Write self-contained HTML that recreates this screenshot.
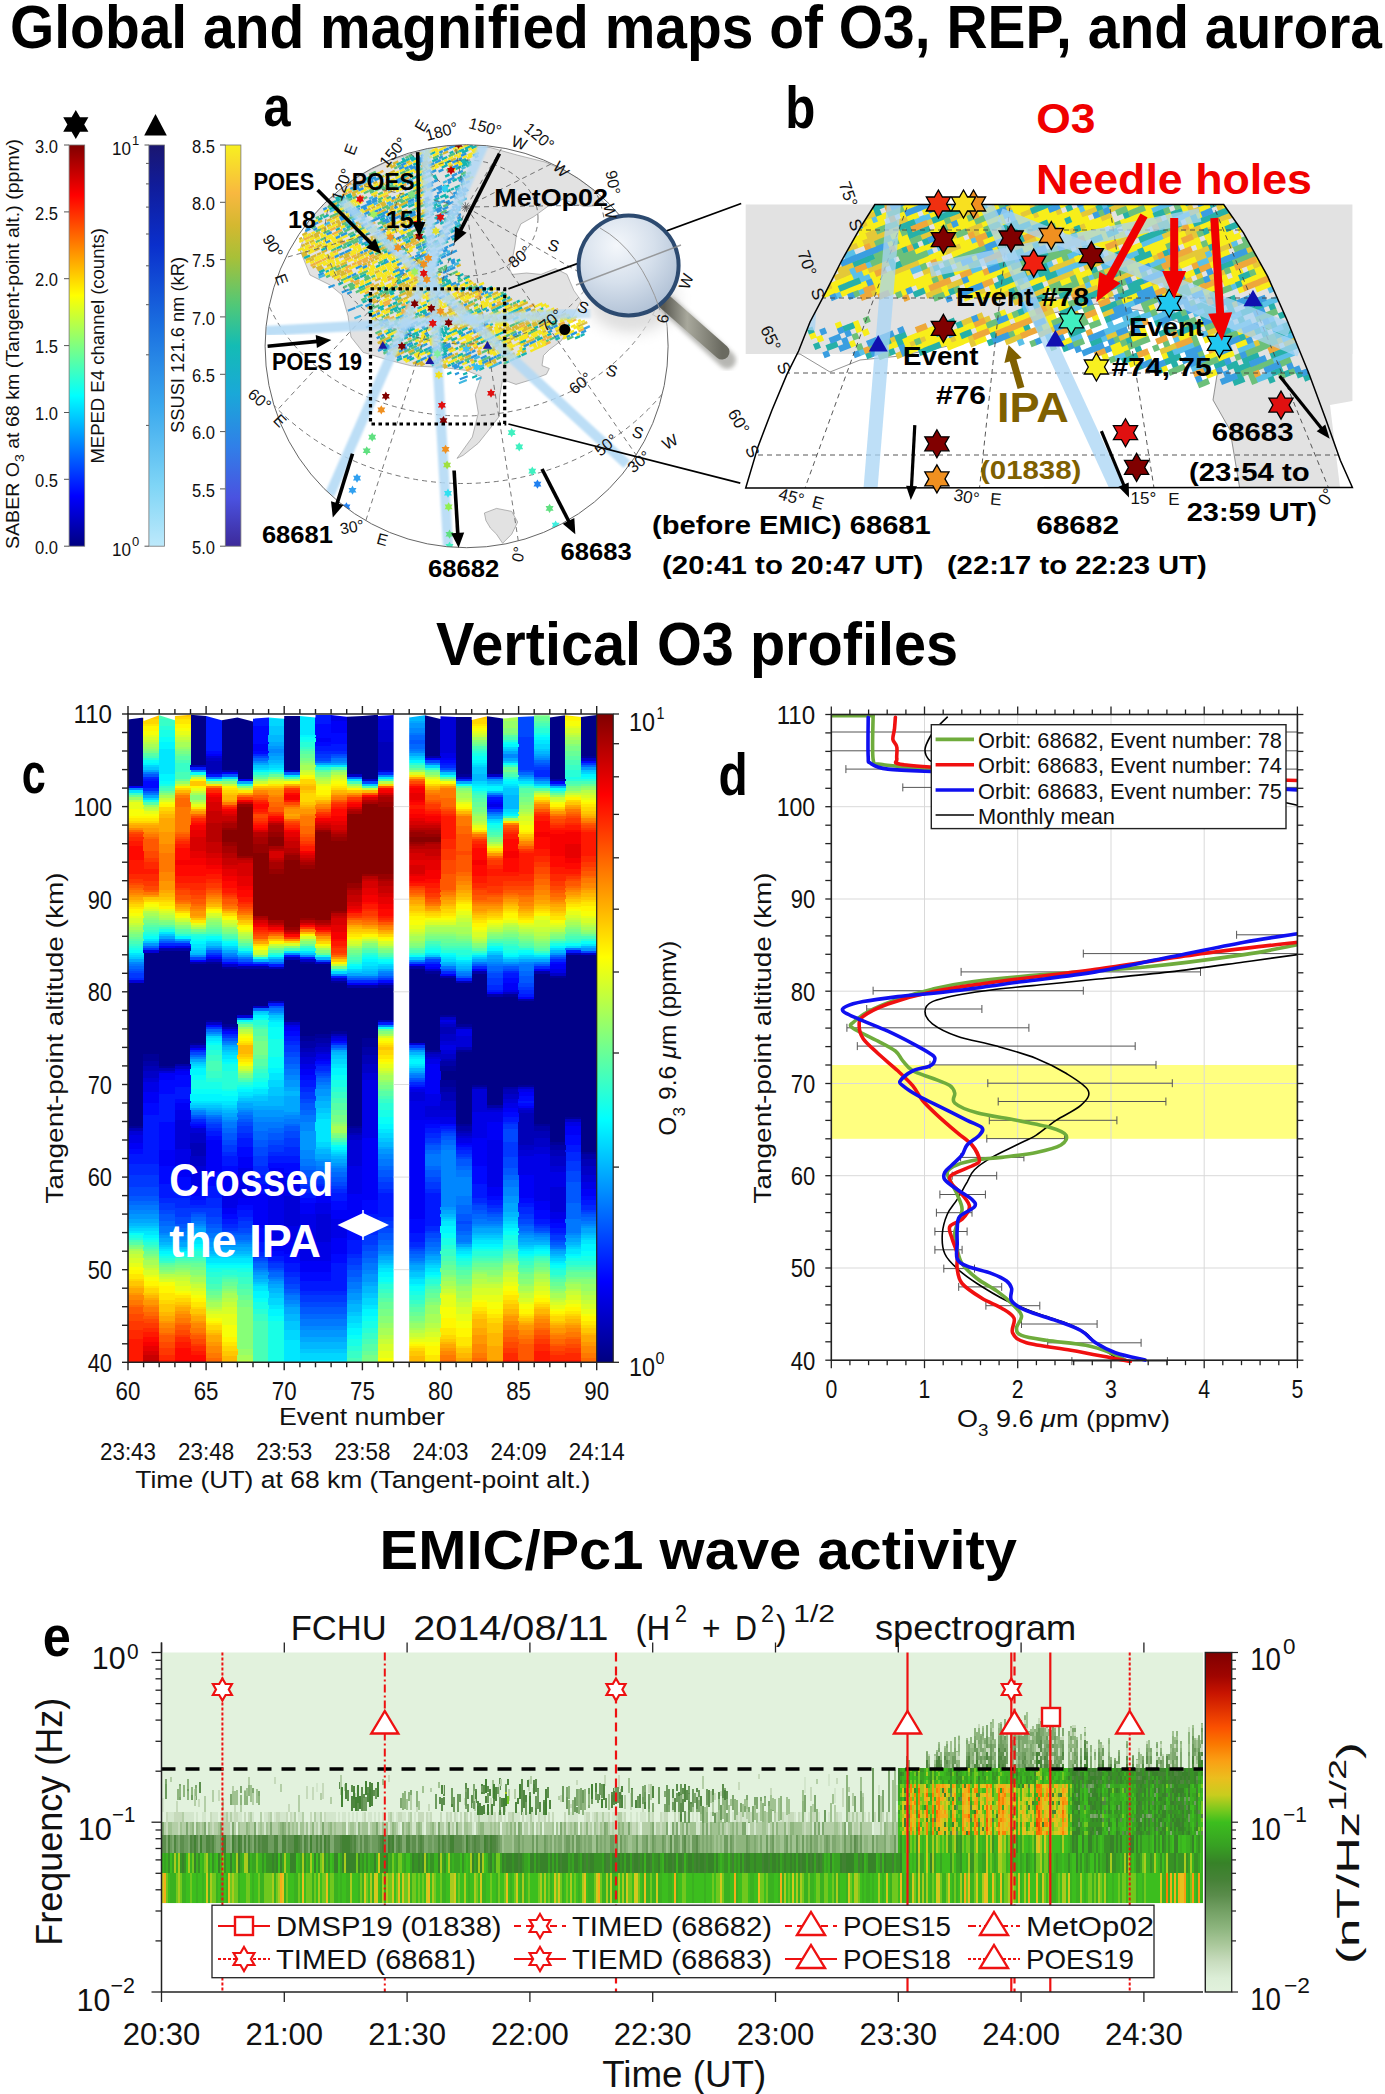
<!DOCTYPE html>
<html><head><meta charset="utf-8"><title>Figure</title><style>html,body{margin:0;padding:0;background:#fff;}svg{display:block;font-family:"Liberation Sans",sans-serif;}</style></head><body>
<svg width="1385" height="2094" viewBox="0 0 1385 2094" font-family="'Liberation Sans', sans-serif">
<rect width="1385" height="2094" fill="#fff"/>
<text x="10.0" y="48.0" font-size="62.0" font-weight="bold" fill="#000" textLength="1372.0" lengthAdjust="spacingAndGlyphs">Global and magnified maps of O3, REP, and aurora</text>
<text x="436.0" y="664.7" font-size="62.0" font-weight="bold" fill="#000" textLength="522.0" lengthAdjust="spacingAndGlyphs">Vertical O3 profiles</text>
<text x="379.6" y="1569.0" font-size="55.0" font-weight="bold" fill="#000" textLength="637.4" lengthAdjust="spacingAndGlyphs">EMIC/Pc1 wave activity</text>
<defs>
<pattern id="pa1" patternUnits="userSpaceOnUse" width="40" height="40" patternTransform="rotate(-25)"><path fill="#2a9fd8" d="M10 22h5v3h-5zM39 17h7v2h-7zM7 34h8v3h-8zM38 36h6v2h-6zM35 18h5v2h-5zM28 37h8v3h-8zM37 32h7v2h-7zM35 2h5v2h-5zM32 25h6v2h-6zM35 32h7v3h-7zM6 28h7v3h-7zM24 19h7v3h-7zM6 13h7v3h-7zM11 15h7v2h-7zM0 31h7v2h-7zM18 8h6v2h-6zM35 28h5v3h-5zM37 34h6v3h-6zM36 29h5v2h-5zM7 30h7v3h-7zM19 11h5v3h-5zM3 16h8v2h-8z"/><path fill="#f2d91c" d="M3 1h7v2h-7zM37 35h4v2h-4zM29 8h7v3h-7zM8 32h7v2h-7zM28 17h7v2h-7zM17 34h6v2h-6zM27 38h7v2h-7zM30 24h5v2h-5zM6 26h6v2h-6zM8 36h4v2h-4z"/><path fill="#3cb4a0" d="M40 19h7v2h-7zM27 37h7v3h-7zM25 19h7v2h-7zM18 34h5v2h-5zM37 9h7v3h-7zM1 30h5v2h-5zM10 19h4v3h-4zM1 34h4v3h-4zM30 37h6v2h-6zM9 28h8v2h-8zM19 29h7v2h-7zM38 19h5v2h-5zM10 35h5v2h-5zM31 30h5v3h-5zM32 11h7v3h-7zM21 5h6v2h-6zM27 23h5v3h-5zM11 4h4v3h-4zM22 23h7v3h-7zM12 34h6v3h-6zM20 28h6v2h-6zM25 14h4v2h-4zM28 15h6v2h-6z"/><path fill="#7cc85a" d="M6 25h7v3h-7zM3 34h8v2h-8zM8 21h7v2h-7zM35 37h5v3h-5zM4 24h4v2h-4zM31 20h7v2h-7zM10 7h5v3h-5zM3 20h8v2h-8zM21 23h5v2h-5zM37 29h7v2h-7zM24 9h4v2h-4zM37 15h6v2h-6zM39 9h6v2h-6z"/><path fill="#1fb0b5" d="M27 3h7v3h-7zM29 37h6v3h-6zM2 25h4v3h-4zM35 39h6v3h-6zM3 24h4v2h-4zM24 6h4v3h-4zM20 17h7v2h-7zM39 21h6v2h-6zM10 18h6v2h-6zM13 15h6v2h-6zM31 1h6v3h-6zM9 32h5v2h-5zM12 32h5v2h-5zM21 17h8v3h-8zM10 34h6v3h-6zM3 20h5v2h-5zM26 23h5v2h-5zM7 15h6v3h-6zM21 28h4v2h-4zM16 15h6v2h-6zM7 11h5v3h-5zM1 19h6v2h-6zM13 31h5v3h-5zM3 4h7v2h-7zM23 27h4v2h-4zM19 8h6v3h-6zM35 36h4v3h-4zM29 30h6v3h-6zM10 31h5v2h-5zM1 32h8v3h-8zM5 32h6v2h-6zM9 3h6v3h-6zM20 2h4v2h-4zM11 32h6v3h-6zM10 11h7v3h-7zM26 36h5v3h-5zM32 37h8v2h-8zM18 36h7v2h-7zM24 33h5v3h-5z"/><path fill="#f0b030" d="M1 35h6v3h-6zM16 6h5v3h-5zM28 4h5v2h-5zM5 5h4v3h-4zM37 2h5v3h-5zM7 8h6v3h-6zM24 38h4v2h-4zM9 34h7v3h-7zM33 25h7v3h-7zM14 24h6v2h-6z"/><path fill="#40c0d0" d="M15 14h6v3h-6zM26 24h6v3h-6zM38 35h8v2h-8zM24 11h7v2h-7zM10 7h7v3h-7zM7 36h7v2h-7zM26 18h6v3h-6zM5 16h5v3h-5z"/><path fill="#f5e61e" d="M23 1h6v3h-6zM32 26h7v2h-7zM17 16h8v2h-8zM21 12h5v2h-5zM17 19h7v2h-7zM5 22h7v2h-7zM2 4h4v3h-4zM33 38h6v3h-6zM19 26h8v2h-8zM22 5h5v3h-5zM26 18h5v2h-5zM22 31h5v3h-5zM4 2h4v2h-4zM12 19h7v2h-7zM6 18h5v2h-5zM16 7h4v2h-4zM28 2h6v2h-6zM39 9h4v2h-4zM4 27h8v3h-8zM1 4h5v2h-5zM1 19h7v3h-7zM4 3h7v2h-7zM24 32h6v2h-6z"/><path fill="#1e88d0" d="M30 1h4v3h-4zM3 33h4v2h-4z"/></pattern>
<pattern id="pa2" patternUnits="userSpaceOnUse" width="40" height="40" patternTransform="rotate(-25)"><path fill="#f5e61e" d="M29 3h5v2h-5zM31 39h4v2h-4zM24 3h4v2h-4zM37 35h6v2h-6zM40 24h5v3h-5zM29 21h6v2h-6z"/><path fill="#3cb4a0" d="M22 29h6v3h-6zM16 34h7v3h-7zM36 7h8v3h-8zM10 14h8v2h-8zM36 33h5v2h-5zM35 8h6v2h-6zM16 7h5v2h-5zM14 4h5v2h-5zM10 28h5v3h-5zM7 30h6v3h-6zM20 23h5v3h-5zM22 35h6v2h-6zM33 30h5v2h-5zM32 29h8v2h-8zM15 35h7v3h-7zM17 32h5v3h-5zM30 6h6v3h-6zM4 13h6v3h-6zM23 11h7v3h-7zM32 20h4v3h-4z"/><path fill="#2a9fd8" d="M9 14h8v2h-8zM35 39h6v3h-6zM17 38h8v3h-8zM15 6h5v2h-5zM22 14h7v2h-7zM1 26h8v3h-8zM27 37h7v3h-7zM18 38h5v2h-5zM28 36h4v3h-4zM11 38h8v2h-8zM33 35h4v3h-4zM23 19h6v2h-6zM27 21h7v2h-7zM18 6h6v2h-6zM11 5h6v3h-6zM26 11h8v2h-8zM21 35h8v3h-8zM2 34h6v3h-6zM28 14h5v3h-5zM18 27h4v3h-4zM33 7h5v2h-5zM40 3h4v2h-4zM36 5h6v3h-6zM16 8h5v2h-5zM15 34h7v2h-7zM23 4h6v3h-6zM33 8h4v3h-4zM28 23h6v2h-6zM16 23h4v2h-4zM8 20h5v2h-5zM30 7h7v2h-7zM8 6h8v3h-8zM0 3h7v2h-7zM11 28h5v2h-5zM13 39h4v3h-4zM18 32h5v2h-5z"/><path fill="#7cc85a" d="M3 9h5v3h-5zM9 8h4v3h-4zM25 3h6v3h-6zM39 28h4v2h-4zM19 7h7v2h-7zM30 20h8v3h-8z"/><path fill="#1fb0b5" d="M31 16h8v3h-8zM37 7h4v3h-4zM21 26h4v3h-4zM17 14h7v3h-7zM4 12h6v2h-6zM0 5h6v3h-6zM12 10h7v2h-7zM20 33h6v2h-6zM1 23h6v2h-6zM21 36h8v3h-8zM37 7h6v3h-6zM34 25h7v2h-7zM38 3h5v2h-5zM22 2h5v3h-5zM6 2h7v2h-7zM15 4h6v3h-6zM7 39h7v2h-7zM15 26h8v3h-8zM9 19h7v3h-7zM39 26h6v2h-6zM31 36h7v3h-7zM29 14h6v3h-6zM13 29h5v2h-5zM19 17h5v3h-5zM30 9h6v3h-6zM16 2h5v3h-5zM6 5h6v3h-6zM32 18h7v2h-7zM12 1h4v2h-4zM25 18h5v3h-5z"/><path fill="#40c0d0" d="M31 28h8v3h-8zM2 17h7v3h-7zM5 6h5v2h-5zM33 8h6v3h-6zM8 2h8v2h-8zM9 22h8v2h-8zM13 11h4v3h-4zM21 29h7v3h-7zM19 36h5v2h-5zM2 17h5v2h-5zM9 33h8v2h-8zM25 18h4v3h-4zM15 2h6v3h-6z"/><path fill="#f0b030" d="M35 32h5v2h-5zM32 10h5v3h-5zM22 16h5v2h-5zM13 1h5v3h-5z"/><path fill="#1e88d0" d="M2 8h7v2h-7zM21 7h5v3h-5zM3 8h8v3h-8zM5 1h7v3h-7zM15 13h5v3h-5zM37 34h7v2h-7zM9 33h8v2h-8zM12 36h8v3h-8zM11 13h8v2h-8zM23 20h5v2h-5z"/><path fill="#f2d91c" d="M17 14h4v3h-4zM11 5h5v3h-5zM9 15h6v2h-6zM17 25h7v2h-7zM1 37h6v3h-6z"/></pattern>
<pattern id="pa3" patternUnits="userSpaceOnUse" width="40" height="40" patternTransform="rotate(-25)"><path fill="#f2d91c" d="M15 40h4v2h-4zM10 37h6v2h-6zM37 17h7v3h-7zM30 38h6v2h-6zM29 4h7v2h-7zM36 37h6v2h-6zM22 16h5v2h-5zM22 19h6v2h-6zM9 7h8v2h-8zM31 12h7v2h-7zM33 27h4v2h-4zM23 20h7v3h-7zM3 22h5v3h-5zM34 2h5v2h-5zM14 20h7v3h-7zM26 19h5v3h-5zM5 32h8v3h-8zM28 9h7v3h-7zM27 8h6v3h-6zM39 15h7v3h-7zM3 39h6v2h-6zM3 24h5v2h-5zM12 37h8v2h-8zM28 8h7v3h-7zM23 12h5v3h-5zM4 39h6v3h-6zM12 13h8v2h-8zM5 9h8v2h-8zM38 39h7v2h-7zM27 1h7v2h-7zM38 30h5v2h-5zM30 21h5v3h-5zM15 26h4v2h-4zM11 21h6v2h-6zM19 28h4v3h-4z"/><path fill="#f5e61e" d="M0 28h7v3h-7zM27 12h6v2h-6zM5 25h4v3h-4zM2 10h6v3h-6zM7 4h5v3h-5zM35 23h5v2h-5zM29 30h5v3h-5zM17 13h6v3h-6zM11 3h8v2h-8zM38 9h8v2h-8zM8 37h5v3h-5zM14 7h5v2h-5zM31 18h7v2h-7zM34 15h5v2h-5zM34 34h8v3h-8zM30 25h7v3h-7zM5 29h7v3h-7zM24 16h8v2h-8zM20 21h6v3h-6zM18 28h5v2h-5zM22 23h4v2h-4zM23 10h7v3h-7zM30 9h8v2h-8zM10 34h7v3h-7zM37 28h6v3h-6zM12 5h5v3h-5zM14 25h5v3h-5zM18 26h7v3h-7zM1 32h6v3h-6zM6 34h7v3h-7zM33 0h6v2h-6zM12 33h5v2h-5zM14 35h6v2h-6zM25 33h5v2h-5zM22 17h4v2h-4zM36 9h8v3h-8zM4 37h4v3h-4zM2 38h5v2h-5zM34 33h7v2h-7zM6 22h5v3h-5zM23 22h7v2h-7zM26 36h7v3h-7zM28 25h8v2h-8zM6 0h8v2h-8zM6 30h4v2h-4zM33 23h4v3h-4zM14 40h7v3h-7zM2 18h8v2h-8zM12 36h5v2h-5zM6 21h5v3h-5zM34 23h5v3h-5zM5 1h6v3h-6zM18 11h6v3h-6zM10 36h5v2h-5zM20 10h5v2h-5zM18 15h4v3h-4zM38 26h5v2h-5zM26 33h6v3h-6zM7 10h7v2h-7zM21 28h5v3h-5zM18 30h6v2h-6zM19 1h5v3h-5z"/><path fill="#1fb0b5" d="M39 8h4v3h-4zM9 22h6v2h-6zM36 16h5v3h-5zM7 34h6v2h-6zM7 32h5v2h-5zM32 40h7v3h-7zM8 21h8v2h-8zM9 29h6v2h-6zM32 19h7v2h-7zM3 10h7v2h-7zM17 9h4v3h-4zM12 33h4v3h-4zM25 12h7v3h-7zM34 10h5v2h-5zM5 22h6v3h-6zM16 8h7v3h-7zM18 25h4v3h-4zM9 20h6v2h-6zM34 34h5v2h-5zM36 25h5v2h-5z"/><path fill="#2a9fd8" d="M31 20h7v2h-7zM20 38h4v2h-4zM10 19h5v2h-5zM9 9h5v3h-5zM20 17h5v2h-5zM5 34h6v3h-6zM26 18h7v3h-7zM38 18h6v2h-6zM2 32h5v2h-5zM27 15h6v2h-6zM11 8h7v3h-7zM1 11h7v3h-7zM7 28h5v2h-5zM14 26h8v3h-8zM10 36h5v2h-5zM11 32h4v2h-4zM10 15h6v2h-6zM30 24h6v2h-6zM25 39h6v3h-6z"/><path fill="#3cb4a0" d="M19 24h4v2h-4zM15 4h7v2h-7zM11 26h4v2h-4zM2 20h8v2h-8zM31 12h4v3h-4zM30 16h8v3h-8zM27 35h7v3h-7zM34 33h6v3h-6zM18 5h8v3h-8zM24 5h5v2h-5zM33 33h8v2h-8zM6 4h6v2h-6zM12 39h8v2h-8zM24 14h7v3h-7z"/><path fill="#7cc85a" d="M29 37h5v3h-5zM12 34h8v3h-8zM21 28h5v2h-5zM7 33h7v3h-7zM16 8h7v2h-7zM21 11h8v3h-8zM17 35h6v2h-6zM39 0h5v2h-5zM18 36h7v2h-7zM38 25h8v3h-8zM18 22h8v3h-8zM12 29h6v2h-6zM21 25h6v3h-6zM1 10h8v2h-8zM14 4h8v3h-8z"/><path fill="#f0b030" d="M29 39h5v3h-5zM5 24h8v2h-8zM36 17h5v2h-5zM10 5h6v2h-6zM29 7h8v2h-8zM3 36h4v2h-4zM0 2h5v2h-5zM17 28h4v3h-4zM38 35h6v3h-6zM23 33h5v2h-5zM23 38h7v3h-7zM34 24h5v3h-5zM26 11h8v2h-8zM25 1h4v3h-4zM12 28h6v3h-6zM4 9h7v3h-7zM23 3h7v2h-7zM17 38h5v2h-5zM10 7h7v2h-7zM33 15h5v2h-5zM18 14h5v2h-5zM31 18h8v3h-8zM6 13h7v2h-7zM4 21h5v3h-5zM3 11h4v2h-4z"/><path fill="#1e88d0" d="M1 38h5v2h-5zM3 10h5v2h-5zM14 36h6v2h-6zM23 25h5v2h-5zM8 7h7v2h-7zM20 30h5v3h-5z"/><path fill="#40c0d0" d="M2 36h5v2h-5zM4 14h6v2h-6zM25 5h6v2h-6zM34 16h4v3h-4z"/></pattern>
<pattern id="pa4" patternUnits="userSpaceOnUse" width="40" height="40" patternTransform="rotate(-25)"><path fill="#40c0d0" d="M3 34h5v3h-5zM31 12h7v3h-7zM30 35h7v3h-7zM5 24h8v2h-8zM8 29h5v3h-5zM14 34h6v3h-6z"/><path fill="#1e88d0" d="M29 13h7v2h-7zM30 38h5v2h-5zM4 10h8v3h-8zM30 5h6v3h-6zM40 33h7v3h-7zM3 37h7v3h-7zM30 12h5v2h-5zM34 26h5v2h-5zM37 35h6v3h-6z"/><path fill="#2a9fd8" d="M12 25h5v3h-5zM24 13h7v3h-7zM39 5h7v3h-7zM5 26h7v2h-7zM17 1h5v2h-5zM24 11h5v2h-5zM21 24h8v2h-8zM0 36h5v3h-5zM18 6h5v3h-5zM24 34h7v3h-7zM35 38h6v2h-6zM15 30h6v2h-6zM29 30h4v2h-4z"/></pattern>
<pattern id="pb1" patternUnits="userSpaceOnUse" width="96" height="96" patternTransform="rotate(-22)"><path fill="#f8ee1a" d="M0 0h12v6h-12zM0 24h12v6h-12zM12 0h12v6h-12zM12 54h12v6h-12zM24 6h12v6h-12zM24 36h12v6h-12zM24 42h12v6h-12zM36 12h12v6h-12zM36 36h12v6h-12zM36 78h12v6h-12zM48 6h12v6h-12zM48 48h12v6h-12zM60 6h12v6h-12zM60 54h12v6h-12zM60 60h12v6h-12zM72 42h12v6h-12zM72 48h12v6h-12zM84 42h12v6h-12zM84 78h12v6h-12zM84 84h12v6h-12zM84 90h12v6h-12z"/><path fill="#45c090" d="M0 12h12v6h-12zM0 66h12v6h-12zM12 24h12v6h-12zM12 42h12v6h-12zM24 48h12v6h-12zM36 54h12v6h-12zM48 0h12v6h-12zM60 24h12v6h-12zM60 36h12v6h-12zM72 6h12v6h-12zM72 36h12v6h-12zM72 78h12v6h-12z"/><path fill="#8cc850" d="M0 18h12v6h-12zM12 6h12v6h-12zM24 54h12v6h-12zM36 0h12v6h-12zM36 66h12v6h-12zM36 84h12v6h-12zM60 66h12v6h-12zM72 0h12v6h-12zM72 18h12v6h-12zM84 48h12v6h-12zM84 54h12v6h-12z"/><path fill="#1e90d8" d="M0 30h12v6h-12zM12 12h12v6h-12zM12 30h12v6h-12zM24 12h12v6h-12zM24 72h12v6h-12zM36 18h12v6h-12zM36 90h12v6h-12zM48 54h12v6h-12zM48 78h12v6h-12zM72 72h12v6h-12zM84 18h12v6h-12z"/><path fill="#60c8e8" d="M0 36h12v6h-12zM0 42h12v6h-12zM84 66h12v6h-12z"/><path fill="#efe020" d="M0 48h12v6h-12zM24 84h12v6h-12zM24 90h12v6h-12zM36 30h12v6h-12zM36 42h12v6h-12zM36 60h12v6h-12zM48 84h12v6h-12zM48 90h12v6h-12zM60 30h12v6h-12zM72 30h12v6h-12zM72 90h12v6h-12zM84 0h12v6h-12zM84 6h12v6h-12z"/><path fill="#3aa0e0" d="M0 54h12v6h-12zM0 72h12v6h-12zM0 78h12v6h-12zM0 84h12v6h-12zM12 72h12v6h-12zM12 90h12v6h-12zM24 0h12v6h-12zM24 78h12v6h-12zM48 66h12v6h-12zM60 12h12v6h-12zM60 84h12v6h-12zM72 60h12v6h-12zM72 84h12v6h-12zM84 60h12v6h-12z"/><path fill="#f0a838" d="M12 18h12v6h-12zM12 60h12v6h-12zM12 66h12v6h-12zM12 78h12v6h-12zM12 84h12v6h-12zM24 24h12v6h-12zM36 48h12v6h-12zM48 18h12v6h-12zM60 90h12v6h-12zM72 12h12v6h-12zM84 30h12v6h-12zM84 36h12v6h-12zM84 72h12v6h-12z"/><path fill="#2ab0a8" d="M24 18h12v6h-12zM24 30h12v6h-12zM24 60h12v6h-12zM24 66h12v6h-12zM36 24h12v6h-12zM48 12h12v6h-12zM48 36h12v6h-12zM48 60h12v6h-12zM60 0h12v6h-12zM60 18h12v6h-12zM60 42h12v6h-12zM60 48h12v6h-12zM60 72h12v6h-12zM60 78h12v6h-12zM72 24h12v6h-12zM72 54h12v6h-12zM84 12h12v6h-12z"/></pattern>
<pattern id="pb2" patternUnits="userSpaceOnUse" width="96" height="96" patternTransform="rotate(-18)"><path fill="#1e90d8" d="M0 0h12v6h-12zM0 6h12v6h-12zM0 18h12v6h-12zM12 30h12v6h-12zM12 66h12v6h-12zM12 90h12v6h-12zM24 18h12v6h-12zM36 18h12v6h-12zM36 24h12v6h-12zM60 60h12v6h-12zM60 72h12v6h-12zM72 12h12v6h-12zM72 36h12v6h-12zM72 78h12v6h-12zM84 12h12v6h-12z"/><path fill="#45c090" d="M0 30h12v6h-12zM0 36h12v6h-12zM0 90h12v6h-12zM12 0h12v6h-12zM24 0h12v6h-12zM24 24h12v6h-12zM24 48h12v6h-12zM48 24h12v6h-12zM48 54h12v6h-12zM48 60h12v6h-12zM60 66h12v6h-12zM72 18h12v6h-12zM72 60h12v6h-12zM72 84h12v6h-12zM84 18h12v6h-12z"/><path fill="#2ab0a8" d="M0 42h12v6h-12zM0 54h12v6h-12zM12 60h12v6h-12zM24 42h12v6h-12zM24 78h12v6h-12zM24 84h12v6h-12zM36 6h12v6h-12zM36 78h12v6h-12zM36 90h12v6h-12zM48 12h12v6h-12zM48 66h12v6h-12zM48 72h12v6h-12zM72 24h12v6h-12zM72 42h12v6h-12zM72 48h12v6h-12zM84 36h12v6h-12zM84 66h12v6h-12zM84 84h12v6h-12z"/><path fill="#3aa0e0" d="M0 48h12v6h-12zM0 60h12v6h-12zM0 66h12v6h-12zM0 84h12v6h-12zM12 24h12v6h-12zM24 6h12v6h-12zM24 12h12v6h-12zM24 60h12v6h-12zM36 0h12v6h-12zM36 60h12v6h-12zM36 84h12v6h-12zM48 18h12v6h-12zM48 36h12v6h-12zM48 84h12v6h-12zM60 12h12v6h-12zM60 24h12v6h-12zM60 78h12v6h-12zM72 6h12v6h-12zM84 54h12v6h-12z"/><path fill="#f0a838" d="M12 18h12v6h-12zM48 48h12v6h-12z"/><path fill="#60c8e8" d="M12 42h12v6h-12zM12 48h12v6h-12zM48 42h12v6h-12zM60 18h12v6h-12zM72 30h12v6h-12zM72 90h12v6h-12zM84 78h12v6h-12z"/><path fill="#8cc850" d="M24 30h12v6h-12zM36 30h12v6h-12zM48 78h12v6h-12zM72 66h12v6h-12zM84 6h12v6h-12zM84 24h12v6h-12zM84 42h12v6h-12zM84 90h12v6h-12z"/><path fill="#f8ee1a" d="M24 90h12v6h-12zM36 36h12v6h-12zM48 0h12v6h-12zM60 54h12v6h-12zM84 48h12v6h-12zM84 60h12v6h-12z"/><path fill="#efe020" d="M36 48h12v6h-12zM60 36h12v6h-12z"/></pattern>
<pattern id="pb3" patternUnits="userSpaceOnUse" width="96" height="96" patternTransform="rotate(-15)"><path fill="#60c8e8" d="M0 24h12v6h-12zM0 84h12v6h-12zM12 6h12v6h-12zM48 48h12v6h-12zM72 54h12v6h-12zM84 42h12v6h-12zM84 72h12v6h-12z"/><path fill="#45c090" d="M0 30h12v6h-12zM0 48h12v6h-12zM0 66h12v6h-12zM36 72h12v6h-12zM84 30h12v6h-12z"/><path fill="#3aa0e0" d="M0 36h12v6h-12zM0 54h12v6h-12zM24 24h12v6h-12zM24 54h12v6h-12zM24 84h12v6h-12zM36 18h12v6h-12zM48 24h12v6h-12zM48 60h12v6h-12zM48 90h12v6h-12zM60 42h12v6h-12zM60 72h12v6h-12zM72 0h12v6h-12zM72 72h12v6h-12zM84 6h12v6h-12z"/><path fill="#2ab0a8" d="M12 36h12v6h-12zM12 42h12v6h-12zM48 6h12v6h-12zM48 42h12v6h-12zM72 90h12v6h-12z"/><path fill="#1e90d8" d="M24 48h12v6h-12zM36 30h12v6h-12zM36 36h12v6h-12zM48 0h12v6h-12zM48 66h12v6h-12zM60 12h12v6h-12zM72 12h12v6h-12zM72 66h12v6h-12zM84 60h12v6h-12zM84 78h12v6h-12z"/><path fill="#f8ee1a" d="M24 66h12v6h-12zM36 60h12v6h-12zM60 6h12v6h-12z"/><path fill="#8cc850" d="M36 48h12v6h-12z"/></pattern>
<radialGradient id="lens" cx="0.38" cy="0.3" r="0.75"><stop offset="0" stop-color="#f4f7fb"/><stop offset="0.5" stop-color="#d6e0ec"/><stop offset="1" stop-color="#aebfd4"/></radialGradient>
<linearGradient id="handle" x1="0" y1="0" x2="1" y2="0"><stop offset="0" stop-color="#5a5a52"/><stop offset="0.4" stop-color="#a8a89c"/><stop offset="1" stop-color="#6a6a60"/></linearGradient>
<radialGradient id="shadow" cx="0.5" cy="0.5" r="0.5"><stop offset="0.6" stop-color="#d8d8d8" stop-opacity="0.8"/><stop offset="1" stop-color="#ffffff" stop-opacity="0"/></radialGradient>
<filter id="blur1" x="-20%" y="-20%" width="140%" height="140%"><feGaussianBlur stdDeviation="1.2"/></filter>
<filter id="blur2" x="-20%" y="-20%" width="140%" height="140%"><feGaussianBlur stdDeviation="2"/></filter>
<filter id="blur4" x="-30%" y="-30%" width="160%" height="160%"><feGaussianBlur stdDeviation="5"/></filter>
</defs>
<defs>
<linearGradient id="cb1" x1="0" y1="1" x2="0" y2="0"><stop offset="0.000" stop-color="#000080"/><stop offset="0.125" stop-color="#0000ff"/><stop offset="0.250" stop-color="#0080ff"/><stop offset="0.375" stop-color="#00ffff"/><stop offset="0.500" stop-color="#80ff80"/><stop offset="0.625" stop-color="#ffff00"/><stop offset="0.750" stop-color="#ff8000"/><stop offset="0.875" stop-color="#ff0000"/><stop offset="1.000" stop-color="#800000"/></linearGradient>
<linearGradient id="cb2" x1="0" y1="1" x2="0" y2="0"><stop offset="0.000" stop-color="#bde9fb"/><stop offset="0.150" stop-color="#7fd5f6"/><stop offset="0.350" stop-color="#3aa8ee"/><stop offset="0.550" stop-color="#1a6fe0"/><stop offset="0.750" stop-color="#0a2fcc"/><stop offset="0.900" stop-color="#101c9a"/><stop offset="1.000" stop-color="#1a1670"/></linearGradient>
<linearGradient id="cb3" x1="0" y1="1" x2="0" y2="0"><stop offset="0.000" stop-color="#3d2a9a"/><stop offset="0.120" stop-color="#4a52e0"/><stop offset="0.250" stop-color="#3080e8"/><stop offset="0.380" stop-color="#1aa8d8"/><stop offset="0.500" stop-color="#14bcb4"/><stop offset="0.600" stop-color="#50c878"/><stop offset="0.720" stop-color="#a8c038"/><stop offset="0.800" stop-color="#d4b830"/><stop offset="0.880" stop-color="#f8b840"/><stop offset="1.000" stop-color="#f8f020"/></linearGradient>
</defs>
<rect x="69.1" y="145.0" width="15.6" height="401.2" fill="url(#cb1)" stroke="#777" stroke-width="0.80" />
<rect x="148.9" y="145.0" width="15.6" height="401.2" fill="url(#cb2)" stroke="#777" stroke-width="0.80" />
<rect x="225.3" y="145.0" width="15.6" height="401.2" fill="url(#cb3)" stroke="#777" stroke-width="0.80" />
<line x1="64.0" y1="145.0" x2="69.1" y2="145.0" stroke="#555" stroke-width="1.00" />
<text x="58.0" y="152.6" font-size="18.0" text-anchor="end" fill="#111" textLength="23.0" lengthAdjust="spacingAndGlyphs">3.0</text>
<line x1="64.0" y1="211.9" x2="69.1" y2="211.9" stroke="#555" stroke-width="1.00" />
<text x="58.0" y="219.5" font-size="18.0" text-anchor="end" fill="#111" textLength="23.0" lengthAdjust="spacingAndGlyphs">2.5</text>
<line x1="64.0" y1="278.7" x2="69.1" y2="278.7" stroke="#555" stroke-width="1.00" />
<text x="58.0" y="286.3" font-size="18.0" text-anchor="end" fill="#111" textLength="23.0" lengthAdjust="spacingAndGlyphs">2.0</text>
<line x1="64.0" y1="345.6" x2="69.1" y2="345.6" stroke="#555" stroke-width="1.00" />
<text x="58.0" y="353.2" font-size="18.0" text-anchor="end" fill="#111" textLength="23.0" lengthAdjust="spacingAndGlyphs">1.5</text>
<line x1="64.0" y1="412.5" x2="69.1" y2="412.5" stroke="#555" stroke-width="1.00" />
<text x="58.0" y="420.1" font-size="18.0" text-anchor="end" fill="#111" textLength="23.0" lengthAdjust="spacingAndGlyphs">1.0</text>
<line x1="64.0" y1="479.3" x2="69.1" y2="479.3" stroke="#555" stroke-width="1.00" />
<text x="58.0" y="486.9" font-size="18.0" text-anchor="end" fill="#111" textLength="23.0" lengthAdjust="spacingAndGlyphs">0.5</text>
<line x1="64.0" y1="546.2" x2="69.1" y2="546.2" stroke="#555" stroke-width="1.00" />
<text x="58.0" y="553.8" font-size="18.0" text-anchor="end" fill="#111" textLength="23.0" lengthAdjust="spacingAndGlyphs">0.0</text>
<line x1="220.0" y1="145.0" x2="225.3" y2="145.0" stroke="#555" stroke-width="1.00" />
<text x="215.0" y="152.6" font-size="18.0" text-anchor="end" fill="#111" textLength="23.0" lengthAdjust="spacingAndGlyphs">8.5</text>
<line x1="220.0" y1="202.3" x2="225.3" y2="202.3" stroke="#555" stroke-width="1.00" />
<text x="215.0" y="209.9" font-size="18.0" text-anchor="end" fill="#111" textLength="23.0" lengthAdjust="spacingAndGlyphs">8.0</text>
<line x1="220.0" y1="259.6" x2="225.3" y2="259.6" stroke="#555" stroke-width="1.00" />
<text x="215.0" y="267.2" font-size="18.0" text-anchor="end" fill="#111" textLength="23.0" lengthAdjust="spacingAndGlyphs">7.5</text>
<line x1="220.0" y1="316.9" x2="225.3" y2="316.9" stroke="#555" stroke-width="1.00" />
<text x="215.0" y="324.5" font-size="18.0" text-anchor="end" fill="#111" textLength="23.0" lengthAdjust="spacingAndGlyphs">7.0</text>
<line x1="220.0" y1="374.3" x2="225.3" y2="374.3" stroke="#555" stroke-width="1.00" />
<text x="215.0" y="381.9" font-size="18.0" text-anchor="end" fill="#111" textLength="23.0" lengthAdjust="spacingAndGlyphs">6.5</text>
<line x1="220.0" y1="431.6" x2="225.3" y2="431.6" stroke="#555" stroke-width="1.00" />
<text x="215.0" y="439.2" font-size="18.0" text-anchor="end" fill="#111" textLength="23.0" lengthAdjust="spacingAndGlyphs">6.0</text>
<line x1="220.0" y1="488.9" x2="225.3" y2="488.9" stroke="#555" stroke-width="1.00" />
<text x="215.0" y="496.5" font-size="18.0" text-anchor="end" fill="#111" textLength="23.0" lengthAdjust="spacingAndGlyphs">5.5</text>
<line x1="220.0" y1="546.2" x2="225.3" y2="546.2" stroke="#555" stroke-width="1.00" />
<text x="215.0" y="553.8" font-size="18.0" text-anchor="end" fill="#111" textLength="23.0" lengthAdjust="spacingAndGlyphs">5.0</text>
<line x1="144.5" y1="546.2" x2="148.9" y2="546.2" stroke="#555" stroke-width="1.00" />
<line x1="146.0" y1="425.4" x2="148.9" y2="425.4" stroke="#555" stroke-width="1.00" />
<line x1="146.0" y1="354.8" x2="148.9" y2="354.8" stroke="#555" stroke-width="1.00" />
<line x1="146.0" y1="304.7" x2="148.9" y2="304.7" stroke="#555" stroke-width="1.00" />
<line x1="146.0" y1="265.8" x2="148.9" y2="265.8" stroke="#555" stroke-width="1.00" />
<line x1="146.0" y1="234.0" x2="148.9" y2="234.0" stroke="#555" stroke-width="1.00" />
<line x1="146.0" y1="207.1" x2="148.9" y2="207.1" stroke="#555" stroke-width="1.00" />
<line x1="146.0" y1="183.9" x2="148.9" y2="183.9" stroke="#555" stroke-width="1.00" />
<line x1="146.0" y1="163.4" x2="148.9" y2="163.4" stroke="#555" stroke-width="1.00" />
<line x1="144.5" y1="145.0" x2="148.9" y2="145.0" stroke="#555" stroke-width="1.00" />
<text x="112.0" y="155.0" font-size="18.0" fill="#111" textLength="19.0" lengthAdjust="spacingAndGlyphs">10</text>
<text x="132.0" y="145.0" font-size="13.0" fill="#111">1</text>
<text x="112.0" y="556.0" font-size="18.0" fill="#111" textLength="19.0" lengthAdjust="spacingAndGlyphs">10</text>
<text x="132.0" y="546.0" font-size="13.0" fill="#111">0</text>
<path d="M75.8 109.9 L80.0 117.2 L88.4 117.2 L84.2 124.4 L88.4 131.7 L80.0 131.7 L75.8 138.9 L71.6 131.7 L63.2 131.7 L67.4 124.4 L63.2 117.2 L71.6 117.2 Z" fill="#000" stroke-linejoin="miter"/>
<path d="M155.5 114.0 L166.8 135.5 L144.2 135.5 Z" fill="#000" />
<text transform="translate(18.5 549) rotate(-90)" x="0" y="0" font-size="18" fill="#111" textLength="410" lengthAdjust="spacingAndGlyphs">SABER  O<tspan dy="5" font-size="13">3</tspan><tspan dy="-5"> at 68 km (Tangent-point alt.) (ppmv)</tspan></text>
<text x="104.5" y="463.6" font-size="18.0" fill="#111" textLength="235.6" lengthAdjust="spacingAndGlyphs" transform="rotate(-90.0 104.5 463.6)">MEPED E4 channel (counts)</text>
<text x="184.0" y="433.0" font-size="18.0" fill="#111" textLength="176.0" lengthAdjust="spacingAndGlyphs" transform="rotate(-90.0 184.0 433.0)">SSUSI 121.6 nm (kR)</text>
<defs><clipPath id="gclip"><circle cx="466.6" cy="346.2" r="201.5"/></clipPath></defs>
<g clip-path="url(#gclip)">
<path d="M438.9 146.0 L490.4 147.6 L517.7 155.2 L545.0 162.0 L570.0 173.0 L590.0 187.0 L606.0 205.0 L584.0 206.5 L570.0 202.0 L562.7 199.3 L549.7 205.0 L533.9 216.6 L520.9 223.9 L516.5 234.0 L515.0 245.5 L512.2 260.0 L509.3 268.6 L512.2 274.4 L526.6 273.0 L541.0 274.4 L555.5 268.6 L567.0 274.4 L570.0 281.6 L573.9 290.5 L581.0 300.6 L575.0 312.0 L568.0 325.0 L566.0 334.0 L561.0 341.0 L555.0 345.4 L549.3 349.7 L543.5 355.5 L542.0 365.6 L549.3 368.5 L546.4 374.3 L534.9 378.6 L516.0 384.4 L502.6 379.5 L499.5 397.7 L499.5 416.0 L490.4 428.0 L478.3 443.2 L463.2 455.3 L457.0 458.4 L472.3 437.0 L478.3 413.0 L475.3 394.7 L481.3 376.5 L466.2 370.4 L442.0 367.4 L411.6 365.9 L387.4 359.8 L363.1 352.3 L351.0 337.0 L348.0 315.9 L342.0 295.0 L330.0 285.0 L310.0 275.0 L300.0 250.0 L310.0 215.0 L340.0 185.0 L390.0 160.0 Z" fill="#e2e2e2" stroke="#888" stroke-width="0.60" />
<path d="M484.4 513.0 L496.5 508.4 L511.7 511.4 L517.7 522.0 L511.7 534.2 L502.6 543.3 L496.5 534.2 L490.4 528.1 L485.9 520.5 Z" fill="#e2e2e2" stroke="#888" stroke-width="0.60" />
<g transform="rotate(-25 466 346)" fill="none" stroke-width="2.4"><path stroke="#58c07c" d="M450.5 150h3.7m0.1 0h3.6m32.7 0h3.5m0.3 0h3.6m-22 4.8h3.4m0.3 0h3.9m-54.8 2.4h3.6m32.3 0h3.3m-68.9 4.8h3.7m6.7 0h6.9m0.1 0h5.3m52 0h4.2m1.1 0h6.2m0.4 0h3.9m25.8 0h6.4m1 0h3m-106.5 2.4h5.7m0.6 0h4.8m7.6 0h5.3m0.4 0h5.8m-65.7 2.4h3.6m1.1 0h4.5m13.4 0h3.4m1 0h4.2m28.7 0h4.7m0.6 0h6.4m0.2 0h3.9m0.7 0h5.4m32.5 0h4.5m27.8 0h6.9m0.9 0h4m-107 2.4h4.3m16.7 0h4.6m0.5 0h6.9m-71.2 2.4h3m0.1 0h6.5m1 0h5.7m1 0h6.6m29.5 0h5.2m9.8 0h6.3m-95.9 2.4h4.7m67.6 2.4h5.1m43.2 0h6m0.3 0h5.1m-129.7 2.4h6.1m62.9 0h3.9m5.2 0h5m61.3 0h5.5m-116.4 2.4h6.4m0.1 0h3.4m0.2 0h5.2m-42.4 2.4h6.9m13.6 0h4.7m68.7 0h4.1m0.2 0h4.7m0.7 0h4.3m0.7 0h6.3m-92.5 2.4h3.9m21.6 0h4.3m11.5 0h6.7m6.3 0h3m0.3 0h6.2m-96.9 2.4h4.5m0.6 0h5.1m67.8 0h4.2m11.3 0h4.8m0.5 0h3.9m0.1 0h6.1m51.3 0h5.6m-141.7 2.4h5m1.1 0h6.7m129 0h4.3m-114.4 2.4h3.1m-26.6 2.4h6.4m1.2 0h6.7m0.1 0h4m35.6 0h5.1m-27.6 2.4h6.1m-2.6 2.4h4.8m17.9 0h3.9m0.5 0h6m0.3 0h4.3m0.2 0h4m0.8 0h5.1m-104.9 2.4h5.8m7.6 0h6.6m0.1 0h4.9m0.2 0h4.9m38 0h3m-59.8 2.4h4.6m6.6 0h6.6m28.9 0h4.8m15.1 0h5.1m-19.5 4.8h3.9m52.9 0h6.1m-84.9 2.4h5.9m29.1 0h6.3m52.3 0h3.4m-23.1 2.4h6.4m14.1 0h3.6m-148.5 4.8h3.5m0.3 0h3.2m49.6 0h5.8m0.4 0h6.9m14.7 0h4.3m0.2 0h6.1m-90.3 2.4h5.9m0.6 0h6.6m60.6 0h5.7m0.3 0h6.3m-97.3 2.4h4.5m49.7 0h6.6m0.9 0h6.7m5.4 0h4.5m24.2 0h6m6 4.8h6.7m-40.8 2.4h3.9m-72.4 2.4h4m0 0h3.2m34 0h5.5m24 0h3.3m8.6 0h5.9m0.8 0h5.5m-83.5 2.4h6.9m1.1 0h4.8m0 0h4.4m54.5 2.4h4.4m-88.1 2.4h4m0.8 0h5.8m12.4 0h5.1m67.7 0h4.5m-94.8 2.4h6.1m10.6 0h6.6m1 0h4.1m8.5 0h4.3m53.1 0h6.3m-101.9 2.4h6.2m-1.2 4.8h4m0.1 0h6.6m66.9 0h4.4m0.5 0h4.7m-44.3 4.8h5.8m-24.1 2.4h4.2m12.6 0h4.8m-44.6 2.4h5.9m5.6 2.4h5.1m0.8 0h4.4m0.3 0h6.8m0.1 0h6.1m0.1 0h3.7m35.6 0h4.8m-54.3 2.4h3.4m54.1 0h5.5m0.7 0h3.6m-24.8 2.4h5.4m5.8 0h3.3m0.4 0h3.1m0.9 0h5.1m-85.1 2.4h3.4m28 0h5.9m-40.3 2.4h4.3m0.5 0h6m16.6 2.4h6.5m53.2 0h3.1m0.3 0h5.7m-70.6 4.8h3.2m0.1 0h3.8m37.6 0h5.5m0.9 0h3.4m-72.2 4.8h3.8m0.9 0h3.3m1.1 0h3.8m71.1 0h5.3m-93.4 2.4h4.5m15 0h5.1m38 0h5.8m-69.9 2.4h4.5m30.7 0h3.9m43.4 0h5.2m-82.1 2.4h4.6m-7 2.4h6.1m5.7 0h5.2m77.5 0h3.3m-107.9 2.4h6.7m14.2 0h3.8m81.8 0h6.1m-70.5 2.4h3.5m0.7 0h4.2m31 0h4.6m-71.6 2.4h6.7m55.4 0h5.6m-80.5 2.4h5.8m80.5 0h3.3m-45 2.4h5.5m3.6 0h4.1m0.4 0h4.5m-39.6 2.4h4.8m32.7 0h5.5m28.8 0h5.5m1 0h3.2m-94.7 2.4h5.7m0 0h3.9m93.8 0h6.5m-112.9 2.4h3.1m56.7 0h4.1m28.3 0h4.7m24.6 0h3.6m-116.7 2.4h3.2m48.6 0h4.8m0.6 0h3.3m13.8 0h6.3m23.7 0h3.9m0 0h3.1m-129.5 2.4h5.2m17.4 0h4.3m0.6 0h4.1m0.4 0h7m17.4 0h6.7m0.6 0h3.9m32.9 0h6.1m-64.2 4.8h6m0.8 0h4.8m32.7 0h3.2m-70.3 2.4h6.9m0.7 0h6.2m82.4 2.4h6.4m12.5 0h3m0.7 0h3.4m-118.7 2.4h6.4m0.7 0h6.7m111.3 0h3.3m-87.7 2.4h5.3m29.3 0h5m-66.2 2.4h4.8m80.4 4.8h5.7m-56.7 4.8h6.4m1.1 0h6.7m0.9 0h3.4m36.1 2.4h5.7m0.4 0h4.7m0.3 0h6.6m-64.6 2.4h3.1m-22.6 2.4h6.2m102.3 0h3.2m-103.1 2.4h6.4m42.3 0h5.8m0.6 0h6.5m12.2 0h4.2m-84.6 2.4h4.3m37.9 0h6.9m1.2 0h6.6m34.3 0h6.6m0.9 0h4m-93.8 2.4h6.9m12 0h5.6m0.1 0h6m25.1 0h6.6m5.4 2.4h6m0 0h5.4m-72.6 2.4h4.6m82.5 0h6m9.9 0h5.1m-100.3 2.4h6.6m0.1 0h4m48 2.4h5.4m-48.9 2.4h5.2m0.9 0h4.3m1 0h3.7m36.3 4.8h4.1m0.8 0h6.5m-58.1 2.4h3.4m64.4 4.8h6.9"/><path stroke="#d8b830" d="M469.5 150h6.1m1.2 0h5.9m-9.6 2.4h5.6m10.7 2.4h4.4m-56.6 2.4h3.1m1.1 0h3.9m14.3 0h4.3m4.8 0h6.7m-48.4 2.4h7m16.6 0h4.3m-52 2.4h6.4m17.1 0h4.1m72.6 0h6.4m16.9 0h5.7m9.3 0h3.1m-90.3 2.4h6.7m1.1 0h4.6m34.3 0h6.7m0.4 0h4.5m25.2 0h3.9m18.7 4.8h4.9m-180.7 2.4h4m57 0h3.5m81.9 0h5.3m-143.3 2.4h5m0.7 0h6.7m0.2 0h6.8m47.9 0h4.4m0.8 0h4.7m27 0h4.4m-137 2.4h5.3m156.3 0h4.4m-170.5 2.4h3.1m21 0h5.3m1.1 0h4.3m1.2 0h3.5m0.6 0h4.4m6 0h4.7m-44.4 2.4h3.7m0.5 0h6.9m19.2 0h3.6m0.6 0h5.1m20.9 0h6.2m1.1 0h4.1m1.2 0h3.9m0.5 0h5.2m-79.2 2.4h5.3m18.9 0h5.4m19 0h5.8m19.9 0h5m5.8 0h3.2m0.3 0h5.6m-109.4 2.4h3.6m0.5 0h4.1m0.9 0h4.9m45.1 2.4h3.5m13.6 0h4.2m0.3 0h5.7m0.2 0h5.3m5.1 0h3.4m0.4 0h5.9m-54.7 2.4h3.6m1.1 0h3.1m1.1 0h4.7m29.1 0h4.9m5.6 0h4m0 0h6.3m-118.8 2.4h6.6m10 0h5.6m-22.4 2.4h5.4m7.8 0h5.9m18.4 2.4h5.9m61.1 0h3.6m0.3 0h6.5m13.1 0h3.9m-130.4 2.4h5.5m0.4 0h5.7m0.8 0h4.3m0.8 0h5.7m-20.1 2.4h4.9m76.5 0h3.1m0.6 0h5.5m-61.8 2.4h5.1m24.3 0h4.4m23.7 0h4.7m0.1 0h3.5m12.4 0h3.1m-93.8 2.4h4.7m39.2 0h3.7m1.2 0h3.2m0.1 0h3.7m11.2 0h5.6m9.4 0h6.2m0.7 0h4.9m0.5 0h6.2m0.5 0h4.8m0 0h6.9m-129.2 2.4h3.6m60.5 0h3.2m1 0h4.3m0.6 0h3.5m0.5 0h3.1m11.4 0h3.4m-91.9 2.4h6.1m19.2 0h4.5m0.9 0h6.9m-37.4 2.4h6.5m3.9 0h4.4m14.2 0h6.3m82.2 0h3.1m-78.3 2.4h3.6m-27.5 2.4h3.7m1 0h7m8 0h6.1m0.3 0h3.9m0.4 0h3.6m0.7 0h4.5m0.8 0h4.7m52.7 0h3.8m-54.8 2.4h6m0 0h6.3m-60.8 2.4h5.4m52.1 0h3.7m23.8 0h5m-96 2.4h4.7m0.4 0h3.9m0.4 0h3.9m31.2 0h5.1m0.3 0h6.2m5.4 0h6.3m18.9 0h4.4m0.2 0h6.4m-89.3 2.4h6.6m17.8 0h4.5m0.8 0h3.1m0.7 0h3.5m1.1 0h4.1m28.9 0h4.8m0.4 0h3.7m0 0h3.7m-51.6 12h5.2m-27.8 2.4h4.6m37.5 2.4h4.9m-27.5 2.4h6.3m39.6 0h3.9m-37.6 2.4h4.2m25.9 0h4m0.3 0h5.1m-55.2 2.4h5.7m-6.8 2.4h4.2m27.7 0h4.4m6.4 2.4h6.4m-57.9 2.4h6.6m0.7 0h4.3m21.1 2.4h6.9m-27.8 2.4h5.7m11.2 0h6.7m0.5 0h6.5m0.8 0h4.8m0.5 0h4.2m-50.6 2.4h5.8m7 0h5.6m13.2 0h3.2m0.5 0h6m23.4 0h3.5m-9.2 2.4h3.8m28.6 0h4.4m-69.5 2.4h3.3m0.1 0h5.1m0.3 0h3.2m0.3 0h6.8m0.2 0h5.3m0.4 0h3.7m0.7 0h3.4m0.4 0h6.1m0.3 0h4.6m-36.8 2.4h6.3m24.1 0h3.6m1.2 0h4.5m-74.8 2.4h4.3m20.2 0h5.7m0.5 0h5.9m0.5 0h6.1m1.2 0h3.6m-38.3 2.4h6.2m0.4 0h4.5m-25.7 4.8h3.2m60.6 0h6.3m-60.4 2.4h6.1m57.8 0h6.2m5.8 0h4.3m-92.3 2.4h5m71.8 0h6.2m21.3 0h3.2m-75.3 2.4h4.3m28.3 0h6.3m18.4 0h3.7m0 0h3.5m-70.5 2.4h5.1m4.5 0h3.6m1 0h3.2m63.6 0h3m-18.1 2.4h4m4.9 0h3.7m-105.2 2.4h4.8m29.1 0h6.6m44.7 0h3.6m0.3 0h6.8m0.6 0h4.2m-79.8 2.4h7m0.4 0h3.4m16.5 0h3.1m8.4 0h4m35.1 0h4.7m0.4 0h5.6m0.2 0h4.4m-63.6 2.4h4.8m0.7 0h4m0.1 0h4.1m0.9 0h4.4m-72.9 2.4h6.9m0.2 0h7m10.5 0h3.5m49.9 0h5m5.7 0h5.8m1.1 0h5m-99.2 2.4h6.1m63.1 0h4.4m0.5 0h6m0.3 0h6.5m20.5 0h5.7m-46.6 2.4h6.6m12.3 0h6.2m0.7 0h6.5m0.1 0h4.7m19.1 0h6.6m-66.2 2.4h5m5.4 0h4.6m0.9 0h3.8m8.4 0h5m-9.1 2.4h4.1m-85.3 2.4h5.4m0.1 0h5.2m-4.8 4.8h3.2m21.2 0h4.6m34.4 0h6.7m0.9 0h3.1m15.9 0h5.2m8.6 0h5.5m0.2 0h5.5m0 0h5.5m0.7 0h6.1m-130.7 2.4h6.3m0.3 0h3.8m54 0h5.1m-55.5 2.4h6.4m48.5 0h4.6m0.2 0h3.9m0.2 0h3.8m19.1 2.4h5.2m15 0h6.8m0.9 0h5m-55.3 2.4h5m47.9 0h6.1m0.1 0h6.1m-37.8 2.4h3.8m-51.8 2.4h3.5m58.2 0h4.7m1.2 0h5.5m0.1 0h5.8m0.5 0h5.1m-128.9 2.4h3.9m69.2 0h3.5m1 0h3.3m0.1 0h7m17.5 0h6.4m1.2 0h4.5m-114.7 2.4h6.9m27.8 0h5.8m28.5 0h6.7m0.8 0h7m42.7 0h4.8m-127.9 2.4h4.6m80.7 0h4.2m27 0h4.4m-74.8 2.4h6.2m7.1 0h3.4m25.5 0h3.8m0.8 0h4.2m24.3 0h3.2m0.5 0h3.8m-109.6 2.4h4.7m1.2 0h6.5m0.2 0h3.4m0.8 0h3.1m8.1 0h3.3m41.9 0h5.6m0.8 0h6m1.2 0h6.6m0.7 0h3.6m7 0h5.3m-32.5 2.4h3.8m1 0h4.7m6.3 0h4.7m-99.8 2.4h6.4m84.1 0h5.4m5.2 0h5m0.7 0h4m0.9 0h3.9m0 0h5.3m-118.3 2.4h4.2m14 0h4.4m0.8 0h6.7m56.5 0h5.9m0.1 0h4.5m1.1 0h5.6m-67.1 2.4h3.8m12.6 0h7m11.5 0h6m27 0h6.2m0.4 0h5.2m11.5 0h6.2m-84.2 2.4h5.1m12.9 0h4.5m4.3 4.8h3.7m22.9 0h5m-41.4 2.4h4.4m9 0h4.5m0.8 0h5.6m0 0h3.4m27.4 0h6.7m-89.9 2.4h6.9m0.3 0h4.8m52.2 0h4.2m10 0h5.3m-79.5 2.4h3.2m0.9 0h3.3m13.7 0h6.4m6.9 2.4h4.5m37.4 0h5.6m0.6 0h5.9m6.1 0h5.1m0.1 0h6.8"/><path stroke="#14b4b0" d="M486.6 150h3m-44.9 2.4h5.1m29.9 0h4.7m0.2 0h5.5m0.1 0h3.7m0.4 0h4.8m-4.3 2.4h5.3m-90.1 2.4h6.7m97.5 0h5.9m-117.2 2.4h6.5m0.3 0h4.3m0.2 0h5.1m1.2 0h5.5m68.7 0h5.6m-78.7 2.4h4.6m37.8 0h3.7m29.3 0h5.1m-102.1 2.4h6.3m0.7 0h4.2m1 0h6.3m31.4 0h3.9m59.6 0h6.6m12.6 0h4.1m-70.6 2.4h6.3m7.2 0h5.2m0.4 0h5.8m31.7 0h6.2m13.2 0h5.2m1 0h5.2m0.1 0h3.3m-171.9 2.4h5.1m1 0h5.8m32.7 0h4.7m109.7 0h6.9m3.5 0h5.8m-83.7 2.4h6.8m4.5 0h5.1m0.2 0h5.9m0.7 0h3.1m21.2 0h6.5m-110.5 2.4h4.1m0.7 0h4.2m42.4 0h4.2m43.8 0h6.4m13 2.4h6.1m-64.1 2.4h6.3m0.1 0h6.7m13.4 0h3.7m28.7 0h6.8m-38.5 2.4h3.1m19.9 0h6.6m0.6 0h5.9m0.3 0h4.2m-79.4 2.4h4.1m0.5 0h3.9m41 0h4.7m18.8 0h5.7m-150.8 2.4h4.3m6.3 2.4h4.6m0.5 0h5m4.8 0h5.6m54.3 0h6.2m1.1 0h5.2m-54.5 2.4h6.2m35.2 0h3.8m37.8 0h4.7m0.7 0h5.6m0.8 0h3.1m-72 2.4h6.3m40 0h5.9m-77.1 2.4h5.1m25.9 0h6.7m31.4 0h5.2m-159.4 2.4h6.4m12.6 0h5.4m26.2 0h6.1m12.1 0h5.6m82.8 0h4.3m0.5 0h3.3m0.9 0h5.7m1.2 0h4.7m-45.7 2.4h3.3m6.5 0h6.2m1.1 0h6.3m-121.7 2.4h5.9m26.1 0h4.6m7.7 0h6.5m23.8 0h5m17.7 0h3.5m0.3 0h3.3m15 0h3.9m-113 2.4h5.2m90.2 0h4.3m-6.7 2.4h4.2m1 0h4.2m-88.9 2.4h4.1m61.6 0h5.7m-68.5 2.4h4.2m68 0h3.4m-72.2 2.4h5.1m0.1 0h6.6m0.1 0h4.2m0.6 0h4.6m0.7 0h3.2m-81.5 2.4h6.1m65.1 0h4.9m0.7 0h6.4m26.4 0h4.4m13.1 0h6.6m-127.5 2.4h3.4m54.3 0h3.2m39 0h4.4m-57.3 2.4h4.5m64.7 0h4.7m8.1 0h3.1m0.8 0h3.9m0.7 0h3.7m-51.8 2.4h4.8m29.9 0h4m0.7 0h4.6m0.8 0h5.8m-78.9 2.4h3.4m20.3 0h5.2m6.8 2.4h4.1m0.3 0h4.9m34.9 0h5.2m-42.6 2.4h3.1m-49.6 2.4h3.8m56 0h6.9m5.4 0h4.3m0.8 0h3.7m0 0h4.2m-136.1 2.4h5.1m36.4 0h4.5m0.9 0h5.6m18.3 0h4.5m48.4 0h3.4m-110.5 2.4h5.6m0.7 0h6.6m28.2 0h4.2m0.9 0h6m23.3 0h5.3m5.6 0h6.3m-15.2 4.8h3.7m12.7 0h3.9m0.3 0h3.1m4.2 0h3.1m-44.6 2.4h5m-68.7 2.4h6.7m0.7 0h6.8m23.6 0h3m-3.1 4.8h5.8m6.1 0h5.4m0.9 0h4.1m25 0h4.2m-33.2 2.4h6.6m1.1 0h3.2m-65.6 2.4h5.9m72.5 0h6.9m-69.2 2.4h3.7m0.9 0h3.5m11.3 0h5m0.5 0h5.1m23.1 0h3.8m18.4 0h3.7m-98.8 2.4h4.3m0.9 0h5.6m56.7 0h5.8m-58.9 2.4h3.6m10.4 0h6.9m67.5 0h3.8m-78.2 2.4h4.2m40.1 2.4h6.5m-78.5 4.8h5.3m5.4 0h6.6m43.8 0h3.6m0.8 0h5.9m-59.1 2.4h3.6m4.9 0h4.1m1.1 0h4.8m49.2 0h6.3m-28.4 2.4h4.2m0.8 0h4.5m0.4 0h4.3m11.5 0h4.8m7.9 0h6.3m-82.4 2.4h6.4m0 0h3.2m8.4 0h4.6m28.4 0h5m0.8 0h6.8m0.1 0h4.5m7 0h3m-74.1 2.4h3.6m0.7 0h3m0.5 0h5.3m6.4 0h6.1m51 0h6.6m-49.8 4.8h3.9m0.4 0h3.2m1.2 0h4.3m29 0h3.7m-81.1 2.4h4.7m19.3 0h4.7m1.2 0h4.5m21.7 0h3.3m-50.5 2.4h3.3m58.3 0h4.4m1 0h3.5m-59.9 2.4h4.2m1 0h6.7m-44.6 2.4h5.7m5.9 0h4.8m23.8 0h4.1m-46.5 2.4h5.4m100.5 2.4h3.1m1.2 0h6.3m-113 2.4h3.5m24.4 0h5.1m-39.2 2.4h6.7m17.7 0h6.9m-37.1 2.4h5.9m49.7 0h4m0.9 0h4.5m-47.7 2.4h4.8m1 0h4.2m1 0h3m0.5 0h6.7m0.7 0h4.5m0.8 0h5.7m-51 2.4h4.4m27.6 0h3.2m0.7 0h3.4m13.9 0h6.5m69.4 0h6.5m-119.2 2.4h4.4m66.3 0h5m1 0h5.3m-55 2.4h5m8.4 0h6.9m1.1 0h3.1m32.5 0h5.5m1.2 0h4.9m16.8 0h4.6m1 0h3.3m-112.8 2.4h4.9m0.8 0h4m19.3 0h3.1m0.9 0h5.3m1 0h5.5m-13.6 2.4h3.6m0.9 0h5.3m49.3 0h3.8m0.2 0h6.8m0.5 0h3.8m-70.2 2.4h3.2m1 0h5.8m0.3 0h5.2m65.9 0h3.3m-136.7 2.4h5.8m1.2 0h5.7m34.4 0h4.4m14.6 0h5.1m0.5 0h6.4m-54.3 2.4h4.4m0.6 0h4.1m11.6 0h3.6m19.3 0h4.5m23.5 0h6.3m-90.7 2.4h5.8m16.1 0h6.3m6.2 0h6.7m5.9 0h6.3m51.7 0h3.6m0.9 0h4.6m0.1 0h6.5m0.1 0h4.2m-103.8 2.4h4.8m0.5 0h4.6m0.4 0h6.8m48.8 0h4.6m-85.5 2.4h4.2m19.1 0h5.4m0.5 0h5.3m-5.8 2.4h4.9m71.9 0h6m-93.7 2.4h6.9m0.6 0h6.1m8.2 0h4.2m19.9 0h6.5m63.8 0h3.7m-125.2 4.8h3.3m0.6 0h3.9m40.7 0h5m0.6 0h5.7m0.5 0h3.2m0.2 0h5.1m0.6 0h4.8m0.3 0h6.9m-54 2.4h5.7m-19 4.8h3.4m0.7 0h3.4m85.2 2.4h5.9m-81.6 2.4h4.7m37.3 0h3.7m47.6 0h5.3m0.1 0h3.3m-109.7 2.4h4.2m62.2 2.4h6.3m10 4.8h5.9m5.4 0h4.3m16.8 0h3.7m-101.1 2.4h5.3m39.9 0h6.2m-23.6 4.8h3m1 0h4.9m0.7 0h6m1 0h5.7m31.8 0h4.7m13.5 7.2h5.6m0.6 0h4.3"/><path stroke="#40b8e0" d="M431.3 152.4h6.4m2.2 2.4h4.8m0.5 0h5.3m-51.2 12h6.5m34.6 4.8h4.4m39.2 0h3.1m-98 4.8h5.7m157.9 0h6.6m-117.4 2.4h4.5m-36.8 4.8h4.9m1 0h6.5m32.3 0h4.4m78.1 0h4.5m-86 2.4h5m-56.8 2.4h3.2m107.5 0h4.2m-82.2 2.4h3.7m33.4 2.4h6.9m0.7 0h4.6m-37.8 2.4h3.7m1 0h6.9m63.1 4.8h5.8m-68.7 2.4h5.2m30.5 0h3.5m0 0h3.7m21.9 0h3.2m-114.1 2.4h4.5m82.9 0h4.7m-93.2 2.4h4m101.6 0h4.5m0.9 0h6.9m-40.5 2.4h6.9m25.9 2.4h6.6m-55.5 2.4h6.2m23.3 2.4h7m2.6 2.4h6.1m-65.1 4.8h5.5m44.9 2.4h3.8m-0.8 4.8h5.5m-36.8 2.4h3.5m0.9 0h6.3m4 4.8h5.5m-35.8 2.4h3.8m0.5 0h4.3m4.2 4.8h6.7m-18.6 2.4h3.1m1 0h6.1m11.1 4.8h4.6m0.9 0h3.6m-9.6 14.4h6.4m1.1 0h5.3m-75.6 4.8h6.3m-7.1 19.2h4.5m-19.9 4.8h6.6m98.1 12h5.6m-64.3 7.2h3.4m-34.8 12h5.5m0.8 0h5.3m14 0h4.8m20 33.6h6.1m-15.3 4.8h3m1.1 0h4m1.9 4.8h5.7m3.1 4.8h5.7m0 0h5.1"/><path stroke="#f0b040" d="M438.6 152.4h5.6m17.3 0h3.6m-47.6 4.8h5.8m0.8 0h4.1m4.1 9.6h4.1m44.6 2.4h4.4m-28.9 2.4h4m15.4 2.4h4.4m-26.3 2.4h5.6m-95.4 4.8h6.4m21.3 2.4h6m79.1 2.4h6.1m1 0h4m0.7 0h4.1m0.4 0h3.9m-105.3 2.4h5.4m0 0h5.3m-38.2 2.4h6.2m59.9 4.8h5.5m20.7 2.4h3.3m-64.7 2.4h5.5m76.9 2.4h3.4m-96.1 2.4h3.5m48.5 0h3.8m-81.7 2.4h5.6m0.2 0h6.6m0.4 0h4.3m31.6 0h3.5m-31 2.4h4m8.1 7.2h6.7m0.8 0h5.2m-15.5 7.2h6.4m1 0h4.8m0.5 0h5.5m0.4 0h6.8m1 0h5.4m-34 2.4h4.5m10.3 0h4.4m1.1 0h5.9m0.9 0h3.4m-28.6 2.4h5.3m-17.6 2.4h4.2m29.8 0h3m24 0h3.9m10.7 0h6.6m1.1 0h6.9m-78.7 7.2h3.5m53.5 0h3.8m-58.5 2.4h6.5m2 9.6h4.9m0.6 0h3.9m34.7 0h5.2m0.1 0h3.6m-29.4 2.4h6.6m-32.9 2.4h4.4m23.9 4.8h4.3m17.2 2.4h6m-52.9 2.4h4.5m46.8 2.4h6m-64.3 2.4h3.9m46.1 0h4.3m-38.1 2.4h5.6m0.1 0h3.6m-9.4 2.4h6.9m37.7 2.4h4.6m-33.2 4.8h4m28.2 0h4.6m-33.4 2.4h5.3m8 0h3.5m6.8 0h4.6m-33.8 2.4h3.2m0.9 0h6.8m-26.4 2.4h6.4m6.7 0h6.3m53 4.8h3.3m-65.6 4.8h6.9m42.5 4.8h3.3m28.8 0h5.2m-9.2 2.4h6.6m-25.4 2.4h4.7m-40.3 4.8h3.3m-27.8 2.4h4.1m92.4 4.8h4.3m-94.4 4.8h3.9m11.9 0h6.3m39 4.8h3.8m-51 2.4h4.5m99.3 4.8h5.9m-73.3 4.8h4.2m0.8 0h4.5m-13 4.8h6.3m-45.3 4.8h6.2m31.6 0h3.6m1 0h4.4m46 0h5.9m30.9 0h5.7m-91.4 4.8h3.6m3.9 0h6.5m70.3 2.4h6.1m-100.6 2.4h3.6m56.4 2.4h3.7m31.7 2.4h6.5m-109.5 2.4h6.2m0.5 0h3.9m105.5 0h5.3m-113.3 2.4h3.8m68 2.4h5.7m0.7 0h5.7m-10.2 4.8h6.6m29.8 2.4h6.6"/><path stroke="#f6e620" d="M455.4 152.4h6m43.1 0h5.3m1.1 0h4.8m-93.8 2.4h5.5m81.4 0h4m0.2 0h4m0.1 0h6.6m-38.1 2.4h3.6m0.9 0h4.7m1.1 0h4.8m6.8 0h5.7m7 0h3.6m0.3 0h4.7m0.2 0h3.2m-91.6 2.4h4.7m18.6 0h6.8m0.8 0h3.1m0.3 0h3.9m1 0h5m21.3 0h4.6m1.2 0h3.2m1.1 0h6.8m-91.3 2.4h3.1m0.7 0h6.8m0.6 0h6.3m0.7 0h5.2m0.6 0h4.6m77.3 0h3.4m-146.8 2.4h5.4m68.3 0h3.9m1.1 0h5.5m1.1 0h3.9m0.2 0h5.1m0.2 0h5.2m47.9 0h5.5m0.5 0h5.2m-137.8 2.4h5.9m0.4 0h6.2m64.3 0h5.5m5.6 0h4.3m-129.5 2.4h6.9m17.7 0h4.1m1.1 0h6m0.3 0h5.8m0.7 0h4.1m0.5 0h4.6m14.1 0h6.9m17.5 0h4.1m14.1 0h3.9m4.8 0h6.9m0 0h4.4m0.1 0h5.8m0.5 0h4m0.4 0h6.3m0.6 0h3.5m0.9 0h5.6m0.9 0h4.2m0.7 0h3.1m8 0h3.4m-132.8 2.4h5m0.8 0h5.5m38.9 0h4.7m32.6 0h3.2m0.4 0h4.4m0.7 0h5.1m14.5 0h4.1m11.9 0h6.3m-110.7 2.4h4.3m0.1 0h6.2m31.7 0h5.7m29.3 0h3.5m12.5 0h4.6m0.9 0h5.6m0.4 0h5.3m-177.8 2.4h6.9m6.8 0h5.2m0.9 0h3.9m7.2 0h3.9m51.7 0h3.1m0.6 0h5.3m8.3 0h5m0.2 0h6.1m35.5 0h6.9m7.2 0h5.9m-187.1 2.4h4m0.3 0h3.4m0.8 0h3.7m49.7 0h3.7m4.9 0h6.7m9.4 0h4.6m38.7 0h4.2m36.8 0h3.8m-180.8 2.4h4.8m19.4 0h6.3m1.1 0h4.3m0 0h6.5m26.5 0h3.6m23.3 0h5.9m5.6 0h4.1m0.8 0h3.5m9.9 0h5.3m0 0h5.7m0.6 0h5.2m23.5 0h6.7m-166.9 2.4h4.6m0.3 0h5.3m5.9 0h3.1m52.2 0h5.9m0.2 0h6.2m-73.8 2.4h5.1m0.9 0h5.7m16.2 0h4.6m64 0h6m-122.9 2.4h6.3m1 0h5.7m1.1 0h5m11.8 0h6.3m104.7 0h5.8m-143.8 2.4h6.8m6.7 0h3.8m0.5 0h3.5m1.1 0h5.6m0.4 0h5.7m0.9 0h4.4m89.7 0h5.4m-129 2.4h4.8m0.8 0h3.4m6.2 0h3.4m6.7 0h4.7m25 0h3.3m27.4 0h6m1.2 0h3.4m1 0h5.1m-103.6 2.4h6.5m7.1 0h3.7m0.4 0h3.3m0.4 0h4.4m0.8 0h4.8m0.3 0h5.5m0.3 0h5.6m19.5 0h5.5m49.1 0h5.5m0.4 0h5m45.3 0h3.1m0 0h5.2m-162.1 2.4h6.6m0.8 0h3.2m27 0h5.1m53.7 0h5.2m-101.7 2.4h4.2m0.2 0h3.6m0.3 0h5.2m6.6 0h3.8m0.5 0h5.5m0.7 0h3.9m0.4 0h5m0 0h3.5m0.1 0h6.7m0.5 0h3m-79.3 2.4h4.2m5.2 0h5.7m0 0h5.6m51 0h5.8m-73.9 2.4h4.2m0.5 0h6.6m0.2 0h3.7m0.5 0h4.8m1.1 0h3.5m70.1 0h6m21.9 0h5.4m-106.9 2.4h3.9m0.2 0h4m12.7 0h5.3m-42.9 2.4h6.7m0.1 0h3.4m0.6 0h5.1m24.3 0h4.2m0.1 0h3.9m28.5 0h4.8m9.9 0h3.7m1.1 0h3.3m0.9 0h5.9m0.1 0h5m-105.4 2.4h5.1m0.2 0h6.8m1 0h3.8m13.3 0h6.9m0.7 0h4m19 0h6.1m0.2 0h5.4m0 0h6.8m0.7 0h3.2m13 0h3.9m0.9 0h3.5m0.6 0h5.5m-102 2.4h3.2m1.2 0h3.2m12.5 0h6.5m0.4 0h6.1m0.7 0h6.1m34 0h5m-88.1 2.4h6.3m0.1 0h5.3m1 0h4.9m0.6 0h4.5m26.5 0h5.3m1.1 0h4.9m0.3 0h3.4m19.7 0h6.6m0.7 0h3.9m-70.5 2.4h5.8m44.3 0h3.5m-81.5 2.4h6.2m0.4 0h4.9m21.8 0h3.5m1.1 0h7m0.9 0h4.3m5.5 0h5.5m13.6 0h5.4m1.2 0h4.3m-79.7 2.4h6.8m5.9 0h3.9m3.3 2.4h4.3m0 0h5.1m46.8 0h5.8m-79.9 2.4h6.5m43.1 0h3.6m0.1 0h6.3m-52.5 2.4h6m1.1 0h5.5m7.1 0h4.4m9.7 0h6.1m1.1 0h3.4m0.5 0h5.1m0.2 0h5.8m30 0h5m-73.8 2.4h4.7m0.9 0h6.7m0.9 0h4.7m15.2 0h4.2m0.9 0h3.4m14.8 0h6.4m-79.8 2.4h6m0.1 0h3.3m18.6 0h6.9m15.9 0h6.4m0.8 0h6.1m5.9 0h6.2m30.8 0h5m-87.8 2.4h5.6m0.2 0h3m0.7 0h6.4m0.3 0h3.6m0.5 0h6.8m-24.6 2.4h5m6.4 0h6.6m0.4 0h6m0.5 0h3.7m0.4 0h3.6m0.5 0h5.9m1.1 0h5.8m-57.7 2.4h4m13.5 0h6.7m6 0h4.7m0.5 0h5.4m27.2 0h4.8m-79.6 2.4h4.3m1.1 0h4.8m0.6 0h6.8m1.1 0h4.1m1.1 0h4.6m0.1 0h3.1m0.3 0h5.8m0.9 0h4.1m10.5 0h5.6m0.2 0h3.7m0.5 0h3.4m-38.3 2.4h6.4m0.3 0h5.3m9.5 0h5.2m0.2 0h5.6m-34.5 2.4h6.3m6 0h4.4m0.5 0h3.4m-45 2.4h5.8m0.3 0h4.9m0.6 0h3.5m7.4 0h3.2m1 0h3.8m-10.6 2.4h6m8.2 0h6m11.8 0h4.6m-39.8 2.4h4.9m4.8 0h5.8m0.6 0h5.5m6.1 0h6.5m0.6 0h5m12.2 0h6.7m-47.7 2.4h5.2m20 0h4.6m0.6 0h6m-18.1 2.4h3.3m0.1 0h5.2m6.7 0h4.2m-6.3 2.4h5m0.8 0h4.8m0.1 0h4.9m-25.3 2.4h3m0.2 0h5.8m-44.7 2.4h3.4m0.7 0h6.4m0.9 0h4.9m12.4 0h3.4m0.7 0h4.3m27.3 0h3.2m-68.2 2.4h3.2m32.5 2.4h6.4m1 0h3.4m-58.5 2.4h4.5m50.2 0h5.4m5.8 0h6.1m1.2 0h4.8m15.1 0h5m-88 2.4h4.4m19.6 0h5.2m11.4 0h5.2m-57.7 2.4h5.1m0.9 0h6.6m1 0h7m23.1 0h4.8m4.3 0h5.6m1 0h6.2m-10.3 2.4h5.2m13.1 0h6.7m1.2 0h5.4m-43.3 2.4h3.9m0.9 0h4m5.5 0h4.2m0.4 0h5.9m14.3 0h4.5m14.2 0h4.3m-81.9 2.4h5.8m7.3 0h3.3m10.8 0h6.1m26.9 0h3.3m6.7 0h6.1m-84 2.4h6.2m15.1 0h4.5m16.1 0h7m33.2 0h4.1m0.3 0h5.4m-103.5 2.4h3.9m36.4 0h5.3m0.6 0h5.1m0.2 0h4.9m0.7 0h4.8m1 0h3.6m1 0h3.4m0.4 0h6.8m1.2 0h5.2m-64.6 2.4h6.5m0.8 0h3.9m19.4 0h6.9m0.3 0h5.4m0.6 0h3.4m3.9 0h4.3m0.4 0h3.5m0.8 0h3.4m0.9 0h3.2m20.1 0h5.3m-111.3 2.4h4.1m44.7 0h4.2m1 0h4.6m0.2 0h5.4m1.1 0h4.7m25.2 0h3.1m-60.1 2.4h3.7m15.9 0h4.4m0.4 0h5.6m14.8 0h4.1m0.5 0h4.9m-91.1 2.4h6.9m0.2 0h4.1m61.8 0h5.4m4.6 0h4.2m0.1 0h5m0.5 0h3m1 0h3.5m-43.7 2.4h5m51.1 0h5.5m-113.7 2.4h6.3m93.2 0h4.9m-82.7 2.4h5.4m9.1 0h6.6m17.1 0h6.9m1.2 0h3.5m-29.5 2.4h6.8m20.7 0h3.1m0.8 0h3.5m17 0h4m1 0h6.9m1.1 0h4.6m0.4 0h4.2m-88.7 2.4h6.2m0.8 0h5m12.1 0h3.8m9.9 0h3.1m17.2 0h4.6m0.8 0h5.1m0.1 0h5.8m-76 2.4h5.2m22.8 0h4.9m8.4 0h5.9m20.2 0h6.9m0.4 0h3.6m0.6 0h4.3m0.6 0h6.7m1.2 0h3.3m-127 2.4h4m0.6 0h4m0.7 0h4.1m11.1 0h3.9m1.1 0h7m6.3 0h7m11.7 0h3.7m0.3 0h3.5m1 0h3.8m0.1 0h3.5m0.8 0h6.8m0.9 0h6.9m13 0h5.1m-112.6 2.4h6.3m96.3 0h3m-72.9 2.4h5.5m0.5 0h5.1m18 0h4.6m6.7 0h3.6m0.8 0h3.6m0.8 0h6.1m0.6 0h4.8m0 0h4m-58.8 2.4h5.3m41.3 0h5.6m0.1 0h6.4m0.9 0h5.3m0.9 0h4.6m12.4 0h6.3m-89.3 2.4h5.8m1.1 0h4.1m5.8 0h5.7m0.7 0h6.7m13.7 0h3m0.1 0h3.8m8.7 0h4.7m6.8 0h6.9m1 0h5.9m13.9 0h4.4m-133.6 2.4h5.4m6.3 0h6.2m26.5 0h4.6m30.4 0h3.9m14.2 0h5.5m6.8 0h4.5m1.2 0h5.1m0.5 0h4.5m-124.6 2.4h4.5m6.8 0h4.4m0.7 0h5.5m37.7 0h3.1m31.3 0h5.8m4 0h5.5m-97.3 2.4h4m6.9 0h3.6m30.2 0h6.4m0.1 0h6.3m0.6 0h5.7m11.5 0h5m5.5 0h6.2m0.7 0h3.5m0.1 0h5.2m-83.1 2.4h3.7m17.5 0h4.7m8 0h6.7m5.7 0h3.7m16.3 0h4.4m0.1 0h6.1m18.1 0h3.5m0.1 0h3.5m7.1 0h4.1m0.1 0h5.1m-130.7 2.4h4.3m0.8 0h6.5m0.4 0h5.1m22.8 0h5.4m0.4 0h5.2m25.5 0h4.3m0.7 0h5.9m0 0h3.6m14.2 0h5.4m17.7 0h5.7m-126.6 2.4h3.9m14.8 0h6.6m31.7 0h4.2m0.3 0h6.4m0.4 0h4.6m5.2 0h6.1m6.2 0h5.5m1.1 0h6.7m6.2 0h4.2m1.1 0h4.3m5.1 0h3.7m-100.3 2.4h5.4m18.1 0h3.9m1 0h6.7m0.6 0h3.4m1.1 0h7m28.1 0h5.1m8.6 0h4.2m-79.1 2.4h4.6m58.3 0h6.7m11.3 0h4.7m0.5 0h3.7m-123.7 2.4h5.4m41.8 0h5.8m0.6 0h5.6m0 0h4m6.4 0h6.9m21.6 0h6.3m0.6 0h6.4m0.5 0h7m-114.7 2.4h3.1m0.2 0h6.8m1.1 0h4.4m17.7 0h4.1m1.1 0h6.6m0.6 0h3.9m1 0h3.9m0 0h5m0.5 0h4.1m13.6 0h5.9m-36 2.4h3.3m16.1 0h4.9m40.4 0h6.7m-62.1 2.4h4.2m0 0h5.7m14.6 0h5.9m0.2 0h5.7m20.2 0h3.6m-104.5 2.4h5.3m22.3 0h5.5m6.4 0h6.9m10.9 0h4.9m0.4 0h5m0.1 0h5m13.1 0h4.6m1.2 0h7m9.3 0h5.8m0.7 0h3.9m-109.5 2.4h3.3m17.6 0h5.9m1 0h6.4m0.1 0h3.8m0.8 0h6.5m7.6 0h4.8m0 0h4.4m3.8 0h5m0 0h5.9m1 0h3.4m0.5 0h4.4m11.7 0h4.1m0.4 0h3.5m-113.7 2.4h4.6m9.9 0h3.8m12.8 0h3.8m0.7 0h5.4m1.2 0h6.1m0.2 0h6.6m0.3 0h4.1m11 0h3.9m0.4 0h5.3m0.9 0h5m6.7 0h3.4m16.2 0h3.3m0.7 0h7m-108.9 2.4h5.4m22.9 0h6.5m10.7 0h3m20.9 0h5.3m0.3 0h3.8m4.8 0h6.4m8.6 0h4.7m-60.3 2.4h3.3m1.2 0h3.6m40.5 0h5.7m10.5 0h3.1m-104.8 2.4h5.8m13.6 0h6.4m8.1 0h5.4m7.7 0h3.5m0.1 0h3.4m1.1 0h6m13.9 0h5.6m0.2 0h5.1m1.1 0h4.9m1 0h4.9m1 0h4.9m0.4 0h4.1m-88.5 2.4h4.3m0 0h6.7m0.8 0h4.2m14.7 0h3.5m1 0h3.1m1.2 0h5.2m30.2 0h5.4m-54.2 2.4h5.5m0 0h5.6m0.1 0h5.9m19.2 0h5.3m0.6 0h6m3.5 0h6.8m-23.6 2.4h6.8m6.9 2.4h3.5"/><path stroke="#2a98dc" d="M427.5 154.8h3.1m0.4 0h5.2m0.1 0h3.4m11.3 0h4.8m27.9 0h5.3m11.8 0h3.7m0.9 0h3m-75.8 2.4h3.7m9.5 0h6.2m1.1 0h6.4m20.8 0h5.2m15.4 0h5.9m-72.6 2.4h5.6m45.4 0h4.4m0.3 0h3.8m7.7 0h4.2m17.9 0h3.8m1.1 0h5.5m0.5 0h5m0 0h5.4m-150.5 2.4h3.9m92.2 0h6m-2.3 2.4h6.2m20.7 0h4.1m-52.5 2.4h6.2m29.3 0h6.5m0.7 0h6.4m-48.6 2.4h6.7m-108.7 2.4h6.1m0.5 0h6.6m76.7 0h4m38.4 0h5m33.5 0h5.7m-178.7 2.4h5.6m39 0h6.4m16.4 0h5.5m0.6 0h5.8m32.8 0h6.7m19.1 0h6.5m17.8 0h5.9m1.2 0h3.6m-165 2.4h4.1m24.5 0h6.2m5.1 0h4.5m0.2 0h6.7m0.9 0h6.7m0.2 0h5.2m0.3 0h5.8m67.6 0h5.3m-114.6 2.4h4.4m6.1 0h6.8m0 0h3.7m4.3 0h3.8m41.5 0h4m48.5 0h6.8m18.4 0h3.8m-96.8 2.4h4m-35.4 2.4h5.8m64.1 0h6.7m0.5 0h4.3m-124.1 2.4h5.7m18.5 0h6.5m7.8 0h5.6m6.4 0h6.4m0.4 0h3.3m50.2 0h6.6m20.9 0h5.8m1 0h5.4m-18.2 2.4h3.5m0 0h4.3m-80.5 2.4h6.2m6.8 0h3.6m11.5 0h6.5m18.3 0h5.9m0.5 0h6.5m6.4 0h3.4m-139.3 2.4h4.7m6.3 0h4.7m1 0h6.7m16.1 0h6.3m3.9 0h4.5m0 0h6.2m0.2 0h4.8m58.8 0h4.4m18 0h5.4m1.2 0h5.5m-50.6 2.4h4.6m8.9 0h5.4m20.8 0h4m-91.4 2.4h6.4m0.6 0h6.2m32 0h6.4m5.7 0h4.7m29.8 0h4.2m-93.6 2.4h4.2m0.6 0h6.7m0.1 0h4.8m-47.8 2.4h6.5m49.5 0h6.9m41.8 0h4.3m4.9 0h5.3m-63.2 2.4h6.2m28.7 0h3.5m5.5 0h6.1m1.1 0h6.8m0.7 0h5.5m-102 2.4h3.3m0.4 0h5.9m66.6 0h4.2m-127.9 2.4h4.6m0.6 0h5.7m0.5 0h6.7m14.8 0h5.3m61.7 0h3.9m7.7 0h7m6.2 0h6.3m-19.5 2.4h5.3m1.1 0h6.2m-50.7 2.4h4.4m0.9 0h5m0.4 0h3.8m39.7 0h5.5m-108.2 2.4h3.1m0.9 0h4.1m80.1 0h3.9m8.4 0h3.8m1.1 0h5.3m-158 2.4h5.7m79.7 0h5.7m0.3 0h3.6m35.5 0h4m8.1 0h6.3m-40.2 2.4h4.9m0.6 0h3.1m11.1 0h3.3m0.7 0h3m13.1 0h4.7m-32.5 2.4h5.4m25.7 0h3.1m-75.9 2.4h6.1m64.5 0h4m-116.9 2.4h6.5m28.9 0h6.5m0 0h6.5m1.1 0h3.2m43.4 0h4.3m0.2 0h6.1m1 0h3.6m-104.8 2.4h4.7m66.9 0h6.7m5.6 0h4.7m-106.5 2.4h4m0.6 0h5.1m30.7 2.4h3.7m30.6 0h5.7m0.8 0h6.5m18.4 0h5.3m3.6 0h6.9m-35.5 2.4h3.5m2.5 2.4h5.7m5.5 0h6.1m0.7 0h5.8m-65.9 2.4h5.4m7.4 0h5.9m1.1 0h5.5m-1.6 2.4h6.1m0 0h3.4m-37.3 2.4h5.1m11.9 0h4.6m25 0h6.2m0.8 0h4.4m1.1 0h5.9m-61.6 2.4h5.1m33.9 0h4.6m4.4 0h4.8m-53.7 2.4h4.5m12.5 0h4.7m0.7 0h5.2m0.5 0h5m-9.5 2.4h5.6m0.4 0h5.5m4.6 0h3.6m0.9 0h5.5m0.7 0h4.3m0.2 0h7m-58.2 4.8h3.4m24.1 0h3.7m0.1 0h4.8m1.1 0h3.2m7.7 2.4h4.5m-4.7 2.4h4m-100.2 2.4h6.8m49.3 2.4h4.7m0.3 0h4.9m18.6 0h3.8m0.2 0h3.2m0.3 0h5.8m-16.9 4.8h6.6m-86.3 4.8h4.9m0.8 0h3.3m76 4.8h5.9m-0.7 2.4h3.4m-86.5 2.4h6.2m-9.3 2.4h3.3m61.7 0h6m26.4 7.2h5m1.2 0h5.8m-118 2.4h3.7m0.6 0h3.8m45.2 0h6.5m56.2 0h3.4m-93.9 2.4h4.6m0.8 0h4.5m0.8 0h3.1m0.3 0h4.7m-17.1 2.4h6.5m0.4 0h5.7m41.6 0h5.2m26.5 0h3.2m0.9 0h3.5m-69.7 2.4h6.3m0 0h4.4m31 0h3.7m-70.7 2.4h4.2m0.1 0h3.8m11.5 0h3.5m-52.9 2.4h5.9m0.8 0h6.1m-3.7 2.4h5.2m0.6 0h5.7m28.6 2.4h3.7m-46.4 2.4h4m14 0h3.3m0.7 0h6.1m87.8 0h3.6m-107.2 2.4h3.8m0.9 0h4.2m87 0h3.1m16.6 2.4h4.2m-124.4 2.4h4.9m25.1 0h3.4m-24.7 4.8h5.4m17.3 0h4.9m1.1 2.4h5.8m24.2 0h4.6m1.1 0h6.5m1 0h5.1m1 0h5.8m0.6 0h4.2m-49.9 2.4h7m25.6 0h3.2m0.4 0h6.6m-69.8 2.4h6.7m1 0h5.5m16.3 0h4.1m6.1 0h3.1m73.3 0h5.4m-114.2 7.2h6.6m0.5 0h4.9m0.7 0h6.2m0.5 0h4.9m11.8 7.2h6.1m0.5 0h3.8m40 2.4h4.9m1 0h3.5m-77.2 2.4h5.3m0.6 0h6.7m8.1 0h6.8m-26.5 2.4h5.8m22.5 2.4h6.4m66.9 0h3.4m-1.2 2.4h3.2m0.4 0h4.4m-84 2.4h6.5m0.7 0h5.2m0.3 0h3m0.5 0h4.5m51.7 0h4.5m-32.3 2.4h5.7m0.8 0h6.9m-43.3 4.8h3.2m58.7 0h4.4m6.5 4.8h3.6m0.8 0h6.9m7.8 0h6.4m-10.8 2.4h5.5"/></g>
<g transform="rotate(-22 466 346)" fill="none" stroke-width="2.2"><path stroke="#40b8e0" d="M355 227.4h6.8m16.8 41.6h7m-12.7 9.6h7.1"/><path stroke="#2a98dc" d="M360.4 240.2h6.7m3.8 9.6h7.6m-3.2 3.2h5.1m-10.7 16h8.1m2.3 22.4h6.6"/></g>
<g transform="rotate(-22 466 346)" fill="none" stroke-width="2.2"><path stroke="#14b4b0" d="M429.6 355.4h6.8m1.6 9.6h4.6m10 6.4h4.5m2.7 6.4h5.3"/><path stroke="#2a98dc" d="M445.2 368.2h4.3m-1.7 6.4h8.5"/><path stroke="#40b8e0" d="M445.5 377.8h8.5m8.7 3.2h5.8"/></g>
<ellipse cx="466.0" cy="218.0" rx="72.0" ry="58.0" stroke="#555" stroke-width="0.8" fill="none" stroke-dasharray="5 4"/>
<ellipse cx="465.0" cy="232.0" rx="140.0" ry="112.0" stroke="#555" stroke-width="0.8" fill="none" stroke-dasharray="5 4"/>
<ellipse cx="463.0" cy="250.0" rx="206.0" ry="166.0" stroke="#555" stroke-width="0.8" fill="none" stroke-dasharray="5 4"/>
<ellipse cx="463.0" cy="262.0" rx="248.0" ry="221.5" stroke="#555" stroke-width="0.8" fill="none" stroke-dasharray="5 4"/>
<line x1="466" y1="207" x2="527.4" y2="599.1" stroke="#555" stroke-width="0.8" fill="none" stroke-dasharray="5 4"/>
<line x1="466" y1="207" x2="349.2" y2="572.7" stroke="#555" stroke-width="0.8" fill="none" stroke-dasharray="5 4"/>
<line x1="466" y1="207" x2="254.4" y2="434.7" stroke="#555" stroke-width="0.8" fill="none" stroke-dasharray="5 4"/>
<line x1="466" y1="207" x2="240.6" y2="270.2" stroke="#555" stroke-width="0.8" fill="none" stroke-dasharray="5 4"/>
<line x1="466" y1="207" x2="332.6" y2="179.4" stroke="#555" stroke-width="0.8" fill="none" stroke-dasharray="5 4"/>
<line x1="466" y1="207" x2="398.1" y2="141.4" stroke="#555" stroke-width="0.8" fill="none" stroke-dasharray="5 4"/>
<line x1="466" y1="207" x2="453.4" y2="135.7" stroke="#555" stroke-width="0.8" fill="none" stroke-dasharray="5 4"/>
<line x1="466" y1="207" x2="508.6" y2="136.9" stroke="#555" stroke-width="0.8" fill="none" stroke-dasharray="5 4"/>
<line x1="466" y1="207" x2="566.0" y2="156.4" stroke="#555" stroke-width="0.8" fill="none" stroke-dasharray="5 4"/>
<line x1="466" y1="207" x2="633.9" y2="204.7" stroke="#555" stroke-width="0.8" fill="none" stroke-dasharray="5 4"/>
<line x1="466" y1="207" x2="691.4" y2="336.9" stroke="#555" stroke-width="0.8" fill="none" stroke-dasharray="5 4"/>
<line x1="466" y1="207" x2="671.9" y2="507.1" stroke="#555" stroke-width="0.8" fill="none" stroke-dasharray="5 4"/>
<line x1="266.0" y1="331.0" x2="590.5" y2="312.8" stroke="#b0d8f5" stroke-opacity="0.85" stroke-width="10" fill="none" filter="url(#blur1)"/>
<line x1="341.9" y1="200.6" x2="626.9" y2="464.4" stroke="#b0d8f5" stroke-opacity="0.85" stroke-width="10" fill="none" filter="url(#blur1)"/>
<line x1="484.4" y1="143.0" x2="329.7" y2="494.8" stroke="#b0d8f5" stroke-opacity="0.85" stroke-width="10" fill="none" filter="url(#blur1)"/>
<line x1="425.3" y1="146.0" x2="448.0" y2="546.3" stroke="#b0d8f5" stroke-opacity="0.85" stroke-width="10" fill="none" filter="url(#blur1)"/>
<path d="M458.6 139.9 L459.9 142.2 L462.6 142.2 L461.3 144.5 L462.6 146.8 L459.9 146.8 L458.6 149.1 L457.3 146.8 L454.6 146.8 L455.9 144.5 L454.6 142.2 L457.3 142.2 Z" fill="#800000" stroke-linejoin="miter"/>
<path d="M451.0 165.7 L452.4 168.0 L455.0 168.0 L453.7 170.3 L455.0 172.6 L452.4 172.6 L451.0 174.9 L449.7 172.6 L447.0 172.6 L448.4 170.3 L447.0 168.0 L449.7 168.0 Z" fill="#c00000" stroke-linejoin="miter"/>
<path d="M445.0 183.9 L446.3 186.2 L448.9 186.2 L447.6 188.5 L448.9 190.8 L446.3 190.8 L445.0 193.1 L443.6 190.8 L441.0 190.8 L442.3 188.5 L441.0 186.2 L443.6 186.2 Z" fill="#30d0f0" stroke-linejoin="miter"/>
<path d="M440.4 212.7 L441.7 215.0 L444.4 215.0 L443.1 217.3 L444.4 219.6 L441.7 219.6 L440.4 221.9 L439.1 219.6 L436.4 219.6 L437.8 217.3 L436.4 215.0 L439.1 215.0 Z" fill="#e01010" stroke-linejoin="miter"/>
<path d="M435.9 226.4 L437.2 228.7 L439.8 228.7 L438.5 231.0 L439.8 233.3 L437.2 233.3 L435.9 235.6 L434.5 233.3 L431.9 233.3 L433.2 231.0 L431.9 228.7 L434.5 228.7 Z" fill="#e0e030" stroke-linejoin="miter"/>
<path d="M347.9 177.8 L349.3 180.1 L351.9 180.1 L350.6 182.4 L351.9 184.7 L349.3 184.7 L347.9 187.0 L346.6 184.7 L343.9 184.7 L345.3 182.4 L343.9 180.1 L346.6 180.1 Z" fill="#f0a030" stroke-linejoin="miter"/>
<path d="M360.1 194.5 L361.4 196.8 L364.0 196.8 L362.7 199.1 L364.0 201.4 L361.4 201.4 L360.1 203.7 L358.7 201.4 L356.1 201.4 L357.4 199.1 L356.1 196.8 L358.7 196.8 Z" fill="#e01010" stroke-linejoin="miter"/>
<path d="M373.7 209.7 L375.0 212.0 L377.7 212.0 L376.4 214.3 L377.7 216.6 L375.0 216.6 L373.7 218.9 L372.4 216.6 L369.7 216.6 L371.0 214.3 L369.7 212.0 L372.4 212.0 Z" fill="#a0f060" stroke-linejoin="miter"/>
<path d="M411.6 190.0 L412.9 192.3 L415.6 192.3 L414.3 194.6 L415.6 196.9 L412.9 196.9 L411.6 199.2 L410.3 196.9 L407.6 196.9 L409.0 194.6 L407.6 192.3 L410.3 192.3 Z" fill="#80e080" stroke-linejoin="miter"/>
<path d="M417.7 218.8 L419.0 221.1 L421.7 221.1 L420.3 223.4 L421.7 225.7 L419.0 225.7 L417.7 228.0 L416.3 225.7 L413.7 225.7 L415.0 223.4 L413.7 221.1 L416.3 221.1 Z" fill="#f01010" stroke-linejoin="miter"/>
<path d="M419.2 231.8 L420.5 234.1 L423.2 234.1 L421.8 236.4 L423.2 238.7 L420.5 238.7 L419.2 241.0 L417.9 238.7 L415.2 238.7 L416.5 236.4 L415.2 234.1 L417.9 234.1 Z" fill="#800000" stroke-linejoin="miter"/>
<path d="M390.4 232.4 L391.7 234.7 L394.4 234.7 L393.0 237.0 L394.4 239.3 L391.7 239.3 L390.4 241.6 L389.1 239.3 L386.4 239.3 L387.7 237.0 L386.4 234.7 L389.1 234.7 Z" fill="#f09020" stroke-linejoin="miter"/>
<path d="M398.0 243.0 L399.3 245.3 L401.9 245.3 L400.6 247.6 L401.9 249.9 L399.3 249.9 L398.0 252.2 L396.6 249.9 L394.0 249.9 L395.3 247.6 L394.0 245.3 L396.6 245.3 Z" fill="#f09020" stroke-linejoin="miter"/>
<path d="M428.3 253.7 L429.6 256.0 L432.3 256.0 L430.9 258.3 L432.3 260.6 L429.6 260.6 L428.3 262.9 L427.0 260.6 L424.3 260.6 L425.6 258.3 L424.3 256.0 L427.0 256.0 Z" fill="#f09020" stroke-linejoin="miter"/>
<path d="M423.7 259.7 L425.1 262.0 L427.7 262.0 L426.4 264.3 L427.7 266.6 L425.1 266.6 L423.7 268.9 L422.4 266.6 L419.8 266.6 L421.1 264.3 L419.8 262.0 L422.4 262.0 Z" fill="#f09020" stroke-linejoin="miter"/>
<path d="M414.6 267.3 L416.0 269.6 L418.6 269.6 L417.3 271.9 L418.6 274.2 L416.0 274.2 L414.6 276.5 L413.3 274.2 L410.7 274.2 L412.0 271.9 L410.7 269.6 L413.3 269.6 Z" fill="#a0f060" stroke-linejoin="miter"/>
<path d="M423.7 268.8 L425.1 271.1 L427.7 271.1 L426.4 273.4 L427.7 275.7 L425.1 275.7 L423.7 278.0 L422.4 275.7 L419.8 275.7 L421.1 273.4 L419.8 271.1 L422.4 271.1 Z" fill="#e01010" stroke-linejoin="miter"/>
<path d="M426.8 274.9 L428.1 277.2 L430.8 277.2 L429.4 279.5 L430.8 281.8 L428.1 281.8 L426.8 284.1 L425.4 281.8 L422.8 281.8 L424.1 279.5 L422.8 277.2 L425.4 277.2 Z" fill="#f09020" stroke-linejoin="miter"/>
<path d="M414.6 299.1 L416.0 301.4 L418.6 301.4 L417.3 303.7 L418.6 306.0 L416.0 306.0 L414.6 308.3 L413.3 306.0 L410.7 306.0 L412.0 303.7 L410.7 301.4 L413.3 301.4 Z" fill="#800000" stroke-linejoin="miter"/>
<path d="M431.3 303.7 L432.6 306.0 L435.3 306.0 L434.0 308.3 L435.3 310.6 L432.6 310.6 L431.3 312.9 L430.0 310.6 L427.3 310.6 L428.7 308.3 L427.3 306.0 L430.0 306.0 Z" fill="#800000" stroke-linejoin="miter"/>
<path d="M440.4 306.7 L441.7 309.0 L444.4 309.0 L443.1 311.3 L444.4 313.6 L441.7 313.6 L440.4 315.9 L439.1 313.6 L436.4 313.6 L437.8 311.3 L436.4 309.0 L439.1 309.0 Z" fill="#f09020" stroke-linejoin="miter"/>
<path d="M432.8 318.8 L434.2 321.1 L436.8 321.1 L435.5 323.4 L436.8 325.7 L434.2 325.7 L432.8 328.0 L431.5 325.7 L428.8 325.7 L430.2 323.4 L428.8 321.1 L431.5 321.1 Z" fill="#e01010" stroke-linejoin="miter"/>
<path d="M448.6 318.2 L449.9 320.5 L452.6 320.5 L451.3 322.8 L452.6 325.1 L449.9 325.1 L448.6 327.4 L447.3 325.1 L444.6 325.1 L445.9 322.8 L444.6 320.5 L447.3 320.5 Z" fill="#800000" stroke-linejoin="miter"/>
<path d="M401.9 341.6 L403.2 343.9 L405.9 343.9 L404.6 346.2 L405.9 348.5 L403.2 348.5 L401.9 350.8 L400.6 348.5 L397.9 348.5 L399.2 346.2 L397.9 343.9 L400.6 343.9 Z" fill="#800000" stroke-linejoin="miter"/>
<path d="M437.4 349.2 L438.7 351.5 L441.4 351.5 L440.0 353.8 L441.4 356.1 L438.7 356.1 L437.4 358.4 L436.1 356.1 L433.4 356.1 L434.7 353.8 L433.4 351.5 L436.1 351.5 Z" fill="#80f0a0" stroke-linejoin="miter"/>
<path d="M466.2 344.6 L467.5 346.9 L470.2 346.9 L468.8 349.2 L470.2 351.5 L467.5 351.5 L466.2 353.8 L464.9 351.5 L462.2 351.5 L463.5 349.2 L462.2 346.9 L464.9 346.9 Z" fill="#40c0f0" stroke-linejoin="miter"/>
<path d="M476.8 362.8 L478.1 365.1 L480.8 365.1 L479.5 367.4 L480.8 369.7 L478.1 369.7 L476.8 372.0 L475.5 369.7 L472.8 369.7 L474.1 367.4 L472.8 365.1 L475.5 365.1 Z" fill="#30c0f0" stroke-linejoin="miter"/>
<path d="M438.9 370.4 L440.2 372.7 L442.9 372.7 L441.6 375.0 L442.9 377.3 L440.2 377.3 L438.9 379.6 L437.6 377.3 L434.9 377.3 L436.2 375.0 L434.9 372.7 L437.6 372.7 Z" fill="#f0e020" stroke-linejoin="miter"/>
<path d="M385.8 391.6 L387.2 393.9 L389.8 393.9 L388.5 396.2 L389.8 398.5 L387.2 398.5 L385.8 400.8 L384.5 398.5 L381.9 398.5 L383.2 396.2 L381.9 393.9 L384.5 393.9 Z" fill="#800000" stroke-linejoin="miter"/>
<path d="M381.3 405.3 L382.6 407.6 L385.3 407.6 L383.9 409.9 L385.3 412.2 L382.6 412.2 L381.3 414.5 L380.0 412.2 L377.3 412.2 L378.6 409.9 L377.3 407.6 L380.0 407.6 Z" fill="#f09020" stroke-linejoin="miter"/>
<path d="M441.9 400.7 L443.3 403.0 L445.9 403.0 L444.6 405.3 L445.9 407.6 L443.3 407.6 L441.9 409.9 L440.6 407.6 L437.9 407.6 L439.3 405.3 L437.9 403.0 L440.6 403.0 Z" fill="#e01010" stroke-linejoin="miter"/>
<path d="M443.4 415.9 L444.8 418.2 L447.4 418.2 L446.1 420.5 L447.4 422.8 L444.8 422.8 L443.4 425.1 L442.1 422.8 L439.5 422.8 L440.8 420.5 L439.5 418.2 L442.1 418.2 Z" fill="#800000" stroke-linejoin="miter"/>
<path d="M491.0 388.6 L492.4 390.9 L495.0 390.9 L493.7 393.2 L495.0 395.5 L492.4 395.5 L491.0 397.8 L489.7 395.5 L487.1 395.5 L488.4 393.2 L487.1 390.9 L489.7 390.9 Z" fill="#e01010" stroke-linejoin="miter"/>
<path d="M372.2 432.5 L373.5 434.8 L376.2 434.8 L374.8 437.1 L376.2 439.4 L373.5 439.4 L372.2 441.7 L370.9 439.4 L368.2 439.4 L369.5 437.1 L368.2 434.8 L370.9 434.8 Z" fill="#60e080" stroke-linejoin="miter"/>
<path d="M366.7 446.2 L368.1 448.5 L370.7 448.5 L369.4 450.8 L370.7 453.1 L368.1 453.1 L366.7 455.4 L365.4 453.1 L362.7 453.1 L364.1 450.8 L362.7 448.5 L365.4 448.5 Z" fill="#60e080" stroke-linejoin="miter"/>
<path d="M357.0 473.5 L358.4 475.8 L361.0 475.8 L359.7 478.1 L361.0 480.4 L358.4 480.4 L357.0 482.7 L355.7 480.4 L353.0 480.4 L354.4 478.1 L353.0 475.8 L355.7 475.8 Z" fill="#30a0f0" stroke-linejoin="miter"/>
<path d="M352.5 485.6 L353.8 487.9 L356.5 487.9 L355.1 490.2 L356.5 492.5 L353.8 492.5 L352.5 494.8 L351.2 492.5 L348.5 492.5 L349.8 490.2 L348.5 487.9 L351.2 487.9 Z" fill="#30a0f0" stroke-linejoin="miter"/>
<path d="M346.4 502.3 L347.7 504.6 L350.4 504.6 L349.1 506.9 L350.4 509.2 L347.7 509.2 L346.4 511.5 L345.1 509.2 L342.4 509.2 L343.8 506.9 L342.4 504.6 L345.1 504.6 Z" fill="#2080f0" stroke-linejoin="miter"/>
<path d="M445.6 444.7 L446.9 447.0 L449.6 447.0 L448.2 449.3 L449.6 451.6 L446.9 451.6 L445.6 453.9 L444.2 451.6 L441.6 451.6 L442.9 449.3 L441.6 447.0 L444.2 447.0 Z" fill="#f09020" stroke-linejoin="miter"/>
<path d="M447.1 460.4 L448.4 462.7 L451.1 462.7 L449.7 465.0 L451.1 467.3 L448.4 467.3 L447.1 469.6 L445.8 467.3 L443.1 467.3 L444.4 465.0 L443.1 462.7 L445.8 462.7 Z" fill="#a0e040" stroke-linejoin="miter"/>
<path d="M448.0 488.6 L449.3 490.9 L452.0 490.9 L450.6 493.2 L452.0 495.5 L449.3 495.5 L448.0 497.8 L446.7 495.5 L444.0 495.5 L445.3 493.2 L444.0 490.9 L446.7 490.9 Z" fill="#30e0f0" stroke-linejoin="miter"/>
<path d="M448.6 502.3 L449.9 504.6 L452.6 504.6 L451.3 506.9 L452.6 509.2 L449.9 509.2 L448.6 511.5 L447.3 509.2 L444.6 509.2 L445.9 506.9 L444.6 504.6 L447.3 504.6 Z" fill="#90f050" stroke-linejoin="miter"/>
<path d="M449.5 529.6 L450.8 531.9 L453.5 531.9 L452.2 534.2 L453.5 536.5 L450.8 536.5 L449.5 538.8 L448.2 536.5 L445.5 536.5 L446.9 534.2 L445.5 531.9 L448.2 531.9 Z" fill="#60e080" stroke-linejoin="miter"/>
<path d="M449.5 541.7 L450.8 544.0 L453.5 544.0 L452.2 546.3 L453.5 548.6 L450.8 548.6 L449.5 550.9 L448.2 548.6 L445.5 548.6 L446.9 546.3 L445.5 544.0 L448.2 544.0 Z" fill="#40f0c0" stroke-linejoin="miter"/>
<path d="M511.7 428.0 L513.0 430.3 L515.7 430.3 L514.3 432.6 L515.7 434.9 L513.0 434.9 L511.7 437.2 L510.3 434.9 L507.7 434.9 L509.0 432.6 L507.7 430.3 L510.3 430.3 Z" fill="#40f0c0" stroke-linejoin="miter"/>
<path d="M519.2 442.3 L520.6 444.6 L523.2 444.6 L521.9 446.9 L523.2 449.2 L520.6 449.2 L519.2 451.5 L517.9 449.2 L515.3 449.2 L516.6 446.9 L515.3 444.6 L517.9 444.6 Z" fill="#40f0c0" stroke-linejoin="miter"/>
<path d="M532.3 466.5 L533.6 468.8 L536.3 468.8 L534.9 471.1 L536.3 473.4 L533.6 473.4 L532.3 475.7 L531.0 473.4 L528.3 473.4 L529.6 471.1 L528.3 468.8 L531.0 468.8 Z" fill="#40f0c0" stroke-linejoin="miter"/>
<path d="M537.4 479.5 L538.8 481.8 L541.4 481.8 L540.1 484.1 L541.4 486.4 L538.8 486.4 L537.4 488.7 L536.1 486.4 L533.5 486.4 L534.8 484.1 L533.5 481.8 L536.1 481.8 Z" fill="#2080f0" stroke-linejoin="miter"/>
<path d="M549.6 503.8 L550.9 506.1 L553.6 506.1 L552.2 508.4 L553.6 510.7 L550.9 510.7 L549.6 513.0 L548.2 510.7 L545.6 510.7 L546.9 508.4 L545.6 506.1 L548.2 506.1 Z" fill="#60e080" stroke-linejoin="miter"/>
<path d="M555.6 520.5 L557.0 522.8 L559.6 522.8 L558.3 525.1 L559.6 527.4 L557.0 527.4 L555.6 529.7 L554.3 527.4 L551.7 527.4 L553.0 525.1 L551.7 522.8 L554.3 522.8 Z" fill="#40f0e0" stroke-linejoin="miter"/>
<path d="M382.8 341.0 L387.3 348.8 L378.3 348.8 Z" fill="#1a1aa0" />
<path d="M429.8 356.2 L434.3 363.9 L425.3 363.9 Z" fill="#1a1aa0" />
<path d="M487.4 341.0 L491.9 348.8 L482.9 348.8 Z" fill="#1a1aa0" />
<circle cx="564.7" cy="329.5" r="5.5" fill="#000"/>
</g>
<circle cx="466.6" cy="346.2" r="201.5" fill="none" stroke="#666" stroke-width="1"/>
<rect x="370.5" y="288.9" width="134.2" height="135.1" fill="none" stroke="#000" stroke-width="3.20" stroke-dasharray="3.5 3.5"/>
<line x1="508.4" y1="288.9" x2="741.2" y2="203.5" stroke="#000" stroke-width="1.80" />
<line x1="508.4" y1="424.0" x2="740.3" y2="483.2" stroke="#000" stroke-width="1.80" />
<ellipse cx="632" cy="300" rx="60" ry="45" fill="url(#shadow)" filter="url(#blur4)"/>
<line x1="668" y1="305" x2="727" y2="360" stroke="#707068" stroke-width="18" stroke-linecap="round" filter="url(#blur2)" opacity="0.5"/>
<line x1="664" y1="301" x2="722" y2="352" stroke="url(#handle)" stroke-width="15" stroke-linecap="round"/>
<circle cx="628.6" cy="265.4" r="50" fill="url(#lens)" stroke="#2c4a70" stroke-width="4"/>
<line x1="576.0" y1="285.0" x2="681.0" y2="245.0" stroke="#888" stroke-width="1.50" opacity="0.8"/>
<path d="M600 228 Q 640 250 660 310" stroke="#999" stroke-width="1" fill="none"/>
<line x1="317.6" y1="190.0" x2="371.4" y2="243.8" stroke="#000" stroke-width="3.60" /><path d="M381.3 253.7 L366.1 247.7 L375.3 238.5 Z" fill="#000" />
<line x1="417.7" y1="152.1" x2="418.9" y2="223.0" stroke="#000" stroke-width="3.60" /><path d="M419.2 237.0 L412.4 222.1 L425.4 221.9 Z" fill="#000" />
<line x1="499.5" y1="153.6" x2="460.4" y2="230.6" stroke="#000" stroke-width="3.60" /><path d="M454.1 243.1 L455.1 226.8 L466.6 232.7 Z" fill="#000" />
<line x1="267.6" y1="346.2" x2="317.3" y2="341.4" stroke="#000" stroke-width="3.60" /><path d="M331.3 340.1 L316.9 348.0 L315.7 335.1 Z" fill="#000" />
<line x1="352.5" y1="453.8" x2="336.9" y2="504.1" stroke="#000" stroke-width="3.60" /><path d="M332.8 517.5 L331.0 501.3 L343.4 505.1 Z" fill="#000" />
<line x1="454.1" y1="470.5" x2="457.8" y2="533.8" stroke="#000" stroke-width="3.60" /><path d="M458.6 547.8 L451.2 533.2 L464.2 532.5 Z" fill="#000" />
<line x1="542.0" y1="469.0" x2="569.0" y2="521.7" stroke="#000" stroke-width="3.60" /><path d="M575.3 534.2 L562.7 523.8 L574.3 517.9 Z" fill="#000" />
<text x="253.4" y="190.3" font-size="23.0" font-weight="bold" textLength="61.0" lengthAdjust="spacingAndGlyphs">POES</text>
<text x="288.0" y="227.6" font-size="23.0" font-weight="bold" textLength="28.0" lengthAdjust="spacingAndGlyphs">18</text>
<text x="351.8" y="190.3" font-size="23.0" font-weight="bold" textLength="62.8" lengthAdjust="spacingAndGlyphs">POES</text>
<text x="385.7" y="227.6" font-size="23.0" font-weight="bold" textLength="28.0" lengthAdjust="spacingAndGlyphs">15</text>
<text x="494.3" y="205.5" font-size="23.0" font-weight="bold" textLength="113.7" lengthAdjust="spacingAndGlyphs">MetOp02</text>
<text x="272.0" y="370.0" font-size="23.0" font-weight="bold" textLength="90.0" lengthAdjust="spacingAndGlyphs">POES 19</text>
<text x="261.9" y="543.0" font-size="23.0" font-weight="bold" textLength="71.0" lengthAdjust="spacingAndGlyphs">68681</text>
<text x="428.0" y="577.0" font-size="23.0" font-weight="bold" textLength="71.4" lengthAdjust="spacingAndGlyphs">68682</text>
<text x="560.5" y="560.0" font-size="23.0" font-weight="bold" textLength="71.2" lengthAdjust="spacingAndGlyphs">68683</text>
<text x="263.6" y="125.8" font-size="58.0" font-weight="bold" textLength="27.1" lengthAdjust="spacingAndGlyphs">a</text>
<text x="423.4" y="132.9" font-size="16.0" fill="#111" transform="rotate(-60.0 423.4 132.9)">E</text>
<text x="426.9" y="141.0" font-size="16.0" fill="#111" transform="rotate(-15.0 426.9 141.0)">180°</text>
<text x="467.8" y="128.1" font-size="16.0" fill="#111" transform="rotate(15.0 467.8 128.1)">150°</text>
<text x="510.3" y="145.5" font-size="16.0" fill="#111" transform="rotate(20.0 510.3 145.5)">W</text>
<text x="523.1" y="130.0" font-size="16.0" fill="#111" transform="rotate(40.0 523.1 130.0)">120°</text>
<text x="551.8" y="168.1" font-size="16.0" fill="#111" transform="rotate(45.0 551.8 168.1)">W</text>
<text x="605.4" y="171.6" font-size="16.0" fill="#111" transform="rotate(80.0 605.4 171.6)">90°</text>
<text x="603.3" y="204.8" font-size="16.0" fill="#111" transform="rotate(80.0 603.3 204.8)">W</text>
<text x="386.7" y="168.4" font-size="16.0" fill="#111" transform="rotate(-50.0 386.7 168.4)">150°</text>
<text x="353.9" y="156.2" font-size="16.0" fill="#111" transform="rotate(-70.0 353.9 156.2)">E</text>
<text x="341.5" y="202.1" font-size="16.0" fill="#111" transform="rotate(-70.0 341.5 202.1)">120°</text>
<text x="262.0" y="238.4" font-size="16.0" fill="#111" transform="rotate(60.0 262.0 238.4)">90°</text>
<text x="274.4" y="276.3" font-size="16.0" fill="#111" transform="rotate(70.0 274.4 276.3)">E</text>
<text x="246.8" y="396.0" font-size="16.0" fill="#111" transform="rotate(40.0 246.8 396.0)">60°</text>
<text x="272.2" y="420.7" font-size="16.0" fill="#111" transform="rotate(45.0 272.2 420.7)">E</text>
<text x="341.0" y="534.6" font-size="16.0" fill="#111" transform="rotate(-10.0 341.0 534.6)">30°</text>
<text x="375.7" y="543.6" font-size="16.0" fill="#111" transform="rotate(15.0 375.7 543.6)">E</text>
<text x="522.4" y="562.8" font-size="16.0" fill="#111" transform="rotate(-80.0 522.4 562.8)">0°</text>
<text x="514.1" y="268.8" font-size="16.0" fill="#111" transform="rotate(-40.0 514.1 268.8)">80°</text>
<text x="546.7" y="249.0" font-size="16.0" fill="#111" transform="rotate(20.0 546.7 249.0)">S</text>
<text x="545.2" y="332.3" font-size="16.0" fill="#111" transform="rotate(-40.0 545.2 332.3)">70°</text>
<text x="576.3" y="310.7" font-size="16.0" fill="#111" transform="rotate(20.0 576.3 310.7)">S</text>
<text x="574.8" y="395.1" font-size="16.0" fill="#111" transform="rotate(-40.0 574.8 395.1)">60°</text>
<text x="605.1" y="374.3" font-size="16.0" fill="#111" transform="rotate(20.0 605.1 374.3)">S</text>
<text x="667.6" y="324.1" font-size="16.0" fill="#111" transform="rotate(-80.0 667.6 324.1)">6</text>
<text x="688.7" y="290.5" font-size="16.0" fill="#111" transform="rotate(-70.0 688.7 290.5)">W</text>
<text x="600.5" y="456.9" font-size="16.0" fill="#111" transform="rotate(-40.0 600.5 456.9)">50°</text>
<text x="631.0" y="436.1" font-size="16.0" fill="#111" transform="rotate(20.0 631.0 436.1)">S</text>
<text x="633.3" y="473.8" font-size="16.0" fill="#111" transform="rotate(-40.0 633.3 473.8)">30°</text>
<text x="666.2" y="450.6" font-size="16.0" fill="#111" transform="rotate(-30.0 666.2 450.6)">W</text>
<rect x="745.7" y="204.5" width="606.7" height="149.5" fill="#e2e2e2" />
<path d="M1200.0 340.0 L1352.4 340.0 L1352.4 401.0 L1330.0 405.0 L1340.0 487.4 L1240.0 487.4 L1228.0 440.0 L1213.0 400.0 L1217.0 375.0 L1230.0 350.0 Z" fill="#e2e2e2" />
<defs><clipPath id="bclip"><path d="M874.9 204.5 L860.6 227.2 L842.0 260.0 L824.8 293.9 L810.0 322.0 L798.6 351.0 L786.7 374.9 L772.0 410.0 L758.1 446.4 L745.7 488.0 L1352.4 487.4 L1340.3 460.3 L1325.8 419.2 L1308.8 373.2 L1287.0 320.0 L1267.7 276.4 L1243.5 232.9 L1223.7 204.6 Z"/></clipPath></defs>
<g clip-path="url(#bclip)">
<path d="M740.0 353.0 L800.0 354.0 L830.0 372.0 L860.0 360.0 L900.0 356.0 L958.0 344.0 L1010.0 325.0 L1049.0 314.0 L1096.0 304.0 L1150.0 312.0 L1200.0 330.0 L1230.0 345.0 L1217.0 375.0 L1213.0 400.0 L1230.0 430.0 L1240.0 490.0 L740.0 490.0 Z" fill="#fff" stroke="#666" stroke-width="0.70" />
<g transform="rotate(-22 1050 300)" fill="none" stroke-width="6.2"><path stroke="#e4c838" d="M914.4 143.4h6.2m-0.6 0h6.2m5 5.6h6.2m-34.2 5.6h6.2m-0.6 0h6.2m-0.6 0h6.2m-17.4 5.6h6.2m-6.2 11.2h6.2m-0.6 0h6.2m21.8 0h6.2m-0.6 0h6.2m44.2 0h6.2m-118.2 5.6h6.2m-0.6 0h6.2m5 0h6.2m-0.6 0h6.2m-0.6 0h6.2m-0.6 0h6.2m-0.6 0h6.2m-0.6 0h6.2m-0.6 0h6.2m-34.2 5.6h6.2m55.4 0h6.2m49.8 0h6.2m-39.8 5.6h6.2m-0.6 0h6.2m-0.6 0h6.2m-0.6 0h6.2m-0.6 0h6.2m-151.8 5.6h6.2m-0.6 0h6.2m-0.6 0h6.2m72.2 0h6.2m-0.6 0h6.2m16.2 0h6.2m-129.4 5.6h6.2m-0.6 0h6.2m-0.6 0h6.2m167.4 0h6.2m-202.2 5.6h6.2m38.6 0h6.2m-0.6 0h6.2m-0.6 0h6.2m-0.6 0h6.2m61 0h6.2m-0.6 0h6.2m10.6 0h6.2m-0.6 0h6.2m-0.6 0h6.2m49.8 0h6.2m-67.8 5.6h6.2m44.2 0h6.2m-0.6 0h6.2m-151.8 5.6h6.2m-0.6 0h6.2m-0.6 0h6.2m-0.6 0h6.2m-0.6 0h6.2m27.4 0h6.2m-0.6 0h6.2m-0.6 0h6.2m33 0h6.2m-0.6 0h6.2m33 0h6.2m-39.8 5.6h6.2m-0.6 0h6.2m44.2 0h6.2m-207.8 5.6h6.2m49.8 0h6.2m-0.6 0h6.2m-6.2 5.6h6.2m83.4 0h6.2m27.4 0h6.2m33 0h6.2m-0.6 0h6.2m-0.6 0h6.2m-174.2 5.6h6.2m66.6 0h6.2m-0.6 0h6.2m-0.6 0h6.2m-0.6 0h6.2m-0.6 0h6.2m-0.6 0h6.2m77.8 0h6.2m-0.6 0h6.2m-0.6 0h6.2m-140.6 5.6h6.2m38.6 0h6.2m-0.6 0h6.2m21.8 0h6.2m5 0h6.2m16.2 0h6.2m-0.6 0h6.2m27.4 0h6.2m-0.6 0h6.2m-241.4 5.6h6.2m-0.6 0h6.2m-0.6 0h6.2m5 0h6.2m-0.6 0h6.2m-0.6 0h6.2m38.6 11.2h6.2m-0.6 0h6.2m16.2 0h6.2m-62.2 5.6h6.2m44.2 0h6.2m105.8 0h6.2m21.8 0h6.2m27.4 0h6.2m-157.4 5.6h6.2m-0.6 0h6.2m-0.6 0h6.2m-0.6 0h6.2m-0.6 0h6.2m21.8 0h6.2m16.2 0h6.2m-0.6 0h6.2m-0.6 0h6.2m-0.6 0h6.2m55.4 0h6.2m-0.6 0h6.2m-336.6 5.6h6.2m105.8 0h6.2m-0.6 0h6.2m-0.6 0h6.2m122.6 0h6.2m94.6 0h6.2m-191 5.6h6.2m-0.6 0h6.2m-0.6 0h6.2m-0.6 0h6.2m-0.6 0h6.2m10.6 0h6.2m5 0h6.2m-0.6 0h6.2m-0.6 0h6.2m-0.6 0h6.2m49.8 0h6.2m-0.6 0h6.2m5 0h6.2m-297.4 5.6h6.2m5 0h6.2m38.6 0h6.2m-0.6 0h6.2m5 0h6.2m33 0h6.2m-0.6 0h6.2m-0.6 0h6.2m-0.6 0h6.2m-0.6 0h6.2m-0.6 0h6.2m150.6 0h6.2m-0.6 0h6.2m-0.6 0h6.2m16.2 0h6.2m-0.6 0h6.2m-0.6 0h6.2m-364.6 5.6h6.2m89 0h6.2m122.6 0h6.2m-0.6 0h6.2m5 0h6.2m-0.6 0h6.2m-0.6 0h6.2m61 0h6.2m10.6 0h6.2m-286.2 5.6h6.2m89 0h6.2m5 0h6.2m16.2 0h6.2m-0.6 0h6.2m-0.6 0h6.2m72.2 0h6.2m-207.8 5.6h6.2m77.8 0h6.2m33 0h6.2m-0.6 0h6.2m-0.6 0h6.2m16.2 0h6.2m-0.6 0h6.2m-0.6 0h6.2m-0.6 0h6.2m-179.8 5.6h6.2m61 0h6.2m-0.6 0h6.2m-0.6 0h6.2m-0.6 0h6.2m133.8 0h6.2m-0.6 0h6.2m-0.6 0h6.2m-0.6 0h6.2m-0.6 0h6.2m-0.6 0h6.2m-112.6 5.6h6.2m55.4 0h6.2m5 0h6.2m16.2 0h6.2m-0.6 0h6.2m5 0h6.2m-0.6 0h6.2m-0.6 0h6.2m-0.6 0h6.2m-247 5.6h6.2m-0.6 0h6.2m-0.6 0h6.2m55.4 0h6.2m77.8 0h6.2m-0.6 0h6.2m-0.6 0h6.2m-0.6 0h6.2m38.6 0h6.2m-191 5.6h6.2m-0.6 0h6.2m-0.6 0h6.2m21.8 0h6.2m89 0h6.2m83.4 0h6.2m-163 5.6h6.2m-0.6 0h6.2m66.6 0h6.2m-0.6 0h6.2m-0.6 0h6.2m5 0h6.2m5 5.6h6.2m-0.6 0h6.2m-0.6 0h6.2m27.4 5.6h6.2m-0.6 0h6.2m-174.2 11.2h6.2m-0.6 0h6.2m94.6 0h6.2m-101.4 5.6h6.2m-0.6 0h6.2m49.8 11.2h6.2m49.8 0h6.2m-90.2 16.8h6.2m-0.6 0h6.2m-0.6 0h6.2m33 0h6.2m-0.6 0h6.2m21.8 16.8h6.2m-0.6 0h6.2m-6.2 11.2h6.2m16.2 5.6h6.2m-0.6 5.6h6.2m-0.6 0h6.2"/><path stroke="#5ac0e8" d="M925.6 143.4h6.2m-17.4 16.8h6.2m33 16.8h6.2m-0.6 0h6.2m-0.6 0h6.2m10.6 0h6.2m5 0h6.2m-0.6 0h6.2m-129.4 5.6h6.2m-0.6 0h6.2m-11.8 16.8h6.2m10.6 0h6.2m-23 5.6h6.2m-0.6 0h6.2m150.6 0h6.2m-0.6 0h6.2m-168.6 5.6h6.2m-0.6 0h6.2m61 0h6.2m5 0h6.2m-0.6 0h6.2m66.6 0h6.2m-196.6 5.6h6.2m139.4 0h6.2m-129.4 5.6h6.2m49.8 0h6.2m-0.6 0h6.2m100.2 5.6h6.2m61 0h6.2m16.2 0h6.2m-6.2 5.6h6.2m-62.2 5.6h6.2m-95.8 5.6h6.2m-0.6 0h6.2m5 0h6.2m-0.6 0h6.2m161.8 11.2h6.2m-0.6 0h6.2m-0.6 0h6.2m-0.6 0h6.2m-140.6 11.2h6.2m16.2 0h6.2m-0.6 0h6.2m10.6 0h6.2m-79 5.6h6.2m-0.6 0h6.2m-0.6 0h6.2m145 0h6.2m-0.6 0h6.2m-0.6 0h6.2m-359 5.6h6.2m206.6 0h6.2m-0.6 0h6.2m-0.6 0h6.2m-0.6 0h6.2m-0.6 0h6.2m-0.6 0h6.2m-0.6 0h6.2m-168.6 5.6h6.2m-0.6 0h6.2m206.6 0h6.2m-0.6 0h6.2m-0.6 0h6.2m-0.6 0h6.2m-67.8 5.6h6.2m-0.6 0h6.2m-0.6 0h6.2m-0.6 0h6.2m-0.6 0h6.2m-0.6 0h6.2m-0.6 0h6.2m-129.4 5.6h6.2m66.6 0h6.2m21.8 0h6.2m-107 5.6h6.2m61 0h6.2m61 5.6h6.2m-0.6 0h6.2m-0.6 0h6.2m-107 11.2h6.2m-0.6 0h6.2m133.8 0h6.2m21.8 0h6.2m-67.8 5.6h6.2m16.2 0h6.2m-0.6 0h6.2m-207.8 5.6h6.2m21.8 5.6h6.2m77.8 0h6.2m-0.6 0h6.2m-73.4 11.2h6.2m-0.6 0h6.2m27.4 0h6.2m10.6 0h6.2m-0.6 0h6.2m-0.6 0h6.2m-39.8 5.6h6.2m-0.6 0h6.2m-0.6 0h6.2m-0.6 0h6.2m-0.6 0h6.2m10.6 0h6.2m-0.6 0h6.2m-56.6 5.6h6.2m27.4 0h6.2m-0.6 0h6.2m10.6 0h6.2m-0.6 0h6.2m-0.6 0h6.2m-0.6 0h6.2m27.4 0h6.2m27.4 0h6.2m-84.6 11.2h6.2m27.4 0h6.2m-0.6 0h6.2m44.2 5.6h6.2m16.2 0h6.2m-174.2 5.6h6.2m-0.6 0h6.2m49.8 5.6h6.2m55.4 0h6.2m-0.6 0h6.2m21.8 0h6.2m-0.6 0h6.2m-0.6 0h6.2m-84.6 5.6h6.2m16.2 0h6.2m-0.6 0h6.2m-67.8 5.6h6.2m-0.6 0h6.2m-0.6 0h6.2m-0.6 0h6.2m38.6 0h6.2m-0.6 0h6.2m-0.6 0h6.2m-0.6 0h6.2m16.2 5.6h6.2m-17.4 5.6h6.2m5 5.6h6.2m-0.6 0h6.2m-101.4 5.6h6.2m-0.6 0h6.2m38.6 0h6.2m-0.6 0h6.2m-0.6 0h6.2m27.4 5.6h6.2m-0.6 0h6.2m-28.6 16.8h6.2m-0.6 0h6.2m-0.6 0h6.2m-0.6 0h6.2m-45.4 11.2h6.2m-0.6 0h6.2m-0.6 0h6.2"/><path stroke="#f8ee1a" d="M908.8 149h6.2m-0.6 0h6.2m33 5.6h6.2m-51 5.6h6.2m5 0h6.2m-0.6 0h6.2m16.2 0h6.2m-0.6 0h6.2m-0.6 0h6.2m-0.6 0h6.2m-73.4 5.6h6.2m-0.6 0h6.2m-0.6 0h6.2m-0.6 0h6.2m-0.6 0h6.2m16.2 0h6.2m27.4 0h6.2m-0.6 0h6.2m-101.4 5.6h6.2m-0.6 0h6.2m-0.6 0h6.2m44.2 0h6.2m-0.6 0h6.2m5 0h6.2m16.2 0h6.2m-101.4 5.6h6.2m72.2 0h6.2m-0.6 0h6.2m5 0h6.2m-67.8 5.6h6.2m-0.6 0h6.2m66.6 0h6.2m-0.6 0h6.2m-95.8 5.6h6.2m5 0h6.2m-0.6 0h6.2m27.4 0h6.2m-0.6 0h6.2m-56.6 5.6h6.2m-0.6 0h6.2m-0.6 0h6.2m21.8 0h6.2m-0.6 0h6.2m16.2 0h6.2m-0.6 0h6.2m10.6 0h6.2m-0.6 0h6.2m-0.6 0h6.2m-0.6 0h6.2m-62.2 5.6h6.2m-0.6 0h6.2m-0.6 0h6.2m-0.6 0h6.2m-0.6 0h6.2m-0.6 0h6.2m38.6 0h6.2m-0.6 0h6.2m-0.6 0h6.2m-213.4 5.6h6.2m-0.6 0h6.2m-0.6 0h6.2m-0.6 0h6.2m10.6 0h6.2m49.8 0h6.2m-0.6 0h6.2m-0.6 0h6.2m-0.6 0h6.2m-0.6 0h6.2m-0.6 0h6.2m38.6 0h6.2m-0.6 0h6.2m-0.6 0h6.2m-0.6 0h6.2m10.6 0h6.2m-0.6 0h6.2m-0.6 0h6.2m-224.6 5.6h6.2m-0.6 0h6.2m-0.6 0h6.2m33 0h6.2m77.8 0h6.2m-0.6 0h6.2m-0.6 0h6.2m16.2 0h6.2m16.2 0h6.2m10.6 0h6.2m-196.6 5.6h6.2m-0.6 0h6.2m-0.6 0h6.2m-0.6 0h6.2m-0.6 0h6.2m5 0h6.2m-0.6 0h6.2m-0.6 0h6.2m-0.6 0h6.2m27.4 0h6.2m-0.6 0h6.2m-0.6 0h6.2m-0.6 0h6.2m-0.6 0h6.2m16.2 0h6.2m-0.6 0h6.2m49.8 0h6.2m-0.6 0h6.2m-0.6 0h6.2m5 0h6.2m-0.6 0h6.2m10.6 0h6.2m-0.6 0h6.2m-0.6 0h6.2m-219 5.6h6.2m-0.6 0h6.2m-0.6 0h6.2m-0.6 0h6.2m-0.6 0h6.2m-0.6 0h6.2m-0.6 0h6.2m27.4 0h6.2m10.6 0h6.2m-0.6 0h6.2m-0.6 0h6.2m-0.6 0h6.2m-0.6 0h6.2m5 0h6.2m-0.6 0h6.2m-0.6 0h6.2m-0.6 0h6.2m27.4 0h6.2m-0.6 0h6.2m-0.6 0h6.2m-0.6 0h6.2m-0.6 0h6.2m-196.6 5.6h6.2m-0.6 0h6.2m-0.6 0h6.2m-0.6 0h6.2m-0.6 0h6.2m-0.6 0h6.2m-0.6 0h6.2m38.6 0h6.2m72.2 0h6.2m21.8 0h6.2m-0.6 0h6.2m-0.6 0h6.2m-0.6 0h6.2m-0.6 0h6.2m-0.6 0h6.2m5 0h6.2m-0.6 0h6.2m-0.6 0h6.2m-230.2 5.6h6.2m-0.6 0h6.2m-0.6 0h6.2m-0.6 0h6.2m-0.6 0h6.2m-0.6 0h6.2m-0.6 0h6.2m-0.6 0h6.2m27.4 0h6.2m10.6 0h6.2m16.2 0h6.2m61 0h6.2m-0.6 0h6.2m5 0h6.2m-0.6 0h6.2m-196.6 5.6h6.2m10.6 0h6.2m-0.6 0h6.2m-0.6 0h6.2m21.8 0h6.2m-0.6 0h6.2m-0.6 0h6.2m72.2 0h6.2m-0.6 0h6.2m16.2 0h6.2m-0.6 0h6.2m-0.6 0h6.2m-0.6 0h6.2m-0.6 0h6.2m38.6 0h6.2m-0.6 0h6.2m-353.4 5.6h6.2m21.8 0h6.2m89 0h6.2m100.2 0h6.2m-0.6 0h6.2m16.2 0h6.2m10.6 0h6.2m16.2 0h6.2m-0.6 0h6.2m-0.6 0h6.2m27.4 0h6.2m-0.6 0h6.2m-347.8 5.6h6.2m33 0h6.2m89 0h6.2m21.8 0h6.2m-0.6 0h6.2m-0.6 0h6.2m72.2 0h6.2m5 0h6.2m-0.6 0h6.2m5 0h6.2m-0.6 0h6.2m-0.6 0h6.2m-0.6 0h6.2m-0.6 0h6.2m-0.6 0h6.2m-0.6 0h6.2m33 0h6.2m-0.6 0h6.2m-0.6 0h6.2m-0.6 0h6.2m-336.6 5.6h6.2m89 0h6.2m16.2 0h6.2m-0.6 0h6.2m-0.6 0h6.2m-0.6 0h6.2m-0.6 0h6.2m-0.6 0h6.2m-0.6 0h6.2m-0.6 0h6.2m-0.6 0h6.2m77.8 0h6.2m-0.6 0h6.2m-0.6 0h6.2m-0.6 0h6.2m5 0h6.2m5 0h6.2m-0.6 0h6.2m-0.6 0h6.2m-0.6 0h6.2m-0.6 0h6.2m-0.6 0h6.2m-314.2 5.6h6.2m94.6 0h6.2m55.4 0h6.2m-0.6 0h6.2m-0.6 0h6.2m77.8 0h6.2m16.2 0h6.2m-0.6 0h6.2m-0.6 0h6.2m-0.6 0h6.2m-0.6 0h6.2m-0.6 0h6.2m27.4 0h6.2m-364.6 5.6h6.2m117 0h6.2m-0.6 0h6.2m-0.6 0h6.2m10.6 0h6.2m66.6 0h6.2m33 0h6.2m-0.6 0h6.2m-0.6 0h6.2m-0.6 0h6.2m-0.6 0h6.2m-0.6 0h6.2m10.6 0h6.2m-0.6 0h6.2m-0.6 0h6.2m-0.6 0h6.2m10.6 0h6.2m10.6 0h6.2m-224.6 5.6h6.2m-0.6 0h6.2m-0.6 0h6.2m-0.6 0h6.2m-0.6 0h6.2m-0.6 0h6.2m-0.6 0h6.2m61 0h6.2m-0.6 0h6.2m-0.6 0h6.2m-0.6 0h6.2m5 0h6.2m33 0h6.2m-0.6 0h6.2m21.8 0h6.2m27.4 0h6.2m-0.6 0h6.2m10.6 0h6.2m-224.6 5.6h6.2m-0.6 0h6.2m-0.6 0h6.2m-0.6 0h6.2m-0.6 0h6.2m66.6 0h6.2m-0.6 0h6.2m72.2 0h6.2m5 0h6.2m21.8 0h6.2m-0.6 0h6.2m-375.8 5.6h6.2m-0.6 0h6.2m5 0h6.2m-0.6 0h6.2m-0.6 0h6.2m-0.6 0h6.2m-0.6 0h6.2m-0.6 0h6.2m-0.6 0h6.2m145 0h6.2m10.6 0h6.2m27.4 0h6.2m-0.6 0h6.2m-0.6 0h6.2m-0.6 0h6.2m33 0h6.2m10.6 0h6.2m-314.2 5.6h6.2m16.2 0h6.2m-0.6 0h6.2m5 0h6.2m-0.6 0h6.2m100.2 0h6.2m10.6 0h6.2m-0.6 0h6.2m5 0h6.2m-0.6 0h6.2m-0.6 0h6.2m55.4 0h6.2m-0.6 0h6.2m-0.6 0h6.2m-0.6 0h6.2m-0.6 0h6.2m-0.6 0h6.2m-0.6 0h6.2m-0.6 0h6.2m16.2 0h6.2m-0.6 0h6.2m-331 5.6h6.2m-0.6 0h6.2m-0.6 0h6.2m-0.6 0h6.2m-0.6 0h6.2m-0.6 0h6.2m-0.6 0h6.2m10.6 0h6.2m-0.6 0h6.2m-0.6 0h6.2m-0.6 0h6.2m27.4 0h6.2m77.8 0h6.2m72.2 0h6.2m-0.6 0h6.2m-0.6 0h6.2m5 0h6.2m-0.6 0h6.2m33 0h6.2m-0.6 0h6.2m-0.6 0h6.2m-314.2 5.6h6.2m-0.6 0h6.2m5 0h6.2m16.2 0h6.2m-0.6 0h6.2m21.8 0h6.2m33 0h6.2m44.2 0h6.2m-0.6 0h6.2m-0.6 0h6.2m21.8 0h6.2m-0.6 0h6.2m-0.6 0h6.2m-0.6 0h6.2m-0.6 0h6.2m33 0h6.2m-0.6 0h6.2m-0.6 0h6.2m5 0h6.2m-0.6 0h6.2m-0.6 0h6.2m-0.6 0h6.2m-303 5.6h6.2m-0.6 0h6.2m-0.6 0h6.2m-0.6 0h6.2m21.8 0h6.2m-0.6 0h6.2m-0.6 0h6.2m-0.6 0h6.2m5 0h6.2m-0.6 0h6.2m-0.6 0h6.2m-0.6 0h6.2m16.2 0h6.2m-0.6 0h6.2m-0.6 0h6.2m33 0h6.2m-0.6 0h6.2m27.4 0h6.2m61 0h6.2m5 0h6.2m-0.6 0h6.2m-0.6 0h6.2m-0.6 0h6.2m-0.6 0h6.2m5 0h6.2m-291.8 5.6h6.2m-0.6 0h6.2m77.8 0h6.2m-0.6 0h6.2m72.2 0h6.2m77.8 0h6.2m-0.6 0h6.2m-0.6 0h6.2m-0.6 0h6.2m-0.6 0h6.2m-247 5.6h6.2m-0.6 0h6.2m21.8 0h6.2m-0.6 0h6.2m27.4 0h6.2m10.6 0h6.2m-0.6 0h6.2m77.8 0h6.2m-0.6 0h6.2m-0.6 0h6.2m-168.6 5.6h6.2m-0.6 0h6.2m16.2 0h6.2m72.2 0h6.2m-0.6 0h6.2m66.6 0h6.2m-0.6 0h6.2m-0.6 0h6.2m-118.2 5.6h6.2m-0.6 0h6.2m-0.6 0h6.2m16.2 0h6.2m10.6 0h6.2m10.6 0h6.2m-0.6 0h6.2m16.2 0h6.2m-0.6 0h6.2m-140.6 5.6h6.2m66.6 5.6h6.2m5 0h6.2m55.4 0h6.2m21.8 0h6.2m-219 5.6h6.2m-0.6 0h6.2m83.4 0h6.2m38.6 0h6.2m-0.6 0h6.2m21.8 0h6.2m5 0h6.2m-0.6 0h6.2m5 0h6.2m-56.6 5.6h6.2m-0.6 0h6.2m-0.6 0h6.2m5 0h6.2m-0.6 0h6.2m-0.6 0h6.2m16.2 0h6.2m-0.6 0h6.2m-28.6 5.6h6.2m-0.6 0h6.2m-0.6 0h6.2m-0.6 0h6.2m-0.6 0h6.2m-140.6 5.6h6.2m100.2 0h6.2m-146.2 5.6h6.2m-0.6 0h6.2m10.6 0h6.2m-0.6 0h6.2m-0.6 0h6.2m117 0h6.2m-0.6 0h6.2m-0.6 0h6.2m-185.4 5.6h6.2m5 0h6.2m-0.6 0h6.2m-0.6 0h6.2m72.2 5.6h6.2m-28.6 5.6h6.2m-0.6 0h6.2m-0.6 0h6.2m-0.6 0h6.2m-79 5.6h6.2m-0.6 0h6.2m5 0h6.2m10.6 5.6h6.2m38.6 0h6.2m-0.6 0h6.2m21.8 5.6h6.2m-90.2 5.6h6.2m38.6 5.6h6.2m-0.6 0h6.2m21.8 0h6.2m-0.6 0h6.2m-34.2 5.6h6.2m-0.6 0h6.2m-0.6 0h6.2m-34.2 11.2h6.2m-0.6 0h6.2"/><path stroke="#26b0a8" d="M920 149h6.2m-0.6 0h6.2m-11.8 5.6h6.2m49.8 16.8h6.2m-45.4 5.6h6.2m-0.6 0h6.2m-0.6 0h6.2m-11.8 5.6h6.2m21.8 0h6.2m-0.6 0h6.2m-0.6 0h6.2m-0.6 0h6.2m-0.6 0h6.2m-0.6 0h6.2m-62.2 5.6h6.2m-0.6 0h6.2m-0.6 0h6.2m-0.6 0h6.2m49.8 0h6.2m-0.6 0h6.2m-146.2 5.6h6.2m-0.6 0h6.2m-0.6 0h6.2m-0.6 0h6.2m139.4 0h6.2m-0.6 0h6.2m-123.8 5.6h6.2m5 0h6.2m5 0h6.2m-45.4 5.6h6.2m-62.2 5.6h6.2m-0.6 0h6.2m-0.6 0h6.2m-0.6 0h6.2m33 0h6.2m-0.6 0h6.2m139.4 0h6.2m-0.6 0h6.2m-0.6 0h6.2m-0.6 0h6.2m-0.6 0h6.2m-79 5.6h6.2m10.6 0h6.2m-0.6 0h6.2m-0.6 0h6.2m-6.2 5.6h6.2m-0.6 0h6.2m-0.6 0h6.2m38.6 0h6.2m-151.8 5.6h6.2m100.2 0h6.2m-0.6 0h6.2m-0.6 0h6.2m-118.2 5.6h6.2m-0.6 0h6.2m61 0h6.2m5 0h6.2m44.2 0h6.2m27.4 0h6.2m5 0h6.2m-0.6 0h6.2m-336.6 5.6h6.2m139.4 0h6.2m-0.6 0h6.2m-45.4 5.6h6.2m-0.6 0h6.2m89 0h6.2m-0.6 0h6.2m-0.6 0h6.2m10.6 0h6.2m16.2 0h6.2m16.2 0h6.2m-258.2 5.6h6.2m-0.6 0h6.2m156.2 0h6.2m-0.6 0h6.2m-0.6 0h6.2m61 0h6.2m49.8 0h6.2m-342.2 5.6h6.2m139.4 0h6.2m77.8 0h6.2m-0.6 0h6.2m-0.6 0h6.2m-0.6 0h6.2m133.8 0h6.2m-381.4 5.6h6.2m-0.6 0h6.2m173 0h6.2m83.4 0h6.2m5 0h6.2m-0.6 0h6.2m5 0h6.2m-0.6 0h6.2m38.6 0h6.2m-0.6 0h6.2m21.8 0h6.2m-213.4 5.6h6.2m-0.6 0h6.2m-0.6 0h6.2m-0.6 0h6.2m-0.6 0h6.2m-0.6 0h6.2m5 0h6.2m-0.6 0h6.2m-0.6 0h6.2m133.8 0h6.2m-0.6 0h6.2m21.8 0h6.2m-185.4 5.6h6.2m-0.6 0h6.2m173 0h6.2m-364.6 5.6h6.2m-0.6 0h6.2m5 0h6.2m-0.6 0h6.2m111.4 0h6.2m33 0h6.2m-0.6 0h6.2m89 0h6.2m-0.6 0h6.2m-0.6 0h6.2m-0.6 0h6.2m-0.6 0h6.2m10.6 0h6.2m10.6 0h6.2m-359 5.6h6.2m27.4 0h6.2m49.8 0h6.2m83.4 0h6.2m-0.6 0h6.2m77.8 0h6.2m77.8 0h6.2m-0.6 0h6.2m-0.6 0h6.2m-0.6 0h6.2m-0.6 0h6.2m-0.6 0h6.2m-0.6 0h6.2m-0.6 0h6.2m-375.8 5.6h6.2m44.2 0h6.2m16.2 0h6.2m139.4 0h6.2m44.2 0h6.2m-118.2 5.6h6.2m-0.6 0h6.2m94.6 0h6.2m-0.6 0h6.2m-0.6 0h6.2m55.4 0h6.2m-314.2 5.6h6.2m-0.6 0h6.2m-0.6 0h6.2m-0.6 0h6.2m21.8 0h6.2m-0.6 0h6.2m49.8 0h6.2m10.6 0h6.2m21.8 0h6.2m-0.6 0h6.2m38.6 0h6.2m-0.6 0h6.2m49.8 0h6.2m61 0h6.2m-0.6 0h6.2m-0.6 0h6.2m-275 11.2h6.2m89 0h6.2m-0.6 0h6.2m-0.6 0h6.2m-0.6 0h6.2m10.6 0h6.2m-0.6 0h6.2m94.6 0h6.2m-247 5.6h6.2m33 0h6.2m33 0h6.2m-0.6 0h6.2m61 0h6.2m-0.6 0h6.2m-0.6 0h6.2m27.4 0h6.2m-62.2 5.6h6.2m-0.6 0h6.2m-0.6 0h6.2m-0.6 0h6.2m-45.4 5.6h6.2m-0.6 0h6.2m-0.6 0h6.2m83.4 0h6.2m16.2 5.6h6.2m-0.6 0h6.2m-0.6 0h6.2m-179.8 5.6h6.2m-0.6 0h6.2m-0.6 0h6.2m21.8 0h6.2m61 0h6.2m-123.8 11.2h6.2m66.6 0h6.2m-0.6 0h6.2m105.8 0h6.2m-0.6 0h6.2m-174.2 5.6h6.2m-0.6 0h6.2m145 0h6.2m-95.8 5.6h6.2m10.6 0h6.2m-0.6 0h6.2m16.2 0h6.2m-0.6 0h6.2m5 0h6.2m-101.4 5.6h6.2m49.8 0h6.2m-0.6 0h6.2m16.2 0h6.2m-0.6 0h6.2m-0.6 0h6.2m5 0h6.2m-0.6 0h6.2m-84.6 5.6h6.2m-0.6 0h6.2m33 0h6.2m-0.6 0h6.2m-0.6 0h6.2m10.6 0h6.2m-107 5.6h6.2m38.6 0h6.2m-0.6 0h6.2m-0.6 0h6.2m-0.6 0h6.2m27.4 0h6.2m-0.6 0h6.2m10.6 0h6.2m-140.6 5.6h6.2m-0.6 0h6.2m-0.6 0h6.2m111.4 0h6.2m-0.6 0h6.2m-0.6 0h6.2m-0.6 0h6.2m-51 5.6h6.2m16.2 0h6.2m27.4 0h6.2m-151.8 5.6h6.2m27.4 0h6.2m49.8 0h6.2m-0.6 0h6.2m-73.4 5.6h6.2m-0.6 0h6.2m-0.6 0h6.2m38.6 0h6.2m-0.6 0h6.2m55.4 0h6.2m-140.6 5.6h6.2m10.6 0h6.2m66.6 0h6.2m10.6 0h6.2m10.6 0h6.2m-17.4 5.6h6.2m16.2 0h6.2m-17.4 5.6h6.2m-0.6 0h6.2m-0.6 0h6.2m-84.6 5.6h6.2m-0.6 0h6.2m-0.6 5.6h6.2m-0.6 0h6.2m5 0h6.2m-0.6 0h6.2m-0.6 0h6.2m-28.6 5.6h6.2m-0.6 0h6.2m-0.6 0h6.2m21.8 0h6.2m-0.6 0h6.2m-0.6 0h6.2m-0.6 0h6.2m-0.6 0h6.2m-67.8 5.6h6.2m-11.8 5.6h6.2m-0.6 0h6.2m27.4 5.6h6.2m-0.6 0h6.2m-17.4 5.6h6.2m10.6 0h6.2m5 5.6h6.2m-0.6 5.6h6.2"/><path stroke="#6cc07a" d="M936.8 149h6.2m-11.8 11.2h6.2m-0.6 0h6.2m-0.6 0h6.2m-34.2 11.2h6.2m-0.6 0h6.2m-0.6 0h6.2m-0.6 0h6.2m66.6 5.6h6.2m-0.6 0h6.2m-107 5.6h6.2m-0.6 0h6.2m-0.6 0h6.2m10.6 0h6.2m-17.4 5.6h6.2m49.8 0h6.2m-84.6 5.6h6.2m-0.6 0h6.2m-0.6 0h6.2m21.8 0h6.2m-0.6 0h6.2m21.8 0h6.2m21.8 0h6.2m27.4 0h6.2m-146.2 5.6h6.2m-0.6 0h6.2m-0.6 0h6.2m-0.6 0h6.2m-0.6 0h6.2m-0.6 0h6.2m33 0h6.2m-0.6 0h6.2m33 0h6.2m-0.6 0h6.2m-0.6 0h6.2m-0.6 0h6.2m-107 5.6h6.2m-0.6 0h6.2m-0.6 0h6.2m44.2 0h6.2m-0.6 0h6.2m72.2 0h6.2m-0.6 0h6.2m-157.4 5.6h6.2m-0.6 0h6.2m-0.6 0h6.2m-0.6 0h6.2m-0.6 0h6.2m61 0h6.2m-0.6 0h6.2m-0.6 0h6.2m-163 11.2h6.2m66.6 0h6.2m16.2 5.6h6.2m5 0h6.2m-0.6 0h6.2m-0.6 0h6.2m-0.6 0h6.2m-0.6 0h6.2m-0.6 0h6.2m44.2 0h6.2m-39.8 5.6h6.2m-0.6 0h6.2m44.2 0h6.2m-174.2 5.6h6.2m33 0h6.2m33 0h6.2m-0.6 0h6.2m128.2 0h6.2m10.6 5.6h6.2m-0.6 0h6.2m-286.2 5.6h6.2m201 0h6.2m72.2 0h6.2m-0.6 0h6.2m-0.6 0h6.2m-230.2 5.6h6.2m-0.6 0h6.2m10.6 0h6.2m55.4 0h6.2m-0.6 0h6.2m-0.6 0h6.2m21.8 0h6.2m-0.6 0h6.2m61 0h6.2m-291.8 5.6h6.2m189.8 0h6.2m-0.6 0h6.2m-0.6 0h6.2m-0.6 0h6.2m-0.6 0h6.2m-0.6 0h6.2m-0.6 0h6.2m100.2 0h6.2m5 0h6.2m-129.4 5.6h6.2m-230.2 5.6h6.2m167.4 0h6.2m145 0h6.2m-0.6 0h6.2m-325.4 5.6h6.2m-0.6 0h6.2m145 0h6.2m156.2 0h6.2m-0.6 0h6.2m-179.8 5.6h6.2m-0.6 0h6.2m-157.4 5.6h6.2m-0.6 0h6.2m27.4 0h6.2m139.4 0h6.2m-0.6 0h6.2m10.6 0h6.2m145 0h6.2m16.2 0h6.2m-263.8 5.6h6.2m55.4 0h6.2m-0.6 0h6.2m-0.6 0h6.2m-0.6 0h6.2m-0.6 0h6.2m5 0h6.2m5 0h6.2m-0.6 0h6.2m66.6 0h6.2m27.4 0h6.2m-235.8 5.6h6.2m-0.6 0h6.2m16.2 0h6.2m105.8 0h6.2m-0.6 0h6.2m77.8 5.6h6.2m-151.8 5.6h6.2m-0.6 0h6.2m44.2 0h6.2m16.2 0h6.2m5 0h6.2m-0.6 0h6.2m-168.6 5.6h6.2m111.4 0h6.2m128.2 0h6.2m-230.2 5.6h6.2m10.6 0h6.2m-0.6 0h6.2m-0.6 0h6.2m16.2 0h6.2m-0.6 0h6.2m150.6 0h6.2m-0.6 0h6.2m-0.6 0h6.2m-185.4 5.6h6.2m33 0h6.2m-101.4 5.6h6.2m33 0h6.2m-0.6 0h6.2m-0.6 0h6.2m-0.6 0h6.2m83.4 0h6.2m-0.6 0h6.2m61 0h6.2m-0.6 0h6.2m-0.6 0h6.2m-0.6 0h6.2m-0.6 0h6.2m-185.4 5.6h6.2m-0.6 0h6.2m44.2 0h6.2m-0.6 0h6.2m-0.6 0h6.2m21.8 0h6.2m-0.6 0h6.2m5 0h6.2m-0.6 0h6.2m21.8 0h6.2m-196.6 5.6h6.2m94.6 0h6.2m33 0h6.2m-0.6 0h6.2m-129.4 5.6h6.2m-0.6 0h6.2m72.2 0h6.2m100.2 0h6.2m-73.4 5.6h6.2m16.2 0h6.2m5 0h6.2m-0.6 0h6.2m-129.4 5.6h6.2m10.6 0h6.2m49.8 0h6.2m-73.4 5.6h6.2m-0.6 5.6h6.2m-0.6 0h6.2m-0.6 0h6.2m-0.6 0h6.2m21.8 0h6.2m10.6 0h6.2m-0.6 0h6.2m-95.8 5.6h6.2m10.6 0h6.2m21.8 5.6h6.2m5 0h6.2m38.6 0h6.2m-0.6 0h6.2m-28.6 5.6h6.2m-6.2 5.6h6.2m61 0h6.2m-0.6 0h6.2m-0.6 0h6.2m-0.6 0h6.2m-56.6 5.6h6.2m-0.6 0h6.2m-45.4 5.6h6.2m16.2 0h6.2m44.2 0h6.2m-112.6 5.6h6.2m-0.6 0h6.2m-0.6 0h6.2m16.2 5.6h6.2m-0.6 0h6.2m-0.6 0h6.2m44.2 0h6.2m-0.6 0h6.2m-0.6 0h6.2m-45.4 5.6h6.2m5 0h6.2m-0.6 0h6.2m-0.6 0h6.2m-0.6 0h6.2m-0.6 0h6.2m-0.6 0h6.2m-90.2 11.2h6.2m-0.6 0h6.2m33 5.6h6.2m-0.6 0h6.2m-0.6 0h6.2m-0.6 0h6.2m-0.6 0h6.2m-0.6 0h6.2m-28.6 5.6h6.2m27.4 0h6.2m-0.6 0h6.2m-45.4 5.6h6.2m21.8 5.6h6.2m5 0h6.2"/><path stroke="#eea83a" d="M931.2 154.6h6.2m-6.2 11.2h6.2m44.2 5.6h6.2m-90.2 11.2h6.2m44.2 0h6.2m-0.6 0h6.2m-0.6 0h6.2m66.6 5.6h6.2m-118.2 5.6h6.2m83.4 0h6.2m-135 5.6h6.2m-0.6 0h6.2m44.2 0h6.2m-45.4 11.2h6.2m-0.6 0h6.2m89 0h6.2m-0.6 5.6h6.2m-0.6 0h6.2m-135 5.6h6.2m-0.6 0h6.2m61 0h6.2m44.2 0h6.2m-135 5.6h6.2m-0.6 0h6.2m5 5.6h6.2m-0.6 0h6.2m145 0h6.2m-0.6 0h6.2m-0.6 0h6.2m-0.6 0h6.2m-67.8 5.6h6.2m-0.6 0h6.2m-0.6 0h6.2m-0.6 0h6.2m-112.6 5.6h6.2m21.8 0h6.2m-0.6 0h6.2m-0.6 0h6.2m-0.6 0h6.2m10.6 0h6.2m-0.6 0h6.2m10.6 5.6h6.2m77.8 5.6h6.2m-0.6 0h6.2m-0.6 0h6.2m-0.6 0h6.2m-112.6 5.6h6.2m-0.6 0h6.2m89 0h6.2m21.8 11.2h6.2m-0.6 0h6.2m38.6 0h6.2m-319.8 5.6h6.2m49.8 0h6.2m-0.6 0h6.2m273.8 5.6h6.2m-235.8 11.2h6.2m-0.6 0h6.2m212.2 0h6.2m-0.6 0h6.2m-39.8 5.6h6.2m-207.8 5.6h6.2m-0.6 0h6.2m-0.6 0h6.2m49.8 0h6.2m-0.6 0h6.2m27.4 0h6.2m-0.6 0h6.2m89 0h6.2m-0.6 0h6.2m-0.6 0h6.2m-0.6 0h6.2m-0.6 0h6.2m-213.4 5.6h6.2m-0.6 0h6.2m-0.6 0h6.2m-0.6 0h6.2m-0.6 0h6.2m-0.6 0h6.2m-0.6 0h6.2m139.4 0h6.2m-0.6 0h6.2m-0.6 0h6.2m-174.2 11.2h6.2m-0.6 0h6.2m-0.6 0h6.2m66.6 0h6.2m-0.6 0h6.2m89 0h6.2m-123.8 5.6h6.2m-0.6 0h6.2m111.4 0h6.2m-0.6 0h6.2m-168.6 5.6h6.2m-0.6 0h6.2m94.6 0h6.2m-0.6 0h6.2m72.2 5.6h6.2m-0.6 0h6.2m-0.6 0h6.2m-0.6 0h6.2m-185.4 5.6h6.2m83.4 0h6.2m-0.6 0h6.2m21.8 0h6.2m-0.6 0h6.2m-0.6 0h6.2m-0.6 0h6.2m-90.2 11.2h6.2m61 5.6h6.2m33 0h6.2m-0.6 0h6.2m-0.6 0h6.2m-0.6 0h6.2m-0.6 0h6.2m-191 5.6h6.2m-0.6 0h6.2m49.8 11.2h6.2m-0.6 0h6.2m5 0h6.2m-45.4 5.6h6.2m-0.6 0h6.2m27.4 5.6h6.2m-0.6 0h6.2m-0.6 0h6.2m10.6 16.8h6.2m-0.6 0h6.2m-34.2 16.8h6.2m-0.6 0h6.2m66.6 5.6h6.2m-0.6 0h6.2m-34.2 16.8h6.2"/><path stroke="#3a9ee0" d="M936.8 154.6h6.2m-0.6 0h6.2m-0.6 0h6.2m-56.6 5.6h6.2m44.2 5.6h6.2m-0.6 0h6.2m-0.6 0h6.2m-0.6 0h6.2m-0.6 0h6.2m-6.2 5.6h6.2m-107 16.8h6.2m-0.6 0h6.2m-0.6 0h6.2m-0.6 0h6.2m-0.6 0h6.2m-0.6 0h6.2m-0.6 0h6.2m-0.6 0h6.2m-0.6 0h6.2m66.6 5.6h6.2m-34.2 5.6h6.2m66.6 0h6.2m-0.6 0h6.2m-196.6 16.8h6.2m33 0h6.2m189.8 0h6.2m-0.6 0h6.2m-230.2 5.6h6.2m240.2 0h6.2m-0.6 0h6.2m-112.6 5.6h6.2m-0.6 0h6.2m-0.6 0h6.2m-0.6 0h6.2m-0.6 0h6.2m-0.6 0h6.2m-62.2 5.6h6.2m-0.6 0h6.2m5 0h6.2m-0.6 0h6.2m-0.6 0h6.2m-95.8 5.6h6.2m195.4 0h6.2m5 0h6.2m-314.2 5.6h6.2m10.6 5.6h6.2m128.2 0h6.2m21.8 0h6.2m-0.6 0h6.2m16.2 0h6.2m-0.6 0h6.2m-0.6 0h6.2m-0.6 0h6.2m-0.6 0h6.2m-0.6 0h6.2m-235.8 5.6h6.2m-0.6 0h6.2m5 0h6.2m223.4 0h6.2m-241.4 5.6h6.2m105.8 0h6.2m10.6 0h6.2m-0.6 0h6.2m-0.6 0h6.2m-0.6 0h6.2m-174.2 5.6h6.2m10.6 0h6.2m-0.6 0h6.2m245.8 0h6.2m-0.6 0h6.2m117 0h6.2m-364.6 5.6h6.2m-0.6 0h6.2m-0.6 0h6.2m-0.6 0h6.2m-0.6 0h6.2m5 0h6.2m-56.6 5.6h6.2m251.4 0h6.2m-0.6 0h6.2m105.8 0h6.2m-0.6 0h6.2m-370.2 5.6h6.2m-0.6 0h6.2m-0.6 0h6.2m145 0h6.2m-0.6 0h6.2m-146.2 5.6h6.2m72.2 0h6.2m-84.6 5.6h6.2m44.2 0h6.2m77.8 0h6.2m-0.6 0h6.2m-45.4 5.6h6.2m-0.6 0h6.2m173 0h6.2m-0.6 0h6.2m-45.4 5.6h6.2m-0.6 0h6.2m-56.6 5.6h6.2m-0.6 0h6.2m16.2 0h6.2m-151.8 5.6h6.2m-0.6 0h6.2m-0.6 0h6.2m27.4 0h6.2m-0.6 0h6.2m44.2 0h6.2m55.4 0h6.2m-0.6 0h6.2m-0.6 0h6.2m-0.6 0h6.2m-56.6 5.6h6.2m-73.4 5.6h6.2m-0.6 0h6.2m-0.6 0h6.2m-0.6 0h6.2m66.6 0h6.2m-0.6 0h6.2m-0.6 0h6.2m21.8 0h6.2m-0.6 0h6.2m38.6 0h6.2m-0.6 0h6.2m-0.6 0h6.2m-0.6 0h6.2m-0.6 0h6.2m-230.2 5.6h6.2m77.8 0h6.2m-0.6 0h6.2m10.6 0h6.2m-0.6 0h6.2m-0.6 0h6.2m-0.6 0h6.2m55.4 0h6.2m-179.8 5.6h6.2m-0.6 0h6.2m-0.6 0h6.2m49.8 0h6.2m-0.6 0h6.2m-0.6 0h6.2m-0.6 0h6.2m27.4 0h6.2m44.2 0h6.2m-56.6 5.6h6.2m-0.6 0h6.2m-112.6 5.6h6.2m16.2 0h6.2m-0.6 0h6.2m-0.6 0h6.2m61 0h6.2m-0.6 0h6.2m-0.6 0h6.2m-0.6 0h6.2m-0.6 0h6.2m5 0h6.2m-0.6 0h6.2m-140.6 5.6h6.2m38.6 0h6.2m-0.6 0h6.2m61 0h6.2m-118.2 5.6h6.2m-0.6 0h6.2m-0.6 0h6.2m-0.6 0h6.2m5 0h6.2m21.8 0h6.2m21.8 0h6.2m-0.6 0h6.2m16.2 0h6.2m-0.6 0h6.2m-101.4 5.6h6.2m117 0h6.2m10.6 5.6h6.2m-0.6 0h6.2m-51 5.6h6.2m-0.6 0h6.2m38.6 0h6.2m-0.6 0h6.2m-0.6 0h6.2m-56.6 5.6h6.2m-0.6 0h6.2m27.4 5.6h6.2m-0.6 0h6.2m-135 5.6h6.2m-0.6 0h6.2m-6.2 5.6h6.2m-0.6 0h6.2m-0.6 0h6.2m21.8 0h6.2m-0.6 0h6.2m-0.6 0h6.2m44.2 0h6.2m-0.6 0h6.2m-0.6 0h6.2m5 0h6.2m-95.8 5.6h6.2m-0.6 0h6.2m-0.6 0h6.2m27.4 0h6.2m-0.6 0h6.2m-0.6 0h6.2m-56.6 5.6h6.2m-0.6 0h6.2m-0.6 0h6.2m16.2 0h6.2m-0.6 0h6.2m16.2 0h6.2m-56.6 11.2h6.2m16.2 0h6.2m10.6 0h6.2m-56.6 5.6h6.2m16.2 0h6.2m-0.6 5.6h6.2m21.8 0h6.2m-0.6 0h6.2m-0.6 0h6.2m-51 5.6h6.2m-0.6 0h6.2m-0.6 0h6.2m27.4 5.6h6.2m-0.6 0h6.2m-0.6 0h6.2m5 5.6h6.2m-0.6 5.6h6.2m-0.6 5.6h6.2"/></g>
<line x1="740" y1="230" x2="1360" y2="230" stroke="#444" stroke-width="0.9" fill="none" stroke-dasharray="5 4"/>
<line x1="740" y1="298" x2="1360" y2="298" stroke="#444" stroke-width="0.9" fill="none" stroke-dasharray="5 4"/>
<line x1="740" y1="373" x2="1360" y2="373" stroke="#444" stroke-width="0.9" fill="none" stroke-dasharray="5 4"/>
<line x1="740" y1="455" x2="1360" y2="455" stroke="#444" stroke-width="0.9" fill="none" stroke-dasharray="5 4"/>
<line x1="910.0" y1="199.0" x2="805.0" y2="488.0" stroke="#444" stroke-width="0.9" fill="none" stroke-dasharray="5 4"/>
<line x1="1010.7" y1="199.0" x2="979.5" y2="488.0" stroke="#444" stroke-width="0.9" fill="none" stroke-dasharray="5 4"/>
<line x1="1108.7" y1="200.0" x2="1154.0" y2="488.0" stroke="#444" stroke-width="0.9" fill="none" stroke-dasharray="5 4"/>
<line x1="1212.0" y1="202.0" x2="1328.6" y2="488.0" stroke="#444" stroke-width="0.9" fill="none" stroke-dasharray="5 4"/>
<line x1="895" y1="190" x2="870" y2="495" stroke="#a8d4f4" stroke-opacity="0.75" stroke-width="14" fill="none"/>
<line x1="815" y1="210" x2="808" y2="330" stroke="#a8d4f4" stroke-opacity="0.75" stroke-width="14" fill="none"/>
<line x1="984" y1="200" x2="1120" y2="495" stroke="#a8d4f4" stroke-opacity="0.75" stroke-width="14" fill="none"/>
<line x1="1000" y1="215" x2="1290" y2="330" stroke="#a8d4f4" stroke-opacity="0.75" stroke-width="14" fill="none"/>
<line x1="930" y1="270" x2="1200" y2="215" stroke="#a8d4f4" stroke-opacity="0.75" stroke-width="14" fill="none"/>
<line x1="1180" y1="300" x2="1300" y2="350" stroke="#a8d4f4" stroke-opacity="0.75" stroke-width="14" fill="none"/>
</g>
<path d="M874.9 204.5 L860.6 227.2 L842.0 260.0 L824.8 293.9 L810.0 322.0 L798.6 351.0 L786.7 374.9 L772.0 410.0 L758.1 446.4 L745.7 488.0 L1352.4 487.4 L1340.3 460.3 L1325.8 419.2 L1308.8 373.2 L1287.0 320.0 L1267.7 276.4 L1243.5 232.9 L1223.7 204.6 Z" fill="none" stroke="#000" stroke-width="1.5"/>
<path d="M878.2 334.9 L887.7 351.4 L868.7 351.4 Z" fill="#1010b0" />
<path d="M1055.3 329.9 L1064.8 346.4 L1045.8 346.4 Z" fill="#1010b0" />
<path d="M1253.0 289.8 L1262.5 306.3 L1243.5 306.3 Z" fill="#1010b0" />
<path d="M938.4 190.0 L942.4 197.0 L950.5 197.0 L946.5 204.0 L950.5 211.0 L942.4 211.0 L938.4 218.0 L934.4 211.0 L926.3 211.0 L930.3 204.0 L926.3 197.0 L934.4 197.0 Z" fill="#f03010" stroke="#000" stroke-width="1.30" stroke-linejoin="miter"/>
<path d="M973.5 190.0 L977.5 197.0 L985.6 197.0 L981.6 204.0 L985.6 211.0 L977.5 211.0 L973.5 218.0 L969.5 211.0 L961.4 211.0 L965.4 204.0 L961.4 197.0 L969.5 197.0 Z" fill="#f09020" stroke="#000" stroke-width="1.30" stroke-linejoin="miter"/>
<path d="M963.5 190.0 L967.5 197.0 L975.6 197.0 L971.6 204.0 L975.6 211.0 L967.5 211.0 L963.5 218.0 L959.5 211.0 L951.4 211.0 L955.4 204.0 L951.4 197.0 L959.5 197.0 Z" fill="#f8e020" stroke="#000" stroke-width="1.30" stroke-linejoin="miter"/>
<path d="M943.4 225.6 L947.4 232.6 L955.5 232.6 L951.5 239.6 L955.5 246.6 L947.4 246.6 L943.4 253.6 L939.4 246.6 L931.3 246.6 L935.3 239.6 L931.3 232.6 L939.4 232.6 Z" fill="#800000" stroke="#000" stroke-width="1.30" stroke-linejoin="miter"/>
<path d="M1011.1 224.0 L1015.1 231.0 L1023.2 231.0 L1019.2 238.0 L1023.2 245.0 L1015.1 245.0 L1011.1 252.0 L1007.1 245.0 L999.0 245.0 L1003.0 238.0 L999.0 231.0 L1007.1 231.0 Z" fill="#800000" stroke="#000" stroke-width="1.30" stroke-linejoin="miter"/>
<path d="M1051.3 221.5 L1055.3 228.5 L1063.4 228.5 L1059.4 235.5 L1063.4 242.5 L1055.3 242.5 L1051.3 249.5 L1047.3 242.5 L1039.2 242.5 L1043.2 235.5 L1039.2 228.5 L1047.3 228.5 Z" fill="#f09020" stroke="#000" stroke-width="1.30" stroke-linejoin="miter"/>
<path d="M1033.7 249.1 L1037.7 256.1 L1045.8 256.1 L1041.8 263.1 L1045.8 270.1 L1037.7 270.1 L1033.7 277.1 L1029.7 270.1 L1021.6 270.1 L1025.6 263.1 L1021.6 256.1 L1029.7 256.1 Z" fill="#f02010" stroke="#000" stroke-width="1.30" stroke-linejoin="miter"/>
<path d="M1091.4 241.6 L1095.4 248.6 L1103.5 248.6 L1099.5 255.6 L1103.5 262.6 L1095.4 262.6 L1091.4 269.6 L1087.4 262.6 L1079.3 262.6 L1083.3 255.6 L1079.3 248.6 L1087.4 248.6 Z" fill="#800000" stroke="#000" stroke-width="1.30" stroke-linejoin="miter"/>
<path d="M1169.2 289.3 L1173.2 296.3 L1181.3 296.3 L1177.3 303.3 L1181.3 310.3 L1173.2 310.3 L1169.2 317.3 L1165.2 310.3 L1157.1 310.3 L1161.1 303.3 L1157.1 296.3 L1165.2 296.3 Z" fill="#20c8f0" stroke="#000" stroke-width="1.30" stroke-linejoin="miter"/>
<path d="M1071.3 306.8 L1075.3 313.8 L1083.4 313.8 L1079.4 320.8 L1083.4 327.8 L1075.3 327.8 L1071.3 334.8 L1067.3 327.8 L1059.2 327.8 L1063.2 320.8 L1059.2 313.8 L1067.3 313.8 Z" fill="#40f0c0" stroke="#000" stroke-width="1.30" stroke-linejoin="miter"/>
<path d="M943.4 314.4 L947.4 321.4 L955.5 321.4 L951.5 328.4 L955.5 335.4 L947.4 335.4 L943.4 342.4 L939.4 335.4 L931.3 335.4 L935.3 328.4 L931.3 321.4 L939.4 321.4 Z" fill="#800000" stroke="#000" stroke-width="1.30" stroke-linejoin="miter"/>
<path d="M1219.4 329.4 L1223.4 336.4 L1231.5 336.4 L1227.5 343.4 L1231.5 350.4 L1223.4 350.4 L1219.4 357.4 L1215.4 350.4 L1207.3 350.4 L1211.3 343.4 L1207.3 336.4 L1215.4 336.4 Z" fill="#20c8f0" stroke="#000" stroke-width="1.30" stroke-linejoin="miter"/>
<path d="M1096.4 353.0 L1100.4 360.0 L1108.5 360.0 L1104.5 367.0 L1108.5 374.0 L1100.4 374.0 L1096.4 381.0 L1092.4 374.0 L1084.3 374.0 L1088.3 367.0 L1084.3 360.0 L1092.4 360.0 Z" fill="#f8f020" stroke="#000" stroke-width="1.30" stroke-linejoin="miter"/>
<path d="M936.9 429.8 L940.9 436.8 L949.0 436.8 L945.0 443.8 L949.0 450.8 L940.9 450.8 L936.9 457.8 L932.9 450.8 L924.8 450.8 L928.8 443.8 L924.8 436.8 L932.9 436.8 Z" fill="#800000" stroke="#000" stroke-width="1.30" stroke-linejoin="miter"/>
<path d="M936.9 464.9 L940.9 471.9 L949.0 471.9 L945.0 478.9 L949.0 485.9 L940.9 485.9 L936.9 492.9 L932.9 485.9 L924.8 485.9 L928.8 478.9 L924.8 471.9 L932.9 471.9 Z" fill="#f09020" stroke="#000" stroke-width="1.30" stroke-linejoin="miter"/>
<path d="M1125.5 418.7 L1129.5 425.7 L1137.6 425.7 L1133.6 432.7 L1137.6 439.7 L1129.5 439.7 L1125.5 446.7 L1121.5 439.7 L1113.4 439.7 L1117.4 432.7 L1113.4 425.7 L1121.5 425.7 Z" fill="#e01010" stroke="#000" stroke-width="1.30" stroke-linejoin="miter"/>
<path d="M1136.6 453.4 L1140.6 460.4 L1148.7 460.4 L1144.7 467.4 L1148.7 474.4 L1140.6 474.4 L1136.6 481.4 L1132.6 474.4 L1124.5 474.4 L1128.5 467.4 L1124.5 460.4 L1132.6 460.4 Z" fill="#800000" stroke="#000" stroke-width="1.30" stroke-linejoin="miter"/>
<path d="M1281.0 391.1 L1285.0 398.1 L1293.1 398.1 L1289.1 405.1 L1293.1 412.1 L1285.0 412.1 L1281.0 419.1 L1277.0 412.1 L1268.9 412.1 L1272.9 405.1 L1268.9 398.1 L1277.0 398.1 Z" fill="#e01010" stroke="#000" stroke-width="1.30" stroke-linejoin="miter"/>
<line x1="1144.0" y1="215.5" x2="1109.4" y2="278.3" stroke="#f00000" stroke-width="8.00" /><path d="M1096.4 302.0 L1099.4 271.7 L1120.4 283.3 Z" fill="#f00000" />
<line x1="1174.2" y1="218.0" x2="1174.2" y2="272.0" stroke="#f00000" stroke-width="8.00" /><path d="M1174.2 299.0 L1162.2 271.0 L1186.2 271.0 Z" fill="#f00000" />
<line x1="1214.3" y1="218.0" x2="1220.2" y2="314.1" stroke="#f00000" stroke-width="8.00" /><path d="M1221.9 341.0 L1208.2 313.8 L1232.2 312.3 Z" fill="#f00000" />
<line x1="1021.0" y1="388.0" x2="1012.8" y2="359.4" stroke="#7f6000" stroke-width="7.00" /><path d="M1008.6 345.0 L1021.7 357.9 L1004.4 362.9 Z" fill="#7f6000" />
<line x1="914.8" y1="425.2" x2="911.5" y2="487.0" stroke="#000" stroke-width="3.20" /><path d="M910.8 500.0 L906.1 485.7 L917.0 486.3 Z" fill="#000" />
<line x1="1101.4" y1="431.2" x2="1124.0" y2="485.5" stroke="#000" stroke-width="3.20" /><path d="M1129.0 497.5 L1118.5 486.7 L1128.7 482.5 Z" fill="#000" />
<line x1="1279.6" y1="376.0" x2="1321.6" y2="428.6" stroke="#000" stroke-width="3.20" /><path d="M1329.7 438.8 L1316.7 431.3 L1325.3 424.4 Z" fill="#000" />
<text x="785.3" y="127.7" font-size="60.0" font-weight="bold" textLength="30.1" lengthAdjust="spacingAndGlyphs">b</text>
<text x="1036.2" y="132.7" font-size="42.0" font-weight="bold" fill="#f00000" textLength="59.2" lengthAdjust="spacingAndGlyphs">O3</text>
<text x="1036.0" y="194.4" font-size="42.0" font-weight="bold" fill="#f00000" textLength="276.0" lengthAdjust="spacingAndGlyphs">Needle holes</text>
<text x="956.0" y="305.8" font-size="26.0" font-weight="bold" textLength="133.0" lengthAdjust="spacingAndGlyphs">Event #78</text>
<text x="1129.0" y="336.0" font-size="26.0" font-weight="bold" textLength="75.0" lengthAdjust="spacingAndGlyphs">Event</text>
<text x="1111.5" y="376.0" font-size="26.0" font-weight="bold" textLength="100.3" lengthAdjust="spacingAndGlyphs">#74, 75</text>
<text x="903.0" y="365.0" font-size="26.0" font-weight="bold" textLength="75.5" lengthAdjust="spacingAndGlyphs">Event</text>
<text x="936.0" y="403.6" font-size="26.0" font-weight="bold" textLength="50.0" lengthAdjust="spacingAndGlyphs">#76</text>
<text x="997.0" y="422.2" font-size="43.0" font-weight="bold" fill="#7f6000" textLength="71.8" lengthAdjust="spacingAndGlyphs">IPA</text>
<text x="980.0" y="478.9" font-size="26.0" font-weight="bold" fill="#7f6000" textLength="101.4" lengthAdjust="spacingAndGlyphs">(01838)</text>
<text x="1211.8" y="441.0" font-size="26.0" font-weight="bold" textLength="81.8" lengthAdjust="spacingAndGlyphs">68683</text>
<text x="1189.0" y="481.4" font-size="26.0" font-weight="bold" textLength="120.7" lengthAdjust="spacingAndGlyphs">(23:54 to</text>
<text x="1186.7" y="520.5" font-size="26.0" font-weight="bold" textLength="130.3" lengthAdjust="spacingAndGlyphs">23:59 UT)</text>
<text x="652.0" y="534.1" font-size="26.0" font-weight="bold" textLength="278.8" lengthAdjust="spacingAndGlyphs">(before EMIC) 68681</text>
<text x="662.0" y="574.2" font-size="26.0" font-weight="bold" textLength="261.3" lengthAdjust="spacingAndGlyphs">(20:41 to 20:47 UT)</text>
<text x="1036.2" y="534.1" font-size="26.0" font-weight="bold" textLength="82.8" lengthAdjust="spacingAndGlyphs">68682</text>
<text x="946.9" y="574.2" font-size="26.0" font-weight="bold" textLength="259.9" lengthAdjust="spacingAndGlyphs">(22:17 to 22:23 UT)</text>
<text x="838.4" y="184.0" font-size="17.0" fill="#111" transform="rotate(70.0 838.4 184.0)">75°</text>
<text x="848.2" y="221.6" font-size="17.0" fill="#111" transform="rotate(70.0 848.2 221.6)">S</text>
<text x="797.2" y="253.0" font-size="17.0" fill="#111" transform="rotate(70.0 797.2 253.0)">70°</text>
<text x="810.6" y="290.6" font-size="17.0" fill="#111" transform="rotate(70.0 810.6 290.6)">S</text>
<text x="760.0" y="328.9" font-size="17.0" fill="#111" transform="rotate(65.0 760.0 328.9)">65°</text>
<text x="776.3" y="365.2" font-size="17.0" fill="#111" transform="rotate(65.0 776.3 365.2)">S</text>
<text x="727.3" y="413.2" font-size="17.0" fill="#111" transform="rotate(60.0 727.3 413.2)">60°</text>
<text x="744.4" y="449.2" font-size="17.0" fill="#111" transform="rotate(60.0 744.4 449.2)">S</text>
<text x="777.6" y="499.1" font-size="17.0" fill="#111" transform="rotate(15.0 777.6 499.1)">45°</text>
<text x="810.9" y="506.9" font-size="17.0" fill="#111" transform="rotate(15.0 810.9 506.9)">E</text>
<text x="953.0" y="500.3" font-size="17.0" fill="#111" transform="rotate(10.0 953.0 500.3)">30°</text>
<text x="989.8" y="504.6" font-size="17.0" fill="#111" transform="rotate(5.0 989.8 504.6)">E</text>
<text x="1130.6" y="503.6" font-size="17.0" fill="#111" transform="rotate(0.0 1130.6 503.6)">15°</text>
<text x="1168.3" y="504.6" font-size="17.0" fill="#111" transform="rotate(0.0 1168.3 504.6)">E</text>
<text x="1327.2" y="506.6" font-size="17.0" fill="#111" transform="rotate(-60.0 1327.2 506.6)">0°</text>
<g stroke-width="15.92" fill="none" shape-rendering="crispEdges">
<path stroke="#000087" d="M135.8 714.0v72.1M135.8 982.6v143.9M151.4 952.5v102.2M167.1 950.2v116.1M182.7 950.2v113.8M198.3 714.0v51.2M198.3 964.1v79.0M213.9 964.1v55.9M229.6 714.0v55.9M229.6 968.7v55.9M245.2 714.0v65.1M245.2 968.7v46.6M260.8 968.7v37.3M276.4 968.7v32.7M292.0 714.0v55.9M292.0 959.4v60.5M307.7 964.1v72.1M323.3 964.1v69.8M338.9 982.6v48.9M354.5 714.0v60.5M354.5 987.2v139.2M370.2 714.0v65.1M370.2 987.2v51.2M385.8 987.2v32.7M417.0 968.7v74.4M432.7 714.0v42.0M432.7 973.3v76.7M448.3 978.0v37.3M448.3 1070.6v9.6M463.9 714.0v60.5M463.9 982.6v42.0M463.9 1052.0v72.1M479.5 973.3v111.4M495.1 714.0v60.5M495.1 996.5v109.1M510.8 996.5v90.6M526.4 1001.1v83.7M542.0 973.3v150.8M557.6 714.0v65.1M557.6 978.0v164.7M573.3 954.8v162.4M588.9 714.0v42.0M588.9 954.8v197.1"/>
<path stroke="#0000f7" d="M135.8 785.8v2.6M135.8 1142.3v7.2M151.4 1091.4v11.9M167.1 945.5v2.6M167.1 1072.9v7.2M167.1 1149.3v16.5M182.7 1070.6v4.9M182.7 1103.0v7.2M182.7 1165.5v11.9M198.3 959.4v2.6M198.3 1047.4v2.6M198.3 1126.1v2.6M198.3 1186.3v9.6M213.9 753.4v2.6M213.9 957.1v2.6M213.9 1140.0v32.7M229.6 771.9v2.6M229.6 1174.8v16.5M229.6 1207.2v7.2M245.2 778.8v2.6M245.2 964.1v2.6M245.2 1156.2v11.9M245.2 1197.9v7.2M260.8 744.1v7.2M260.8 964.1v2.6M260.8 1193.3v35.0M276.4 1167.8v7.2M276.4 1241.9v9.6M292.0 1026.6v4.9M292.0 1172.4v9.6M292.0 1241.9v11.9M307.7 1068.2v7.2M307.7 1202.5v11.9M307.7 1260.4v11.9M323.3 737.2v4.9M323.3 1059.0v2.6M323.3 1195.6v7.2M323.3 1260.4v11.9M338.9 720.9v11.9M338.9 1209.5v9.6M338.9 1237.3v16.5M354.5 982.6v2.6M354.5 1193.3v28.1M370.2 982.6v2.6M370.2 1137.7v62.8M417.0 964.1v2.6M417.0 1086.8v2.6M417.0 1119.2v99.9M432.7 758.0v2.6M432.7 966.4v2.6M432.7 1063.6v30.4M432.7 1119.2v4.9M448.3 758.0v2.6M448.3 973.3v2.6M463.9 1142.3v2.6M479.5 968.7v2.6M479.5 1137.7v28.1M495.1 802.0v2.6M495.1 991.8v2.6M495.1 1121.5v18.8M495.1 1186.3v9.6M510.8 982.6v7.2M510.8 1107.6v4.9M526.4 996.5v2.6M526.4 1091.4v4.9M526.4 1105.3v2.6M526.4 1174.8v23.5M542.0 968.7v2.6M542.0 1200.2v9.6M557.6 781.1v2.6M557.6 964.1v4.9M557.6 1218.7v4.9M573.3 1126.1v9.6M588.9 1188.6v7.2"/>
<path stroke="#0087ff" d="M135.8 788.1v2.6M135.8 961.7v2.6M135.8 1209.5v4.9M151.4 1209.5v4.9M167.1 1232.6v2.6M182.7 1235.0v4.9M198.3 769.6v2.6M198.3 954.8v2.6M198.3 1056.7v2.6M198.3 1109.9v2.6M198.3 1223.4v2.6M213.9 776.5v2.6M213.9 947.9v2.6M213.9 1031.2v2.6M213.9 1237.3v4.9M229.6 952.5v2.6M229.6 1042.8v2.6M229.6 1119.2v2.6M229.6 1241.9v2.6M245.2 1017.3v2.6M245.2 1109.9v2.6M245.2 1241.9v2.6M260.8 760.3v2.6M260.8 1116.9v4.9M260.8 1269.7v2.6M276.4 748.7v4.9M276.4 1010.4v2.6M276.4 1116.9v4.9M276.4 1278.9v2.6M292.0 952.5v2.6M292.0 1075.2v4.9M292.0 1114.6v4.9M292.0 1299.8v4.9M307.7 954.8v2.6M307.7 1121.5v9.6M307.7 1149.3v9.6M307.7 1325.3v4.9M323.3 1084.5v4.9M323.3 1160.9v4.9M323.3 1325.3v4.9M338.9 760.3v2.6M338.9 973.3v2.6M338.9 1165.5v2.6M338.9 1325.3v4.9M354.5 1288.2v4.9M370.2 1269.7v4.9M385.8 774.2v2.6M385.8 971.0v2.6M385.8 1024.3v2.6M385.8 1153.9v4.9M385.8 1251.2v2.6M417.0 727.9v4.9M417.0 751.0v2.6M417.0 959.4v2.6M417.0 1072.9v2.6M417.0 1260.4v2.6M432.7 762.6v2.6M432.7 1251.2v2.6M448.3 1149.3v58.2M463.9 971.0v2.6M463.9 1177.1v18.8M463.9 1241.9v2.6M479.5 1223.4v2.6M495.1 792.7v2.6M495.1 813.6v2.6M495.1 961.7v2.6M495.1 1223.4v2.6M510.8 753.4v4.9M510.8 1186.3v9.6M526.4 774.2v2.6M526.4 961.7v2.6M526.4 1232.6v2.6M542.0 758.0v2.6M542.0 1235.0v2.6M573.3 1232.6v2.6M588.9 1223.4v2.6"/>
<path stroke="#00e7ff" d="M135.8 790.4v2.6M135.8 952.5v2.6M135.8 1230.3v2.6M151.4 938.6v2.6M151.4 1230.3v4.9M167.1 748.7v25.8M167.1 931.6v2.6M167.1 1248.8v2.6M198.3 943.2v4.9M198.3 1065.9v2.6M198.3 1100.7v2.6M198.3 1239.6v4.9M213.9 1038.2v2.6M213.9 1100.7v2.6M213.9 1258.1v4.9M229.6 1054.4v4.9M229.6 1100.7v4.9M229.6 1258.1v4.9M245.2 950.2v2.6M245.2 1091.4v4.9M245.2 1258.1v4.9M260.8 1089.1v4.9M260.8 1285.9v4.9M276.4 714.0v4.9M276.4 767.3v2.6M276.4 1019.6v2.6M276.4 1072.9v7.2M276.4 1304.4v4.9M292.0 774.2v2.6M292.0 950.2v2.6M292.0 1339.1v23.5M307.7 714.0v21.1M307.7 950.2v2.6M307.7 1360.0v2.6M323.3 764.9v2.6M323.3 1119.2v23.5M323.3 1360.0v2.6M338.9 764.9v2.6M338.9 1063.6v4.9M338.9 1149.3v2.6M338.9 1360.0v2.6M354.5 778.8v2.6M354.5 1322.9v4.9M370.2 961.7v4.9M370.2 1304.4v4.9M385.8 776.5v2.6M385.8 1128.4v4.9M385.8 1267.4v4.9M417.0 1056.7v2.6M417.0 1063.6v2.6M417.0 1278.9v4.9M432.7 952.5v2.6M432.7 1267.4v4.9M448.3 957.1v2.6M448.3 1221.1v4.9M463.9 959.4v2.6M463.9 1251.2v2.6M479.5 762.6v2.6M479.5 783.5v2.6M479.5 954.8v2.6M479.5 1239.6v4.9M495.1 820.5v2.6M495.1 1239.6v4.9M510.8 783.5v2.6M510.8 811.2v2.6M510.8 1223.4v4.9M526.4 781.1v2.6M526.4 1248.8v2.6M542.0 739.5v4.9M542.0 954.8v2.6M542.0 1246.5v2.6M557.6 1260.4v2.6M573.3 1248.8v4.9M588.9 943.2v2.6M588.9 1239.6v4.9"/>
<path stroke="#38ffc7" d="M135.8 792.7v2.6M135.8 943.2v2.6M151.4 929.3v2.6M151.4 1244.2v2.6M167.1 718.6v7.2M167.1 785.8v2.6M167.1 927.0v2.6M167.1 1260.4v2.6M182.7 762.6v9.6M198.3 1255.8v2.6M213.9 1054.4v7.2M213.9 1070.6v7.2M213.9 1276.6v7.2M229.6 1274.3v2.6M245.2 945.5v2.6M245.2 1021.9v2.6M245.2 1276.6v7.2M260.8 1024.3v2.6M260.8 1068.2v4.9M260.8 1313.7v7.2M276.4 771.9v2.6M307.7 746.4v2.6M307.7 945.5v2.6M338.9 1091.4v7.2M354.5 959.4v2.6M354.5 1350.7v7.2M370.2 1332.2v7.2M385.8 1098.3v4.9M385.8 1288.2v4.9M417.0 1299.8v4.9M432.7 943.2v2.6M432.7 1283.6v2.6M448.3 947.9v2.6M448.3 1248.8v7.2M463.9 947.9v2.6M463.9 1265.1v2.6M479.5 748.7v2.6M479.5 792.7v2.6M479.5 950.2v2.6M479.5 1255.8v2.6M495.1 829.8v2.6M495.1 1255.8v2.6M510.8 764.9v2.6M510.8 815.9v2.6M510.8 943.2v2.6M510.8 1244.2v4.9M526.4 785.8v2.6M526.4 1260.4v4.9M542.0 725.6v2.6M542.0 950.2v2.6M542.0 1255.8v2.6M557.6 790.4v2.6M557.6 940.9v2.6M557.6 1274.3v2.6M573.3 764.9v4.9M573.3 938.6v2.6M573.3 1265.1v2.6M588.9 1265.1v2.6"/>
<path stroke="#68ff97" d="M135.8 795.0v2.6M135.8 936.3v2.6M151.4 922.4v2.6M151.4 1251.2v2.6M167.1 790.4v2.6M167.1 1265.1v2.6M182.7 753.4v2.6M182.7 778.8v2.6M182.7 1262.7v2.6M198.3 1262.7v4.9M213.9 927.0v2.6M213.9 1290.5v4.9M229.6 1281.3v4.9M245.2 1024.3v2.6M245.2 1295.2v4.9M260.8 776.5v2.6M260.8 1035.8v4.9M260.8 1054.4v4.9M276.4 774.2v2.6M307.7 753.4v4.9M307.7 943.2v2.6M323.3 952.5v2.6M338.9 1109.9v4.9M354.5 952.5v2.6M370.2 1350.7v4.9M385.8 1028.9v2.6M385.8 1089.1v2.6M385.8 1302.1v7.2M417.0 767.3v2.6M417.0 1311.4v4.9M432.7 769.6v2.6M432.7 938.6v2.6M432.7 1292.8v4.9M448.3 938.6v4.9M448.3 1265.1v4.9M463.9 940.9v2.6M463.9 1274.3v4.9M479.5 744.1v2.6M479.5 802.0v4.9M479.5 1262.7v4.9M495.1 1262.7v4.9M510.8 767.3v2.6M510.8 936.3v2.6M510.8 1253.5v4.9M526.4 792.7v4.9M526.4 940.9v2.6M526.4 1272.0v2.6M542.0 716.3v4.9M542.0 945.5v2.6M542.0 1262.7v4.9M557.6 792.7v2.6M557.6 1281.3v4.9M573.3 751.0v4.9M573.3 931.6v2.6M573.3 1272.0v4.9M588.9 783.5v2.6M588.9 934.0v2.6M588.9 1272.0v4.9"/>
<path stroke="#97ff68" d="M135.8 797.4v2.6M135.8 929.3v2.6M151.4 746.4v2.6M151.4 804.3v2.6M151.4 915.4v2.6M151.4 1258.1v2.6M167.1 1272.0v2.6M182.7 746.4v2.6M182.7 781.1v2.6M182.7 1269.7v2.6M198.3 1274.3v2.6M213.9 781.1v2.6M213.9 920.1v2.6M213.9 1299.8v2.6M229.6 927.0v2.6M229.6 1290.5v2.6M245.2 1026.6v2.6M245.2 1348.4v7.2M260.8 778.8v2.6M276.4 776.5v2.6M307.7 762.6v2.6M338.9 1123.8v2.6M354.5 783.5v2.6M385.8 1079.8v2.6M385.8 1322.9v4.9M417.0 769.6v2.6M417.0 940.9v2.6M417.0 1322.9v4.9M432.7 931.6v2.6M432.7 1304.4v9.6M448.3 931.6v2.6M448.3 1276.6v4.9M463.9 790.4v2.6M463.9 934.0v2.6M463.9 1285.9v4.9M479.5 813.6v2.6M479.5 1272.0v2.6M495.1 931.6v2.6M495.1 1274.3v2.6M510.8 720.9v7.2M510.8 929.3v2.6M510.8 1262.7v2.6M526.4 804.3v4.9M526.4 934.0v2.6M526.4 1283.6v2.6M542.0 790.4v2.6M542.0 938.6v2.6M542.0 1272.0v2.6M557.6 795.0v2.6M557.6 931.6v2.6M557.6 1290.5v2.6M573.3 739.5v4.9M573.3 924.7v2.6M573.3 1281.3v2.6M588.9 788.1v2.6M588.9 929.3v2.6M588.9 1283.6v7.2"/>
<path stroke="#c7ff38" d="M135.8 799.7v2.6M135.8 922.4v2.6M135.8 1253.5v4.9M151.4 739.5v2.6M151.4 808.9v2.6M151.4 1267.4v2.6M167.1 797.4v2.6M167.1 913.1v2.6M167.1 1276.6v2.6M182.7 737.2v2.6M182.7 783.5v2.6M182.7 920.1v2.6M182.7 1276.6v4.9M198.3 776.5v2.6M198.3 790.4v2.6M198.3 802.0v2.6M198.3 924.7v2.6M198.3 1283.6v4.9M213.9 915.4v2.6M213.9 1309.0v2.6M229.6 783.5v2.6M229.6 922.4v2.6M229.6 1302.1v4.9M245.2 788.1v2.6M245.2 931.6v2.6M245.2 1031.2v2.6M245.2 1068.2v2.6M260.8 781.1v2.6M260.8 952.5v2.6M276.4 778.8v2.6M276.4 943.2v2.6M307.7 769.6v2.6M323.3 781.1v2.6M338.9 774.2v2.6M338.9 964.1v2.6M354.5 785.8v2.6M354.5 943.2v2.6M370.2 788.1v2.6M370.2 938.6v2.6M385.8 943.2v2.6M385.8 1070.6v2.6M385.8 1339.1v4.9M417.0 931.6v2.6M417.0 1332.2v4.9M432.7 1327.6v4.9M448.3 1288.2v4.9M463.9 799.7v2.6M463.9 917.8v4.9M463.9 1302.1v4.9M479.5 734.8v2.6M479.5 822.8v2.6M479.5 936.3v2.6M479.5 1283.6v4.9M495.1 843.7v2.6M495.1 927.0v2.6M495.1 1283.6v4.9M510.8 922.4v2.6M510.8 1272.0v4.9M526.4 813.6v2.6M526.4 927.0v2.6M526.4 1292.8v4.9M542.0 792.7v2.6M542.0 927.0v4.9M542.0 1281.3v4.9M557.6 797.4v2.6M557.6 927.0v2.6M557.6 1299.8v2.6M573.3 732.5v2.6M573.3 792.7v2.6M573.3 917.8v2.6M573.3 1290.5v4.9M588.9 792.7v2.6M588.9 922.4v2.6M588.9 1299.8v4.9"/>
<path stroke="#e7ff18" d="M135.8 802.0v7.2M135.8 915.4v2.6M135.8 1262.7v4.9M151.4 734.8v2.6M151.4 811.2v2.6M151.4 906.2v2.6M151.4 1274.3v2.6M167.1 908.5v2.6M182.7 730.2v4.9M182.7 1285.9v4.9M198.3 788.1v2.6M198.3 804.3v2.6M198.3 922.4v2.6M198.3 1290.5v4.9M213.9 1313.7v4.9M229.6 1313.7v11.9M245.2 929.3v2.6M245.2 1033.5v2.6M276.4 781.1v2.6M323.3 783.5v2.6M338.9 778.8v2.6M354.5 938.6v2.6M370.2 936.3v2.6M385.8 1063.6v4.9M385.8 1350.7v7.2M417.0 924.7v4.9M417.0 1339.1v2.6M432.7 920.1v2.6M432.7 1336.8v4.9M448.3 920.1v2.6M448.3 1295.2v11.9M463.9 802.0v2.6M463.9 910.8v4.9M463.9 1313.7v7.2M479.5 730.2v2.6M479.5 825.1v2.6M479.5 929.3v2.6M479.5 1295.2v4.9M495.1 846.0v2.6M495.1 922.4v2.6M495.1 1295.2v7.2M510.8 920.1v2.6M510.8 1281.3v4.9M526.4 820.5v4.9M526.4 922.4v2.6M526.4 1302.1v2.6M542.0 795.0v2.6M542.0 915.4v4.9M542.0 1290.5v4.9M557.6 922.4v2.6M557.6 1304.4v4.9M573.3 725.6v2.6M573.3 795.0v2.6M573.3 910.8v4.9M573.3 1299.8v4.9M588.9 797.4v2.6M588.9 915.4v2.6M588.9 1309.0v4.9"/>
<path stroke="#f7ff08" d="M135.8 808.9v7.2M135.8 913.1v2.6M135.8 1267.4v2.6M151.4 730.2v4.9M151.4 813.6v2.6M151.4 903.9v2.6M151.4 1276.6v4.9M167.1 802.0v2.6M167.1 1281.3v4.9M182.7 727.9v2.6M182.7 915.4v2.6M182.7 1290.5v2.6M198.3 1295.2v2.6M213.9 910.8v2.6M213.9 1318.3v2.6M229.6 917.8v2.6M229.6 1325.3v11.9M245.2 927.0v2.6M245.2 1035.8v2.6M245.2 1063.6v2.6M260.8 947.9v2.6M292.0 781.1v2.6M307.7 774.2v2.6M323.3 785.8v4.9M323.3 943.2v2.6M338.9 781.1v2.6M385.8 938.6v2.6M385.8 1038.2v2.6M385.8 1061.3v2.6M385.8 1357.7v4.9M417.0 920.1v4.9M417.0 1341.5v2.6M432.7 778.8v2.6M432.7 917.8v2.6M432.7 1341.5v4.9M448.3 781.1v2.6M448.3 917.8v2.6M448.3 1306.7v11.9M463.9 804.3v2.6M463.9 908.5v2.6M463.9 1320.6v7.2M479.5 727.9v2.6M479.5 827.5v2.6M479.5 927.0v2.6M479.5 1299.8v2.6M495.1 920.1v2.6M495.1 1302.1v7.2M510.8 917.8v2.6M510.8 1285.9v4.9M526.4 825.1v4.9M526.4 1304.4v4.9M542.0 1295.2v2.6M557.6 802.0v2.6M557.6 920.1v2.6M557.6 1309.0v2.6M573.3 720.9v4.9M573.3 908.5v2.6M573.3 1304.4v2.6M588.9 799.7v2.6M588.9 910.8v4.9M588.9 1313.7v2.6"/>
<path stroke="#fff700" d="M135.8 815.9v2.6M135.8 908.5v4.9M135.8 1269.7v4.9M151.4 725.6v4.9M151.4 815.9v2.6M151.4 901.5v2.6M151.4 1281.3v4.9M167.1 804.3v2.6M167.1 906.2v2.6M167.1 1285.9v7.2M182.7 723.3v4.9M182.7 785.8v2.6M182.7 913.1v2.6M182.7 1292.8v2.6M198.3 778.8v2.6M198.3 785.8v2.6M198.3 1297.5v4.9M213.9 908.5v2.6M213.9 1320.6v2.6M229.6 785.8v2.6M229.6 915.4v2.6M229.6 1336.8v4.9M245.2 924.7v2.6M245.2 1038.2v2.6M245.2 1061.3v2.6M260.8 783.5v2.6M260.8 945.5v2.6M276.4 940.9v2.6M307.7 776.5v2.6M307.7 934.0v2.6M323.3 790.4v4.9M338.9 783.5v2.6M338.9 961.7v2.6M354.5 788.1v2.6M354.5 936.3v2.6M370.2 934.0v2.6M385.8 936.3v2.6M385.8 1040.5v2.6M385.8 1059.0v2.6M417.0 915.4v4.9M417.0 1343.8v2.6M432.7 781.1v2.6M432.7 1346.1v9.6M448.3 915.4v2.6M448.3 1318.3v9.6M463.9 806.6v2.6M463.9 903.9v4.9M463.9 1327.6v9.6M479.5 725.6v2.6M479.5 922.4v4.9M479.5 1302.1v4.9M495.1 1309.0v4.9M510.8 913.1v4.9M510.8 1290.5v4.9M526.4 829.8v2.6M526.4 920.1v2.6M526.4 1309.0v4.9M542.0 913.1v2.6M542.0 1297.5v4.9M557.6 804.3v2.6M557.6 1311.4v2.6M573.3 716.3v4.9M573.3 797.4v2.6M573.3 906.2v2.6M573.3 1306.7v4.9M588.9 802.0v2.6M588.9 906.2v4.9M588.9 1316.0v4.9"/>
<path stroke="#ffe700" d="M135.8 818.2v2.6M135.8 906.2v2.6M135.8 1274.3v4.9M151.4 723.3v2.6M151.4 818.2v2.6M151.4 1285.9v2.6M167.1 901.5v4.9M167.1 1292.8v7.2M182.7 718.6v4.9M182.7 1295.2v2.6M198.3 806.6v2.6M198.3 920.1v2.6M198.3 1302.1v4.9M213.9 783.5v2.6M213.9 1322.9v2.6M229.6 788.1v2.6M229.6 1341.5v4.9M245.2 790.4v2.6M245.2 1040.5v2.6M245.2 1059.0v2.6M276.4 783.5v2.6M323.3 795.0v2.6M338.9 785.8v2.6M354.5 934.0v2.6M385.8 1042.8v2.6M385.8 1054.4v4.9M417.0 774.2v2.6M417.0 913.1v2.6M417.0 1346.1v2.6M432.7 915.4v2.6M432.7 1355.4v7.2M448.3 913.1v2.6M448.3 1327.6v7.2M463.9 901.5v2.6M463.9 1336.8v9.6M479.5 723.3v2.6M479.5 829.8v2.6M479.5 920.1v2.6M479.5 1306.7v4.9M495.1 848.3v2.6M495.1 917.8v2.6M495.1 1313.7v4.9M510.8 820.5v2.6M510.8 910.8v2.6M510.8 1295.2v4.9M526.4 832.1v2.6M526.4 917.8v2.6M526.4 1313.7v2.6M542.0 797.4v2.6M542.0 910.8v2.6M542.0 1302.1v2.6M557.6 915.4v4.9M557.6 1313.7v2.6M573.3 714.0v2.6M573.3 903.9v2.6M573.3 1311.4v2.6M588.9 804.3v2.6M588.9 901.5v4.9M588.9 1320.6v4.9"/>
<path stroke="#ffd700" d="M135.8 820.5v2.6M135.8 903.9v2.6M135.8 1278.9v2.6M151.4 718.6v4.9M151.4 820.5v2.6M151.4 899.2v2.6M151.4 1288.2v4.9M167.1 806.6v4.9M167.1 899.2v2.6M167.1 1299.8v4.9M182.7 716.3v2.6M182.7 788.1v2.6M182.7 910.8v2.6M182.7 1297.5v4.9M198.3 1306.7v2.6M213.9 906.2v2.6M213.9 1325.3v4.9M229.6 790.4v2.6M229.6 913.1v2.6M229.6 1346.1v4.9M245.2 922.4v2.6M245.2 1042.8v2.6M245.2 1056.7v2.6M260.8 943.2v2.6M292.0 940.9v2.6M307.7 778.8v4.9M307.7 792.7v9.6M323.3 797.4v2.6M323.3 940.9v2.6M338.9 788.1v2.6M354.5 931.6v2.6M370.2 931.6v2.6M385.8 783.5v2.6M385.8 934.0v2.6M385.8 1045.1v2.6M385.8 1049.7v4.9M417.0 910.8v2.6M417.0 1348.4v2.6M432.7 783.5v2.6M432.7 913.1v2.6M448.3 908.5v4.9M448.3 1334.5v4.9M463.9 808.9v2.6M463.9 899.2v2.6M463.9 1346.1v2.6M479.5 718.6v4.9M479.5 917.8v2.6M479.5 1311.4v2.6M495.1 915.4v2.6M495.1 1318.3v4.9M510.8 908.5v2.6M510.8 1299.8v4.9M526.4 915.4v2.6M526.4 1316.0v2.6M542.0 908.5v2.6M542.0 1304.4v2.6M557.6 806.6v2.6M557.6 913.1v2.6M557.6 1316.0v4.9M573.3 799.7v2.6M573.3 901.5v2.6M573.3 1313.7v2.6M588.9 806.6v4.9M588.9 899.2v2.6M588.9 1325.3v2.6"/>
<path stroke="#ffb700" d="M135.8 822.8v2.6M135.8 899.2v2.6M135.8 1285.9v2.6M151.4 714.0v2.6M151.4 822.8v2.6M151.4 1295.2v2.6M167.1 813.6v4.9M167.1 892.3v4.9M167.1 1311.4v4.9M182.7 790.4v2.6M182.7 908.5v2.6M182.7 1304.4v2.6M198.3 808.9v2.6M198.3 1313.7v2.6M213.9 903.9v2.6M213.9 1332.2v2.6M229.6 795.0v4.9M229.6 910.8v2.6M229.6 1355.4v7.2M245.2 1045.1v9.6M292.0 783.5v2.6M307.7 785.8v4.9M307.7 804.3v2.6M307.7 931.6v2.6M323.3 799.7v2.6M323.3 938.6v2.6M338.9 790.4v2.6M354.5 927.0v2.6M370.2 790.4v2.6M385.8 931.6v2.6M417.0 903.9v2.6M417.0 1355.4v7.2M432.7 785.8v2.6M448.3 903.9v2.6M448.3 1341.5v2.6M463.9 811.2v2.6M463.9 892.3v4.9M463.9 1353.0v4.9M479.5 714.0v2.6M479.5 913.1v2.6M479.5 1318.3v9.6M495.1 910.8v2.6M495.1 1332.2v14.2M510.8 903.9v2.6M510.8 1309.0v4.9M526.4 836.7v2.6M526.4 910.8v2.6M526.4 1320.6v2.6M542.0 903.9v2.6M542.0 1309.0v4.9M557.6 808.9v2.6M557.6 906.2v4.9M557.6 1322.9v2.6M573.3 896.9v2.6M573.3 1318.3v4.9M588.9 813.6v2.6M588.9 892.3v4.9M588.9 1332.2v2.6"/>
<path stroke="#ffa700" d="M135.8 825.1v2.6M135.8 896.9v2.6M135.8 1288.2v4.9M151.4 825.1v2.6M151.4 1297.5v2.6M167.1 818.2v14.2M167.1 890.0v2.6M167.1 1316.0v4.9M182.7 906.2v2.6M182.7 1306.7v4.9M198.3 915.4v2.6M198.3 1316.0v4.9M213.9 901.5v2.6M213.9 1334.5v7.2M229.6 799.7v2.6M245.2 792.7v2.6M245.2 917.8v2.6M260.8 788.1v2.6M260.8 940.9v2.6M276.4 788.1v2.6M292.0 813.6v2.6M307.7 806.6v2.6M323.3 802.0v2.6M338.9 792.7v2.6M354.5 924.7v2.6M370.2 927.0v2.6M385.8 929.3v2.6M417.0 776.5v2.6M417.0 899.2v4.9M432.7 788.1v2.6M432.7 908.5v2.6M448.3 899.2v4.9M448.3 1343.8v4.9M463.9 890.0v2.6M463.9 1357.7v4.9M479.5 832.1v2.6M479.5 910.8v2.6M479.5 1327.6v7.2M495.1 908.5v2.6M495.1 1346.1v14.2M510.8 901.5v2.6M510.8 1313.7v2.6M526.4 839.0v2.6M526.4 908.5v2.6M526.4 1322.9v2.6M542.0 802.0v2.6M542.0 899.2v4.9M542.0 1313.7v2.6M557.6 903.9v2.6M557.6 1325.3v2.6M573.3 804.3v2.6M573.3 894.6v2.6M573.3 1322.9v2.6M588.9 815.9v2.6M588.9 890.0v2.6M588.9 1334.5v7.2"/>
<path stroke="#ff8700" d="M135.8 827.5v2.6M135.8 892.3v2.6M135.8 1295.2v4.9M151.4 832.1v2.6M151.4 1304.4v2.6M167.1 843.7v9.6M167.1 871.4v9.6M167.1 1322.9v4.9M182.7 1313.7v4.9M198.3 908.5v2.6M198.3 1322.9v4.9M213.9 896.9v2.6M213.9 1346.1v7.2M260.8 790.4v2.6M260.8 938.6v2.6M276.4 795.0v2.6M292.0 806.6v2.6M292.0 938.6v2.6M307.7 813.6v2.6M323.3 804.3v2.6M338.9 795.0v2.6M354.5 922.4v2.6M385.8 927.0v2.6M432.7 790.4v2.6M448.3 894.6v2.6M448.3 1350.7v4.9M463.9 880.7v4.9M479.5 903.9v2.6M479.5 1343.8v9.6M495.1 903.9v2.6M510.8 822.8v2.6M510.8 896.9v2.6M510.8 1320.6v4.9M526.4 841.3v2.6M526.4 901.5v4.9M526.4 1329.9v4.9M542.0 804.3v2.6M542.0 890.0v4.9M542.0 1318.3v4.9M557.6 899.2v2.6M557.6 1332.2v2.6M573.3 890.0v2.6M573.3 1327.6v4.9M588.9 818.2v2.6M588.9 883.0v4.9M588.9 1346.1v7.2"/>
<path stroke="#ff6800" d="M135.8 829.8v2.6M135.8 887.7v2.6M135.8 1304.4v2.6M151.4 836.7v2.6M151.4 1311.4v4.9M167.1 1332.2v2.6M182.7 797.4v9.6M182.7 832.1v2.6M182.7 899.2v2.6M182.7 1322.9v2.6M198.3 813.6v2.6M198.3 903.9v2.6M198.3 1332.2v2.6M213.9 892.3v2.6M213.9 1357.7v4.9M229.6 903.9v2.6M245.2 795.0v2.6M245.2 910.8v2.6M276.4 802.0v4.9M276.4 934.0v2.6M292.0 804.3v2.6M292.0 818.2v2.6M307.7 825.1v9.6M323.3 934.0v2.6M338.9 954.8v2.6M354.5 795.0v2.6M370.2 920.1v2.6M417.0 778.8v2.6M417.0 892.3v2.6M432.7 795.0v4.9M432.7 901.5v2.6M448.3 797.4v9.6M448.3 890.0v2.6M448.3 1360.0v2.6M463.9 825.1v9.6M463.9 871.4v4.9M479.5 899.2v2.6M479.5 1357.7v4.9M495.1 855.2v2.6M495.1 896.9v4.9M510.8 892.3v2.6M510.8 1329.9v7.2M526.4 894.6v2.6M526.4 1339.1v4.9M542.0 878.4v7.2M542.0 1327.6v2.6M557.6 892.3v4.9M557.6 1339.1v4.9M573.3 811.2v2.6M573.3 885.3v2.6M573.3 1336.8v2.6M588.9 876.1v2.6M588.9 1357.7v4.9"/>
<path stroke="#ff4800" d="M135.8 832.1v2.6M135.8 883.0v2.6M135.8 1313.7v7.2M151.4 850.6v7.2M151.4 885.3v4.9M151.4 1318.3v4.9M167.1 1341.5v7.2M182.7 836.7v2.6M182.7 890.0v4.9M182.7 1329.9v4.9M198.3 815.9v2.6M198.3 894.6v4.9M198.3 1339.1v4.9M213.9 887.7v2.6M229.6 896.9v2.6M245.2 906.2v2.6M260.8 797.4v2.6M260.8 813.6v4.9M260.8 934.0v2.6M276.4 931.6v2.6M292.0 802.0v2.6M292.0 820.5v2.6M307.7 836.7v4.9M323.3 931.6v2.6M338.9 952.5v2.6M370.2 915.4v2.6M417.0 781.1v2.6M417.0 887.7v2.6M432.7 802.0v2.6M432.7 896.9v2.6M448.3 808.9v2.6M448.3 859.9v14.2M463.9 850.6v4.9M479.5 890.0v4.9M495.1 857.6v2.6M495.1 892.3v2.6M510.8 827.5v2.6M510.8 885.3v4.9M510.8 1341.5v7.2M526.4 885.3v4.9M526.4 1360.0v2.6M542.0 866.8v7.2M542.0 1334.5v4.9M557.6 818.2v4.9M557.6 885.3v4.9M557.6 1346.1v4.9M573.3 815.9v2.6M573.3 878.4v2.6M573.3 1343.8v4.9M588.9 825.1v2.6M588.9 866.8v4.9"/>
<path stroke="#ff3800" d="M135.8 834.4v2.6M135.8 878.4v4.9M135.8 1320.6v9.6M151.4 857.6v4.9M151.4 880.7v4.9M151.4 1322.9v4.9M167.1 1348.4v7.2M182.7 839.0v2.6M182.7 887.7v2.6M182.7 1334.5v2.6M198.3 890.0v4.9M198.3 1343.8v2.6M213.9 788.1v2.6M213.9 883.0v4.9M229.6 804.3v2.6M229.6 894.6v2.6M245.2 797.4v2.6M245.2 903.9v2.6M260.8 818.2v2.6M260.8 931.6v2.6M276.4 811.2v2.6M292.0 788.1v2.6M292.0 822.8v2.6M292.0 936.3v2.6M307.7 841.3v2.6M307.7 927.0v2.6M323.3 811.2v2.6M338.9 802.0v2.6M338.9 947.9v4.9M354.5 797.4v2.6M354.5 915.4v2.6M370.2 910.8v4.9M385.8 920.1v2.6M417.0 885.3v2.6M432.7 804.3v4.9M432.7 892.3v4.9M448.3 811.2v2.6M448.3 848.3v11.9M479.5 839.0v2.6M479.5 887.7v2.6M495.1 859.9v4.9M495.1 885.3v7.2M510.8 829.8v2.6M510.8 880.7v4.9M510.8 1348.4v4.9M526.4 848.3v2.6M526.4 880.7v4.9M542.0 811.2v2.6M542.0 862.2v4.9M542.0 1339.1v4.9M557.6 822.8v2.6M557.6 880.7v4.9M557.6 1350.7v4.9M573.3 818.2v4.9M573.3 876.1v2.6M573.3 1348.4v4.9M588.9 827.5v2.6M588.9 862.2v4.9"/>
<path stroke="#ff2800" d="M135.8 836.7v4.9M135.8 873.8v4.9M135.8 1329.9v9.6M151.4 862.2v7.2M151.4 873.8v7.2M151.4 1327.6v4.9M167.1 1355.4v4.9M182.7 841.3v2.6M182.7 883.0v4.9M182.7 1336.8v4.9M198.3 818.2v2.6M198.3 883.0v7.2M198.3 1346.1v4.9M213.9 790.4v2.6M213.9 878.4v4.9M229.6 892.3v2.6M245.2 901.5v2.6M260.8 799.7v2.6M260.8 811.2v2.6M260.8 820.5v2.6M260.8 929.3v2.6M276.4 813.6v2.6M292.0 790.4v2.6M292.0 825.1v2.6M307.7 843.7v2.6M323.3 813.6v2.6M338.9 804.3v2.6M338.9 945.5v2.6M354.5 799.7v2.6M354.5 913.1v2.6M370.2 908.5v2.6M385.8 917.8v2.6M417.0 783.5v2.6M432.7 808.9v2.6M432.7 887.7v4.9M448.3 813.6v2.6M448.3 839.0v9.6M479.5 841.3v2.6M479.5 883.0v4.9M495.1 864.5v4.9M495.1 876.1v9.6M510.8 832.1v2.6M510.8 876.1v4.9M510.8 1353.0v7.2M526.4 850.6v2.6M526.4 873.8v7.2M542.0 813.6v2.6M542.0 855.2v7.2M542.0 1343.8v7.2M557.6 825.1v2.6M557.6 873.8v7.2M557.6 1355.4v4.9M573.3 822.8v2.6M573.3 873.8v2.6M573.3 1353.0v7.2M588.9 829.8v2.6M588.9 855.2v7.2"/>
<path stroke="#ff1800" d="M135.8 841.3v4.9M135.8 859.9v14.2M135.8 1339.1v23.5M151.4 869.1v4.9M151.4 1332.2v4.9M167.1 1360.0v2.6M182.7 843.7v4.9M182.7 876.1v7.2M182.7 1341.5v7.2M198.3 820.5v2.6M198.3 876.1v7.2M198.3 1350.7v4.9M213.9 873.8v4.9M229.6 806.6v2.6M229.6 887.7v4.9M245.2 896.9v4.9M260.8 802.0v2.6M260.8 808.9v2.6M260.8 822.8v2.6M260.8 927.0v2.6M276.4 929.3v2.6M292.0 799.7v2.6M292.0 827.5v2.6M307.7 846.0v4.9M323.3 815.9v2.6M323.3 929.3v2.6M338.9 806.6v2.6M338.9 940.9v4.9M370.2 903.9v4.9M385.8 915.4v2.6M417.0 804.3v4.9M417.0 883.0v2.6M432.7 811.2v2.6M432.7 883.0v4.9M448.3 815.9v23.5M479.5 843.7v4.9M479.5 876.1v7.2M495.1 869.1v7.2M510.8 834.4v4.9M510.8 871.4v4.9M510.8 1360.0v2.6M526.4 852.9v21.1M542.0 815.9v4.9M542.0 848.3v7.2M542.0 1350.7v11.9M557.6 827.5v2.6M557.6 866.8v7.2M557.6 1360.0v2.6M573.3 825.1v4.9M573.3 869.1v4.9M573.3 1360.0v2.6M588.9 832.1v23.5"/>
<path stroke="#ff0800" d="M135.8 846.0v14.2M151.4 1336.8v4.9M182.7 848.3v11.9M182.7 864.5v11.9M182.7 1348.4v11.9M198.3 822.8v2.6M198.3 864.5v11.9M198.3 1355.4v4.9M213.9 792.7v2.6M213.9 869.1v4.9M229.6 880.7v7.2M245.2 890.0v7.2M260.8 804.3v4.9M260.8 825.1v2.6M276.4 815.9v2.6M292.0 792.7v2.6M292.0 934.0v2.6M307.7 924.7v2.6M338.9 808.9v7.2M338.9 938.6v2.6M354.5 802.0v2.6M354.5 910.8v2.6M370.2 795.0v2.6M370.2 901.5v2.6M385.8 788.1v2.6M385.8 908.5v7.2M417.0 785.8v2.6M417.0 802.0v2.6M417.0 808.9v4.9M417.0 880.7v2.6M432.7 813.6v2.6M432.7 878.4v4.9M479.5 848.3v11.9M479.5 864.5v11.9M510.8 839.0v11.9M510.8 857.6v14.2M542.0 820.5v11.9M542.0 836.7v11.9M557.6 829.8v4.9M557.6 855.2v11.9M573.3 829.8v2.6M573.3 862.2v7.2"/>
<path stroke="#ff5800" d="M135.8 885.3v2.6M135.8 1306.7v7.2M151.4 839.0v11.9M151.4 890.0v2.6M151.4 1316.0v2.6M167.1 1334.5v7.2M182.7 834.4v2.6M182.7 894.6v4.9M182.7 1325.3v4.9M198.3 899.2v4.9M198.3 1334.5v4.9M213.9 890.0v2.6M229.6 899.2v4.9M245.2 908.5v2.6M260.8 795.0v2.6M260.8 936.3v2.6M276.4 806.6v4.9M307.7 834.4v2.6M323.3 808.9v2.6M338.9 799.7v2.6M354.5 917.8v2.6M370.2 792.7v2.6M370.2 917.8v2.6M385.8 785.8v2.6M385.8 922.4v2.6M417.0 890.0v2.6M432.7 799.7v2.6M432.7 899.2v2.6M448.3 806.6v2.6M448.3 873.8v16.5M463.9 834.4v16.5M463.9 855.2v16.5M479.5 836.7v2.6M479.5 894.6v4.9M495.1 894.6v2.6M510.8 825.1v2.6M510.8 890.0v2.6M510.8 1336.8v4.9M526.4 846.0v2.6M526.4 890.0v4.9M526.4 1343.8v16.5M542.0 808.9v2.6M542.0 873.8v4.9M542.0 1329.9v4.9M557.6 815.9v2.6M557.6 890.0v2.6M557.6 1343.8v2.6M573.3 813.6v2.6M573.3 880.7v4.9M573.3 1339.1v4.9M588.9 822.8v2.6M588.9 871.4v4.9"/>
<path stroke="#ff7800" d="M135.8 890.0v2.6M135.8 1299.8v4.9M151.4 834.4v2.6M151.4 892.3v2.6M151.4 1306.7v4.9M167.1 852.9v18.8M167.1 1327.6v4.9M182.7 795.0v2.6M182.7 806.6v25.8M182.7 901.5v2.6M182.7 1318.3v4.9M198.3 906.2v2.6M198.3 1327.6v4.9M213.9 785.8v2.6M213.9 894.6v2.6M213.9 1353.0v4.9M229.6 802.0v2.6M229.6 906.2v2.6M245.2 913.1v2.6M260.8 792.7v2.6M276.4 797.4v4.9M292.0 785.8v2.6M307.7 815.9v9.6M307.7 929.3v2.6M323.3 806.6v2.6M338.9 797.4v2.6M354.5 920.1v2.6M370.2 922.4v2.6M385.8 924.7v2.6M417.0 894.6v2.6M432.7 792.7v2.6M432.7 903.9v2.6M448.3 788.1v9.6M448.3 892.3v2.6M448.3 1355.4v4.9M463.9 815.9v9.6M463.9 876.1v4.9M479.5 834.4v2.6M479.5 901.5v2.6M479.5 1353.0v4.9M495.1 901.5v2.6M510.8 894.6v2.6M510.8 1325.3v4.9M526.4 843.7v2.6M526.4 896.9v4.9M526.4 1334.5v4.9M542.0 806.6v2.6M542.0 885.3v4.9M542.0 1322.9v4.9M557.6 813.6v2.6M557.6 896.9v2.6M557.6 1334.5v4.9M573.3 808.9v2.6M573.3 887.7v2.6M573.3 1332.2v4.9M588.9 820.5v2.6M588.9 878.4v4.9M588.9 1353.0v4.9"/>
<path stroke="#ff9700" d="M135.8 894.6v2.6M135.8 1292.8v2.6M151.4 827.5v4.9M151.4 894.6v2.6M151.4 1299.8v4.9M167.1 832.1v11.9M167.1 880.7v9.6M167.1 1320.6v2.6M182.7 792.7v2.6M182.7 903.9v2.6M182.7 1311.4v2.6M198.3 811.2v2.6M198.3 910.8v4.9M198.3 1320.6v2.6M213.9 899.2v2.6M213.9 1341.5v4.9M229.6 908.5v2.6M245.2 915.4v2.6M276.4 790.4v4.9M276.4 936.3v2.6M292.0 808.9v4.9M292.0 815.9v2.6M307.7 808.9v4.9M323.3 936.3v2.6M338.9 957.1v2.6M354.5 792.7v2.6M370.2 924.7v2.6M417.0 896.9v2.6M432.7 906.2v2.6M448.3 785.8v2.6M448.3 896.9v2.6M448.3 1348.4v2.6M463.9 813.6v2.6M463.9 885.3v4.9M479.5 906.2v4.9M479.5 1334.5v9.6M495.1 852.9v2.6M495.1 906.2v2.6M495.1 1360.0v2.6M510.8 899.2v2.6M510.8 1316.0v4.9M526.4 906.2v2.6M526.4 1325.3v4.9M542.0 894.6v4.9M542.0 1316.0v2.6M557.6 811.2v2.6M557.6 901.5v2.6M557.6 1327.6v4.9M573.3 806.6v2.6M573.3 892.3v2.6M573.3 1325.3v2.6M588.9 887.7v2.6M588.9 1341.5v4.9"/>
<path stroke="#ffc700" d="M135.8 901.5v2.6M135.8 1281.3v4.9M151.4 716.3v2.6M151.4 896.9v2.6M151.4 1292.8v2.6M167.1 811.2v2.6M167.1 896.9v2.6M167.1 1304.4v7.2M182.7 714.0v2.6M182.7 1302.1v2.6M198.3 781.1v4.9M198.3 917.8v2.6M198.3 1309.0v4.9M213.9 1329.9v2.6M229.6 792.7v2.6M229.6 1350.7v4.9M245.2 920.1v2.6M245.2 1054.4v2.6M260.8 785.8v2.6M276.4 785.8v2.6M276.4 938.6v2.6M307.7 783.5v2.6M307.7 790.4v2.6M307.7 802.0v2.6M338.9 959.4v2.6M354.5 790.4v2.6M354.5 929.3v2.6M370.2 929.3v2.6M385.8 1047.4v2.6M417.0 906.2v4.9M417.0 1350.7v4.9M432.7 910.8v2.6M448.3 783.5v2.6M448.3 906.2v2.6M448.3 1339.1v2.6M463.9 896.9v2.6M463.9 1348.4v4.9M479.5 716.3v2.6M479.5 915.4v2.6M479.5 1313.7v4.9M495.1 850.6v2.6M495.1 913.1v2.6M495.1 1322.9v9.6M510.8 906.2v2.6M510.8 1304.4v4.9M526.4 834.4v2.6M526.4 913.1v2.6M526.4 1318.3v2.6M542.0 799.7v2.6M542.0 906.2v2.6M542.0 1306.7v2.6M557.6 910.8v2.6M557.6 1320.6v2.6M573.3 802.0v2.6M573.3 899.2v2.6M573.3 1316.0v2.6M588.9 811.2v2.6M588.9 896.9v2.6M588.9 1327.6v4.9"/>
<path stroke="#d7ff28" d="M135.8 917.8v4.9M135.8 1258.1v4.9M151.4 737.2v2.6M151.4 908.5v2.6M151.4 1269.7v4.9M167.1 799.7v2.6M167.1 910.8v2.6M167.1 1278.9v2.6M182.7 734.8v2.6M182.7 917.8v2.6M182.7 1281.3v4.9M198.3 1288.2v2.6M213.9 913.1v2.6M213.9 1311.4v2.6M229.6 920.1v2.6M229.6 1306.7v7.2M245.2 1065.9v2.6M260.8 950.2v2.6M292.0 943.2v2.6M307.7 771.9v2.6M307.7 936.3v2.6M323.3 945.5v2.6M338.9 776.5v2.6M354.5 940.9v2.6M385.8 940.9v2.6M385.8 1035.8v2.6M385.8 1068.2v2.6M385.8 1343.8v7.2M417.0 771.9v2.6M417.0 929.3v2.6M417.0 1336.8v2.6M432.7 776.5v2.6M432.7 922.4v2.6M432.7 1332.2v4.9M448.3 922.4v2.6M448.3 1292.8v2.6M463.9 915.4v2.6M463.9 1306.7v7.2M479.5 732.5v2.6M479.5 931.6v4.9M479.5 1288.2v7.2M495.1 924.7v2.6M495.1 1288.2v7.2M510.8 1276.6v4.9M526.4 815.9v4.9M526.4 924.7v2.6M526.4 1297.5v4.9M542.0 920.1v7.2M542.0 1285.9v4.9M557.6 799.7v2.6M557.6 924.7v2.6M557.6 1302.1v2.6M573.3 727.9v4.9M573.3 915.4v2.6M573.3 1295.2v4.9M588.9 795.0v2.6M588.9 917.8v4.9M588.9 1304.4v4.9"/>
<path stroke="#b7ff48" d="M135.8 924.7v2.6M135.8 1251.2v2.6M151.4 741.8v2.6M151.4 806.6v2.6M151.4 910.8v2.6M151.4 1265.1v2.6M167.1 915.4v2.6M167.1 1274.3v2.6M182.7 739.5v2.6M182.7 1274.3v2.6M198.3 1281.3v2.6M213.9 1306.7v2.6M229.6 924.7v2.6M229.6 1297.5v4.9M245.2 934.0v2.6M245.2 1028.9v2.6M245.2 1360.0v2.6M323.3 778.8v2.6M385.8 781.1v2.6M385.8 1072.9v2.6M385.8 1334.5v4.9M417.0 934.0v2.6M417.0 1329.9v2.6M432.7 924.7v2.6M432.7 1322.9v4.9M448.3 924.7v2.6M448.3 1285.9v2.6M463.9 797.4v2.6M463.9 922.4v4.9M463.9 1297.5v4.9M479.5 820.5v2.6M479.5 938.6v2.6M479.5 1278.9v4.9M495.1 929.3v2.6M495.1 1281.3v2.6M510.8 714.0v2.6M510.8 924.7v2.6M510.8 1269.7v2.6M526.4 811.2v2.6M526.4 929.3v2.6M526.4 1290.5v2.6M542.0 931.6v4.9M542.0 1278.9v2.6M557.6 929.3v2.6M557.6 1297.5v2.6M573.3 734.8v2.6M573.3 920.1v2.6M573.3 1288.2v2.6M588.9 790.4v2.6M588.9 924.7v2.6M588.9 1295.2v4.9"/>
<path stroke="#a7ff58" d="M135.8 927.0v2.6M135.8 1248.8v2.6M151.4 744.1v2.6M151.4 913.1v2.6M151.4 1260.4v4.9M167.1 795.0v2.6M167.1 917.8v2.6M182.7 741.8v4.9M182.7 922.4v2.6M182.7 1272.0v2.6M198.3 792.7v2.6M198.3 799.7v2.6M198.3 927.0v2.6M198.3 1276.6v4.9M213.9 917.8v2.6M213.9 1302.1v4.9M229.6 1292.8v4.9M245.2 936.3v2.6M245.2 1070.6v2.6M245.2 1355.4v4.9M276.4 945.5v2.6M292.0 778.8v2.6M307.7 764.9v4.9M307.7 938.6v2.6M323.3 776.5v2.6M323.3 947.9v2.6M338.9 771.9v2.6M338.9 1126.1v7.2M354.5 945.5v2.6M370.2 940.9v2.6M385.8 945.5v2.6M385.8 1033.5v2.6M385.8 1075.2v4.9M385.8 1327.6v7.2M417.0 936.3v4.9M417.0 1327.6v2.6M432.7 774.2v2.6M432.7 927.0v4.9M432.7 1313.7v9.6M448.3 778.8v2.6M448.3 927.0v4.9M448.3 1281.3v4.9M463.9 792.7v4.9M463.9 927.0v7.2M463.9 1290.5v7.2M479.5 737.2v2.6M479.5 815.9v4.9M479.5 940.9v2.6M479.5 1274.3v4.9M495.1 841.3v2.6M495.1 1276.6v4.9M510.8 716.3v4.9M510.8 818.2v2.6M510.8 927.0v2.6M510.8 1265.1v4.9M526.4 808.9v2.6M526.4 931.6v2.6M526.4 1285.9v4.9M542.0 936.3v2.6M542.0 1274.3v4.9M557.6 1292.8v4.9M573.3 737.2v2.6M573.3 790.4v2.6M573.3 922.4v2.6M573.3 1283.6v4.9M588.9 927.0v2.6M588.9 1290.5v4.9"/>
<path stroke="#87ff78" d="M135.8 931.6v2.6M135.8 1246.5v2.6M151.4 748.7v2.6M151.4 917.8v2.6M151.4 1255.8v2.6M167.1 792.7v2.6M167.1 920.1v2.6M167.1 1269.7v2.6M182.7 748.7v2.6M182.7 924.7v2.6M182.7 1267.4v2.6M198.3 795.0v4.9M198.3 1269.7v4.9M213.9 922.4v2.6M213.9 1297.5v2.6M229.6 781.1v2.6M229.6 929.3v2.6M229.6 1288.2v2.6M245.2 785.8v2.6M245.2 938.6v2.6M245.2 1072.9v2.6M245.2 1306.7v42.0M260.8 954.8v2.6M292.0 945.5v2.6M307.7 760.3v2.6M307.7 940.9v2.6M323.3 774.2v2.6M323.3 950.2v2.6M338.9 769.6v2.6M338.9 1121.5v2.6M338.9 1133.1v2.6M354.5 947.9v2.6M370.2 943.2v2.6M385.8 947.9v2.6M385.8 1031.2v2.6M385.8 1082.1v2.6M385.8 1316.0v7.2M417.0 943.2v2.6M417.0 1320.6v2.6M432.7 771.9v2.6M432.7 934.0v2.6M432.7 1302.1v2.6M448.3 934.0v2.6M448.3 1274.3v2.6M463.9 788.1v2.6M463.9 936.3v2.6M463.9 1283.6v2.6M479.5 739.5v2.6M479.5 811.2v2.6M479.5 943.2v2.6M479.5 1269.7v2.6M495.1 839.0v2.6M495.1 934.0v2.6M495.1 1269.7v4.9M510.8 727.9v4.9M510.8 931.6v2.6M510.8 1260.4v2.6M526.4 802.0v2.6M526.4 936.3v2.6M526.4 1278.9v4.9M542.0 940.9v2.6M542.0 1269.7v2.6M557.6 934.0v2.6M557.6 1288.2v2.6M573.3 744.1v2.6M573.3 788.1v2.6M573.3 927.0v2.6M573.3 1278.9v2.6M588.9 785.8v2.6M588.9 931.6v2.6M588.9 1278.9v4.9"/>
<path stroke="#78ff87" d="M135.8 934.0v2.6M135.8 1244.2v2.6M151.4 751.0v2.6M151.4 920.1v2.6M151.4 1253.5v2.6M167.1 922.4v2.6M167.1 1267.4v2.6M182.7 751.0v2.6M182.7 927.0v2.6M182.7 1265.1v2.6M198.3 774.2v2.6M198.3 929.3v2.6M198.3 1267.4v2.6M213.9 924.7v2.6M213.9 1295.2v2.6M229.6 931.6v2.6M229.6 1285.9v2.6M245.2 940.9v2.6M245.2 1075.2v2.6M245.2 1299.8v7.2M260.8 1040.5v14.2M276.4 947.9v2.6M307.7 758.0v2.6M323.3 771.9v2.6M338.9 966.4v2.6M338.9 1114.6v7.2M338.9 1135.4v2.6M354.5 950.2v2.6M370.2 945.5v2.6M370.2 1355.4v7.2M385.8 950.2v2.6M385.8 1084.5v4.9M385.8 1309.0v7.2M417.0 945.5v2.6M417.0 1316.0v4.9M432.7 936.3v2.6M432.7 1297.5v4.9M448.3 936.3v2.6M448.3 1269.7v4.9M463.9 938.6v2.6M463.9 1278.9v4.9M479.5 741.8v2.6M479.5 806.6v4.9M479.5 945.5v2.6M479.5 1267.4v2.6M495.1 836.7v2.6M495.1 936.3v2.6M495.1 1267.4v2.6M510.8 732.5v2.6M510.8 769.6v2.6M510.8 934.0v2.6M510.8 1258.1v2.6M526.4 797.4v4.9M526.4 938.6v2.6M526.4 1274.3v4.9M542.0 714.0v2.6M542.0 943.2v2.6M542.0 1267.4v2.6M557.6 936.3v2.6M557.6 1285.9v2.6M573.3 746.4v4.9M573.3 785.8v2.6M573.3 929.3v2.6M573.3 1276.6v2.6M588.9 1276.6v2.6"/>
<path stroke="#58ffa7" d="M135.8 938.6v2.6M135.8 1241.9v2.6M151.4 753.4v2.6M151.4 802.0v2.6M151.4 924.7v2.6M151.4 1248.8v2.6M167.1 924.7v2.6M167.1 1262.7v2.6M182.7 755.7v4.9M182.7 929.3v2.6M182.7 1260.4v2.6M198.3 931.6v2.6M198.3 1260.4v2.6M213.9 929.3v2.6M213.9 1288.2v2.6M229.6 934.0v2.6M229.6 1278.9v2.6M245.2 943.2v2.6M245.2 1077.5v2.6M245.2 1288.2v7.2M260.8 1028.9v7.2M260.8 1059.0v7.2M276.4 950.2v2.6M307.7 751.0v2.6M323.3 769.6v2.6M338.9 1103.0v7.2M338.9 1137.7v2.6M354.5 954.8v2.6M370.2 947.9v2.6M370.2 1343.8v7.2M385.8 952.5v2.6M385.8 1091.4v4.9M385.8 1297.5v4.9M417.0 947.9v2.6M417.0 1306.7v4.9M432.7 1288.2v4.9M448.3 776.5v2.6M448.3 943.2v2.6M448.3 1260.4v4.9M463.9 785.8v2.6M463.9 943.2v2.6M463.9 1269.7v4.9M479.5 797.4v4.9M479.5 947.9v2.6M479.5 1260.4v2.6M495.1 834.4v2.6M495.1 938.6v2.6M495.1 1260.4v2.6M510.8 734.8v2.6M510.8 771.9v2.6M510.8 938.6v2.6M510.8 1251.2v2.6M526.4 788.1v4.9M526.4 943.2v2.6M526.4 1267.4v4.9M542.0 720.9v2.6M542.0 788.1v2.6M542.0 947.9v2.6M542.0 1260.4v2.6M557.6 938.6v2.6M557.6 1278.9v2.6M573.3 755.7v4.9M573.3 783.5v2.6M573.3 934.0v2.6M573.3 1269.7v2.6M588.9 1269.7v2.6"/>
<path stroke="#48ffb7" d="M135.8 940.9v2.6M135.8 1239.6v2.6M151.4 755.7v2.6M151.4 927.0v2.6M151.4 1246.5v2.6M167.1 714.0v4.9M167.1 788.1v2.6M182.7 760.3v2.6M182.7 771.9v7.2M182.7 931.6v2.6M182.7 1258.1v2.6M198.3 1258.1v2.6M213.9 931.6v2.6M213.9 1061.3v9.6M213.9 1283.6v4.9M229.6 778.8v2.6M229.6 936.3v2.6M229.6 1276.6v2.6M245.2 1079.8v2.6M245.2 1283.6v4.9M260.8 774.2v2.6M260.8 1026.6v2.6M260.8 1065.9v2.6M260.8 1320.6v42.0M292.0 776.5v2.6M292.0 947.9v2.6M307.7 748.7v2.6M338.9 767.3v2.6M338.9 1098.3v4.9M338.9 1140.0v2.6M354.5 781.1v2.6M354.5 957.1v2.6M354.5 1357.7v4.9M370.2 785.8v2.6M370.2 950.2v2.6M370.2 1339.1v4.9M385.8 778.8v2.6M385.8 954.8v2.6M385.8 1096.0v2.6M385.8 1292.8v4.9M417.0 764.9v2.6M417.0 950.2v2.6M417.0 1304.4v2.6M432.7 940.9v2.6M432.7 1285.9v2.6M448.3 945.5v2.6M448.3 1255.8v4.9M463.9 945.5v2.6M463.9 1267.4v2.6M479.5 746.4v2.6M479.5 795.0v2.6M479.5 1258.1v2.6M495.1 832.1v2.6M495.1 940.9v2.6M495.1 1258.1v2.6M510.8 737.2v2.6M510.8 774.2v2.6M510.8 940.9v2.6M510.8 1248.8v2.6M526.4 945.5v2.6M526.4 1265.1v2.6M542.0 723.3v2.6M542.0 1258.1v2.6M557.6 1276.6v2.6M573.3 760.3v4.9M573.3 781.1v2.6M573.3 936.3v2.6M573.3 1267.4v2.6M588.9 781.1v2.6M588.9 936.3v2.6M588.9 1267.4v2.6"/>
<path stroke="#28ffd7" d="M135.8 945.5v2.6M135.8 1237.3v2.6M151.4 758.0v2.6M151.4 931.6v2.6M151.4 1241.9v2.6M167.1 725.6v4.9M167.1 1258.1v2.6M182.7 934.0v2.6M182.7 1255.8v2.6M198.3 934.0v2.6M198.3 1251.2v4.9M213.9 934.0v2.6M213.9 1049.7v4.9M213.9 1077.5v4.9M213.9 1272.0v4.9M229.6 938.6v2.6M229.6 1070.6v18.8M229.6 1269.7v4.9M245.2 783.5v2.6M245.2 1082.1v2.6M245.2 1272.0v4.9M260.8 771.9v2.6M260.8 1019.6v4.9M260.8 1072.9v4.9M260.8 1309.0v4.9M276.4 952.5v2.6M307.7 741.8v4.9M323.3 767.3v2.6M338.9 968.7v2.6M338.9 1086.8v4.9M338.9 1142.3v2.6M354.5 961.7v2.6M354.5 1346.1v4.9M370.2 952.5v2.6M370.2 1327.6v4.9M385.8 957.1v2.6M385.8 1103.0v7.2M385.8 1283.6v4.9M417.0 762.6v2.6M417.0 952.5v2.6M417.0 1295.2v4.9M432.7 767.3v2.6M432.7 945.5v2.6M432.7 1278.9v4.9M448.3 950.2v2.6M448.3 1244.2v4.9M463.9 950.2v4.9M463.9 1260.4v4.9M479.5 751.0v2.6M479.5 790.4v2.6M479.5 1251.2v4.9M495.1 827.5v2.6M495.1 943.2v2.6M495.1 1251.2v4.9M510.8 739.5v2.6M510.8 776.5v2.6M510.8 945.5v4.9M510.8 1239.6v4.9M526.4 947.9v2.6M526.4 1258.1v2.6M542.0 727.9v4.9M557.6 1269.7v4.9M573.3 769.6v7.2M573.3 778.8v2.6M573.3 940.9v2.6M573.3 1260.4v4.9M588.9 778.8v2.6M588.9 938.6v2.6M588.9 1260.4v4.9"/>
<path stroke="#18ffe7" d="M135.8 947.9v2.6M135.8 1235.0v2.6M151.4 799.7v2.6M151.4 934.0v2.6M151.4 1239.6v2.6M167.1 730.2v7.2M167.1 783.5v2.6M167.1 929.3v2.6M167.1 1255.8v2.6M198.3 936.3v2.6M198.3 1079.8v9.6M198.3 1248.8v2.6M213.9 1045.1v4.9M213.9 1082.1v7.2M213.9 1267.4v4.9M229.6 1063.6v7.2M229.6 1089.1v2.6M229.6 1267.4v2.6M245.2 947.9v2.6M245.2 1084.5v2.6M245.2 1267.4v4.9M260.8 957.1v2.6M260.8 1077.5v4.9M260.8 1302.1v7.2M276.4 1038.2v18.8M276.4 1320.6v42.0M307.7 739.5v2.6M307.7 947.9v2.6M323.3 954.8v2.6M338.9 1079.8v7.2M354.5 1339.1v7.2M370.2 954.8v2.6M370.2 1320.6v7.2M385.8 1109.9v7.2M385.8 1281.3v2.6M417.0 1290.5v4.9M432.7 947.9v2.6M432.7 1276.6v2.6M448.3 1237.3v7.2M463.9 954.8v2.6M463.9 1258.1v2.6M479.5 753.4v2.6M479.5 952.5v2.6M479.5 1248.8v2.6M495.1 825.1v2.6M495.1 1248.8v2.6M510.8 950.2v2.6M510.8 1235.0v4.9M526.4 783.5v2.6M526.4 1255.8v2.6M542.0 732.5v2.6M542.0 785.8v2.6M542.0 952.5v2.6M542.0 1253.5v2.6M557.6 943.2v2.6M557.6 1267.4v2.6M573.3 776.5v2.6M573.3 1258.1v2.6M588.9 1255.8v4.9"/>
<path stroke="#08fff7" d="M135.8 950.2v2.6M135.8 1232.6v2.6M151.4 760.3v2.6M151.4 936.3v2.6M151.4 1237.3v2.6M167.1 737.2v4.9M167.1 781.1v2.6M167.1 1253.5v2.6M182.7 1253.5v2.6M198.3 771.9v2.6M198.3 938.6v2.6M198.3 1075.2v4.9M198.3 1089.1v4.9M198.3 1246.5v2.6M213.9 778.8v2.6M213.9 936.3v2.6M213.9 1042.8v2.6M213.9 1089.1v4.9M213.9 1265.1v2.6M229.6 940.9v2.6M229.6 1061.3v2.6M229.6 1091.4v4.9M229.6 1265.1v2.6M245.2 1019.6v2.6M245.2 1086.8v2.6M245.2 1265.1v2.6M260.8 1017.3v2.6M260.8 1082.1v4.9M260.8 1297.5v4.9M276.4 769.6v2.6M276.4 954.8v2.6M276.4 1026.6v11.9M276.4 1056.7v11.9M276.4 1316.0v4.9M307.7 737.2v2.6M338.9 1075.2v4.9M338.9 1144.7v2.6M354.5 964.1v2.6M354.5 1334.5v4.9M370.2 957.1v2.6M370.2 1316.0v4.9M385.8 959.4v2.6M385.8 1026.6v2.6M385.8 1116.9v7.2M385.8 1276.6v4.9M417.0 954.8v2.6M417.0 1285.9v4.9M432.7 950.2v2.6M432.7 1274.3v2.6M448.3 774.2v2.6M448.3 952.5v2.6M448.3 1232.6v4.9M463.9 783.5v2.6M463.9 957.1v2.6M463.9 1255.8v2.6M479.5 755.7v4.9M479.5 788.1v2.6M479.5 1246.5v2.6M495.1 822.8v2.6M495.1 945.5v2.6M495.1 1246.5v2.6M510.8 741.8v2.6M510.8 762.6v2.6M510.8 778.8v2.6M510.8 952.5v2.6M510.8 1230.3v4.9M526.4 950.2v2.6M526.4 1253.5v2.6M542.0 734.8v2.6M542.0 1251.2v2.6M557.6 788.1v2.6M557.6 1265.1v2.6M573.3 943.2v2.6M573.3 1255.8v2.6M588.9 776.5v2.6M588.9 940.9v2.6M588.9 1251.2v4.9"/>
<path stroke="#00d7ff" d="M135.8 954.8v2.6M135.8 1228.0v2.6M151.4 764.9v2.6M151.4 797.4v2.6M151.4 1228.0v2.6M167.1 1246.5v2.6M182.7 1248.8v2.6M198.3 947.9v2.6M198.3 1063.6v2.6M198.3 1103.0v2.6M198.3 1237.3v2.6M213.9 940.9v2.6M213.9 1035.8v2.6M213.9 1103.0v2.6M213.9 1255.8v2.6M229.6 776.5v2.6M229.6 945.5v2.6M229.6 1052.0v2.6M229.6 1105.3v2.6M229.6 1255.8v2.6M245.2 1096.0v2.6M245.2 1255.8v2.6M260.8 767.3v2.6M260.8 1012.7v2.6M260.8 1093.7v2.6M260.8 1283.6v2.6M276.4 718.6v7.2M276.4 764.9v2.6M276.4 1017.3v2.6M276.4 1079.8v7.2M276.4 1297.5v7.2M292.0 1329.9v9.6M307.7 1353.0v7.2M323.3 1112.2v7.2M323.3 1142.3v4.9M323.3 1353.0v7.2M338.9 971.0v2.6M338.9 1059.0v4.9M338.9 1151.6v2.6M338.9 1353.0v7.2M354.5 968.7v2.6M354.5 1316.0v7.2M370.2 966.4v2.6M370.2 1297.5v7.2M385.8 964.1v2.6M385.8 1133.1v4.9M385.8 1265.1v2.6M417.0 758.0v2.6M417.0 1054.4v2.6M417.0 1065.9v2.6M417.0 1276.6v2.6M432.7 764.9v2.6M432.7 1265.1v2.6M448.3 959.4v2.6M448.3 1218.7v2.6M463.9 961.7v2.6M463.9 1248.8v2.6M479.5 764.9v2.6M479.5 781.1v2.6M479.5 1237.3v2.6M495.1 783.5v2.6M495.1 818.2v2.6M495.1 950.2v2.6M495.1 1237.3v2.6M510.8 746.4v2.6M510.8 785.8v2.6M510.8 808.9v2.6M510.8 957.1v2.6M510.8 1221.1v2.6M526.4 954.8v2.6M526.4 1246.5v2.6M542.0 744.1v4.9M542.0 783.5v2.6M542.0 1244.2v2.6M557.6 947.9v2.6M557.6 1258.1v2.6M573.3 945.5v2.6M573.3 1246.5v2.6M588.9 771.9v2.6M588.9 1237.3v2.6"/>
<path stroke="#00c7ff" d="M135.8 957.1v2.6M135.8 1225.7v2.6M151.4 767.3v2.6M151.4 940.9v2.6M151.4 1225.7v2.6M167.1 934.0v2.6M167.1 1244.2v2.6M182.7 1246.5v2.6M198.3 950.2v2.6M198.3 1061.3v2.6M198.3 1105.3v2.6M198.3 1235.0v2.6M213.9 943.2v2.6M213.9 1105.3v2.6M213.9 1253.5v2.6M229.6 947.9v2.6M229.6 1049.7v2.6M229.6 1107.6v2.6M229.6 1253.5v2.6M245.2 952.5v2.6M245.2 1098.3v2.6M245.2 1253.5v2.6M260.8 764.9v2.6M260.8 1010.4v2.6M260.8 1096.0v4.9M260.8 1281.3v2.6M276.4 725.6v9.6M276.4 762.6v2.6M276.4 957.1v2.6M276.4 1015.0v2.6M276.4 1086.8v9.6M276.4 1292.8v4.9M292.0 1320.6v9.6M307.7 952.5v2.6M307.7 1348.4v4.9M323.3 1107.6v4.9M323.3 1147.0v2.6M323.3 1348.4v4.9M338.9 1054.4v4.9M338.9 1153.9v2.6M338.9 1348.4v4.9M354.5 971.0v2.6M354.5 1311.4v4.9M370.2 783.5v2.6M370.2 968.7v2.6M370.2 1292.8v4.9M385.8 966.4v2.6M385.8 1137.7v4.9M385.8 1262.7v2.6M417.0 714.0v2.6M417.0 755.7v2.6M417.0 957.1v2.6M417.0 1272.0v4.9M432.7 954.8v2.6M432.7 1262.7v2.6M448.3 771.9v2.6M448.3 1216.4v2.6M463.9 964.1v2.6M463.9 1246.5v2.6M479.5 767.3v7.2M479.5 957.1v2.6M479.5 1235.0v2.6M495.1 790.4v2.6M495.1 952.5v2.6M495.1 1235.0v2.6M510.8 748.7v2.6M510.8 760.3v2.6M510.8 788.1v7.2M510.8 1216.4v4.9M526.4 778.8v2.6M526.4 957.1v2.6M526.4 1244.2v2.6M542.0 748.7v2.6M542.0 957.1v2.6M557.6 1255.8v2.6M573.3 1244.2v2.6M588.9 769.6v2.6M588.9 1235.0v2.6"/>
<path stroke="#00a7ff" d="M135.8 959.4v2.6M135.8 1218.7v4.9M151.4 769.6v2.6M151.4 795.0v2.6M151.4 1218.7v4.9M167.1 936.3v2.6M167.1 1237.3v4.9M182.7 938.6v2.6M182.7 1241.9v4.9M198.3 1059.0v2.6M198.3 1107.6v2.6M198.3 1228.0v4.9M213.9 945.5v2.6M213.9 1033.5v2.6M213.9 1109.9v2.6M213.9 1246.5v4.9M229.6 950.2v2.6M229.6 1045.1v2.6M229.6 1112.2v4.9M229.6 1246.5v4.9M245.2 781.1v2.6M245.2 954.8v2.6M245.2 1103.0v4.9M245.2 1246.5v4.9M260.8 762.6v2.6M260.8 1105.3v4.9M260.8 1274.3v4.9M276.4 741.8v4.9M276.4 755.7v4.9M276.4 1012.7v2.6M276.4 1105.3v4.9M276.4 1283.6v4.9M292.0 1086.8v4.9M292.0 1096.0v16.5M292.0 1306.7v7.2M307.7 1336.8v4.9M323.3 762.6v2.6M323.3 1096.0v4.9M323.3 1153.9v4.9M323.3 1336.8v4.9M338.9 762.6v2.6M338.9 1049.7v2.6M338.9 1158.5v4.9M338.9 1336.8v4.9M354.5 973.3v2.6M354.5 1299.8v4.9M370.2 973.3v2.6M370.2 1281.3v4.9M385.8 968.7v2.6M385.8 1147.0v2.6M385.8 1255.8v4.9M417.0 720.9v2.6M417.0 753.4v2.6M417.0 1070.6v2.6M417.0 1265.1v4.9M432.7 1255.8v4.9M448.3 964.1v2.6M448.3 1209.5v4.9M463.9 781.1v2.6M463.9 968.7v2.6M463.9 1244.2v2.6M479.5 959.4v2.6M479.5 1228.0v4.9M495.1 815.9v2.6M495.1 954.8v4.9M495.1 1228.0v4.9M510.8 751.0v2.6M510.8 758.0v2.6M510.8 1202.5v9.6M526.4 776.5v2.6M526.4 959.4v2.6M526.4 1237.3v4.9M542.0 753.4v2.6M542.0 781.1v2.6M542.0 959.4v2.6M542.0 1239.6v2.6M557.6 1251.2v2.6M573.3 1237.3v4.9M588.9 1228.0v4.9"/>
<path stroke="#0078ff" d="M135.8 964.1v2.6M135.8 1204.9v4.9M151.4 771.9v2.6M151.4 792.7v2.6M151.4 1204.9v4.9M167.1 938.6v2.6M167.1 1225.7v7.2M182.7 1230.3v4.9M198.3 1112.2v2.6M198.3 1221.1v2.6M213.9 1114.6v2.6M213.9 1232.6v4.9M229.6 954.8v2.6M229.6 1040.5v2.6M229.6 1121.5v7.2M229.6 1239.6v2.6M245.2 957.1v2.6M245.2 1112.2v2.6M245.2 1239.6v2.6M260.8 1121.5v9.6M260.8 1267.4v2.6M276.4 1008.1v2.6M276.4 1121.5v7.2M276.4 1276.6v2.6M292.0 1068.2v7.2M292.0 1119.2v4.9M292.0 1295.2v4.9M307.7 1114.6v7.2M307.7 1158.5v7.2M307.7 1318.3v7.2M323.3 1082.1v2.6M323.3 1165.5v4.9M323.3 1318.3v7.2M338.9 758.0v2.6M338.9 1047.4v2.6M338.9 1167.8v4.9M338.9 1318.3v7.2M354.5 975.6v2.6M354.5 1281.3v7.2M370.2 975.6v2.6M370.2 1262.7v7.2M385.8 973.3v2.6M385.8 1158.5v7.2M385.8 1244.2v7.2M417.0 732.5v2.6M417.0 748.7v2.6M417.0 1075.2v2.6M417.0 1258.1v2.6M432.7 957.1v2.6M432.7 1153.9v11.9M432.7 1246.5v4.9M448.3 769.6v2.6M448.3 966.4v2.6M448.3 1144.7v4.9M463.9 973.3v2.6M463.9 1170.1v7.2M463.9 1195.6v9.6M463.9 1235.0v7.2M479.5 961.7v2.6M479.5 1218.7v4.9M495.1 964.1v2.6M495.1 1221.1v2.6M510.8 964.1v2.6M510.8 1179.4v7.2M526.4 964.1v7.2M526.4 1230.3v2.6M542.0 778.8v2.6M542.0 961.7v2.6M542.0 1232.6v2.6M557.6 1246.5v2.6M573.3 947.9v2.6M573.3 1218.7v14.2M588.9 1221.1v2.6"/>
<path stroke="#0068ff" d="M135.8 966.4v2.6M135.8 1200.2v4.9M151.4 945.5v2.6M151.4 1200.2v4.9M167.1 1221.1v4.9M182.7 940.9v2.6M182.7 1228.0v2.6M198.3 1054.4v2.6M198.3 1216.4v4.9M213.9 1028.9v2.6M213.9 1116.9v2.6M213.9 1228.0v4.9M229.6 1128.4v4.9M229.6 1235.0v4.9M245.2 1114.6v4.9M245.2 1235.0v4.9M260.8 758.0v2.6M260.8 1008.1v2.6M260.8 1130.8v9.6M260.8 1262.7v4.9M276.4 961.7v2.6M276.4 1128.4v4.9M276.4 1272.0v4.9M292.0 771.9v2.6M292.0 1063.6v4.9M292.0 1123.8v2.6M292.0 1292.8v2.6M307.7 1109.9v4.9M307.7 1165.5v4.9M307.7 1313.7v4.9M323.3 760.3v2.6M323.3 1077.5v4.9M323.3 1170.1v2.6M323.3 1313.7v4.9M338.9 1172.4v4.9M338.9 1313.7v4.9M354.5 776.5v2.6M354.5 1276.6v4.9M370.2 1258.1v4.9M385.8 1165.5v4.9M385.8 1239.6v4.9M417.0 734.8v4.9M417.0 744.1v4.9M417.0 1047.4v2.6M417.0 1253.5v4.9M432.7 1149.3v4.9M432.7 1165.5v4.9M432.7 1241.9v4.9M448.3 1140.0v4.9M463.9 1165.5v4.9M463.9 1204.9v9.6M463.9 1230.3v4.9M479.5 1214.1v4.9M495.1 811.2v2.6M495.1 966.4v4.9M495.1 1216.4v4.9M510.8 1174.8v4.9M526.4 771.9v2.6M526.4 971.0v4.9M526.4 1225.7v4.9M542.0 760.3v2.6M557.6 954.8v2.6M557.6 1244.2v2.6M573.3 1202.5v16.5M588.9 764.9v2.6M588.9 1216.4v4.9"/>
<path stroke="#0058ff" d="M135.8 968.7v2.6M135.8 1195.6v4.9M151.4 774.2v2.6M151.4 790.4v2.6M151.4 1195.6v4.9M167.1 940.9v2.6M167.1 1214.1v7.2M182.7 1223.4v4.9M198.3 1114.6v2.6M198.3 1214.1v2.6M213.9 950.2v2.6M213.9 1119.2v2.6M213.9 1223.4v4.9M229.6 774.2v2.6M229.6 957.1v2.6M229.6 1038.2v2.6M229.6 1133.1v7.2M229.6 1232.6v2.6M245.2 959.4v2.6M245.2 1119.2v2.6M245.2 1232.6v2.6M260.8 1140.0v7.2M260.8 1260.4v2.6M276.4 1005.7v2.6M276.4 1133.1v7.2M276.4 1269.7v2.6M292.0 1056.7v7.2M292.0 1126.1v4.9M292.0 1288.2v4.9M307.7 1103.0v7.2M307.7 1170.1v7.2M307.7 1306.7v7.2M323.3 1075.2v2.6M323.3 1172.4v4.9M323.3 1306.7v7.2M338.9 755.7v2.6M338.9 1045.1v2.6M338.9 1177.1v4.9M338.9 1306.7v7.2M354.5 978.0v2.6M354.5 1269.7v7.2M370.2 978.0v2.6M370.2 1251.2v7.2M385.8 975.6v2.6M385.8 1170.1v7.2M385.8 1232.6v7.2M417.0 739.5v4.9M417.0 1077.5v2.6M417.0 1251.2v2.6M432.7 1144.7v4.9M432.7 1170.1v7.2M432.7 1237.3v4.9M448.3 968.7v2.6M448.3 1135.4v4.9M463.9 975.6v2.6M463.9 1158.5v7.2M463.9 1214.1v7.2M463.9 1223.4v7.2M479.5 964.1v2.6M479.5 1209.5v4.9M495.1 971.0v2.6M495.1 1214.1v2.6M510.8 966.4v2.6M510.8 1167.8v7.2M526.4 975.6v7.2M526.4 1223.4v2.6M542.0 762.6v2.6M542.0 776.5v2.6M542.0 964.1v2.6M542.0 1230.3v2.6M557.6 1241.9v2.6M573.3 1181.7v21.1M588.9 1214.1v2.6"/>
<path stroke="#0048ff" d="M135.8 971.0v2.6M135.8 1186.3v9.6M151.4 1186.3v9.6M167.1 1209.5v4.9M182.7 1216.4v7.2M198.3 957.1v2.6M198.3 1052.0v2.6M198.3 1116.9v2.6M198.3 1211.8v2.6M213.9 1121.5v2.6M213.9 1216.4v7.2M229.6 1140.0v4.9M229.6 1230.3v2.6M245.2 1121.5v4.9M245.2 1228.0v4.9M260.8 755.7v2.6M260.8 961.7v2.6M260.8 1147.0v9.6M260.8 1258.1v2.6M276.4 1140.0v4.9M276.4 1267.4v2.6M292.0 1052.0v4.9M292.0 1130.8v7.2M292.0 1283.6v4.9M307.7 1098.3v4.9M307.7 1177.1v4.9M307.7 1302.1v4.9M323.3 758.0v2.6M323.3 959.4v2.6M323.3 1072.9v2.6M323.3 1177.1v2.6M323.3 1302.1v4.9M338.9 753.4v2.6M338.9 1181.7v4.9M338.9 1302.1v4.9M354.5 1265.1v4.9M370.2 781.1v2.6M370.2 1244.2v7.2M385.8 1177.1v4.9M385.8 1228.0v4.9M417.0 961.7v2.6M417.0 1079.8v2.6M417.0 1248.8v2.6M432.7 760.3v2.6M432.7 959.4v2.6M432.7 1142.3v2.6M432.7 1177.1v4.9M432.7 1232.6v4.9M448.3 767.3v2.6M448.3 1133.1v2.6M463.9 1156.2v2.6M463.9 1221.1v2.6M479.5 1204.9v4.9M495.1 776.5v2.6M495.1 795.0v2.6M495.1 973.3v4.9M495.1 1211.8v2.6M510.8 968.7v2.6M510.8 1128.4v14.2M510.8 1156.2v11.9M526.4 714.0v23.5M526.4 769.6v2.6M526.4 982.6v4.9M526.4 1218.7v4.9M542.0 764.9v2.6M542.0 1228.0v2.6M557.6 783.5v2.6M557.6 957.1v2.6M557.6 1239.6v2.6M573.3 1170.1v11.9M588.9 950.2v2.6M588.9 1211.8v2.6"/>
<path stroke="#0038ff" d="M135.8 973.3v4.9M135.8 1174.8v11.9M151.4 947.9v2.6M151.4 1174.8v11.9M167.1 1202.5v7.2M182.7 1207.2v9.6M198.3 1207.2v4.9M213.9 952.5v2.6M213.9 1026.6v2.6M213.9 1123.8v4.9M213.9 1207.2v9.6M229.6 959.4v2.6M229.6 1035.8v2.6M229.6 1144.7v7.2M229.6 1228.0v2.6M245.2 1126.1v7.2M245.2 1221.1v7.2M260.8 1156.2v9.6M260.8 1255.8v2.6M276.4 1144.7v7.2M276.4 1262.7v4.9M292.0 1045.1v7.2M292.0 1137.7v9.6M292.0 1276.6v7.2M307.7 1091.4v7.2M307.7 1181.7v4.9M307.7 1295.2v7.2M323.3 753.4v4.9M323.3 1070.6v2.6M323.3 1179.4v4.9M323.3 1295.2v7.2M338.9 1186.3v2.6M338.9 1295.2v7.2M354.5 1258.1v7.2M370.2 1235.0v9.6M385.8 978.0v2.6M385.8 1181.7v7.2M385.8 1221.1v7.2M417.0 1045.1v2.6M417.0 1246.5v2.6M432.7 1137.7v4.9M432.7 1181.7v7.2M432.7 1230.3v2.6M448.3 1130.8v2.6M463.9 1153.9v2.6M479.5 1202.5v2.6M495.1 808.9v2.6M495.1 978.0v7.2M495.1 1207.2v4.9M510.8 1123.8v4.9M510.8 1142.3v14.2M526.4 737.2v32.7M526.4 987.2v2.6M526.4 1214.1v4.9M542.0 767.3v2.6M542.0 1225.7v2.6M557.6 1235.0v4.9M573.3 1160.9v9.6M588.9 762.6v2.6M588.9 1209.5v2.6"/>
<path stroke="#0028ff" d="M135.8 978.0v2.6M135.8 1163.2v11.9M151.4 776.5v2.6M151.4 788.1v2.6M151.4 1163.2v11.9M167.1 943.2v2.6M167.1 1197.9v4.9M182.7 943.2v2.6M182.7 1197.9v9.6M198.3 1049.7v2.6M198.3 1119.2v2.6M198.3 1204.9v2.6M213.9 1128.4v2.6M213.9 1197.9v9.6M229.6 1033.5v2.6M229.6 1151.6v4.9M229.6 1223.4v4.9M245.2 961.7v2.6M245.2 1133.1v4.9M245.2 1216.4v4.9M260.8 753.4v2.6M260.8 1165.5v9.6M260.8 1251.2v4.9M276.4 1151.6v4.9M276.4 1260.4v2.6M292.0 1040.5v4.9M292.0 1147.0v9.6M292.0 1272.0v4.9M307.7 1086.8v4.9M307.7 1186.3v7.2M307.7 1290.5v4.9M323.3 751.0v2.6M323.3 1065.9v4.9M323.3 1184.0v2.6M323.3 1290.5v4.9M338.9 751.0v2.6M338.9 1042.8v2.6M338.9 1188.6v4.9M338.9 1290.5v4.9M354.5 980.3v2.6M354.5 1253.5v4.9M370.2 980.3v2.6M370.2 1225.7v9.6M385.8 771.9v2.6M385.8 1188.6v4.9M385.8 1216.4v4.9M417.0 1082.1v2.6M417.0 1241.9v4.9M432.7 961.7v2.6M432.7 1133.1v4.9M432.7 1188.6v4.9M432.7 1225.7v4.9M448.3 764.9v2.6M448.3 971.0v2.6M448.3 1128.4v2.6M463.9 778.8v2.6M463.9 1149.3v4.9M479.5 966.4v2.6M479.5 1197.9v4.9M495.1 984.9v4.9M495.1 1204.9v2.6M510.8 971.0v2.6M510.8 1121.5v2.6M526.4 989.5v4.9M526.4 1207.2v7.2M542.0 769.6v7.2M542.0 966.4v2.6M542.0 1223.4v2.6M557.6 959.4v2.6M557.6 1232.6v2.6M573.3 1151.6v9.6M588.9 1204.9v4.9"/>
<path stroke="#0000d7" d="M135.8 980.3v2.6M135.8 1130.8v4.9M151.4 950.2v2.6M151.4 1077.5v4.9M167.1 1070.6v2.6M182.7 1119.2v30.4M198.3 1128.4v4.9M198.3 1165.5v7.2M213.9 755.7v2.6M213.9 771.9v2.6M245.2 1015.0v2.6M292.0 1195.6v30.4M307.7 1056.7v7.2M323.3 1052.0v2.6M323.3 1214.1v28.1M338.9 1035.8v2.6M354.5 1140.0v25.8M370.2 1072.9v7.2M385.8 718.6v11.9M385.8 769.6v2.6M417.0 1042.8v2.6M417.0 1091.4v9.6M432.7 1056.7v2.6M432.7 1105.3v11.9M448.3 714.0v39.7M448.3 1021.9v2.6M448.3 1040.5v4.9M448.3 1049.7v4.9M448.3 1109.9v7.2M463.9 1035.8v11.9M463.9 1135.4v2.6M479.5 1089.1v23.5M495.1 1109.9v2.6M510.8 1098.3v4.9M526.4 1107.6v2.6M526.4 1149.3v7.2M542.0 1147.0v7.2M557.6 1165.5v7.2M557.6 1186.3v25.8M588.9 1174.8v7.2"/>
<path stroke="#000097" d="M135.8 1126.1v2.6M151.4 1054.4v7.2M167.1 1065.9v2.6M198.3 1042.8v2.6M213.9 961.7v2.6M213.9 1019.6v2.6M229.6 966.4v2.6M229.6 1024.3v2.6M292.0 1019.6v2.6M307.7 961.7v2.6M307.7 1035.8v4.9M323.3 1033.5v4.9M338.9 980.3v2.6M338.9 1031.2v2.6M354.5 1126.1v2.6M370.2 1038.2v9.6M385.8 984.9v2.6M432.7 971.0v2.6M432.7 1049.7v2.6M448.3 1015.0v2.6M448.3 1065.9v4.9M448.3 1079.8v7.2M463.9 774.2v2.6M463.9 1024.3v2.6M463.9 1049.7v2.6M463.9 1123.8v2.6M479.5 1084.5v2.6M510.8 994.2v2.6M526.4 1084.5v2.6M542.0 1123.8v2.6M557.6 975.6v2.6M557.6 1142.3v2.6M573.3 1116.9v2.6M588.9 755.7v2.6M588.9 1151.6v2.6"/>
<path stroke="#0000b7" d="M135.8 1128.4v2.6M151.4 1065.9v4.9M167.1 1068.2v2.6M198.3 764.9v2.6M198.3 1142.3v14.2M213.9 760.3v9.6M229.6 1026.6v2.6M276.4 966.4v2.6M276.4 1001.1v2.6M292.0 957.1v2.6M307.7 1047.4v4.9M323.3 1042.8v4.9M338.9 1033.5v2.6M354.5 1133.1v2.6M370.2 1054.4v9.6M385.8 741.8v28.1M385.8 1019.6v2.6M432.7 1052.0v2.6M448.3 1026.6v7.2M448.3 1059.0v2.6M448.3 1091.4v9.6M463.9 980.3v2.6M463.9 1026.6v2.6M463.9 1047.4v2.6M463.9 1130.8v2.6M479.5 1086.8v2.6M510.8 1089.1v4.9M526.4 1112.2v32.7M542.0 1130.8v7.2M557.6 1149.3v7.2M573.3 952.5v2.6M588.9 1158.5v7.2"/>
<path stroke="#0000e7" d="M135.8 1135.4v7.2M151.4 1082.1v9.6M182.7 945.5v2.6M182.7 1068.2v2.6M182.7 1109.9v9.6M182.7 1149.3v16.5M198.3 1172.4v14.2M229.6 1028.9v2.6M229.6 1191.0v16.5M245.2 1167.8v30.4M276.4 1174.8v67.4M292.0 1024.3v2.6M292.0 1181.7v14.2M292.0 1225.7v16.5M307.7 1063.6v4.9M307.7 1214.1v46.6M323.3 1054.4v4.9M323.3 1202.5v11.9M323.3 1241.9v18.8M338.9 714.0v7.2M338.9 1038.2v2.6M338.9 1218.7v18.8M354.5 1165.5v28.1M370.2 1079.8v58.2M385.8 714.0v4.9M417.0 1089.1v2.6M417.0 1100.7v18.8M432.7 1059.0v4.9M432.7 1093.7v11.9M432.7 1116.9v2.6M448.3 753.4v4.9M448.3 1019.6v2.6M448.3 1045.1v4.9M448.3 1116.9v7.2M463.9 1028.9v7.2M463.9 1137.7v4.9M479.5 1112.2v25.8M495.1 804.3v2.6M495.1 1112.2v9.6M495.1 1140.0v46.6M510.8 989.5v2.6M510.8 1103.0v4.9M526.4 1089.1v2.6M526.4 1156.2v18.8M542.0 1153.9v46.6M557.6 968.7v4.9M557.6 1172.4v14.2M557.6 1211.8v7.2M573.3 1121.5v4.9M588.9 1181.7v7.2"/>
<path stroke="#0008ff" d="M135.8 1149.3v4.9M151.4 781.1v7.2M151.4 1103.0v11.9M167.1 1079.8v14.2M167.1 1121.5v28.1M167.1 1165.5v18.8M182.7 1075.2v11.9M182.7 1098.3v4.9M182.7 1177.1v11.9M198.3 1123.8v2.6M198.3 1195.6v4.9M213.9 751.0v2.6M213.9 1024.3v2.6M213.9 1135.4v4.9M213.9 1172.4v14.2M229.6 961.7v2.6M229.6 1031.2v2.6M229.6 1165.5v9.6M229.6 1214.1v4.9M245.2 1147.0v9.6M245.2 1204.9v4.9M260.8 725.6v18.8M260.8 751.0v2.6M260.8 1184.0v9.6M260.8 1228.0v14.2M276.4 1163.2v4.9M276.4 1251.2v4.9M292.0 1031.2v4.9M292.0 1163.2v9.6M292.0 1253.5v9.6M307.7 1075.2v4.9M307.7 1197.9v4.9M307.7 1272.0v9.6M323.3 723.3v14.2M323.3 741.8v4.9M323.3 1061.3v2.6M323.3 1191.0v4.9M323.3 1272.0v9.6M338.9 732.5v11.9M338.9 1040.5v2.6M338.9 1200.2v9.6M338.9 1253.5v9.6M354.5 1221.1v18.8M370.2 1200.2v14.2M385.8 980.3v2.6M417.0 1218.7v14.2M432.7 964.1v2.6M432.7 1123.8v4.9M448.3 760.3v2.6M448.3 1123.8v2.6M463.9 1144.7v2.6M479.5 1165.5v18.8M495.1 799.7v2.6M495.1 806.6v2.6M495.1 1195.6v4.9M510.8 978.0v4.9M510.8 1112.2v4.9M526.4 1096.0v4.9M526.4 1103.0v2.6M526.4 1197.9v4.9M542.0 1209.5v9.6M557.6 961.7v2.6M557.6 1223.4v4.9M573.3 1135.4v9.6M588.9 760.3v2.6M588.9 1195.6v4.9"/>
<path stroke="#0018ff" d="M135.8 1153.9v9.6M151.4 778.8v2.6M151.4 1114.6v48.9M167.1 1093.7v28.1M167.1 1184.0v14.2M182.7 1086.8v11.9M182.7 1188.6v9.6M198.3 767.3v2.6M198.3 1121.5v2.6M198.3 1200.2v4.9M213.9 714.0v37.3M213.9 774.2v2.6M213.9 954.8v2.6M213.9 1130.8v4.9M213.9 1186.3v11.9M229.6 1156.2v9.6M229.6 1218.7v4.9M245.2 1137.7v9.6M245.2 1209.5v7.2M260.8 714.0v11.9M260.8 1174.8v9.6M260.8 1241.9v9.6M276.4 964.1v2.6M276.4 1003.4v2.6M276.4 1156.2v7.2M276.4 1255.8v4.9M292.0 954.8v2.6M292.0 1035.8v4.9M292.0 1156.2v7.2M292.0 1262.7v9.6M307.7 957.1v2.6M307.7 1079.8v7.2M307.7 1193.3v4.9M307.7 1281.3v9.6M323.3 714.0v9.6M323.3 746.4v4.9M323.3 1063.6v2.6M323.3 1186.3v4.9M323.3 1281.3v9.6M338.9 744.1v7.2M338.9 975.6v2.6M338.9 1193.3v7.2M338.9 1262.7v28.1M354.5 1239.6v14.2M370.2 1214.1v11.9M385.8 1021.9v2.6M385.8 1193.3v23.5M417.0 1084.5v2.6M417.0 1232.6v9.6M432.7 1128.4v4.9M432.7 1193.3v32.7M448.3 762.6v2.6M448.3 1126.1v2.6M463.9 978.0v2.6M463.9 1147.0v2.6M479.5 1184.0v14.2M495.1 797.4v2.6M495.1 989.5v2.6M495.1 1200.2v4.9M510.8 973.3v4.9M510.8 1116.9v4.9M526.4 994.2v2.6M526.4 1100.7v2.6M526.4 1202.5v4.9M542.0 1218.7v4.9M557.6 1228.0v4.9M573.3 950.2v2.6M573.3 1144.7v7.2M588.9 1200.2v4.9"/>
<path stroke="#0097ff" d="M135.8 1214.1v4.9M151.4 943.2v2.6M151.4 1214.1v4.9M167.1 1235.0v2.6M182.7 1239.6v2.6M198.3 1225.7v2.6M213.9 1112.2v2.6M213.9 1241.9v4.9M229.6 1116.9v2.6M229.6 1244.2v2.6M245.2 1107.6v2.6M245.2 1244.2v2.6M260.8 1109.9v7.2M260.8 1272.0v2.6M276.4 746.4v2.6M276.4 753.4v2.6M276.4 959.4v2.6M276.4 1109.9v7.2M276.4 1281.3v2.6M292.0 1079.8v7.2M292.0 1112.2v2.6M292.0 1304.4v2.6M307.7 1130.8v18.8M307.7 1329.9v7.2M323.3 1089.1v7.2M323.3 1158.5v2.6M323.3 1329.9v7.2M338.9 1163.2v2.6M338.9 1329.9v7.2M354.5 1292.8v7.2M370.2 1274.3v7.2M385.8 1149.3v4.9M385.8 1253.5v2.6M417.0 723.3v4.9M417.0 1049.7v2.6M417.0 1262.7v2.6M432.7 1253.5v2.6M448.3 1207.2v2.6M479.5 1225.7v2.6M495.1 778.8v2.6M495.1 959.4v2.6M495.1 1225.7v2.6M510.8 961.7v2.6M510.8 1195.6v7.2M526.4 1235.0v2.6M542.0 755.7v2.6M542.0 1237.3v2.6M557.6 952.5v2.6M557.6 1248.8v2.6M573.3 1235.0v2.6M588.9 767.3v2.6M588.9 947.9v2.6M588.9 1225.7v2.6"/>
<path stroke="#00b7ff" d="M135.8 1223.4v2.6M151.4 1223.4v2.6M167.1 1241.9v2.6M198.3 952.5v2.6M198.3 1232.6v2.6M213.9 1107.6v2.6M213.9 1251.2v2.6M229.6 1047.4v2.6M229.6 1109.9v2.6M229.6 1251.2v2.6M245.2 1100.7v2.6M245.2 1251.2v2.6M260.8 959.4v2.6M260.8 1100.7v4.9M260.8 1278.9v2.6M276.4 734.8v7.2M276.4 760.3v2.6M276.4 1096.0v9.6M276.4 1288.2v4.9M292.0 1091.4v4.9M292.0 1313.7v7.2M307.7 1341.5v7.2M323.3 957.1v2.6M323.3 1100.7v7.2M323.3 1149.3v4.9M323.3 1341.5v7.2M338.9 1052.0v2.6M338.9 1156.2v2.6M338.9 1341.5v7.2M354.5 1304.4v7.2M370.2 971.0v2.6M370.2 1285.9v7.2M385.8 1142.3v4.9M385.8 1260.4v2.6M417.0 716.3v4.9M417.0 1052.0v2.6M417.0 1068.2v2.6M417.0 1269.7v2.6M432.7 1260.4v2.6M448.3 961.7v2.6M448.3 1214.1v2.6M463.9 966.4v2.6M479.5 774.2v7.2M479.5 1232.6v2.6M495.1 781.1v2.6M495.1 1232.6v2.6M510.8 795.0v14.2M510.8 959.4v2.6M510.8 1211.8v4.9M526.4 1241.9v2.6M542.0 751.0v2.6M542.0 1241.9v2.6M557.6 785.8v2.6M557.6 950.2v2.6M557.6 1253.5v2.6M573.3 1241.9v2.6M588.9 945.5v2.6M588.9 1232.6v2.6"/>
<path stroke="#00f7ff" d="M151.4 762.6v2.6M151.4 1235.0v2.6M167.1 741.8v7.2M167.1 774.2v7.2M167.1 1251.2v2.6M182.7 936.3v2.6M182.7 1251.2v2.6M198.3 940.9v2.6M198.3 1068.2v7.2M198.3 1093.7v7.2M198.3 1244.2v2.6M213.9 938.6v2.6M213.9 1040.5v2.6M213.9 1093.7v7.2M213.9 1262.7v2.6M229.6 943.2v2.6M229.6 1059.0v2.6M229.6 1096.0v4.9M229.6 1262.7v2.6M245.2 1089.1v2.6M245.2 1262.7v2.6M260.8 769.6v2.6M260.8 1015.0v2.6M260.8 1086.8v2.6M260.8 1290.5v7.2M276.4 1021.9v4.9M276.4 1068.2v4.9M276.4 1309.0v7.2M307.7 734.8v2.6M338.9 1068.2v7.2M338.9 1147.0v2.6M354.5 966.4v2.6M354.5 1327.6v7.2M370.2 959.4v2.6M370.2 1309.0v7.2M385.8 961.7v2.6M385.8 1123.8v4.9M385.8 1272.0v4.9M417.0 760.3v2.6M417.0 1059.0v4.9M417.0 1283.6v2.6M432.7 1272.0v2.6M448.3 954.8v2.6M448.3 1225.7v7.2M463.9 1253.5v2.6M479.5 760.3v2.6M479.5 785.8v2.6M479.5 1244.2v2.6M495.1 785.8v4.9M495.1 947.9v2.6M495.1 1244.2v2.6M510.8 744.1v2.6M510.8 781.1v2.6M510.8 813.6v2.6M510.8 954.8v2.6M510.8 1228.0v2.6M526.4 952.5v2.6M526.4 1251.2v2.6M542.0 737.2v2.6M542.0 1248.8v2.6M557.6 945.5v2.6M557.6 1262.7v2.6M573.3 1253.5v2.6M588.9 774.2v2.6M588.9 1244.2v7.2"/>
<path stroke="#0000a7" d="M151.4 1061.3v4.9M167.1 947.9v2.6M182.7 947.9v2.6M182.7 1063.6v2.6M198.3 961.7v2.6M229.6 769.6v2.6M245.2 966.4v2.6M260.8 966.4v2.6M307.7 1040.5v7.2M323.3 1038.2v4.9M354.5 984.9v2.6M354.5 1128.4v4.9M370.2 984.9v2.6M370.2 1047.4v7.2M417.0 966.4v2.6M432.7 755.7v2.6M448.3 975.6v2.6M448.3 1061.3v4.9M448.3 1086.8v4.9M463.9 1126.1v4.9M479.5 971.0v2.6M495.1 994.2v2.6M495.1 1105.3v2.6M510.8 1086.8v2.6M526.4 998.8v2.6M542.0 971.0v2.6M542.0 1126.1v4.9M557.6 778.8v2.6M557.6 1144.7v4.9M588.9 1153.9v4.9"/>
<path stroke="#0000c7" d="M151.4 1070.6v7.2M182.7 1065.9v2.6M198.3 1045.1v2.6M198.3 1133.1v9.6M198.3 1156.2v9.6M213.9 758.0v2.6M213.9 769.6v2.6M213.9 959.4v2.6M213.9 1021.9v2.6M229.6 964.1v2.6M260.8 1005.7v2.6M292.0 769.6v2.6M292.0 1021.9v2.6M307.7 959.4v2.6M307.7 1052.0v4.9M323.3 961.7v2.6M323.3 1047.4v4.9M338.9 978.0v2.6M354.5 774.2v2.6M354.5 1135.4v4.9M370.2 778.8v2.6M370.2 1063.6v9.6M385.8 730.2v11.9M385.8 982.6v2.6M432.7 968.7v2.6M432.7 1054.4v2.6M448.3 1017.3v2.6M448.3 1024.3v2.6M448.3 1033.5v7.2M448.3 1054.4v4.9M448.3 1100.7v9.6M463.9 776.5v2.6M463.9 1133.1v2.6M495.1 774.2v2.6M495.1 1107.6v2.6M510.8 991.8v2.6M510.8 1093.7v4.9M526.4 1086.8v2.6M526.4 1109.9v2.6M526.4 1144.7v4.9M542.0 1137.7v9.6M557.6 973.3v2.6M557.6 1156.2v9.6M573.3 1119.2v2.6M588.9 758.0v2.6M588.9 952.5v2.6M588.9 1165.5v9.6"/>
<path stroke="#f70000" d="M151.4 1341.5v4.9M182.7 859.9v4.9M182.7 1360.0v2.6M198.3 825.1v4.9M198.3 857.6v7.2M198.3 1360.0v2.6M213.9 795.0v2.6M213.9 864.5v4.9M229.6 808.9v2.6M229.6 876.1v4.9M245.2 799.7v2.6M245.2 885.3v4.9M260.8 827.5v2.6M260.8 924.7v2.6M276.4 818.2v2.6M276.4 927.0v2.6M292.0 795.0v4.9M292.0 829.8v2.6M307.7 850.6v2.6M323.3 818.2v2.6M323.3 927.0v2.6M338.9 815.9v4.9M338.9 931.6v7.2M354.5 804.3v2.6M354.5 908.5v2.6M370.2 894.6v7.2M385.8 790.4v2.6M385.8 903.9v4.9M417.0 788.1v4.9M417.0 799.7v2.6M417.0 813.6v4.9M417.0 876.1v4.9M432.7 815.9v4.9M432.7 869.1v9.6M479.5 859.9v4.9M510.8 850.6v7.2M542.0 832.1v4.9M557.6 834.4v21.1M573.3 832.1v11.9M573.3 857.6v4.9"/>
<path stroke="#e70000" d="M151.4 1346.1v4.9M198.3 829.8v7.2M198.3 850.6v7.2M213.9 797.4v4.9M213.9 857.6v7.2M229.6 811.2v2.6M229.6 869.1v7.2M245.2 876.1v9.6M260.8 922.4v2.6M292.0 832.1v4.9M307.7 852.9v2.6M323.3 820.5v2.6M338.9 820.5v4.9M338.9 924.7v7.2M354.5 906.2v2.6M370.2 887.7v7.2M385.8 896.9v7.2M417.0 792.7v7.2M417.0 818.2v2.6M417.0 859.9v4.9M417.0 873.8v2.6M432.7 820.5v2.6M432.7 859.9v9.6M573.3 843.7v14.2"/>
<path stroke="#d70000" d="M151.4 1350.7v4.9M198.3 836.7v14.2M213.9 802.0v9.6M213.9 852.9v4.9M229.6 813.6v2.6M229.6 864.5v4.9M245.2 862.2v14.2M260.8 829.8v2.6M260.8 920.1v2.6M276.4 820.5v2.6M276.4 850.6v7.2M276.4 924.7v2.6M292.0 836.7v4.9M292.0 931.6v2.6M307.7 855.2v2.6M307.7 922.4v2.6M323.3 822.8v2.6M323.3 924.7v2.6M338.9 825.1v4.9M338.9 917.8v7.2M354.5 806.6v2.6M354.5 901.5v4.9M370.2 797.4v2.6M370.2 880.7v7.2M385.8 792.7v2.6M385.8 892.3v4.9M417.0 820.5v4.9M417.0 852.9v7.2M417.0 864.5v9.6M432.7 822.8v2.6M432.7 855.2v4.9"/>
<path stroke="#c70000" d="M151.4 1355.4v4.9M213.9 811.2v11.9M213.9 841.3v11.9M229.6 815.9v4.9M229.6 857.6v7.2M245.2 802.0v2.6M245.2 859.9v2.6M276.4 857.6v2.6M292.0 841.3v7.2M307.7 857.6v2.6M323.3 825.1v2.6M338.9 829.8v2.6M338.9 915.4v2.6M354.5 894.6v7.2M370.2 878.4v2.6M385.8 885.3v7.2M417.0 825.1v2.6M417.0 848.3v4.9M432.7 825.1v2.6M432.7 848.3v7.2"/>
<path stroke="#b70000" d="M151.4 1360.0v2.6M213.9 822.8v18.8M229.6 820.5v2.6M229.6 852.9v4.9M245.2 857.6v2.6M260.8 832.1v4.9M260.8 917.8v2.6M276.4 822.8v2.6M276.4 848.3v2.6M276.4 859.9v2.6M276.4 922.4v2.6M292.0 848.3v4.9M292.0 929.3v2.6M307.7 859.9v2.6M307.7 920.1v2.6M323.3 827.5v2.6M323.3 922.4v2.6M338.9 832.1v2.6M338.9 913.1v2.6M354.5 808.9v2.6M354.5 890.0v4.9M370.2 799.7v2.6M370.2 876.1v2.6M385.8 795.0v2.6M385.8 880.7v4.9M417.0 827.5v2.6M417.0 846.0v2.6M432.7 827.5v2.6M432.7 843.7v4.9"/>
<path stroke="#a70000" d="M229.6 822.8v4.9M229.6 846.0v7.2M260.8 836.7v7.2M260.8 915.4v2.6M276.4 825.1v7.2M276.4 846.0v2.6M276.4 862.2v7.2M276.4 920.1v2.6M292.0 852.9v2.6M307.7 862.2v2.6M323.3 920.1v2.6M338.9 834.4v2.6M354.5 811.2v2.6M354.5 887.7v2.6M370.2 802.0v2.6M385.8 797.4v4.9M385.8 878.4v2.6M417.0 829.8v2.6M417.0 843.7v2.6M432.7 829.8v4.9M432.7 841.3v2.6"/>
<path stroke="#970000" d="M229.6 827.5v2.6M229.6 841.3v4.9M245.2 804.3v2.6M245.2 855.2v2.6M260.8 843.7v9.6M276.4 832.1v4.9M276.4 869.1v4.9M292.0 855.2v4.9M292.0 927.0v2.6M307.7 864.5v4.9M307.7 917.8v2.6M323.3 829.8v2.6M338.9 836.7v4.9M338.9 910.8v2.6M354.5 883.0v4.9M370.2 873.8v2.6M385.8 802.0v4.9M385.8 873.8v4.9M417.0 832.1v4.9M417.0 841.3v2.6M432.7 834.4v2.6"/>
<path stroke="#870000" d="M229.6 829.8v11.9M245.2 806.6v48.9M260.8 852.9v62.8M276.4 836.7v9.6M276.4 873.8v46.6M292.0 859.9v67.4M307.7 869.1v48.9M323.3 832.1v88.3M338.9 841.3v69.8M354.5 813.6v69.8M370.2 804.3v69.8M385.8 806.6v67.4M417.0 836.7v4.9M432.7 836.7v4.9"/>
</g>
<rect x="393.6" y="714.0" width="15.6" height="648.3" fill="#fff" />
<line x1="393.6" y1="806.6" x2="409.2" y2="806.6" stroke="#dcdcdc" stroke-width="1.00" />
<line x1="393.6" y1="899.2" x2="409.2" y2="899.2" stroke="#dcdcdc" stroke-width="1.00" />
<line x1="393.6" y1="991.8" x2="409.2" y2="991.8" stroke="#dcdcdc" stroke-width="1.00" />
<line x1="393.6" y1="1084.5" x2="409.2" y2="1084.5" stroke="#dcdcdc" stroke-width="1.00" />
<line x1="393.6" y1="1177.1" x2="409.2" y2="1177.1" stroke="#dcdcdc" stroke-width="1.00" />
<line x1="393.6" y1="1269.7" x2="409.2" y2="1269.7" stroke="#dcdcdc" stroke-width="1.00" />
<path fill="#fff" d="M128.0 714.0L143.6 714.0L143.6 717.4L128.0 719.6ZM143.6 714.0L159.2 714.0L159.2 715.3L143.6 721.0ZM159.2 714.0L174.9 714.0L174.9 720.3L159.2 715.3ZM174.9 714.0L190.5 714.0L190.5 714.8L174.9 716.0ZM190.5 714.0L206.1 714.0L206.1 716.0L190.5 714.8ZM206.1 714.0L221.7 714.0L221.7 720.3L206.1 716.0ZM221.7 714.0L237.4 714.0L237.4 717.4L221.7 720.3ZM237.4 714.0L253.0 714.0L253.0 721.5L237.4 717.4ZM253.0 714.0L268.6 714.0L268.6 717.5L253.0 718.7ZM268.6 714.0L284.2 714.0L284.2 718.7L268.6 717.5ZM284.2 714.0L299.9 714.0L299.9 716.1L284.2 716.1ZM299.9 714.0L315.5 714.0L315.5 717.5L299.9 716.1ZM315.5 714.0L331.1 714.0L331.1 715.1L315.5 715.1ZM331.1 714.0L346.7 714.0L346.7 716.7L331.1 715.1ZM346.7 714.0L362.4 714.0L362.4 716.1L346.7 716.7ZM362.4 714.0L378.0 714.0L378.0 714.7L362.4 716.1ZM378.0 714.0L393.6 714.0L393.6 715.1L378.0 716.1ZM409.2 714.0L424.8 714.0L424.8 715.3L409.2 717.5ZM424.8 714.0L440.5 714.0L440.5 719.1L424.8 715.3ZM440.5 714.0L456.1 714.0L456.1 717.0L440.5 716.3ZM456.1 714.0L471.7 714.0L471.7 717.0L456.1 717.0ZM471.7 714.0L487.3 714.0L487.3 716.3L471.7 720.0ZM487.3 714.0L503.0 714.0L503.0 718.6L487.3 716.3ZM503.0 714.0L518.6 714.0L518.6 717.0L503.0 718.6ZM518.6 714.0L534.2 714.0L534.2 716.3L518.6 717.0ZM534.2 714.0L549.8 714.0L549.8 715.0L534.2 715.3ZM549.8 714.0L565.5 714.0L565.5 715.3L549.8 717.5ZM565.5 714.0L581.1 714.0L581.1 717.0L565.5 715.3ZM581.1 714.0L596.7 714.0L596.7 715.0L581.1 717.0Z"/>
<line x1="128.0" y1="714.0" x2="596.7" y2="714.0" stroke="#222" stroke-width="1.60" />
<line x1="128.0" y1="713.0" x2="128.0" y2="1363.3" stroke="#222" stroke-width="1.60" />
<line x1="128.0" y1="1362.3" x2="596.7" y2="1362.3" stroke="#222" stroke-width="1.60" />
<line x1="122.0" y1="1362.3" x2="128.0" y2="1362.3" stroke="#222" stroke-width="1.40" />
<line x1="122.0" y1="1343.8" x2="128.0" y2="1343.8" stroke="#222" stroke-width="1.40" />
<line x1="122.0" y1="1325.3" x2="128.0" y2="1325.3" stroke="#222" stroke-width="1.40" />
<line x1="122.0" y1="1306.7" x2="128.0" y2="1306.7" stroke="#222" stroke-width="1.40" />
<line x1="122.0" y1="1288.2" x2="128.0" y2="1288.2" stroke="#222" stroke-width="1.40" />
<line x1="122.0" y1="1269.7" x2="128.0" y2="1269.7" stroke="#222" stroke-width="1.40" />
<line x1="122.0" y1="1251.2" x2="128.0" y2="1251.2" stroke="#222" stroke-width="1.40" />
<line x1="122.0" y1="1232.6" x2="128.0" y2="1232.6" stroke="#222" stroke-width="1.40" />
<line x1="122.0" y1="1214.1" x2="128.0" y2="1214.1" stroke="#222" stroke-width="1.40" />
<line x1="122.0" y1="1195.6" x2="128.0" y2="1195.6" stroke="#222" stroke-width="1.40" />
<line x1="122.0" y1="1177.1" x2="128.0" y2="1177.1" stroke="#222" stroke-width="1.40" />
<line x1="122.0" y1="1158.5" x2="128.0" y2="1158.5" stroke="#222" stroke-width="1.40" />
<line x1="122.0" y1="1140.0" x2="128.0" y2="1140.0" stroke="#222" stroke-width="1.40" />
<line x1="122.0" y1="1121.5" x2="128.0" y2="1121.5" stroke="#222" stroke-width="1.40" />
<line x1="122.0" y1="1103.0" x2="128.0" y2="1103.0" stroke="#222" stroke-width="1.40" />
<line x1="122.0" y1="1084.5" x2="128.0" y2="1084.5" stroke="#222" stroke-width="1.40" />
<line x1="122.0" y1="1065.9" x2="128.0" y2="1065.9" stroke="#222" stroke-width="1.40" />
<line x1="122.0" y1="1047.4" x2="128.0" y2="1047.4" stroke="#222" stroke-width="1.40" />
<line x1="122.0" y1="1028.9" x2="128.0" y2="1028.9" stroke="#222" stroke-width="1.40" />
<line x1="122.0" y1="1010.4" x2="128.0" y2="1010.4" stroke="#222" stroke-width="1.40" />
<line x1="122.0" y1="991.8" x2="128.0" y2="991.8" stroke="#222" stroke-width="1.40" />
<line x1="122.0" y1="973.3" x2="128.0" y2="973.3" stroke="#222" stroke-width="1.40" />
<line x1="122.0" y1="954.8" x2="128.0" y2="954.8" stroke="#222" stroke-width="1.40" />
<line x1="122.0" y1="936.3" x2="128.0" y2="936.3" stroke="#222" stroke-width="1.40" />
<line x1="122.0" y1="917.8" x2="128.0" y2="917.8" stroke="#222" stroke-width="1.40" />
<line x1="122.0" y1="899.2" x2="128.0" y2="899.2" stroke="#222" stroke-width="1.40" />
<line x1="122.0" y1="880.7" x2="128.0" y2="880.7" stroke="#222" stroke-width="1.40" />
<line x1="122.0" y1="862.2" x2="128.0" y2="862.2" stroke="#222" stroke-width="1.40" />
<line x1="122.0" y1="843.7" x2="128.0" y2="843.7" stroke="#222" stroke-width="1.40" />
<line x1="122.0" y1="825.1" x2="128.0" y2="825.1" stroke="#222" stroke-width="1.40" />
<line x1="122.0" y1="806.6" x2="128.0" y2="806.6" stroke="#222" stroke-width="1.40" />
<line x1="122.0" y1="788.1" x2="128.0" y2="788.1" stroke="#222" stroke-width="1.40" />
<line x1="122.0" y1="769.6" x2="128.0" y2="769.6" stroke="#222" stroke-width="1.40" />
<line x1="122.0" y1="751.0" x2="128.0" y2="751.0" stroke="#222" stroke-width="1.40" />
<line x1="122.0" y1="732.5" x2="128.0" y2="732.5" stroke="#222" stroke-width="1.40" />
<line x1="122.0" y1="714.0" x2="128.0" y2="714.0" stroke="#222" stroke-width="1.40" />
<line x1="128.0" y1="706.0" x2="128.0" y2="714.0" stroke="#222" stroke-width="1.40" />
<line x1="128.0" y1="1362.3" x2="128.0" y2="1370.3" stroke="#222" stroke-width="1.40" />
<line x1="143.6" y1="709.0" x2="143.6" y2="714.0" stroke="#222" stroke-width="1.40" />
<line x1="143.6" y1="1362.3" x2="143.6" y2="1367.3" stroke="#222" stroke-width="1.40" />
<line x1="159.2" y1="709.0" x2="159.2" y2="714.0" stroke="#222" stroke-width="1.40" />
<line x1="159.2" y1="1362.3" x2="159.2" y2="1367.3" stroke="#222" stroke-width="1.40" />
<line x1="174.9" y1="709.0" x2="174.9" y2="714.0" stroke="#222" stroke-width="1.40" />
<line x1="174.9" y1="1362.3" x2="174.9" y2="1367.3" stroke="#222" stroke-width="1.40" />
<line x1="190.5" y1="709.0" x2="190.5" y2="714.0" stroke="#222" stroke-width="1.40" />
<line x1="190.5" y1="1362.3" x2="190.5" y2="1367.3" stroke="#222" stroke-width="1.40" />
<line x1="206.1" y1="706.0" x2="206.1" y2="714.0" stroke="#222" stroke-width="1.40" />
<line x1="206.1" y1="1362.3" x2="206.1" y2="1370.3" stroke="#222" stroke-width="1.40" />
<line x1="221.7" y1="709.0" x2="221.7" y2="714.0" stroke="#222" stroke-width="1.40" />
<line x1="221.7" y1="1362.3" x2="221.7" y2="1367.3" stroke="#222" stroke-width="1.40" />
<line x1="237.4" y1="709.0" x2="237.4" y2="714.0" stroke="#222" stroke-width="1.40" />
<line x1="237.4" y1="1362.3" x2="237.4" y2="1367.3" stroke="#222" stroke-width="1.40" />
<line x1="253.0" y1="709.0" x2="253.0" y2="714.0" stroke="#222" stroke-width="1.40" />
<line x1="253.0" y1="1362.3" x2="253.0" y2="1367.3" stroke="#222" stroke-width="1.40" />
<line x1="268.6" y1="709.0" x2="268.6" y2="714.0" stroke="#222" stroke-width="1.40" />
<line x1="268.6" y1="1362.3" x2="268.6" y2="1367.3" stroke="#222" stroke-width="1.40" />
<line x1="284.2" y1="706.0" x2="284.2" y2="714.0" stroke="#222" stroke-width="1.40" />
<line x1="284.2" y1="1362.3" x2="284.2" y2="1370.3" stroke="#222" stroke-width="1.40" />
<line x1="299.9" y1="709.0" x2="299.9" y2="714.0" stroke="#222" stroke-width="1.40" />
<line x1="299.9" y1="1362.3" x2="299.9" y2="1367.3" stroke="#222" stroke-width="1.40" />
<line x1="315.5" y1="709.0" x2="315.5" y2="714.0" stroke="#222" stroke-width="1.40" />
<line x1="315.5" y1="1362.3" x2="315.5" y2="1367.3" stroke="#222" stroke-width="1.40" />
<line x1="331.1" y1="709.0" x2="331.1" y2="714.0" stroke="#222" stroke-width="1.40" />
<line x1="331.1" y1="1362.3" x2="331.1" y2="1367.3" stroke="#222" stroke-width="1.40" />
<line x1="346.7" y1="709.0" x2="346.7" y2="714.0" stroke="#222" stroke-width="1.40" />
<line x1="346.7" y1="1362.3" x2="346.7" y2="1367.3" stroke="#222" stroke-width="1.40" />
<line x1="362.4" y1="706.0" x2="362.4" y2="714.0" stroke="#222" stroke-width="1.40" />
<line x1="362.4" y1="1362.3" x2="362.4" y2="1370.3" stroke="#222" stroke-width="1.40" />
<line x1="378.0" y1="709.0" x2="378.0" y2="714.0" stroke="#222" stroke-width="1.40" />
<line x1="378.0" y1="1362.3" x2="378.0" y2="1367.3" stroke="#222" stroke-width="1.40" />
<line x1="393.6" y1="709.0" x2="393.6" y2="714.0" stroke="#222" stroke-width="1.40" />
<line x1="393.6" y1="1362.3" x2="393.6" y2="1367.3" stroke="#222" stroke-width="1.40" />
<line x1="409.2" y1="709.0" x2="409.2" y2="714.0" stroke="#222" stroke-width="1.40" />
<line x1="409.2" y1="1362.3" x2="409.2" y2="1367.3" stroke="#222" stroke-width="1.40" />
<line x1="424.8" y1="709.0" x2="424.8" y2="714.0" stroke="#222" stroke-width="1.40" />
<line x1="424.8" y1="1362.3" x2="424.8" y2="1367.3" stroke="#222" stroke-width="1.40" />
<line x1="440.5" y1="706.0" x2="440.5" y2="714.0" stroke="#222" stroke-width="1.40" />
<line x1="440.5" y1="1362.3" x2="440.5" y2="1370.3" stroke="#222" stroke-width="1.40" />
<line x1="456.1" y1="709.0" x2="456.1" y2="714.0" stroke="#222" stroke-width="1.40" />
<line x1="456.1" y1="1362.3" x2="456.1" y2="1367.3" stroke="#222" stroke-width="1.40" />
<line x1="471.7" y1="709.0" x2="471.7" y2="714.0" stroke="#222" stroke-width="1.40" />
<line x1="471.7" y1="1362.3" x2="471.7" y2="1367.3" stroke="#222" stroke-width="1.40" />
<line x1="487.3" y1="709.0" x2="487.3" y2="714.0" stroke="#222" stroke-width="1.40" />
<line x1="487.3" y1="1362.3" x2="487.3" y2="1367.3" stroke="#222" stroke-width="1.40" />
<line x1="503.0" y1="709.0" x2="503.0" y2="714.0" stroke="#222" stroke-width="1.40" />
<line x1="503.0" y1="1362.3" x2="503.0" y2="1367.3" stroke="#222" stroke-width="1.40" />
<line x1="518.6" y1="706.0" x2="518.6" y2="714.0" stroke="#222" stroke-width="1.40" />
<line x1="518.6" y1="1362.3" x2="518.6" y2="1370.3" stroke="#222" stroke-width="1.40" />
<line x1="534.2" y1="709.0" x2="534.2" y2="714.0" stroke="#222" stroke-width="1.40" />
<line x1="534.2" y1="1362.3" x2="534.2" y2="1367.3" stroke="#222" stroke-width="1.40" />
<line x1="549.8" y1="709.0" x2="549.8" y2="714.0" stroke="#222" stroke-width="1.40" />
<line x1="549.8" y1="1362.3" x2="549.8" y2="1367.3" stroke="#222" stroke-width="1.40" />
<line x1="565.5" y1="709.0" x2="565.5" y2="714.0" stroke="#222" stroke-width="1.40" />
<line x1="565.5" y1="1362.3" x2="565.5" y2="1367.3" stroke="#222" stroke-width="1.40" />
<line x1="581.1" y1="709.0" x2="581.1" y2="714.0" stroke="#222" stroke-width="1.40" />
<line x1="581.1" y1="1362.3" x2="581.1" y2="1367.3" stroke="#222" stroke-width="1.40" />
<line x1="596.7" y1="706.0" x2="596.7" y2="714.0" stroke="#222" stroke-width="1.40" />
<line x1="596.7" y1="1362.3" x2="596.7" y2="1370.3" stroke="#222" stroke-width="1.40" />
<defs><linearGradient id="jetg" x1="0" y1="1" x2="0" y2="0"><stop offset="0.000" stop-color="#000080"/><stop offset="0.125" stop-color="#0000ff"/><stop offset="0.250" stop-color="#0080ff"/><stop offset="0.375" stop-color="#00ffff"/><stop offset="0.500" stop-color="#80ff80"/><stop offset="0.625" stop-color="#ffff00"/><stop offset="0.750" stop-color="#ff8000"/><stop offset="0.875" stop-color="#ff0000"/><stop offset="1.000" stop-color="#800000"/></linearGradient></defs>
<rect x="596.7" y="714.0" width="16.5" height="648.3" fill="url(#jetg)" />
<rect x="596.7" y="714.0" width="16.5" height="648.3" fill="none" stroke="#222" stroke-width="1.20" />
<line x1="613.2" y1="1362.3" x2="619.0" y2="1362.3" stroke="#222" stroke-width="1.30" />
<line x1="613.2" y1="1167.1" x2="619.0" y2="1167.1" stroke="#222" stroke-width="1.30" />
<line x1="613.2" y1="1053.0" x2="619.0" y2="1053.0" stroke="#222" stroke-width="1.30" />
<line x1="613.2" y1="972.0" x2="619.0" y2="972.0" stroke="#222" stroke-width="1.30" />
<line x1="613.2" y1="909.2" x2="619.0" y2="909.2" stroke="#222" stroke-width="1.30" />
<line x1="613.2" y1="857.8" x2="619.0" y2="857.8" stroke="#222" stroke-width="1.30" />
<line x1="613.2" y1="814.4" x2="619.0" y2="814.4" stroke="#222" stroke-width="1.30" />
<line x1="613.2" y1="776.8" x2="619.0" y2="776.8" stroke="#222" stroke-width="1.30" />
<line x1="613.2" y1="743.7" x2="619.0" y2="743.7" stroke="#222" stroke-width="1.30" />
<line x1="613.2" y1="714.0" x2="619.0" y2="714.0" stroke="#222" stroke-width="1.30" />
<text x="112.0" y="1371.6" font-size="25.0" text-anchor="end" fill="#111" textLength="24.3" lengthAdjust="spacingAndGlyphs">40</text>
<text x="112.0" y="1279.0" font-size="25.0" text-anchor="end" fill="#111" textLength="24.3" lengthAdjust="spacingAndGlyphs">50</text>
<text x="112.0" y="1186.4" font-size="25.0" text-anchor="end" fill="#111" textLength="24.3" lengthAdjust="spacingAndGlyphs">60</text>
<text x="112.0" y="1093.8" font-size="25.0" text-anchor="end" fill="#111" textLength="24.3" lengthAdjust="spacingAndGlyphs">70</text>
<text x="112.0" y="1001.1" font-size="25.0" text-anchor="end" fill="#111" textLength="24.3" lengthAdjust="spacingAndGlyphs">80</text>
<text x="112.0" y="908.5" font-size="25.0" text-anchor="end" fill="#111" textLength="24.3" lengthAdjust="spacingAndGlyphs">90</text>
<text x="112.0" y="815.9" font-size="25.0" text-anchor="end" fill="#111" textLength="38.5" lengthAdjust="spacingAndGlyphs">100</text>
<text x="112.0" y="723.3" font-size="25.0" text-anchor="end" fill="#111" textLength="38.5" lengthAdjust="spacingAndGlyphs">110</text>
<text x="128.0" y="1399.8" font-size="25.0" text-anchor="middle" fill="#111" textLength="24.8" lengthAdjust="spacingAndGlyphs">60</text>
<text x="206.1" y="1399.8" font-size="25.0" text-anchor="middle" fill="#111" textLength="24.8" lengthAdjust="spacingAndGlyphs">65</text>
<text x="284.2" y="1399.8" font-size="25.0" text-anchor="middle" fill="#111" textLength="24.8" lengthAdjust="spacingAndGlyphs">70</text>
<text x="362.4" y="1399.8" font-size="25.0" text-anchor="middle" fill="#111" textLength="24.8" lengthAdjust="spacingAndGlyphs">75</text>
<text x="440.5" y="1399.8" font-size="25.0" text-anchor="middle" fill="#111" textLength="24.8" lengthAdjust="spacingAndGlyphs">80</text>
<text x="518.6" y="1399.8" font-size="25.0" text-anchor="middle" fill="#111" textLength="24.8" lengthAdjust="spacingAndGlyphs">85</text>
<text x="596.7" y="1399.8" font-size="25.0" text-anchor="middle" fill="#111" textLength="24.8" lengthAdjust="spacingAndGlyphs">90</text>
<text x="362.0" y="1425.0" font-size="24.5" text-anchor="middle" fill="#111" textLength="166.0" lengthAdjust="spacingAndGlyphs">Event number</text>
<text x="128.0" y="1459.9" font-size="23.5" text-anchor="middle" fill="#111" textLength="56.0" lengthAdjust="spacingAndGlyphs">23:43</text>
<text x="206.1" y="1459.9" font-size="23.5" text-anchor="middle" fill="#111" textLength="56.0" lengthAdjust="spacingAndGlyphs">23:48</text>
<text x="284.2" y="1459.9" font-size="23.5" text-anchor="middle" fill="#111" textLength="56.0" lengthAdjust="spacingAndGlyphs">23:53</text>
<text x="362.4" y="1459.9" font-size="23.5" text-anchor="middle" fill="#111" textLength="56.0" lengthAdjust="spacingAndGlyphs">23:58</text>
<text x="440.5" y="1459.9" font-size="23.5" text-anchor="middle" fill="#111" textLength="56.0" lengthAdjust="spacingAndGlyphs">24:03</text>
<text x="518.6" y="1459.9" font-size="23.5" text-anchor="middle" fill="#111" textLength="56.0" lengthAdjust="spacingAndGlyphs">24:09</text>
<text x="596.7" y="1459.9" font-size="23.5" text-anchor="middle" fill="#111" textLength="56.0" lengthAdjust="spacingAndGlyphs">24:14</text>
<text x="362.8" y="1488.0" font-size="24.5" text-anchor="middle" fill="#111" textLength="455.0" lengthAdjust="spacingAndGlyphs">Time (UT) at 68 km (Tangent-point alt.)</text>
<text x="63.0" y="1038.0" font-size="24.5" text-anchor="middle" fill="#111" textLength="331.0" lengthAdjust="spacingAndGlyphs" transform="rotate(-90.0 63.0 1038.0)">Tangent-point altitude (km)</text>
<text x="629.0" y="731.0" font-size="25.0" fill="#111" textLength="26.0" lengthAdjust="spacingAndGlyphs">10</text>
<text x="656.5" y="719.0" font-size="17.0" fill="#111" textLength="8.0" lengthAdjust="spacingAndGlyphs">1</text>
<text x="629.0" y="1375.5" font-size="25.0" fill="#111" textLength="26.0" lengthAdjust="spacingAndGlyphs">10</text>
<text x="655.5" y="1364.0" font-size="17.0" fill="#111" textLength="9.0" lengthAdjust="spacingAndGlyphs">0</text>
<g transform="translate(675.5 1040) rotate(-90)"><text x="-95.8" y="0" font-size="24.5" fill="#111" textLength="195" lengthAdjust="spacingAndGlyphs"><tspan>O</tspan><tspan dy="9" font-size="17">3</tspan><tspan dy="-9"> 9.6 </tspan><tspan font-style="italic">&#956;</tspan><tspan>m (ppmv)</tspan></text></g>
<text x="21.7" y="793.0" font-size="58.0" font-weight="bold" fill="#000" textLength="24.0" lengthAdjust="spacingAndGlyphs">c</text>
<text x="169.3" y="1196.2" font-size="46.0" font-weight="bold" fill="#fff" textLength="164.0" lengthAdjust="spacingAndGlyphs">Crossed</text>
<text x="169.3" y="1257.0" font-size="46.0" font-weight="bold" fill="#fff" textLength="151.6" lengthAdjust="spacingAndGlyphs">the IPA</text>
<path d="M337.5 1225.0 L363.0 1213.0 L363.0 1237.0 Z" fill="#fff" />
<path d="M389.0 1225.0 L363.0 1213.0 L363.0 1237.0 Z" fill="#fff" />
<line x1="363.0" y1="1210.0" x2="363.0" y2="1240.0" stroke="#fff" stroke-width="1.50" />
<rect x="831.3" y="1065.0" width="466.1" height="73.8" fill="#ffff80" />
<line x1="924.5" y1="714.5" x2="924.5" y2="1360.2" stroke="#d9d9d9" stroke-width="1.00" />
<line x1="1017.7" y1="714.5" x2="1017.7" y2="1360.2" stroke="#d9d9d9" stroke-width="1.00" />
<line x1="1111.0" y1="714.5" x2="1111.0" y2="1360.2" stroke="#d9d9d9" stroke-width="1.00" />
<line x1="1204.2" y1="714.5" x2="1204.2" y2="1360.2" stroke="#d9d9d9" stroke-width="1.00" />
<line x1="831.3" y1="1268.0" x2="1297.4" y2="1268.0" stroke="#d9d9d9" stroke-width="1.00" />
<line x1="831.3" y1="1175.7" x2="1297.4" y2="1175.7" stroke="#d9d9d9" stroke-width="1.00" />
<line x1="831.3" y1="1083.5" x2="1297.4" y2="1083.5" stroke="#d9d9d9" stroke-width="1.00" />
<line x1="831.3" y1="991.2" x2="1297.4" y2="991.2" stroke="#d9d9d9" stroke-width="1.00" />
<line x1="831.3" y1="899.0" x2="1297.4" y2="899.0" stroke="#d9d9d9" stroke-width="1.00" />
<line x1="831.3" y1="806.7" x2="1297.4" y2="806.7" stroke="#d9d9d9" stroke-width="1.00" />
<line x1="831.1" y1="732.0" x2="1297.4" y2="732.0" stroke="#555" stroke-width="1.00" />
<line x1="831.1" y1="750.8" x2="1297.4" y2="750.8" stroke="#555" stroke-width="1.00" />
<line x1="845.9" y1="769.1" x2="1297.4" y2="769.1" stroke="#555" stroke-width="1.00" />
<line x1="845.9" y1="765.1" x2="845.9" y2="773.1" stroke="#555" stroke-width="1.00" />
<line x1="902.8" y1="787.4" x2="1297.4" y2="787.4" stroke="#555" stroke-width="1.00" />
<line x1="902.8" y1="783.4" x2="902.8" y2="791.4" stroke="#555" stroke-width="1.00" />
<line x1="1236.6" y1="934.8" x2="1297.4" y2="934.8" stroke="#555" stroke-width="1.00" />
<line x1="1236.6" y1="930.8" x2="1236.6" y2="938.8" stroke="#555" stroke-width="1.00" />
<line x1="1083.3" y1="953.6" x2="1297.4" y2="953.6" stroke="#555" stroke-width="1.00" />
<line x1="1083.3" y1="949.6" x2="1083.3" y2="957.6" stroke="#555" stroke-width="1.00" />
<line x1="961.1" y1="971.9" x2="1200.5" y2="971.9" stroke="#555" stroke-width="1.00" />
<line x1="961.1" y1="967.9" x2="961.1" y2="975.9" stroke="#555" stroke-width="1.00" />
<line x1="1200.5" y1="967.9" x2="1200.5" y2="975.9" stroke="#555" stroke-width="1.00" />
<line x1="873.1" y1="990.7" x2="1083.3" y2="990.7" stroke="#555" stroke-width="1.00" />
<line x1="873.1" y1="986.7" x2="873.1" y2="994.7" stroke="#555" stroke-width="1.00" />
<line x1="1083.3" y1="986.7" x2="1083.3" y2="994.7" stroke="#555" stroke-width="1.00" />
<line x1="866.7" y1="1009.0" x2="981.9" y2="1009.0" stroke="#555" stroke-width="1.00" />
<line x1="866.7" y1="1005.0" x2="866.7" y2="1013.0" stroke="#555" stroke-width="1.00" />
<line x1="981.9" y1="1005.0" x2="981.9" y2="1013.0" stroke="#555" stroke-width="1.00" />
<line x1="846.9" y1="1027.8" x2="1028.9" y2="1027.8" stroke="#555" stroke-width="1.00" />
<line x1="846.9" y1="1023.8" x2="846.9" y2="1031.8" stroke="#555" stroke-width="1.00" />
<line x1="1028.9" y1="1023.8" x2="1028.9" y2="1031.8" stroke="#555" stroke-width="1.00" />
<line x1="857.3" y1="1046.1" x2="1135.2" y2="1046.1" stroke="#555" stroke-width="1.00" />
<line x1="857.3" y1="1042.1" x2="857.3" y2="1050.1" stroke="#555" stroke-width="1.00" />
<line x1="1135.2" y1="1042.1" x2="1135.2" y2="1050.1" stroke="#555" stroke-width="1.00" />
<line x1="930.0" y1="1064.9" x2="1156.0" y2="1064.9" stroke="#555" stroke-width="1.00" />
<line x1="930.0" y1="1060.9" x2="930.0" y2="1068.9" stroke="#555" stroke-width="1.00" />
<line x1="1156.0" y1="1060.9" x2="1156.0" y2="1068.9" stroke="#555" stroke-width="1.00" />
<line x1="987.8" y1="1083.2" x2="1172.3" y2="1083.2" stroke="#555" stroke-width="1.00" />
<line x1="987.8" y1="1079.2" x2="987.8" y2="1087.2" stroke="#555" stroke-width="1.00" />
<line x1="1172.3" y1="1079.2" x2="1172.3" y2="1087.2" stroke="#555" stroke-width="1.00" />
<line x1="998.2" y1="1101.5" x2="1165.9" y2="1101.5" stroke="#555" stroke-width="1.00" />
<line x1="998.2" y1="1097.5" x2="998.2" y2="1105.5" stroke="#555" stroke-width="1.00" />
<line x1="1165.9" y1="1097.5" x2="1165.9" y2="1105.5" stroke="#555" stroke-width="1.00" />
<line x1="989.3" y1="1120.3" x2="1116.9" y2="1120.3" stroke="#555" stroke-width="1.00" />
<line x1="989.3" y1="1116.3" x2="989.3" y2="1124.3" stroke="#555" stroke-width="1.00" />
<line x1="1116.9" y1="1116.3" x2="1116.9" y2="1124.3" stroke="#555" stroke-width="1.00" />
<line x1="986.8" y1="1138.6" x2="1064.5" y2="1138.6" stroke="#555" stroke-width="1.00" />
<line x1="986.8" y1="1134.6" x2="986.8" y2="1142.6" stroke="#555" stroke-width="1.00" />
<line x1="1064.5" y1="1134.6" x2="1064.5" y2="1142.6" stroke="#555" stroke-width="1.00" />
<line x1="960.6" y1="1157.4" x2="1023.9" y2="1157.4" stroke="#555" stroke-width="1.00" />
<line x1="960.6" y1="1153.4" x2="960.6" y2="1161.4" stroke="#555" stroke-width="1.00" />
<line x1="1023.9" y1="1153.4" x2="1023.9" y2="1161.4" stroke="#555" stroke-width="1.00" />
<line x1="952.2" y1="1175.7" x2="996.7" y2="1175.7" stroke="#555" stroke-width="1.00" />
<line x1="952.2" y1="1171.7" x2="952.2" y2="1179.7" stroke="#555" stroke-width="1.00" />
<line x1="996.7" y1="1171.7" x2="996.7" y2="1179.7" stroke="#555" stroke-width="1.00" />
<line x1="939.9" y1="1194.5" x2="985.4" y2="1194.5" stroke="#555" stroke-width="1.00" />
<line x1="939.9" y1="1190.5" x2="939.9" y2="1198.5" stroke="#555" stroke-width="1.00" />
<line x1="985.4" y1="1190.5" x2="985.4" y2="1198.5" stroke="#555" stroke-width="1.00" />
<line x1="936.4" y1="1212.7" x2="972.0" y2="1212.7" stroke="#555" stroke-width="1.00" />
<line x1="936.4" y1="1208.7" x2="936.4" y2="1216.7" stroke="#555" stroke-width="1.00" />
<line x1="972.0" y1="1208.7" x2="972.0" y2="1216.7" stroke="#555" stroke-width="1.00" />
<line x1="934.9" y1="1231.5" x2="967.1" y2="1231.5" stroke="#555" stroke-width="1.00" />
<line x1="934.9" y1="1227.5" x2="934.9" y2="1235.5" stroke="#555" stroke-width="1.00" />
<line x1="967.1" y1="1227.5" x2="967.1" y2="1235.5" stroke="#555" stroke-width="1.00" />
<line x1="934.9" y1="1249.8" x2="962.1" y2="1249.8" stroke="#555" stroke-width="1.00" />
<line x1="934.9" y1="1245.8" x2="934.9" y2="1253.8" stroke="#555" stroke-width="1.00" />
<line x1="962.1" y1="1245.8" x2="962.1" y2="1253.8" stroke="#555" stroke-width="1.00" />
<line x1="943.8" y1="1268.6" x2="974.5" y2="1268.6" stroke="#555" stroke-width="1.00" />
<line x1="943.8" y1="1264.6" x2="943.8" y2="1272.6" stroke="#555" stroke-width="1.00" />
<line x1="974.5" y1="1264.6" x2="974.5" y2="1272.6" stroke="#555" stroke-width="1.00" />
<line x1="958.7" y1="1286.9" x2="1001.7" y2="1286.9" stroke="#555" stroke-width="1.00" />
<line x1="958.7" y1="1282.9" x2="958.7" y2="1290.9" stroke="#555" stroke-width="1.00" />
<line x1="1001.7" y1="1282.9" x2="1001.7" y2="1290.9" stroke="#555" stroke-width="1.00" />
<line x1="985.9" y1="1305.7" x2="1039.8" y2="1305.7" stroke="#555" stroke-width="1.00" />
<line x1="985.9" y1="1301.7" x2="985.9" y2="1309.7" stroke="#555" stroke-width="1.00" />
<line x1="1039.8" y1="1301.7" x2="1039.8" y2="1309.7" stroke="#555" stroke-width="1.00" />
<line x1="1021.5" y1="1324.0" x2="1097.1" y2="1324.0" stroke="#555" stroke-width="1.00" />
<line x1="1021.5" y1="1320.0" x2="1021.5" y2="1328.0" stroke="#555" stroke-width="1.00" />
<line x1="1097.1" y1="1320.0" x2="1097.1" y2="1328.0" stroke="#555" stroke-width="1.00" />
<line x1="1047.7" y1="1342.8" x2="1141.1" y2="1342.8" stroke="#555" stroke-width="1.00" />
<line x1="1047.7" y1="1338.8" x2="1047.7" y2="1346.8" stroke="#555" stroke-width="1.00" />
<line x1="1141.1" y1="1338.8" x2="1141.1" y2="1346.8" stroke="#555" stroke-width="1.00" />
<line x1="1071.9" y1="1361.1" x2="1167.4" y2="1361.1" stroke="#555" stroke-width="1.00" />
<line x1="1071.9" y1="1357.1" x2="1071.9" y2="1365.1" stroke="#555" stroke-width="1.00" />
<line x1="1167.4" y1="1357.1" x2="1167.4" y2="1365.1" stroke="#555" stroke-width="1.00" />
<g clip-path="url(#clipd)">
<defs><clipPath id="clipd"><rect x="831.3" y="711.5" width="466.1" height="651.7"/></clipPath></defs>
<path d="M1297.4 954.6 C1288.5 955.8 1265.3 959.1 1244.0 962.0 C1222.7 964.9 1194.6 969.0 1169.8 971.9 C1145.1 974.8 1116.3 977.3 1095.6 979.3 C1075.0 981.4 1062.7 982.6 1046.2 984.3 C1029.7 985.9 1010.7 987.6 996.7 989.2 C982.7 990.9 972.8 992.1 962.1 994.2 C951.4 996.2 938.6 998.7 932.4 1001.6 C926.3 1004.5 925.0 1007.8 925.0 1011.5 C925.0 1015.2 927.1 1019.7 932.4 1023.8 C937.8 1027.9 946.5 1032.5 957.2 1036.2 C967.9 1039.9 983.5 1042.4 996.7 1046.1 C1009.9 1049.8 1024.8 1053.9 1036.3 1058.4 C1047.8 1063.0 1057.3 1067.9 1066.0 1073.3 C1074.6 1078.6 1085.8 1085.2 1088.2 1090.6 C1090.7 1096.0 1086.2 1100.5 1080.8 1105.4 C1075.5 1110.4 1063.5 1115.3 1056.1 1120.3 C1048.7 1125.2 1042.9 1131.0 1036.3 1135.1 C1029.7 1139.2 1023.9 1141.3 1016.5 1145.0 C1009.1 1148.7 998.8 1153.2 991.8 1157.4 C984.8 1161.5 978.6 1165.6 974.5 1169.7 C970.4 1173.8 969.9 1177.1 967.1 1182.1 C964.2 1187.0 960.5 1194.0 957.2 1199.4 C953.9 1204.8 949.8 1208.5 947.3 1214.2 C944.8 1220.0 942.7 1227.4 942.3 1234.0 C941.9 1240.6 942.3 1248.0 944.8 1253.8 C947.3 1259.6 951.8 1263.7 957.2 1268.6 C962.5 1273.6 968.7 1278.1 977.0 1283.5 C985.2 1288.8 996.7 1295.8 1006.6 1300.8 C1016.5 1305.7 1026.4 1309.4 1036.3 1313.1 C1046.2 1316.9 1057.7 1319.7 1066.0 1323.0 C1074.2 1326.3 1080.8 1329.6 1085.8 1332.9 C1090.7 1336.2 1090.7 1338.7 1095.6 1342.8 C1100.6 1346.9 1112.1 1355.2 1115.4 1357.7" fill="none" stroke="#000" stroke-width="1.6" stroke-linejoin="round" stroke-linecap="round"/>
<path d="M947.3 717.2 C945.6 718.8 940.3 723.8 937.4 727.1 C934.5 730.4 932.0 733.3 930.0 737.0 C927.9 740.7 925.3 745.6 925.0 749.3 C924.8 753.1 926.4 756.8 928.5 759.2 C930.5 761.7 935.9 763.4 937.4 764.2" fill="none" stroke="#000" stroke-width="1.6" stroke-linejoin="round" stroke-linecap="round"/>
<line x1="1286.1" y1="802.8" x2="1297.4" y2="805.2" stroke="#000" stroke-width="1.60" />
<path d="M1297.4 944.7 C1288.5 946.3 1269.4 950.9 1244.0 954.6 C1218.6 958.3 1178.1 963.7 1145.1 967.0 C1112.1 970.3 1075.0 971.9 1046.2 974.4 C1017.3 976.8 991.0 979.3 972.0 981.8 C953.0 984.3 944.8 986.3 932.4 989.2 C920.1 992.1 908.5 995.4 897.8 999.1 C887.1 1002.8 875.6 1007.6 868.2 1011.5 C860.7 1015.3 856.2 1019.9 853.3 1022.3 C850.4 1024.8 850.0 1024.8 850.8 1026.3 C851.7 1027.8 853.7 1028.8 858.3 1031.2 C862.8 1033.7 871.9 1037.8 878.0 1041.1 C884.2 1044.4 891.2 1047.7 895.4 1051.0 C899.5 1054.3 899.9 1057.6 902.8 1060.9 C905.7 1064.2 907.7 1067.9 912.7 1070.8 C917.6 1073.7 926.3 1075.8 932.4 1078.2 C938.6 1080.7 946.0 1083.2 949.8 1085.6 C953.5 1088.1 953.9 1090.2 954.7 1093.1 C955.5 1096.0 951.0 1099.7 954.7 1103.0 C958.4 1106.3 966.7 1110.0 977.0 1112.8 C987.3 1115.7 1004.2 1117.8 1016.5 1120.3 C1028.9 1122.7 1042.9 1125.2 1051.1 1127.7 C1059.4 1130.2 1064.3 1132.2 1066.0 1135.1 C1067.6 1138.0 1066.0 1142.1 1061.0 1145.0 C1056.1 1147.9 1046.2 1150.4 1036.3 1152.4 C1026.4 1154.5 1011.6 1156.1 1001.7 1157.4 C991.8 1158.6 984.4 1158.6 977.0 1159.8 C969.5 1161.1 962.1 1162.7 957.2 1164.8 C952.2 1166.8 948.1 1168.9 947.3 1172.2 C946.5 1175.5 950.6 1180.9 952.2 1184.6 C953.9 1188.3 955.5 1190.3 957.2 1194.5 C958.8 1198.6 962.1 1204.3 962.1 1209.3 C962.1 1214.2 958.4 1220.0 957.2 1224.1 C955.9 1228.2 954.7 1229.9 954.7 1234.0 C954.7 1238.1 955.9 1243.9 957.2 1248.9 C958.4 1253.8 958.8 1258.7 962.1 1263.7 C965.4 1268.6 971.2 1274.0 977.0 1278.5 C982.7 1283.1 991.0 1286.8 996.7 1290.9 C1002.5 1295.0 1007.5 1299.1 1011.6 1303.3 C1015.7 1307.4 1020.6 1311.5 1021.5 1315.6 C1022.3 1319.7 1016.5 1324.7 1016.5 1328.0 C1016.5 1331.3 1016.5 1333.3 1021.5 1335.4 C1026.4 1337.5 1035.5 1338.7 1046.2 1340.3 C1056.9 1342.0 1075.0 1343.2 1085.8 1345.3 C1096.5 1347.4 1103.9 1350.2 1110.5 1352.7 C1117.1 1355.2 1122.8 1358.9 1125.3 1360.1" fill="none" stroke="#6fac3c" stroke-width="3.6" stroke-linejoin="round" stroke-linecap="round"/>
<path d="M1297.4 942.2 C1280.3 944.3 1228.2 950.1 1194.6 954.6 C1160.9 959.1 1128.6 964.9 1095.6 969.4 C1062.7 974.0 1023.9 978.1 996.7 981.8 C969.5 985.5 950.6 988.0 932.4 991.7 C914.3 995.4 899.5 999.9 887.9 1004.0 C876.4 1008.2 868.0 1012.7 863.2 1016.4 C858.4 1020.1 859.2 1022.6 859.2 1026.3 C859.2 1030.0 860.1 1034.1 863.2 1038.7 C866.3 1043.2 872.3 1048.1 878.0 1053.5 C883.8 1058.9 892.1 1065.5 897.8 1070.8 C903.6 1076.2 908.5 1080.7 912.7 1085.6 C916.8 1090.6 918.4 1095.5 922.6 1100.5 C926.7 1105.4 931.6 1110.0 937.4 1115.3 C943.2 1120.7 951.4 1127.7 957.2 1132.6 C962.9 1137.6 968.3 1140.5 972.0 1145.0 C975.7 1149.5 979.0 1156.5 979.4 1159.8 C979.8 1163.1 978.2 1162.7 974.5 1164.8 C970.8 1166.8 961.3 1170.1 957.2 1172.2 C953.0 1174.3 950.6 1175.1 949.8 1177.1 C948.9 1179.2 950.2 1181.7 952.2 1184.6 C954.3 1187.4 959.2 1190.7 962.1 1194.5 C965.0 1198.2 969.5 1202.7 969.5 1206.8 C969.5 1210.9 965.4 1215.9 962.1 1219.2 C958.8 1222.5 951.4 1223.3 949.8 1226.6 C948.1 1229.9 951.0 1234.4 952.2 1239.0 C953.5 1243.5 956.3 1248.9 957.2 1253.8 C958.0 1258.7 956.3 1263.7 957.2 1268.6 C958.0 1273.6 958.0 1278.5 962.1 1283.5 C966.2 1288.4 975.3 1294.2 981.9 1298.3 C988.5 1302.4 996.3 1304.9 1001.7 1308.2 C1007.0 1311.5 1012.2 1314.0 1014.0 1318.1 C1015.9 1322.2 1010.5 1328.8 1012.6 1332.9 C1014.6 1337.0 1016.7 1339.9 1026.4 1342.8 C1036.1 1345.7 1056.9 1347.8 1070.9 1350.2 C1084.9 1352.7 1100.6 1355.8 1110.5 1357.7 C1120.4 1359.6 1127.0 1361.0 1130.3 1361.6" fill="none" stroke="#f01010" stroke-width="3.6" stroke-linejoin="round" stroke-linecap="round"/>
<path d="M1297.4 933.8 C1288.5 935.2 1265.3 938.4 1244.0 942.2 C1222.7 946.1 1194.6 952.1 1169.8 957.1 C1145.1 962.0 1120.4 967.8 1095.6 971.9 C1070.9 976.0 1046.2 978.5 1021.5 981.8 C996.7 985.1 967.9 989.2 947.3 991.7 C926.7 994.2 911.8 995.0 897.8 996.6 C883.8 998.3 871.9 999.9 863.2 1001.6 C854.5 1003.2 849.2 1004.9 845.9 1006.5 C842.6 1008.2 841.4 1009.4 843.4 1011.5 C845.5 1013.5 850.8 1015.6 858.3 1018.9 C865.7 1022.2 878.9 1027.1 887.9 1031.2 C897.0 1035.4 905.7 1039.9 912.7 1043.6 C919.7 1047.3 926.3 1051.0 930.0 1053.5 C933.7 1056.0 934.9 1056.4 934.9 1058.4 C934.9 1060.5 933.7 1063.8 930.0 1065.9 C926.3 1067.9 917.6 1068.3 912.7 1070.8 C907.7 1073.3 901.9 1078.2 900.3 1080.7 C898.6 1083.2 899.9 1083.2 902.8 1085.6 C905.7 1088.1 911.0 1091.8 917.6 1095.5 C924.2 1099.2 934.1 1103.8 942.3 1107.9 C950.6 1112.0 960.5 1117.0 967.1 1120.3 C973.7 1123.6 979.8 1125.2 981.9 1127.7 C984.0 1130.2 981.9 1132.2 979.4 1135.1 C977.0 1138.0 969.9 1141.7 967.1 1145.0 C964.2 1148.3 964.6 1151.6 962.1 1154.9 C959.6 1158.2 955.1 1161.9 952.2 1164.8 C949.3 1167.7 946.0 1169.7 944.8 1172.2 C943.6 1174.7 942.7 1176.7 944.8 1179.6 C946.9 1182.5 952.6 1186.2 957.2 1189.5 C961.7 1192.8 969.1 1196.5 972.0 1199.4 C974.9 1202.3 976.5 1203.9 974.5 1206.8 C972.4 1209.7 962.5 1213.0 959.6 1216.7 C956.8 1220.4 957.6 1224.5 957.2 1229.1 C956.8 1233.6 957.2 1239.0 957.2 1243.9 C957.2 1248.9 955.5 1255.0 957.2 1258.7 C958.8 1262.5 961.3 1263.7 967.1 1266.2 C972.8 1268.6 985.2 1271.1 991.8 1273.6 C998.4 1276.1 1003.3 1278.5 1006.6 1281.0 C1009.9 1283.5 1010.7 1285.1 1011.6 1288.4 C1012.4 1291.7 1009.1 1297.1 1011.6 1300.8 C1014.0 1304.5 1019.0 1307.4 1026.4 1310.7 C1033.8 1314.0 1047.0 1317.3 1056.1 1320.6 C1065.2 1323.9 1074.2 1326.7 1080.8 1330.5 C1087.4 1334.2 1089.9 1339.1 1095.6 1342.8 C1101.4 1346.5 1107.2 1349.8 1115.4 1352.7 C1123.7 1355.6 1140.2 1358.9 1145.1 1360.1" fill="none" stroke="#1010f0" stroke-width="3.6" stroke-linejoin="round" stroke-linecap="round"/>
<path d="M831.1 715.7 C838.1 715.7 866.1 715.7 873.1 715.7" fill="none" stroke="#6fac3c" stroke-width="3.6" stroke-linejoin="round" stroke-linecap="round"/>
<path d="M873.1 715.7 C873.1 723.0 871.9 751.2 873.1 759.2 C874.3 767.3 874.7 762.9 880.5 764.2 C886.3 765.5 899.1 766.3 907.7 767.2 C916.4 768.0 928.3 768.8 932.4 769.1" fill="none" stroke="#6fac3c" stroke-width="3.6" stroke-linejoin="round" stroke-linecap="round"/>
<path d="M895.4 717.2 C895.2 719.3 894.8 725.9 894.4 729.6 C893.9 733.3 892.5 736.6 892.9 739.5 C893.3 742.3 896.2 743.6 896.8 746.9 C897.5 750.2 896.3 756.4 896.8 759.2 C897.4 762.1 891.9 762.7 900.3 764.2 C908.7 765.7 931.2 767.1 947.3 768.1 C963.4 769.2 980.3 769.8 996.7 770.6 C1013.2 771.4 1029.7 772.3 1046.2 773.1 C1062.7 773.8 1070.9 774.3 1095.6 775.1 C1120.4 775.8 1160.9 776.6 1194.6 777.5 C1228.2 778.4 1280.3 780.0 1297.4 780.5" fill="none" stroke="#f01010" stroke-width="3.6" stroke-linejoin="round" stroke-linecap="round"/>
<path d="M868.2 717.2 C868.2 723.8 867.7 749.1 868.2 756.8 C868.6 764.4 867.3 761.1 870.6 763.2 C873.9 765.3 875.2 767.6 887.9 769.1 C900.7 770.6 920.9 770.9 947.3 772.1 C973.7 773.3 1013.2 775.0 1046.2 776.5 C1079.2 778.1 1103.2 779.3 1145.1 781.5 C1187.0 783.7 1272.0 788.5 1297.4 789.9" fill="none" stroke="#1010f0" stroke-width="3.6" stroke-linejoin="round" stroke-linecap="round"/>
</g>
<rect x="831.3" y="714.5" width="466.1" height="645.7" fill="none" stroke="#222" stroke-width="1.60" />
<line x1="825.3" y1="1360.2" x2="831.3" y2="1360.2" stroke="#222" stroke-width="1.30" />
<line x1="1297.4" y1="1360.2" x2="1303.4" y2="1360.2" stroke="#222" stroke-width="1.30" />
<line x1="825.3" y1="1341.8" x2="831.3" y2="1341.8" stroke="#222" stroke-width="1.30" />
<line x1="1297.4" y1="1341.8" x2="1303.4" y2="1341.8" stroke="#222" stroke-width="1.30" />
<line x1="825.3" y1="1323.3" x2="831.3" y2="1323.3" stroke="#222" stroke-width="1.30" />
<line x1="1297.4" y1="1323.3" x2="1303.4" y2="1323.3" stroke="#222" stroke-width="1.30" />
<line x1="825.3" y1="1304.9" x2="831.3" y2="1304.9" stroke="#222" stroke-width="1.30" />
<line x1="1297.4" y1="1304.9" x2="1303.4" y2="1304.9" stroke="#222" stroke-width="1.30" />
<line x1="825.3" y1="1286.4" x2="831.3" y2="1286.4" stroke="#222" stroke-width="1.30" />
<line x1="1297.4" y1="1286.4" x2="1303.4" y2="1286.4" stroke="#222" stroke-width="1.30" />
<line x1="825.3" y1="1268.0" x2="831.3" y2="1268.0" stroke="#222" stroke-width="1.30" />
<line x1="1297.4" y1="1268.0" x2="1303.4" y2="1268.0" stroke="#222" stroke-width="1.30" />
<line x1="825.3" y1="1249.5" x2="831.3" y2="1249.5" stroke="#222" stroke-width="1.30" />
<line x1="1297.4" y1="1249.5" x2="1303.4" y2="1249.5" stroke="#222" stroke-width="1.30" />
<line x1="825.3" y1="1231.1" x2="831.3" y2="1231.1" stroke="#222" stroke-width="1.30" />
<line x1="1297.4" y1="1231.1" x2="1303.4" y2="1231.1" stroke="#222" stroke-width="1.30" />
<line x1="825.3" y1="1212.6" x2="831.3" y2="1212.6" stroke="#222" stroke-width="1.30" />
<line x1="1297.4" y1="1212.6" x2="1303.4" y2="1212.6" stroke="#222" stroke-width="1.30" />
<line x1="825.3" y1="1194.2" x2="831.3" y2="1194.2" stroke="#222" stroke-width="1.30" />
<line x1="1297.4" y1="1194.2" x2="1303.4" y2="1194.2" stroke="#222" stroke-width="1.30" />
<line x1="825.3" y1="1175.7" x2="831.3" y2="1175.7" stroke="#222" stroke-width="1.30" />
<line x1="1297.4" y1="1175.7" x2="1303.4" y2="1175.7" stroke="#222" stroke-width="1.30" />
<line x1="825.3" y1="1157.3" x2="831.3" y2="1157.3" stroke="#222" stroke-width="1.30" />
<line x1="1297.4" y1="1157.3" x2="1303.4" y2="1157.3" stroke="#222" stroke-width="1.30" />
<line x1="825.3" y1="1138.8" x2="831.3" y2="1138.8" stroke="#222" stroke-width="1.30" />
<line x1="1297.4" y1="1138.8" x2="1303.4" y2="1138.8" stroke="#222" stroke-width="1.30" />
<line x1="825.3" y1="1120.4" x2="831.3" y2="1120.4" stroke="#222" stroke-width="1.30" />
<line x1="1297.4" y1="1120.4" x2="1303.4" y2="1120.4" stroke="#222" stroke-width="1.30" />
<line x1="825.3" y1="1101.9" x2="831.3" y2="1101.9" stroke="#222" stroke-width="1.30" />
<line x1="1297.4" y1="1101.9" x2="1303.4" y2="1101.9" stroke="#222" stroke-width="1.30" />
<line x1="825.3" y1="1083.5" x2="831.3" y2="1083.5" stroke="#222" stroke-width="1.30" />
<line x1="1297.4" y1="1083.5" x2="1303.4" y2="1083.5" stroke="#222" stroke-width="1.30" />
<line x1="825.3" y1="1065.0" x2="831.3" y2="1065.0" stroke="#222" stroke-width="1.30" />
<line x1="1297.4" y1="1065.0" x2="1303.4" y2="1065.0" stroke="#222" stroke-width="1.30" />
<line x1="825.3" y1="1046.6" x2="831.3" y2="1046.6" stroke="#222" stroke-width="1.30" />
<line x1="1297.4" y1="1046.6" x2="1303.4" y2="1046.6" stroke="#222" stroke-width="1.30" />
<line x1="825.3" y1="1028.1" x2="831.3" y2="1028.1" stroke="#222" stroke-width="1.30" />
<line x1="1297.4" y1="1028.1" x2="1303.4" y2="1028.1" stroke="#222" stroke-width="1.30" />
<line x1="825.3" y1="1009.7" x2="831.3" y2="1009.7" stroke="#222" stroke-width="1.30" />
<line x1="1297.4" y1="1009.7" x2="1303.4" y2="1009.7" stroke="#222" stroke-width="1.30" />
<line x1="825.3" y1="991.2" x2="831.3" y2="991.2" stroke="#222" stroke-width="1.30" />
<line x1="1297.4" y1="991.2" x2="1303.4" y2="991.2" stroke="#222" stroke-width="1.30" />
<line x1="825.3" y1="972.8" x2="831.3" y2="972.8" stroke="#222" stroke-width="1.30" />
<line x1="1297.4" y1="972.8" x2="1303.4" y2="972.8" stroke="#222" stroke-width="1.30" />
<line x1="825.3" y1="954.3" x2="831.3" y2="954.3" stroke="#222" stroke-width="1.30" />
<line x1="1297.4" y1="954.3" x2="1303.4" y2="954.3" stroke="#222" stroke-width="1.30" />
<line x1="825.3" y1="935.9" x2="831.3" y2="935.9" stroke="#222" stroke-width="1.30" />
<line x1="1297.4" y1="935.9" x2="1303.4" y2="935.9" stroke="#222" stroke-width="1.30" />
<line x1="825.3" y1="917.4" x2="831.3" y2="917.4" stroke="#222" stroke-width="1.30" />
<line x1="1297.4" y1="917.4" x2="1303.4" y2="917.4" stroke="#222" stroke-width="1.30" />
<line x1="825.3" y1="899.0" x2="831.3" y2="899.0" stroke="#222" stroke-width="1.30" />
<line x1="1297.4" y1="899.0" x2="1303.4" y2="899.0" stroke="#222" stroke-width="1.30" />
<line x1="825.3" y1="880.5" x2="831.3" y2="880.5" stroke="#222" stroke-width="1.30" />
<line x1="1297.4" y1="880.5" x2="1303.4" y2="880.5" stroke="#222" stroke-width="1.30" />
<line x1="825.3" y1="862.1" x2="831.3" y2="862.1" stroke="#222" stroke-width="1.30" />
<line x1="1297.4" y1="862.1" x2="1303.4" y2="862.1" stroke="#222" stroke-width="1.30" />
<line x1="825.3" y1="843.6" x2="831.3" y2="843.6" stroke="#222" stroke-width="1.30" />
<line x1="1297.4" y1="843.6" x2="1303.4" y2="843.6" stroke="#222" stroke-width="1.30" />
<line x1="825.3" y1="825.2" x2="831.3" y2="825.2" stroke="#222" stroke-width="1.30" />
<line x1="1297.4" y1="825.2" x2="1303.4" y2="825.2" stroke="#222" stroke-width="1.30" />
<line x1="825.3" y1="806.7" x2="831.3" y2="806.7" stroke="#222" stroke-width="1.30" />
<line x1="1297.4" y1="806.7" x2="1303.4" y2="806.7" stroke="#222" stroke-width="1.30" />
<line x1="825.3" y1="788.3" x2="831.3" y2="788.3" stroke="#222" stroke-width="1.30" />
<line x1="1297.4" y1="788.3" x2="1303.4" y2="788.3" stroke="#222" stroke-width="1.30" />
<line x1="825.3" y1="769.8" x2="831.3" y2="769.8" stroke="#222" stroke-width="1.30" />
<line x1="1297.4" y1="769.8" x2="1303.4" y2="769.8" stroke="#222" stroke-width="1.30" />
<line x1="825.3" y1="751.4" x2="831.3" y2="751.4" stroke="#222" stroke-width="1.30" />
<line x1="1297.4" y1="751.4" x2="1303.4" y2="751.4" stroke="#222" stroke-width="1.30" />
<line x1="825.3" y1="732.9" x2="831.3" y2="732.9" stroke="#222" stroke-width="1.30" />
<line x1="1297.4" y1="732.9" x2="1303.4" y2="732.9" stroke="#222" stroke-width="1.30" />
<line x1="825.3" y1="714.5" x2="831.3" y2="714.5" stroke="#222" stroke-width="1.30" />
<line x1="1297.4" y1="714.5" x2="1303.4" y2="714.5" stroke="#222" stroke-width="1.30" />
<line x1="831.3" y1="706.5" x2="831.3" y2="714.5" stroke="#222" stroke-width="1.30" />
<line x1="831.3" y1="1360.2" x2="831.3" y2="1368.2" stroke="#222" stroke-width="1.30" />
<line x1="849.9" y1="709.5" x2="849.9" y2="714.5" stroke="#222" stroke-width="1.30" />
<line x1="849.9" y1="1360.2" x2="849.9" y2="1365.2" stroke="#222" stroke-width="1.30" />
<line x1="868.6" y1="709.5" x2="868.6" y2="714.5" stroke="#222" stroke-width="1.30" />
<line x1="868.6" y1="1360.2" x2="868.6" y2="1365.2" stroke="#222" stroke-width="1.30" />
<line x1="887.2" y1="709.5" x2="887.2" y2="714.5" stroke="#222" stroke-width="1.30" />
<line x1="887.2" y1="1360.2" x2="887.2" y2="1365.2" stroke="#222" stroke-width="1.30" />
<line x1="905.9" y1="709.5" x2="905.9" y2="714.5" stroke="#222" stroke-width="1.30" />
<line x1="905.9" y1="1360.2" x2="905.9" y2="1365.2" stroke="#222" stroke-width="1.30" />
<line x1="924.5" y1="706.5" x2="924.5" y2="714.5" stroke="#222" stroke-width="1.30" />
<line x1="924.5" y1="1360.2" x2="924.5" y2="1368.2" stroke="#222" stroke-width="1.30" />
<line x1="943.2" y1="709.5" x2="943.2" y2="714.5" stroke="#222" stroke-width="1.30" />
<line x1="943.2" y1="1360.2" x2="943.2" y2="1365.2" stroke="#222" stroke-width="1.30" />
<line x1="961.8" y1="709.5" x2="961.8" y2="714.5" stroke="#222" stroke-width="1.30" />
<line x1="961.8" y1="1360.2" x2="961.8" y2="1365.2" stroke="#222" stroke-width="1.30" />
<line x1="980.5" y1="709.5" x2="980.5" y2="714.5" stroke="#222" stroke-width="1.30" />
<line x1="980.5" y1="1360.2" x2="980.5" y2="1365.2" stroke="#222" stroke-width="1.30" />
<line x1="999.1" y1="709.5" x2="999.1" y2="714.5" stroke="#222" stroke-width="1.30" />
<line x1="999.1" y1="1360.2" x2="999.1" y2="1365.2" stroke="#222" stroke-width="1.30" />
<line x1="1017.7" y1="706.5" x2="1017.7" y2="714.5" stroke="#222" stroke-width="1.30" />
<line x1="1017.7" y1="1360.2" x2="1017.7" y2="1368.2" stroke="#222" stroke-width="1.30" />
<line x1="1036.4" y1="709.5" x2="1036.4" y2="714.5" stroke="#222" stroke-width="1.30" />
<line x1="1036.4" y1="1360.2" x2="1036.4" y2="1365.2" stroke="#222" stroke-width="1.30" />
<line x1="1055.0" y1="709.5" x2="1055.0" y2="714.5" stroke="#222" stroke-width="1.30" />
<line x1="1055.0" y1="1360.2" x2="1055.0" y2="1365.2" stroke="#222" stroke-width="1.30" />
<line x1="1073.7" y1="709.5" x2="1073.7" y2="714.5" stroke="#222" stroke-width="1.30" />
<line x1="1073.7" y1="1360.2" x2="1073.7" y2="1365.2" stroke="#222" stroke-width="1.30" />
<line x1="1092.3" y1="709.5" x2="1092.3" y2="714.5" stroke="#222" stroke-width="1.30" />
<line x1="1092.3" y1="1360.2" x2="1092.3" y2="1365.2" stroke="#222" stroke-width="1.30" />
<line x1="1111.0" y1="706.5" x2="1111.0" y2="714.5" stroke="#222" stroke-width="1.30" />
<line x1="1111.0" y1="1360.2" x2="1111.0" y2="1368.2" stroke="#222" stroke-width="1.30" />
<line x1="1129.6" y1="709.5" x2="1129.6" y2="714.5" stroke="#222" stroke-width="1.30" />
<line x1="1129.6" y1="1360.2" x2="1129.6" y2="1365.2" stroke="#222" stroke-width="1.30" />
<line x1="1148.2" y1="709.5" x2="1148.2" y2="714.5" stroke="#222" stroke-width="1.30" />
<line x1="1148.2" y1="1360.2" x2="1148.2" y2="1365.2" stroke="#222" stroke-width="1.30" />
<line x1="1166.9" y1="709.5" x2="1166.9" y2="714.5" stroke="#222" stroke-width="1.30" />
<line x1="1166.9" y1="1360.2" x2="1166.9" y2="1365.2" stroke="#222" stroke-width="1.30" />
<line x1="1185.5" y1="709.5" x2="1185.5" y2="714.5" stroke="#222" stroke-width="1.30" />
<line x1="1185.5" y1="1360.2" x2="1185.5" y2="1365.2" stroke="#222" stroke-width="1.30" />
<line x1="1204.2" y1="706.5" x2="1204.2" y2="714.5" stroke="#222" stroke-width="1.30" />
<line x1="1204.2" y1="1360.2" x2="1204.2" y2="1368.2" stroke="#222" stroke-width="1.30" />
<line x1="1222.8" y1="709.5" x2="1222.8" y2="714.5" stroke="#222" stroke-width="1.30" />
<line x1="1222.8" y1="1360.2" x2="1222.8" y2="1365.2" stroke="#222" stroke-width="1.30" />
<line x1="1241.5" y1="709.5" x2="1241.5" y2="714.5" stroke="#222" stroke-width="1.30" />
<line x1="1241.5" y1="1360.2" x2="1241.5" y2="1365.2" stroke="#222" stroke-width="1.30" />
<line x1="1260.1" y1="709.5" x2="1260.1" y2="714.5" stroke="#222" stroke-width="1.30" />
<line x1="1260.1" y1="1360.2" x2="1260.1" y2="1365.2" stroke="#222" stroke-width="1.30" />
<line x1="1278.8" y1="709.5" x2="1278.8" y2="714.5" stroke="#222" stroke-width="1.30" />
<line x1="1278.8" y1="1360.2" x2="1278.8" y2="1365.2" stroke="#222" stroke-width="1.30" />
<line x1="1297.4" y1="706.5" x2="1297.4" y2="714.5" stroke="#222" stroke-width="1.30" />
<line x1="1297.4" y1="1360.2" x2="1297.4" y2="1368.2" stroke="#222" stroke-width="1.30" />
<rect x="931.3" y="724.7" width="354.7" height="103.9" fill="#fff" stroke="#222" stroke-width="1.40" />
<line x1="935.6" y1="739.4" x2="974.0" y2="739.4" stroke="#6fac3c" stroke-width="3.60" />
<text x="978.0" y="747.9" font-size="22.0" fill="#111" textLength="304.0" lengthAdjust="spacingAndGlyphs">Orbit: 68682, Event number: 78</text>
<line x1="935.6" y1="764.7" x2="974.0" y2="764.7" stroke="#f01010" stroke-width="3.60" />
<text x="978.0" y="773.2" font-size="22.0" fill="#111" textLength="304.0" lengthAdjust="spacingAndGlyphs">Orbit: 68683, Event number: 74</text>
<line x1="935.6" y1="790.0" x2="974.0" y2="790.0" stroke="#1010f0" stroke-width="3.60" />
<text x="978.0" y="798.5" font-size="22.0" fill="#111" textLength="304.0" lengthAdjust="spacingAndGlyphs">Orbit: 68683, Event number: 75</text>
<line x1="935.6" y1="815.0" x2="974.0" y2="815.0" stroke="#000" stroke-width="1.60" />
<text x="978.0" y="823.5" font-size="22.0" fill="#111" textLength="137.0" lengthAdjust="spacingAndGlyphs">Monthly mean</text>
<text x="815.2" y="1369.5" font-size="25.0" text-anchor="end" fill="#111" textLength="24.5" lengthAdjust="spacingAndGlyphs">40</text>
<text x="815.2" y="1277.3" font-size="25.0" text-anchor="end" fill="#111" textLength="24.5" lengthAdjust="spacingAndGlyphs">50</text>
<text x="815.2" y="1185.0" font-size="25.0" text-anchor="end" fill="#111" textLength="24.5" lengthAdjust="spacingAndGlyphs">60</text>
<text x="815.2" y="1092.8" font-size="25.0" text-anchor="end" fill="#111" textLength="24.5" lengthAdjust="spacingAndGlyphs">70</text>
<text x="815.2" y="1000.5" font-size="25.0" text-anchor="end" fill="#111" textLength="24.5" lengthAdjust="spacingAndGlyphs">80</text>
<text x="815.2" y="908.3" font-size="25.0" text-anchor="end" fill="#111" textLength="24.5" lengthAdjust="spacingAndGlyphs">90</text>
<text x="815.2" y="816.0" font-size="25.0" text-anchor="end" fill="#111" textLength="38.5" lengthAdjust="spacingAndGlyphs">100</text>
<text x="815.2" y="723.8" font-size="25.0" text-anchor="end" fill="#111" textLength="38.5" lengthAdjust="spacingAndGlyphs">110</text>
<text x="831.3" y="1397.8" font-size="25.0" text-anchor="middle" fill="#111" textLength="11.8" lengthAdjust="spacingAndGlyphs">0</text>
<text x="924.5" y="1397.8" font-size="25.0" text-anchor="middle" fill="#111" textLength="11.8" lengthAdjust="spacingAndGlyphs">1</text>
<text x="1017.7" y="1397.8" font-size="25.0" text-anchor="middle" fill="#111" textLength="11.8" lengthAdjust="spacingAndGlyphs">2</text>
<text x="1111.0" y="1397.8" font-size="25.0" text-anchor="middle" fill="#111" textLength="11.8" lengthAdjust="spacingAndGlyphs">3</text>
<text x="1204.2" y="1397.8" font-size="25.0" text-anchor="middle" fill="#111" textLength="11.8" lengthAdjust="spacingAndGlyphs">4</text>
<text x="1297.4" y="1397.8" font-size="25.0" text-anchor="middle" fill="#111" textLength="11.8" lengthAdjust="spacingAndGlyphs">5</text>
<text x="957" y="1427" font-size="24.5" fill="#111" textLength="213" lengthAdjust="spacingAndGlyphs">O<tspan dy="9" font-size="17">3</tspan><tspan dy="-9"> 9.6 </tspan><tspan font-style="italic">&#956;</tspan>m (ppmv)</text>
<text x="770.5" y="1038.0" font-size="24.5" text-anchor="middle" fill="#111" textLength="331.0" lengthAdjust="spacingAndGlyphs" transform="rotate(-90.0 770.5 1038.0)">Tangent-point altitude (km)</text>
<text x="718.4" y="795.0" font-size="60.0" font-weight="bold" fill="#000" textLength="29.2" lengthAdjust="spacingAndGlyphs">d</text>
<rect x="161.5" y="1652.5" width="1041.5" height="250.9" fill="#e2f2dd" />
<g fill="none" shape-rendering="crispEdges"><path stroke="#d2c91e" stroke-width="2" d="M162.5 1873.0v30.4m44-30.4v30.4m158-30.4v30.4m10-30.4v30.4m2-30.4v30.4m16-30.4v30.4m10-30.4v30.4m6-30.4v30.4m18-30.4v30.4m28-30.4v30.4m26-30.4v30.4m36-30.4v30.4m38-30.4v30.4m4-30.4v30.4m38-30.4v30.4m14-30.4v30.4m16-30.4v30.4m8-30.4v30.4m2-30.4v30.4m20-30.4v30.4m64-30.4v30.4m72-30.4v30.4m56-30.4v30.4m38-30.4v30.4m26-30.4v30.4m6-30.4v30.4m18-30.4v30.4m2-30.4v30.4m10-30.4v30.4m28-30.4v30.4m34-30.4v30.4m32-30.4v30.4m26-30.4v30.4m92-30.4v30.4M378.5 1852.5v20.5m548-20.5v20.5m60-20.5v20.5M902.5 1822.2v4.3m10-4.3v4.3m30-4.3v4.3m46-4.3v4.3m6-4.3v4.3m12-4.3v4.3m8-4.3v4.3m4-4.3v4.3m36-4.3v4.3M902.5 1809.5v4.3m18-4.3v4.3m26-4.3v4.3m18-4.3v4.3m14-4.3v4.3m28-4.3v4.3m4-4.3v4.3m4-4.3v4.3m4-4.3v4.3m2-4.3v4.3m4-4.3v4.3m6-4.3v4.3m18-4.3v4.3m8-4.3v4.3m4-4.3v4.3M902.5 1805.2v4.3m44-4.3v4.3m26-4.3v4.3m50-4.3v4.3m8-4.3v4.3m14-4.3v4.3m2-4.3v4.3m2-4.3v4.3m2-4.3v4.3m8-4.3v4.3m6-4.3v4.3M902.5 1801.0v4.2m2-4.2v4.2m38-4.2v4.2m12-4.2v4.2m12-4.2v4.2m16-4.2v4.2m14-4.2v4.2m10-4.2v4.2m6-4.2v4.2m10-4.2v4.2m6-4.2v4.2m14-4.2v4.2m4-4.2v4.2M902.5 1792.5v4.3m70-4.3v4.3m8-4.3v4.3m2-4.3v4.3m6-4.3v4.3m24-4.3v4.3m10-4.3v4.3m28-4.3v4.3m4-4.3v4.3M902.5 1788.2v4.3m10-4.3v4.3m34-4.3v4.3m6-4.3v4.3m20-4.3v4.3m38-4.3v4.3m12-4.3v4.3m10-4.3v4.3m12-4.3v4.3m12-4.3v4.3m4-4.3v4.3M904.5 1826.5v4.3m36-4.3v4.3m2-4.3v4.3m12-4.3v4.3m26-4.3v4.3m28-4.3v4.3m10-4.3v4.3m12-4.3v4.3m14-4.3v4.3m2-4.3v4.3m4-4.3v4.3m8-4.3v4.3m6-4.3v4.3m2-4.3v4.3M904.5 1813.8v4.2m16-4.2v4.2m34-4.2v4.2m26-4.2v4.2m2-4.2v4.2m24-4.2v4.2m8-4.2v4.2m4-4.2v4.2m10-4.2v4.2m18-4.2v4.2m4-4.2v4.2m16-4.2v4.2M912.5 1818.0v4.2m12-4.2v4.2m4-4.2v4.2m14-4.2v4.2m46-4.2v4.2m20-4.2v4.2m6-4.2v4.2m8-4.2v4.2m4-4.2v4.2m6-4.2v4.2m10-4.2v4.2m8-4.2v4.2m6-4.2v4.2m2-4.2v4.2M926.5 1835.0v17.5m50-17.5v17.5m10-17.5v17.5m14-17.5v17.5m36-17.5v17.5m8-17.5v17.5M928.5 1796.8v4.2m16-4.2v4.2m28-4.2v4.2m8-4.2v4.2m26-4.2v4.2m2-4.2v4.2m10-4.2v4.2m4-4.2v4.2m2-4.2v4.2m2-4.2v4.2m16-4.2v4.2m6-4.2v4.2m6-4.2v4.2m2-4.2v4.2M942.5 1830.8v4.2m40-4.2v4.2m26-4.2v4.2m20-4.2v4.2m2-4.2v4.2m24-4.2v4.2m2-4.2v4.2M948.5 1784.0v4.2m32-4.2v4.2m4-4.2v4.2m12-4.2v4.2m10-4.2v4.2m2-4.2v4.2m24-4.2v4.2m10-4.2v4.2"/>
<path stroke="#3ab120" stroke-width="2" d="M162.5 1852.5v20.5m4-20.5v20.5m10-20.5v20.5m14-20.5v20.5m6-20.5v20.5m6-20.5v20.5m12-20.5v20.5m6-20.5v20.5m6-20.5v20.5m2-20.5v20.5m4-20.5v20.5m10-20.5v20.5m8-20.5v20.5m8-20.5v20.5m2-20.5v20.5m4-20.5v20.5m22-20.5v20.5m2-20.5v20.5m10-20.5v20.5m8-20.5v20.5m20-20.5v20.5m6-20.5v20.5m32-20.5v20.5m4-20.5v20.5m8-20.5v20.5m12-20.5v20.5m6-20.5v20.5m8-20.5v20.5m26-20.5v20.5m6-20.5v20.5m2-20.5v20.5m16-20.5v20.5m12-20.5v20.5m4-20.5v20.5m18-20.5v20.5m6-20.5v20.5m36-20.5v20.5m116-20.5v20.5m18-20.5v20.5m14-20.5v20.5m8-20.5v20.5m36-20.5v20.5m8-20.5v20.5m96-20.5v20.5m4-20.5v20.5m4-20.5v20.5m32-20.5v20.5m12-20.5v20.5m6-20.5v20.5m26-20.5v20.5m4-20.5v20.5m54-20.5v20.5m12-20.5v20.5m2-20.5v20.5m12-20.5v20.5m4-20.5v20.5m10-20.5v20.5m4-20.5v20.5m4-20.5v20.5m2-20.5v20.5m6-20.5v20.5m8-20.5v20.5m12-20.5v20.5m12-20.5v20.5m4-20.5v20.5m2-20.5v20.5m4-20.5v20.5m2-20.5v20.5m4-20.5v20.5m8-20.5v20.5m22-20.5v20.5m20-20.5v20.5m10-20.5v20.5m4-20.5v20.5m12-20.5v20.5m2-20.5v20.5m10-20.5v20.5m34-20.5v20.5M170.5 1873.0v30.4m2-30.4v30.4m2-30.4v30.4m8-30.4v30.4m2-30.4v30.4m12-30.4v30.4m6-30.4v30.4m6-30.4v30.4m8-30.4v30.4m4-30.4v30.4m2-30.4v30.4m4-30.4v30.4m12-30.4v30.4m14-30.4v30.4m8-30.4v30.4m2-30.4v30.4m12-30.4v30.4m10-30.4v30.4m10-30.4v30.4m2-30.4v30.4m16-30.4v30.4m22-30.4v30.4m2-30.4v30.4m4-30.4v30.4m6-30.4v30.4m2-30.4v30.4m10-30.4v30.4m4-30.4v30.4m10-30.4v30.4m8-30.4v30.4m4-30.4v30.4m26-30.4v30.4m32-30.4v30.4m2-30.4v30.4m24-30.4v30.4m14-30.4v30.4m2-30.4v30.4m12-30.4v30.4m14-30.4v30.4m10-30.4v30.4m4-30.4v30.4m26-30.4v30.4m12-30.4v30.4m16-30.4v30.4m10-30.4v30.4m2-30.4v30.4m2-30.4v30.4m10-30.4v30.4m2-30.4v30.4m4-30.4v30.4m4-30.4v30.4m2-30.4v30.4m10-30.4v30.4m18-30.4v30.4m4-30.4v30.4m2-30.4v30.4m4-30.4v30.4m2-30.4v30.4m4-30.4v30.4m2-30.4v30.4m8-30.4v30.4m2-30.4v30.4m6-30.4v30.4m16-30.4v30.4m12-30.4v30.4m20-30.4v30.4m2-30.4v30.4m2-30.4v30.4m8-30.4v30.4m14-30.4v30.4m2-30.4v30.4m16-30.4v30.4m2-30.4v30.4m2-30.4v30.4m6-30.4v30.4m4-30.4v30.4m16-30.4v30.4m6-30.4v30.4m2-30.4v30.4m4-30.4v30.4m2-30.4v30.4m8-30.4v30.4m2-30.4v30.4m12-30.4v30.4m4-30.4v30.4m8-30.4v30.4m16-30.4v30.4m4-30.4v30.4m2-30.4v30.4m4-30.4v30.4m10-30.4v30.4m8-30.4v30.4m12-30.4v30.4m6-30.4v30.4m2-30.4v30.4m6-30.4v30.4m4-30.4v30.4m4-30.4v30.4m6-30.4v30.4m12-30.4v30.4m2-30.4v30.4m8-30.4v30.4m4-30.4v30.4m6-30.4v30.4m8-30.4v30.4m2-30.4v30.4m24-30.4v30.4m6-30.4v30.4m18-30.4v30.4m20-30.4v30.4m10-30.4v30.4m2-30.4v30.4m2-30.4v30.4m16-30.4v30.4m6-30.4v30.4m2-30.4v30.4m6-30.4v30.4m8-30.4v30.4m4-30.4v30.4m10-30.4v30.4m6-30.4v30.4m8-30.4v30.4m16-30.4v30.4m6-30.4v30.4m20-30.4v30.4m2-30.4v30.4m4-30.4v30.4m20-30.4v30.4m8-30.4v30.4m4-30.4v30.4M898.5 1835.0v17.5m6-17.5v17.5m18-17.5v17.5m6-17.5v17.5m2-17.5v17.5m4-17.5v17.5m44-17.5v17.5m4-17.5v17.5m2-17.5v17.5m10-17.5v17.5m2-17.5v17.5m10-17.5v17.5m22-17.5v17.5m32-17.5v17.5m8-17.5v17.5m16-17.5v17.5m2-17.5v17.5m8-17.5v17.5m4-17.5v17.5m4-17.5v17.5m20-17.5v17.5m2-17.5v17.5m4-17.5v17.5m6-17.5v17.5m4-17.5v17.5m4-17.5v17.5m2-17.5v17.5m2-17.5v17.5m4-17.5v17.5m6-17.5v17.5m10-17.5v17.5m4-17.5v17.5m10-17.5v17.5m6-17.5v17.5m2-17.5v17.5m12-17.5v17.5M898.5 1822.2v4.3m2-4.3v4.3m50-4.3v4.3m8-4.3v4.3m2-4.3v4.3m10-4.3v4.3m50-4.3v4.3m6-4.3v4.3m8-4.3v4.3m48-4.3v4.3m22-4.3v4.3m14-4.3v4.3m2-4.3v4.3m2-4.3v4.3m44-4.3v4.3m24-4.3v4.3m8-4.3v4.3M898.5 1818.0v4.2m58-4.2v4.2m4-4.2v4.2m108-4.2v4.2m12-4.2v4.2m6-4.2v4.2m18-4.2v4.2m6-4.2v4.2m4-4.2v4.2m8-4.2v4.2m6-4.2v4.2m2-4.2v4.2m4-4.2v4.2m22-4.2v4.2m12-4.2v4.2m22-4.2v4.2m2-4.2v4.2m6-4.2v4.2M900.5 1805.2v4.3m16-4.3v4.3m18-4.3v4.3m44-4.3v4.3m56-4.3v4.3m36-4.3v4.3m10-4.3v4.3m2-4.3v4.3m6-4.3v4.3m14-4.3v4.3m2-4.3v4.3m6-4.3v4.3m4-4.3v4.3m10-4.3v4.3m6-4.3v4.3m2-4.3v4.3m10-4.3v4.3m4-4.3v4.3m4-4.3v4.3m6-4.3v4.3m10-4.3v4.3m34-4.3v4.3M902.5 1780.0v4.0m10-4v4m16-4v4m6-4v4m20-4v4m10-4v4m8-4v4m4-4v4m4-4v4m2-4v4m6-4v4m14-4v4m2-4v4m6-4v4m8-4v4m6-4v4m6-4v4m24-4v4m8-4v4m4-4v4M902.5 1776.0v4.0m2-4v4m8-4v4m12-4v4m14-4v4m4-4v4m2-4v4m2-4v4m2-4v4m6-4v4m18-4v4m8-4v4m8-4v4m8-4v4m4-4v4m2-4v4m2-4v4m4-4v4m2-4v4m8-4v4m6-4v4m8-4v4m16-4v4m2-4v4m10-4v4m4-4v4m38-4v4m96-4v4M902.5 1768.0v4.0m4-4v4m6-4v4m2-4v4m10-4v4m4-4v4m10-4v4m2-4v4m2-4v4m4-4v4m8-4v4m8-4v4m4-4v4m14-4v4m14-4v4m6-4v4m2-4v4m2-4v4m4-4v4m2-4v4m20-4v4m12-4v4m2-4v4m2-4v4m18-4v4m38-4v4M904.5 1772.0v4.0m8-4v4m12-4v4m4-4v4m16-4v4m10-4v4m8-4v4m10-4v4m6-4v4m2-4v4m4-4v4m4-4v4m16-4v4m2-4v4m2-4v4m6-4v4m8-4v4m8-4v4m2-4v4m12-4v4m4-4v4m4-4v4m6-4v4m2-4v4m6-4v4m18-4v4m40-4v4M908.5 1830.8v4.2m70-4.2v4.2m14-4.2v4.2m24-4.2v4.2m86-4.2v4.2m2-4.2v4.2m6-4.2v4.2m4-4.2v4.2m6-4.2v4.2m8-4.2v4.2m24-4.2v4.2m40-4.2v4.2m6-4.2v4.2M916.5 1813.8v4.2m100-4.2v4.2m64-4.2v4.2m2-4.2v4.2m30-4.2v4.2m20-4.2v4.2m20-4.2v4.2m16-4.2v4.2m22-4.2v4.2m8-4.2v4.2m2-4.2v4.2M916.5 1801.0v4.2m40-4.2v4.2m4-4.2v4.2m32-4.2v4.2m34-4.2v4.2m10-4.2v4.2m32-4.2v4.2m42-4.2v4.2m2-4.2v4.2m12-4.2v4.2m4-4.2v4.2m4-4.2v4.2m2-4.2v4.2m12-4.2v4.2m20-4.2v4.2m2-4.2v4.2m22-4.2v4.2M916.5 1796.8v4.2m14-4.2v4.2m86-4.2v4.2m18-4.2v4.2m46-4.2v4.2m6-4.2v4.2m26-4.2v4.2m2-4.2v4.2m6-4.2v4.2m2-4.2v4.2m4-4.2v4.2m2-4.2v4.2m24-4.2v4.2m34-4.2v4.2m4-4.2v4.2m2-4.2v4.2m6-4.2v4.2M916.5 1788.2v4.3m40-4.3v4.3m4-4.3v4.3m32-4.3v4.3m88-4.3v4.3m6-4.3v4.3m20-4.3v4.3m14-4.3v4.3m6-4.3v4.3m2-4.3v4.3m2-4.3v4.3m16-4.3v4.3m4-4.3v4.3m16-4.3v4.3m20-4.3v4.3m4-4.3v4.3m2-4.3v4.3m2-4.3v4.3M930.5 1826.5v4.3m4-4.3v4.3m14-4.3v4.3m22-4.3v4.3m8-4.3v4.3m14-4.3v4.3m24-4.3v4.3m10-4.3v4.3m42-4.3v4.3m52-4.3v4.3m10-4.3v4.3m16-4.3v4.3m6-4.3v4.3m48-4.3v4.3M930.5 1792.5v4.3m62-4.3v4.3m36-4.3v4.3m8-4.3v4.3m44-4.3v4.3m6-4.3v4.3m16-4.3v4.3m8-4.3v4.3m10-4.3v4.3m22-4.3v4.3m4-4.3v4.3m4-4.3v4.3m18-4.3v4.3m18-4.3v4.3m4-4.3v4.3m10-4.3v4.3M956.5 1784.0v4.2m2-4.2v4.2m20-4.2v4.2m38-4.2v4.2m18-4.2v4.2m34-4.2v4.2m34-4.2v4.2m8-4.2v4.2m2-4.2v4.2m8-4.2v4.2m2-4.2v4.2m2-4.2v4.2m6-4.2v4.2m4-4.2v4.2m56-4.2v4.2M958.5 1809.5v4.3m2-4.3v4.3m10-4.3v4.3m2-4.3v4.3m20-4.3v4.3m24-4.3v4.3m18-4.3v4.3m46-4.3v4.3m2-4.3v4.3m4-4.3v4.3m20-4.3v4.3m18-4.3v4.3m22-4.3v4.3m6-4.3v4.3m4-4.3v4.3"/>
<path stroke="#5c8e4d" stroke-width="2" d="M162.5 1835.0v17.5m2-17.5v17.5m16-17.5v17.5m2-17.5v17.5m10-17.5v17.5m4-17.5v17.5m14-17.5v17.5m24-17.5v17.5m26-17.5v17.5m28-17.5v17.5m2-17.5v17.5m2-17.5v17.5m8-17.5v17.5m6-17.5v17.5m20-17.5v17.5m8-17.5v17.5m2-17.5v17.5m2-17.5v17.5m14-17.5v17.5m8-17.5v17.5m4-17.5v17.5m2-17.5v17.5m12-17.5v17.5m6-17.5v17.5m12-17.5v17.5m4-17.5v17.5m12-17.5v17.5m2-17.5v17.5m4-17.5v17.5m4-17.5v17.5m22-17.5v17.5m4-17.5v17.5m6-17.5v17.5m2-17.5v17.5m2-17.5v17.5m2-17.5v17.5m8-17.5v17.5m4-17.5v17.5m4-17.5v17.5m2-17.5v17.5m10-17.5v17.5m8-17.5v17.5m174-17.5v17.5m14-17.5v17.5m12-17.5v17.5m158-17.5v17.5M906.5 1760.0v4.0m40-4v4m20-4v4m24-4v4m10-4v4m2-4v4m2-4v4m6-4v4m12-4v4m22-4v4m2-4v4m34-4v4m66-4v4m10-4v4m10-4v4M940.5 1764.0v4.0m12-4v4m14-4v4m22-4v4m12-4v4m4-4v4m6-4v4m4-4v4m10-4v4m32-4v4m42-4v4m12-4v4m58-4v4M944.5 1756.0v4.0m32-4v4m14-4v4m14-4v4m20-4v4m16-4v4m6-4v4m16-4v4m64-4v4m20-4v4m20-4v4m34-4v4M950.5 1792.5v4.3m178-4.3v4.3M956.5 1830.8v4.2m166-4.2v4.2m4-4.2v4.2M956.5 1805.2v4.3m172-4.3v4.3m58-4.3v4.3M960.5 1796.8v4.2m144-4.2v4.2M974.5 1744.0v4.0m64-4v4m2-4v4M976.5 1752.0v4.0m22-4v4m2-4v4m2-4v4m44-4v4m40-4v4M1004.5 1748.0v4.0m10-4v4m26-4v4m44-4v4M1040.5 1740.0v4.0m44-4v4M1082.5 1784.0v4.2m24-4.2v4.2M1102.5 1818.0v4.2m18-4.2v4.2m12-4.2v4.2m20-4.2v4.2M1138.5 1776.0v4.0m58-4v4M1138.5 1768.0v4.0m44-4v4M1148.5 1772.0v4.0M1152.5 1801.0v4.2m32-4.2v4.2M1156.5 1826.5v4.3M1198.5 1809.5v4.3M200.0 1781.7v11.7M340.0 1782.1v6.5M348.0 1789.7v11.6M352.0 1785.1v6.6M358.0 1796.3v14.7M362.0 1787.0v14.1M362.0 1797.2v13.8M362.0 1789.6v16.5M364.0 1793.9v11.0M368.0 1786.7v6.0M374.0 1789.5v6.5M376.0 1788.2v6.2M440.0 1797.4v6.6M442.0 1797.9v13.4M444.0 1797.1v7.4M444.0 1785.3v10.2M452.0 1794.7v6.3M466.0 1783.4v17.8M468.0 1788.0v10.5M468.0 1787.7v9.4M472.0 1795.2v12.5M476.0 1788.6v14.5M484.0 1785.0v8.9M488.0 1785.6v6.6M494.0 1790.0v15.9M500.0 1778.1v11.4M504.0 1802.2v12.8M506.0 1783.7v19.3M522.0 1779.1v15.1M522.0 1804.0v11.0M522.0 1788.5v16.4M528.0 1780.3v6.2M530.0 1791.6v6.8M532.0 1806.7v8.3M534.0 1779.6v14.7M536.0 1779.0v13.1M536.0 1806.2v8.8M538.0 1787.5v12.1M540.0 1802.0v13.0M544.0 1806.5v8.2M544.0 1800.3v14.7M548.0 1787.1v10.4M575.0 1803.3v11.7M600.0 1784.6v15.1M606.0 1797.8v10.2M612.0 1792.2v12.4M614.0 1787.7v17.6M620.0 1798.9v9.1M638.0 1799.9v8.1M640.0 1794.2v13.8M643.0 1787.1v15.5M673.0 1788.9v12.3M673.0 1790.5v18.1M675.0 1797.5v14.5M677.0 1784.3v6.4M679.0 1799.3v6.5M683.0 1795.9v9.8M683.0 1788.1v15.1M683.0 1800.4v11.6M687.0 1790.1v10.1M689.0 1785.5v12.5M691.0 1801.5v10.5M697.0 1791.8v19.0M697.0 1788.0v9.1M681.0 1791.8v14.7M681.0 1807.1v15.9M689.0 1800.4v12.6M709.0 1790.0v16.9M713.0 1789.4v17.1M719.0 1791.9v7.8M723.0 1784.1v19.4M727.0 1790.9v10.2"/>
<path stroke="#7ea86f" stroke-width="2" d="M162.5 1822.0v13.0m24-13v13m18-13v13m16-13v13m12-13v13m22-13v13m16-13v13m12-13v13m40-13v13m54-13v13m62-13v13m10-13v13m8-13v13m62-13v13m42-13v13m44-13v13m24-13v13m24-13v13m14-13v13m6-13v13m4-13v13m10-13v13m16-13v13m4-13v13m36-13v13m2-13v13m70-13v13m4-13v13m4-13v13m22-13v13M166.5 1835.0v17.5m6-17.5v17.5m6-17.5v17.5m10-17.5v17.5m10-17.5v17.5m18-17.5v17.5m2-17.5v17.5m8-17.5v17.5m2-17.5v17.5m14-17.5v17.5m4-17.5v17.5m6-17.5v17.5m26-17.5v17.5m2-17.5v17.5m22-17.5v17.5m6-17.5v17.5m14-17.5v17.5m8-17.5v17.5m2-17.5v17.5m26-17.5v17.5m4-17.5v17.5m8-17.5v17.5m24-17.5v17.5m8-17.5v17.5m2-17.5v17.5m12-17.5v17.5m8-17.5v17.5m2-17.5v17.5m6-17.5v17.5m32-17.5v17.5m36-17.5v17.5m14-17.5v17.5m2-17.5v17.5m6-17.5v17.5m24-17.5v17.5m4-17.5v17.5m4-17.5v17.5m4-17.5v17.5m2-17.5v17.5m4-17.5v17.5m16-17.5v17.5m4-17.5v17.5m4-17.5v17.5m2-17.5v17.5m10-17.5v17.5m4-17.5v17.5m10-17.5v17.5m10-17.5v17.5m18-17.5v17.5m2-17.5v17.5m10-17.5v17.5m10-17.5v17.5m14-17.5v17.5m10-17.5v17.5m10-17.5v17.5m4-17.5v17.5m4-17.5v17.5m4-17.5v17.5m22-17.5v17.5m16-17.5v17.5m6-17.5v17.5m6-17.5v17.5m10-17.5v17.5m14-17.5v17.5m6-17.5v17.5m16-17.5v17.5m8-17.5v17.5m2-17.5v17.5m8-17.5v17.5m4-17.5v17.5m4-17.5v17.5m2-17.5v17.5m42-17.5v17.5m8-17.5v17.5M804.5 1795.0v27.0M814.5 1795.3v26.7M848.5 1795.7v26.3M854.5 1796.1v25.9M860.5 1783.3v38.7M882.5 1789.9v32.1M888.5 1767.7v54.3M926.5 1756.0v4.0m20-4v4m32-4v4m4-4v4m10-4v4m28-4v4m10-4v4m2-4v4m10-4v4m12-4v4m4-4v4m16-4v4m16-4v4m10-4v4m8-4v4m60-4v4m4-4v4m2-4v4m6-4v4M926.5 1752.0v4.0m10-4v4m8-4v4m2-4v4m8-4v4m12-4v4m6-4v4m22-4v4m24-4v4m2-4v4m10-4v4m12-4v4m8-4v4m2-4v4m4-4v4m20-4v4m4-4v4m14-4v4m24-4v4m42-4v4m12-4v4m2-4v4m6-4v4m8-4v4m6-4v4M928.5 1764.0v4.0m20-4v4m8-4v4m22-4v4m6-4v4m28-4v4m8-4v4m8-4v4m2-4v4m2-4v4m10-4v4m12-4v4m36-4v4m10-4v4m8-4v4m52-4v4m2-4v4m14-4v4m4-4v4M938.5 1748.0v4.0m16-4v4m14-4v4m12-4v4m2-4v4m10-4v4m14-4v4m6-4v4m10-4v4m2-4v4m2-4v4m4-4v4m16-4v4m2-4v4m6-4v4m2-4v4m14-4v4m4-4v4m6-4v4m6-4v4m12-4v4m48-4v4m26-4v4m4-4v4M946.5 1744.0v4.0m22-4v4m12-4v4m8-4v4m4-4v4m2-4v4m10-4v4m2-4v4m6-4v4m10-4v4m8-4v4m14-4v4m10-4v4m2-4v4m4-4v4m16-4v4m50-4v4m30-4v4m42-4v4m2-4v4M948.5 1760.0v4.0m24-4v4m12-4v4m10-4v4m24-4v4m8-4v4m22-4v4m8-4v4m20-4v4m14-4v4m20-4v4m52-4v4m14-4v4m4-4v4M948.5 1752.4v3.6M966.5 1740.0v4.0m12-4v4m2-4v4m4-4v4m6-4v4m8-4v4m4-4v4m2-4v4m6-4v4m2-4v4m10-4v4m2-4v4m2-4v4m6-4v4m12-4v4m2-4v4m8-4v4m6-4v4m2-4v4m14-4v4m100-4v4m16-4v4m6-4v4M974.5 1736.0v4.0m6-4v4m12-4v4m6-4v4m22-4v4m2-4v4m2-4v4m2-4v4m24-4v4m2-4v4m18-4v4m128-4v4M982.5 1732.0v4.0m4-4v4m4-4v4m2-4v4m8-4v4m10-4v4m4-4v4m10-4v4m2-4v4m4-4v4m2-4v4m8-4v4m2-4v4m10-4v4m2-4v4m4-4v4m4-4v4M986.5 1728.0v4.0m14-4v4m10-4v4m30-4v4m2-4v4m10-4v4m6-4v4m4-4v4m10-4v4m2-4v4M986.5 1724.8v3.2M1000.5 1724.0v4.0m38-4v4m14-4v4m6-4v4M1002.5 1728.6v3.4M1078.5 1805.2v4.3M1086.5 1741.1v2.9M1090.5 1813.8v4.2m4-4.2v4.2m54-4.2v4.2M1090.5 1784.0v4.2m18-4.2v4.2M1108.5 1826.5v4.3M1116.5 1760.7v3.3M1140.5 1818.0v4.2M1142.5 1756.3v3.7M1150.5 1748.2v3.8M1168.5 1753.6v2.4M1170.5 1830.8v4.2M166.0 1778.6v17.8M180.0 1791.1v8.9M180.0 1784.2v13.2M196.0 1785.4v14.6M231.0 1794.2v10.8M241.0 1785.5v7.7M251.0 1786.0v15.0M253.0 1788.1v14.1M259.0 1791.1v13.9M401.0 1797.7v10.1M411.0 1790.4v12.3M417.0 1792.2v6.9M417.0 1798.2v11.8M454.0 1801.6v6.5M466.0 1789.0v20.0M474.0 1784.1v18.3M567.0 1787.4v17.4M567.0 1792.8v15.2M575.0 1796.5v18.5M577.0 1795.3v10.2M577.0 1789.1v15.8M581.0 1791.6v18.5M581.0 1787.7v10.0M589.0 1799.0v8.8M598.0 1796.0v7.4M643.0 1785.6v12.1M645.0 1785.3v10.1M649.0 1798.5v13.5M653.0 1786.1v10.9M653.0 1803.2v8.8M659.0 1793.5v9.5M665.0 1790.5v6.5M665.0 1804.0v8.0M669.0 1799.5v12.5M681.0 1794.5v8.9M695.0 1792.9v10.5M699.0 1796.2v15.8M699.0 1795.1v15.4M697.0 1809.1v13.3M703.0 1812.6v6.8M707.0 1788.7v7.9M713.0 1802.3v13.6M719.0 1800.3v16.0M725.0 1788.0v19.5M727.0 1812.6v9.2M713.0 1795.1v14.9M725.0 1812.0v7.7M727.0 1798.5v11.3M733.0 1795.2v14.4M737.0 1800.4v19.6M741.0 1802.8v13.2M743.0 1805.6v6.1M743.0 1807.8v15.2M745.0 1803.2v11.4M745.0 1808.2v14.8m36-14.8v14.8M747.0 1795.4v8.3M749.0 1807.1v15.9M753.0 1805.7v16.7M755.0 1796.7v9.5M757.0 1797.4v11.2M761.0 1797.1v10.6M765.0 1795.9v9.8M769.0 1801.0v19.5M773.0 1798.0v12.5"/>
<path stroke="#d3e6cc" stroke-width="2" d="M162.5 1798.3v13.7M168.5 1812.0v10.0m2-10v10m2-10v10m12-10v10m2-10v10m2-10v10m2-10v10m2-10v10m4-10v10m6-10v10m2-10v10m8-10v10m2-10v10m2-10v10m4-10v10m8-10v10m4-10v10m6-10v10m2-10v10m12-10v10m12-10v10m2-10v10m8-10v10m6-10v10m2-10v10m2-10v10m8-10v10m6-10v10m2-10v10m16-10v10m2-10v10m8-10v10m2-10v10m2-10v10m2-10v10m2-10v10m4-10v10m4-10v10m2-10v10m4-10v10m4-10v10m4-10v10m6-10v10m6-10v10m2-10v10m4-10v10m4-10v10m4-10v10m10-10v10m4-10v10m6-10v10m2-10v10m10-10v10m14-10v10m20-10v10m8-10v10m18-10v10m2-10v10m4-10v10m2-10v10m2-10v10m2-10v10m6-10v10m12-10v10m10-10v10m2-10v10m2-10v10m8-10v10m2-10v10m4-10v10m8-10v10m2-10v10m26-10v10m2-10v10m2-10v10m2-10v10m2-10v10m8-10v10m8-10v10m6-10v10m2-10v10m4-10v10m2-10v10m6-10v10m2-10v10m8-10v10m8-10v10m6-10v10m4-10v10m2-10v10m2-10v10m6-10v10m12-10v10m24-10v10m2-10v10m4-10v10m4-10v10m14-10v10m14-10v10m8-10v10m2-10v10m4-10v10m4-10v10m2-10v10m2-10v10m10-10v10m2-10v10m2-10v10m2-10v10m8-10v10m6-10v10m2-10v10m2-10v10m4-10v10m2-10v10m8-10v10m6-10v10m4-10v10m4-10v10m2-10v10m8-10v10m10-10v10m2-10v10m4-10v10m4-10v10m2-10v10m10-10v10m4-10v10m4-10v10m2-10v10m4-10v10m14-10v10m2-10v10m8-10v10m4-10v10m4-10v10M194.5 1822.0v13.0m12-13v13m24-13v13m26-13v13m8-13v13m34-13v13m10-13v13m10-13v13m38-13v13m12-13v13m20-13v13m10-13v13m14-13v13m2-13v13m8-13v13m14-13v13m8-13v13m10-13v13m8-13v13m10-13v13m44-13v13m6-13v13m6-13v13m30-13v13m34-13v13m46-13v13m16-13v13m16-13v13m8-13v13m18-13v13m2-13v13m48-13v13m8-13v13m14-13v13m44-13v13m8-13v13m54-13v13m2-13v13m2-13v13m4-13v13M316.5 1783.0v9.2M356.5 1786.8v10.3M532.5 1788.2v4.3M600.5 1790.7v9.4M666.5 1795.3v15.7M696.5 1791.5v5.2M804.5 1776.8v15.7M828.5 1774.4v11.3M834.5 1788.2v14.4M878.5 1784.5v9.1"/>
<path stroke="#f3ae19" stroke-width="2" d="M164.5 1873.0v30.4m116-30.4v30.4m318-30.4v30.4m76-30.4v30.4m60-30.4v30.4m46-30.4v30.4m184-30.4v30.4m64-30.4v30.4m142-30.4v30.4m4-30.4v30.4m4-30.4v30.4M906.5 1818.0v4.2m4-4.2v4.2m4-4.2v4.2m52-4.2v4.2m38-4.2v4.2m48-4.2v4.2m14-4.2v4.2M906.5 1813.8v4.2m26-4.2v4.2m8-4.2v4.2m2-4.2v4.2m2-4.2v4.2m2-4.2v4.2m30-4.2v4.2m12-4.2v4.2m10-4.2v4.2m2-4.2v4.2m8-4.2v4.2m36-4.2v4.2m10-4.2v4.2m6-4.2v4.2m4-4.2v4.2M906.5 1801.0v4.2m26-4.2v4.2m32-4.2v4.2m40-4.2v4.2m10-4.2v4.2m40-4.2v4.2M906.5 1784.0v4.2m34-4.2v4.2m4-4.2v4.2m10-4.2v4.2m12-4.2v4.2m22-4.2v4.2m10-4.2v4.2m2-4.2v4.2m2-4.2v4.2m2-4.2v4.2m42-4.2v4.2m8-4.2v4.2m2-4.2v4.2m6-4.2v4.2m4-4.2v4.2M910.5 1792.5v4.3m14-4.3v4.3m12-4.3v4.3m6-4.3v4.3m22-4.3v4.3m4-4.3v4.3m22-4.3v4.3m10-4.3v4.3m10-4.3v4.3m34-4.3v4.3m18-4.3v4.3M914.5 1830.8v4.2m26-4.2v4.2m12-4.2v4.2m10-4.2v4.2m56-4.2v4.2m26-4.2v4.2m16-4.2v4.2m4-4.2v4.2M914.5 1822.2v4.3m22-4.3v4.3m2-4.3v4.3m30-4.3v4.3m34-4.3v4.3m6-4.3v4.3m14-4.3v4.3m18-4.3v4.3m8-4.3v4.3m16-4.3v4.3m2-4.3v4.3M914.5 1805.2v4.3m22-4.3v4.3m6-4.3v4.3m10-4.3v4.3m10-4.3v4.3m6-4.3v4.3m8-4.3v4.3m30-4.3v4.3m4-4.3v4.3M924.5 1809.5v4.3m16-4.3v4.3m12-4.3v4.3m16-4.3v4.3m20-4.3v4.3m12-4.3v4.3m4-4.3v4.3m18-4.3v4.3m22-4.3v4.3m14-4.3v4.3m6-4.3v4.3M924.5 1796.8v4.2m2-4.2v4.2m14-4.2v4.2m2-4.2v4.2m12-4.2v4.2m8-4.2v4.2m2-4.2v4.2m10-4.2v4.2m14-4.2v4.2m2-4.2v4.2m14-4.2v4.2m6-4.2v4.2m36-4.2v4.2m14-4.2v4.2M944.5 1826.5v4.3m24-4.3v4.3m20-4.3v4.3m14-4.3v4.3m4-4.3v4.3m8-4.3v4.3m46-4.3v4.3M964.5 1788.2v4.3m2-4.3v4.3m24-4.3v4.3m14-4.3v4.3m4-4.3v4.3m40-4.3v4.3m16-4.3v4.3"/>
<path stroke="#38a322" stroke-width="2" d="M164.5 1852.5v20.5m8-20.5v20.5m36-20.5v20.5m26-20.5v20.5m6-20.5v20.5m12-20.5v20.5m2-20.5v20.5m28-20.5v20.5m18-20.5v20.5m8-20.5v20.5m32-20.5v20.5m20-20.5v20.5m10-20.5v20.5m2-20.5v20.5m18-20.5v20.5m6-20.5v20.5m8-20.5v20.5m6-20.5v20.5m32-20.5v20.5m8-20.5v20.5m4-20.5v20.5m2-20.5v20.5m2-20.5v20.5m16-20.5v20.5m26-20.5v20.5m24-20.5v20.5m2-20.5v20.5m8-20.5v20.5m14-20.5v20.5m4-20.5v20.5m4-20.5v20.5m12-20.5v20.5m4-20.5v20.5m8-20.5v20.5m22-20.5v20.5m8-20.5v20.5m14-20.5v20.5m6-20.5v20.5m22-20.5v20.5m8-20.5v20.5m54-20.5v20.5m4-20.5v20.5m4-20.5v20.5m12-20.5v20.5m4-20.5v20.5m4-20.5v20.5m38-20.5v20.5m16-20.5v20.5m10-20.5v20.5m8-20.5v20.5m12-20.5v20.5m8-20.5v20.5m2-20.5v20.5m2-20.5v20.5m16-20.5v20.5m2-20.5v20.5m10-20.5v20.5m12-20.5v20.5m16-20.5v20.5m26-20.5v20.5m2-20.5v20.5m12-20.5v20.5m6-20.5v20.5m16-20.5v20.5m2-20.5v20.5m24-20.5v20.5m2-20.5v20.5m10-20.5v20.5m18-20.5v20.5m8-20.5v20.5m8-20.5v20.5m20-20.5v20.5m8-20.5v20.5m28-20.5v20.5m4-20.5v20.5m14-20.5v20.5m2-20.5v20.5m12-20.5v20.5m2-20.5v20.5m4-20.5v20.5m18-20.5v20.5m12-20.5v20.5m12-20.5v20.5m12-20.5v20.5m12-20.5v20.5m10-20.5v20.5M898.5 1809.5v4.3m18-4.3v4.3m34-4.3v4.3m124-4.3v4.3m2-4.3v4.3m12-4.3v4.3m6-4.3v4.3m4-4.3v4.3m20-4.3v4.3m8-4.3v4.3m6-4.3v4.3m12-4.3v4.3m16-4.3v4.3m6-4.3v4.3m12-4.3v4.3m6-4.3v4.3m6-4.3v4.3M898.5 1796.8v4.2m2-4.2v4.2m138-4.2v4.2m38-4.2v4.2m34-4.2v4.2m6-4.2v4.2m2-4.2v4.2m14-4.2v4.2m14-4.2v4.2m4-4.2v4.2m18-4.2v4.2m4-4.2v4.2m4-4.2v4.2m18-4.2v4.2M898.5 1792.5v4.3m62-4.3v4.3m16-4.3v4.3m58-4.3v4.3m34-4.3v4.3m6-4.3v4.3m24-4.3v4.3m6-4.3v4.3m2-4.3v4.3m8-4.3v4.3m2-4.3v4.3m2-4.3v4.3m8-4.3v4.3m4-4.3v4.3m4-4.3v4.3m18-4.3v4.3m20-4.3v4.3m6-4.3v4.3m14-4.3v4.3m2-4.3v4.3M898.5 1788.2v4.3m102-4.3v4.3m68-4.3v4.3m4-4.3v4.3m10-4.3v4.3m16-4.3v4.3m6-4.3v4.3m28-4.3v4.3m2-4.3v4.3m18-4.3v4.3m10-4.3v4.3m6-4.3v4.3m16-4.3v4.3m16-4.3v4.3M898.5 1784.0v4.2m28-4.2v4.2m24-4.2v4.2m122-4.2v4.2m4-4.2v4.2m4-4.2v4.2m34-4.2v4.2m2-4.2v4.2m2-4.2v4.2m8-4.2v4.2m6-4.2v4.2m14-4.2v4.2m4-4.2v4.2m6-4.2v4.2m6-4.2v4.2m6-4.2v4.2m4-4.2v4.2M900.5 1776.0v4.0m8-4v4m8-4v4m4-4v4m2-4v4m6-4v4m12-4v4m24-4v4m2-4v4m4-4v4m12-4v4m24-4v4m22-4v4m24-4v4m6-4v4m8-4v4m4-4v4m14-4v4m2-4v4m18-4v4m18-4v4m4-4v4m2-4v4m2-4v4m2-4v4m2-4v4m18-4v4m4-4v4m10-4v4m34-4v4M900.5 1768.0v4.0m4-4v4m4-4v4m52-4v4m24-4v4m8-4v4m4-4v4m24-4v4m2-4v4m4-4v4m2-4v4m4-4v4m20-4v4m2-4v4m2-4v4m2-4v4m22-4v4m2-4v4m2-4v4m20-4v4m8-4v4m10-4v4m44-4v4m34-4v4M904.5 1780.0v4.0m12-4v4m6-4v4m20-4v4m8-4v4m8-4v4m8-4v4m18-4v4m8-4v4m2-4v4m2-4v4m10-4v4m10-4v4m12-4v4m4-4v4m10-4v4m8-4v4m6-4v4m2-4v4m6-4v4m4-4v4m2-4v4m10-4v4m4-4v4m20-4v4m8-4v4m12-4v4m22-4v4m10-4v4m42-4v4M908.5 1835.0v17.5m40-17.5v17.5m2-17.5v17.5m8-17.5v17.5m12-17.5v17.5m2-17.5v17.5m40-17.5v17.5m8-17.5v17.5m14-17.5v17.5m36-17.5v17.5m22-17.5v17.5m22-17.5v17.5m4-17.5v17.5m8-17.5v17.5m22-17.5v17.5m42-17.5v17.5m6-17.5v17.5M916.5 1826.5v4.3m40-4.3v4.3m116-4.3v4.3m2-4.3v4.3m6-4.3v4.3m2-4.3v4.3m4-4.3v4.3m8-4.3v4.3m8-4.3v4.3m4-4.3v4.3m4-4.3v4.3m8-4.3v4.3m8-4.3v4.3m6-4.3v4.3m10-4.3v4.3m8-4.3v4.3m10-4.3v4.3m8-4.3v4.3m4-4.3v4.3m4-4.3v4.3m10-4.3v4.3m4-4.3v4.3M920.5 1772.0v4.0m2-4v4m12-4v4m12-4v4m2-4v4m10-4v4m2-4v4m6-4v4m28-4v4m16-4v4m8-4v4m2-4v4m4-4v4m2-4v4m2-4v4m14-4v4m8-4v4m4-4v4m14-4v4m18-4v4m18-4v4m2-4v4m22-4v4m6-4v4m32-4v4m32-4v4m2-4v4M930.5 1830.8v4.2m6-4.2v4.2m34-4.2v4.2m110-4.2v4.2m14-4.2v4.2m30-4.2v4.2m8-4.2v4.2m2-4.2v4.2m10-4.2v4.2m6-4.2v4.2m18-4.2v4.2m4-4.2v4.2m4-4.2v4.2m8-4.2v4.2m6-4.2v4.2m4-4.2v4.2M930.5 1818.0v4.2m152-4.2v4.2m6-4.2v4.2m18-4.2v4.2m12-4.2v4.2m8-4.2v4.2m16-4.2v4.2m4-4.2v4.2m4-4.2v4.2m14-4.2v4.2m2-4.2v4.2m20-4.2v4.2m8-4.2v4.2M950.5 1813.8v4.2m118-4.2v4.2m18-4.2v4.2m2-4.2v4.2m20-4.2v4.2m2-4.2v4.2m4-4.2v4.2m2-4.2v4.2m4-4.2v4.2m10-4.2v4.2m4-4.2v4.2m24-4.2v4.2m8-4.2v4.2m6-4.2v4.2m12-4.2v4.2m10-4.2v4.2M970.5 1801.0v4.2m64-4.2v4.2m46-4.2v4.2m2-4.2v4.2m24-4.2v4.2m8-4.2v4.2m2-4.2v4.2m2-4.2v4.2m12-4.2v4.2m12-4.2v4.2m8-4.2v4.2m6-4.2v4.2m2-4.2v4.2m28-4.2v4.2m6-4.2v4.2m8-4.2v4.2M1002.5 1805.2v4.3m124-4.3v4.3m26-4.3v4.3m10-4.3v4.3m6-4.3v4.3m4-4.3v4.3m4-4.3v4.3m8-4.3v4.3m10-4.3v4.3M1016.5 1822.2v4.3m116-4.3v4.3m2-4.3v4.3m8-4.3v4.3m4-4.3v4.3m4-4.3v4.3m2-4.3v4.3m4-4.3v4.3m6-4.3v4.3m6-4.3v4.3m4-4.3v4.3m12-4.3v4.3m2-4.3v4.3m8-4.3v4.3"/>
<path stroke="#b3cea6" stroke-width="2" d="M164.5 1822.0v13.0m8-13v13m2-13v13m2-13v13m6-13v13m2-13v13m4-13v13m12-13v13m10-13v13m4-13v13m2-13v13m6-13v13m2-13v13m2-13v13m2-13v13m6-13v13m6-13v13m2-13v13m2-13v13m6-13v13m2-13v13m6-13v13m4-13v13m6-13v13m4-13v13m2-13v13m2-13v13m10-13v13m4-13v13m4-13v13m16-13v13m6-13v13m4-13v13m4-13v13m2-13v13m6-13v13m4-13v13m2-13v13m2-13v13m8-13v13m6-13v13m6-13v13m10-13v13m8-13v13m6-13v13m6-13v13m6-13v13m8-13v13m6-13v13m16-13v13m2-13v13m6-13v13m6-13v13m2-13v13m4-13v13m6-13v13m6-13v13m2-13v13m8-13v13m2-13v13m6-13v13m8-13v13m2-13v13m2-13v13m4-13v13m4-13v13m6-13v13m2-13v13m4-13v13m4-13v13m12-13v13m2-13v13m4-13v13m6-13v13m8-13v13m2-13v13m2-13v13m2-13v13m12-13v13m6-13v13m4-13v13m12-13v13m6-13v13m6-13v13m6-13v13m6-13v13m4-13v13m12-13v13m2-13v13m4-13v13m6-13v13m6-13v13m2-13v13m2-13v13m2-13v13m8-13v13m2-13v13m4-13v13m2-13v13m10-13v13m14-13v13m12-13v13m4-13v13m16-13v13m4-13v13m4-13v13m6-13v13m4-13v13m2-13v13m10-13v13m2-13v13m4-13v13m2-13v13m2-13v13m6-13v13m4-13v13m8-13v13m2-13v13m2-13v13m6-13v13m14-13v13m4-13v13m2-13v13m8-13v13m8-13v13m2-13v13m2-13v13m2-13v13m2-13v13m6-13v13m16-13v13m2-13v13m6-13v13m2-13v13m2-13v13m2-13v13m2-13v13m10-13v13m8-13v13m2-13v13m4-13v13M170.5 1777.0v5.0M182.5 1812.0v10.0m44-10v10m4-10v10m20-10v10m10-10v10m10-10v10m24-10v10m8-10v10m12-10v10m6-10v10m70-10v10m20-10v10m54-10v10m14-10v10m34-10v10m18-10v10m66-10v10m6-10v10m16-10v10m2-10v10m28-10v10m68-10v10m12-10v10m20-10v10m18-10v10m2-10v10m6-10v10m50-10v10m28-10v10m4-10v10m30-10v10m8-10v10M194.5 1788.9v17.4M204.5 1795.7v16.3M212.5 1790.1v12.0M222.5 1799.0v10.7M240.5 1802.4v9.6M248.5 1777.4v18.3M280.5 1783.7v8.1M298.5 1795.4v16.6M320.5 1793.0v7.0M330.5 1797.4v6.6M340.5 1775.0v20.0M344.5 1784.4v7.0M354.5 1792.9v13.1M430.5 1788.1v4.2M474.5 1791.1v19.8M500.5 1778.9v6.8M504.5 1802.1v9.9m208-9.9v9.9M508.5 1788.9v11.7M514.5 1789.4v9.4M530.5 1776.1v8.3M558.5 1795.6v4.7M614.5 1786.7v13.6M620.5 1789.1v6.3M624.5 1795.1v13.5M650.5 1783.5v16.3M682.5 1793.9v4.9M698.5 1795.0v4.6M702.5 1775.5v13.8M710.5 1790.6v12.6M812.5 1803.7v18.3M816.5 1779.0v4.7M834.5 1804.7v17.3M848.5 1786.6v5.8M852.5 1792.5v13.8M862.5 1793.4v18.6M880.5 1796.2v25.8M233.0 1795.4v9.6M233.0 1785.5v19.5M245.0 1790.2v14.8M253.0 1792.8v12.2M403.0 1793.8v16.2M411.0 1794.7v15.3M703.0 1813.3v9.7M747.0 1802.0v16.9"/>
<path stroke="#70c81e" stroke-width="2" d="M166.5 1873.0v30.4m10-30.4v30.4m4-30.4v30.4m10-30.4v30.4m22-30.4v30.4m2-30.4v30.4m16-30.4v30.4m4-30.4v30.4m2-30.4v30.4m10-30.4v30.4m2-30.4v30.4m10-30.4v30.4m6-30.4v30.4m2-30.4v30.4m2-30.4v30.4m2-30.4v30.4m6-30.4v30.4m10-30.4v30.4m12-30.4v30.4m8-30.4v30.4m2-30.4v30.4m2-30.4v30.4m4-30.4v30.4m8-30.4v30.4m2-30.4v30.4m6-30.4v30.4m2-30.4v30.4m28-30.4v30.4m6-30.4v30.4m22-30.4v30.4m2-30.4v30.4m6-30.4v30.4m8-30.4v30.4m2-30.4v30.4m6-30.4v30.4m2-30.4v30.4m4-30.4v30.4m4-30.4v30.4m12-30.4v30.4m6-30.4v30.4m18-30.4v30.4m18-30.4v30.4m14-30.4v30.4m8-30.4v30.4m6-30.4v30.4m10-30.4v30.4m14-30.4v30.4m10-30.4v30.4m10-30.4v30.4m8-30.4v30.4m4-30.4v30.4m6-30.4v30.4m8-30.4v30.4m20-30.4v30.4m6-30.4v30.4m28-30.4v30.4m2-30.4v30.4m8-30.4v30.4m12-30.4v30.4m32-30.4v30.4m2-30.4v30.4m28-30.4v30.4m4-30.4v30.4m2-30.4v30.4m4-30.4v30.4m20-30.4v30.4m2-30.4v30.4m2-30.4v30.4m14-30.4v30.4m2-30.4v30.4m4-30.4v30.4m22-30.4v30.4m14-30.4v30.4m6-30.4v30.4m8-30.4v30.4m2-30.4v30.4m6-30.4v30.4m2-30.4v30.4m6-30.4v30.4m18-30.4v30.4m8-30.4v30.4m34-30.4v30.4m2-30.4v30.4m2-30.4v30.4m18-30.4v30.4m18-30.4v30.4m8-30.4v30.4m6-30.4v30.4m8-30.4v30.4m12-30.4v30.4m8-30.4v30.4m20-30.4v30.4m10-30.4v30.4m2-30.4v30.4m8-30.4v30.4m30-30.4v30.4m4-30.4v30.4m10-30.4v30.4m30-30.4v30.4m2-30.4v30.4m4-30.4v30.4m6-30.4v30.4m18-30.4v30.4m4-30.4v30.4m2-30.4v30.4m4-30.4v30.4m2-30.4v30.4m2-30.4v30.4m2-30.4v30.4m10-30.4v30.4m46-30.4v30.4M192.5 1852.5v20.5m12-20.5v20.5m18-20.5v20.5m34-20.5v20.5m64-20.5v20.5m36-20.5v20.5m36-20.5v20.5m6-20.5v20.5m2-20.5v20.5m96-20.5v20.5m2-20.5v20.5m408-20.5v20.5m46-20.5v20.5m22-20.5v20.5m2-20.5v20.5m14-20.5v20.5m12-20.5v20.5m2-20.5v20.5m32-20.5v20.5m2-20.5v20.5m6-20.5v20.5m2-20.5v20.5m96-20.5v20.5M898.5 1805.2v4.3m22-4.3v4.3m8-4.3v4.3m2-4.3v4.3m20-4.3v4.3m8-4.3v4.3m2-4.3v4.3m52-4.3v4.3m8-4.3v4.3m6-4.3v4.3m6-4.3v4.3m24-4.3v4.3M900.5 1826.5v4.3m2-4.3v4.3m6-4.3v4.3m20-4.3v4.3m22-4.3v4.3m78-4.3v4.3m24-4.3v4.3m18-4.3v4.3m96-4.3v4.3m32-4.3v4.3M900.5 1818.0v4.2m16-4.2v4.2m4-4.2v4.2m2-4.2v4.2m62-4.2v4.2m10-4.2v4.2m2-4.2v4.2m20-4.2v4.2m4-4.2v4.2m10-4.2v4.2m4-4.2v4.2m14-4.2v4.2M900.5 1813.8v4.2m48-4.2v4.2m10-4.2v4.2m26-4.2v4.2m8-4.2v4.2m28-4.2v4.2m10-4.2v4.2m4-4.2v4.2m18-4.2v4.2m50-4.2v4.2m20-4.2v4.2M900.5 1809.5v4.3m4-4.3v4.3m18-4.3v4.3m8-4.3v4.3m18-4.3v4.3m8-4.3v4.3m26-4.3v4.3m14-4.3v4.3m46-4.3v4.3m42-4.3v4.3M900.5 1801.0v4.2m8-4.2v4.2m14-4.2v4.2m50-4.2v4.2m12-4.2v4.2m10-4.2v4.2m54-4.2v4.2m8-4.2v4.2m14-4.2v4.2M900.5 1792.5v4.3m4-4.3v4.3m18-4.3v4.3m48-4.3v4.3m24-4.3v4.3m2-4.3v4.3m30-4.3v4.3m4-4.3v4.3m12-4.3v4.3m6-4.3v4.3m22-4.3v4.3m128-4.3v4.3M900.5 1784.0v4.2m2-4.2v4.2m10-4.2v4.2m18-4.2v4.2m4-4.2v4.2m26-4.2v4.2m10-4.2v4.2m42-4.2v4.2m40-4.2v4.2m114-4.2v4.2M906.5 1776.0v4.0m12-4v4m14-4v4m4-4v4m26-4v4m12-4v4m12-4v4m52-4v4m8-4v4m16-4v4M906.5 1772.0v4.0m8-4v4m4-4v4m14-4v4m6-4v4m14-4v4m16-4v4m6-4v4m2-4v4m24-4v4m40-4v4m22-4v4M908.5 1796.8v4.2m4-4.2v4.2m8-4.2v4.2m2-4.2v4.2m28-4.2v4.2m28-4.2v4.2m6-4.2v4.2m10-4.2v4.2m2-4.2v4.2m16-4.2v4.2m90-4.2v4.2M908.5 1788.2v4.3m20-4.3v4.3m2-4.3v4.3m28-4.3v4.3m22-4.3v4.3m14-4.3v4.3m18-4.3v4.3m4-4.3v4.3m38-4.3v4.3m16-4.3v4.3m42-4.3v4.3m10-4.3v4.3M910.5 1835.0v17.5m4-17.5v17.5m24-17.5v17.5m4-17.5v17.5m10-17.5v17.5m10-17.5v17.5m4-17.5v17.5m2-17.5v17.5m6-17.5v17.5m28-17.5v17.5m6-17.5v17.5m2-17.5v17.5m4-17.5v17.5m8-17.5v17.5m10-17.5v17.5m14-17.5v17.5m4-17.5v17.5M910.5 1780.0v4.0m4-4v4m4-4v4m8-4v4m12-4v4m36-4v4m64-4v4M910.5 1768.0v4.0m16-4v4m6-4v4m4-4v4m38-4v4m24-4v4m42-4v4M912.5 1830.8v4.2m10-4.2v4.2m12-4.2v4.2m14-4.2v4.2m10-4.2v4.2m26-4.2v4.2m12-4.2v4.2m38-4.2v4.2m14-4.2v4.2m36-4.2v4.2m2-4.2v4.2M928.5 1822.2v4.3m6-4.3v4.3m50-4.3v4.3m12-4.3v4.3m56-4.3v4.3m32-4.3v4.3m2-4.3v4.3m16-4.3v4.3M508.0 1796.0v8.0"/>
<path stroke="#c6dabb" stroke-width="2" d="M166.5 1822.0v13.0m12-13v13m34-13v13m92-13v13m10-13v13m66-13v13m70-13v13m88-13v13m28-13v13m16-13v13m6-13v13m10-13v13m12-13v13m4-13v13m2-13v13m16-13v13m2-13v13m26-13v13m24-13v13m24-13v13m18-13v13m48-13v13m12-13v13m18-13v13m36-13v13m12-13v13m6-13v13M166.5 1812.0v10.0m8-10v10m2-10v10m2-10v10m2-10v10m30-10v10m12-10v10m2-10v10m10-10v10m2-10v10m8-10v10m4-10v10m20-10v10m8-10v10m2-10v10m8-10v10m4-10v10m20-10v10m14-10v10m40-10v10m24-10v10m10-10v10m2-10v10m8-10v10m10-10v10m2-10v10m2-10v10m4-10v10m4-10v10m10-10v10m6-10v10m4-10v10m4-10v10m6-10v10m6-10v10m4-10v10m18-10v10m2-10v10m4-10v10m4-10v10m2-10v10m8-10v10m2-10v10m12-10v10m16-10v10m6-10v10m4-10v10m4-10v10m12-10v10m22-10v10m2-10v10m6-10v10m14-10v10m8-10v10m8-10v10m28-10v10m8-10v10m4-10v10m2-10v10m8-10v10m4-10v10m6-10v10m20-10v10m2-10v10m8-10v10m4-10v10m2-10v10m16-10v10m4-10v10m10-10v10m32-10v10m6-10v10m2-10v10m2-10v10m6-10v10m4-10v10m10-10v10m2-10v10m22-10v10m10-10v10m2-10v10m20-10v10m6-10v10m8-10v10M176.5 1801.3v10.7M198.5 1798.9v7.8M218.5 1789.9v11.0M234.5 1802.3v9.7M274.5 1777.3v6.9M288.5 1803.7v8.3M306.5 1785.6v13.1M312.5 1787.4v12.1M322.5 1783.2v15.4M388.5 1774.8v6.7M416.5 1802.2v9.8M428.5 1803.7v7.3M442.5 1785.2v9.0M464.5 1797.5v7.5M490.5 1797.7v14.3M498.5 1783.9v13.1M528.5 1778.5v12.8M560.5 1794.9v6.8M570.5 1803.8v4.2M576.5 1780.1v4.4M604.5 1775.1v10.6M616.5 1794.3v7.4M618.5 1775.4v13.6M630.5 1793.2v16.8M642.5 1803.6v8.4M648.5 1783.5v9.9M672.5 1797.6v14.4M680.5 1785.9v8.0M714.5 1793.3v6.2M720.5 1791.1v5.0M738.5 1782.4v7.2M758.5 1774.4v4.8M770.5 1788.4v12.2M810.5 1787.1v13.8M836.5 1778.3v5.3M842.5 1787.7v19.4M846.5 1785.5v9.8M896.5 1784.6v16.8M928.5 1754.1v1.9M934.5 1756.0v4.0m22-4v4m2-4v4m16-4v4m60-4v4m4-4v4m10-4v4m2-4v4m2-4v4m18-4v4m32-4v4m54-4v4m4-4v4m34-4v4M938.5 1752.0v4.0m18-4v4m18-4v4m6-4v4m8-4v4m16-4v4m36-4v4m18-4v4m12-4v4m56-4v4m50-4v4M954.5 1764.0v4.0m26-4v4m26-4v4m28-4v4m4-4v4m22-4v4m14-4v4m20-4v4m22-4v4m2-4v4m22-4v4m6-4v4m4-4v4m8-4v4m12-4v4m24-4v4m2-4v4M958.5 1734.8v1.2M968.5 1741.1v2.9M974.5 1760.0v4.0m12-4v4m28-4v4m18-4v4m10-4v4m10-4v4m10-4v4m22-4v4m10-4v4m42-4v4m32-4v4m26-4v4M976.5 1744.0v4.0m6-4v4m42-4v4m12-4v4m6-4v4m38-4v4m6-4v4m74-4v4m14-4v4M976.5 1740.0v4.0m38-4v4m38-4v4m20-4v4m8-4v4M978.5 1724.3v3.7M986.5 1748.0v4.0m2-4v4m6-4v4m16-4v4m6-4v4m20-4v4m2-4v4m14-4v4m6-4v4m14-4v4m54-4v4m12-4v4m18-4v4m44-4v4M992.5 1728.0v4.0m34-4v4m20-4v4m24-4v4m14-4v4m104-4v4M1004.5 1732.0v4.0m18-4v4m48-4v4m4-4v4M1010.5 1716.0v4.0M1012.5 1731.9v0.1M1022.5 1731.3v0.7M1024.5 1720.0v4.0m14-4v4M1030.5 1736.0v4.0m18-4v4m14-4v4m22-4v4M1038.5 1718.2v1.8M1044.5 1725.5v2.5M1054.5 1724.0v4.0M1060.5 1736.7v3.3M1072.5 1724.8v3.2M1074.5 1724.5v3.5M1094.5 1749.2v2.8M1098.5 1738.8v1.2M1102.5 1745.1v2.9M1146.5 1741.0v3.0M1162.5 1754.0v2.0M1188.5 1726.9v1.1M1196.5 1738.3v1.7"/>
<path stroke="#3cbe1e" stroke-width="2" d="M168.5 1873.0v30.4m18-30.4v30.4m2-30.4v30.4m4-30.4v30.4m2-30.4v30.4m4-30.4v30.4m2-30.4v30.4m4-30.4v30.4m14-30.4v30.4m6-30.4v30.4m16-30.4v30.4m2-30.4v30.4m2-30.4v30.4m6-30.4v30.4m4-30.4v30.4m2-30.4v30.4m32-30.4v30.4m2-30.4v30.4m2-30.4v30.4m8-30.4v30.4m4-30.4v30.4m12-30.4v30.4m4-30.4v30.4m8-30.4v30.4m10-30.4v30.4m4-30.4v30.4m2-30.4v30.4m8-30.4v30.4m2-30.4v30.4m2-30.4v30.4m12-30.4v30.4m10-30.4v30.4m16-30.4v30.4m6-30.4v30.4m16-30.4v30.4m4-30.4v30.4m4-30.4v30.4m6-30.4v30.4m6-30.4v30.4m2-30.4v30.4m8-30.4v30.4m2-30.4v30.4m8-30.4v30.4m4-30.4v30.4m2-30.4v30.4m4-30.4v30.4m4-30.4v30.4m2-30.4v30.4m6-30.4v30.4m8-30.4v30.4m2-30.4v30.4m4-30.4v30.4m2-30.4v30.4m6-30.4v30.4m2-30.4v30.4m6-30.4v30.4m4-30.4v30.4m6-30.4v30.4m8-30.4v30.4m4-30.4v30.4m2-30.4v30.4m2-30.4v30.4m2-30.4v30.4m6-30.4v30.4m4-30.4v30.4m6-30.4v30.4m12-30.4v30.4m4-30.4v30.4m4-30.4v30.4m4-30.4v30.4m4-30.4v30.4m6-30.4v30.4m30-30.4v30.4m4-30.4v30.4m12-30.4v30.4m8-30.4v30.4m22-30.4v30.4m2-30.4v30.4m2-30.4v30.4m6-30.4v30.4m6-30.4v30.4m2-30.4v30.4m6-30.4v30.4m2-30.4v30.4m2-30.4v30.4m4-30.4v30.4m2-30.4v30.4m2-30.4v30.4m2-30.4v30.4m2-30.4v30.4m4-30.4v30.4m2-30.4v30.4m2-30.4v30.4m4-30.4v30.4m16-30.4v30.4m2-30.4v30.4m6-30.4v30.4m2-30.4v30.4m8-30.4v30.4m6-30.4v30.4m2-30.4v30.4m8-30.4v30.4m10-30.4v30.4m2-30.4v30.4m10-30.4v30.4m4-30.4v30.4m4-30.4v30.4m20-30.4v30.4m14-30.4v30.4m2-30.4v30.4m10-30.4v30.4m2-30.4v30.4m2-30.4v30.4m8-30.4v30.4m8-30.4v30.4m4-30.4v30.4m6-30.4v30.4m4-30.4v30.4m2-30.4v30.4m4-30.4v30.4m4-30.4v30.4m4-30.4v30.4m10-30.4v30.4m6-30.4v30.4m2-30.4v30.4m22-30.4v30.4m6-30.4v30.4m16-30.4v30.4m8-30.4v30.4m20-30.4v30.4m2-30.4v30.4m8-30.4v30.4m2-30.4v30.4m8-30.4v30.4m18-30.4v30.4m6-30.4v30.4m4-30.4v30.4m4-30.4v30.4m2-30.4v30.4m2-30.4v30.4m4-30.4v30.4m8-30.4v30.4m10-30.4v30.4m4-30.4v30.4m6-30.4v30.4m6-30.4v30.4m2-30.4v30.4m8-30.4v30.4m4-30.4v30.4m16-30.4v30.4m6-30.4v30.4m2-30.4v30.4m4-30.4v30.4m2-30.4v30.4m10-30.4v30.4m12-30.4v30.4m2-30.4v30.4m6-30.4v30.4m2-30.4v30.4m2-30.4v30.4m2-30.4v30.4m2-30.4v30.4m2-30.4v30.4m2-30.4v30.4m14-30.4v30.4m4-30.4v30.4m10-30.4v30.4m8-30.4v30.4M170.5 1852.5v20.5m16-20.5v20.5m14-20.5v20.5m10-20.5v20.5m6-20.5v20.5m62-20.5v20.5m18-20.5v20.5m16-20.5v20.5m4-20.5v20.5m14-20.5v20.5m8-20.5v20.5m68-20.5v20.5m2-20.5v20.5m38-20.5v20.5m14-20.5v20.5m6-20.5v20.5m18-20.5v20.5m418-20.5v20.5m2-20.5v20.5m6-20.5v20.5m4-20.5v20.5m10-20.5v20.5m4-20.5v20.5m8-20.5v20.5m2-20.5v20.5m4-20.5v20.5m2-20.5v20.5m2-20.5v20.5m2-20.5v20.5m6-20.5v20.5m8-20.5v20.5m2-20.5v20.5m24-20.5v20.5m20-20.5v20.5m10-20.5v20.5m6-20.5v20.5m8-20.5v20.5m18-20.5v20.5m2-20.5v20.5m10-20.5v20.5m10-20.5v20.5m2-20.5v20.5m8-20.5v20.5m8-20.5v20.5m2-20.5v20.5m4-20.5v20.5m36-20.5v20.5m24-20.5v20.5m6-20.5v20.5m38-20.5v20.5M898.5 1830.8v4.2m2-4.2v4.2m16-4.2v4.2m12-4.2v4.2m32-4.2v4.2m12-4.2v4.2m48-4.2v4.2m48-4.2v4.2m38-4.2v4.2m6-4.2v4.2m18-4.2v4.2m26-4.2v4.2m10-4.2v4.2m34-4.2v4.2M898.5 1826.5v4.3m24-4.3v4.3m38-4.3v4.3m52-4.3v4.3m8-4.3v4.3m64-4.3v4.3m20-4.3v4.3m8-4.3v4.3m2-4.3v4.3m8-4.3v4.3m2-4.3v4.3m4-4.3v4.3m6-4.3v4.3m58-4.3v4.3M898.5 1813.8v4.2m32-4.2v4.2m4-4.2v4.2m22-4.2v4.2m4-4.2v4.2m10-4.2v4.2m42-4.2v4.2m72-4.2v4.2m20-4.2v4.2m2-4.2v4.2m18-4.2v4.2m4-4.2v4.2m64-4.2v4.2M898.5 1801.0v4.2m30-4.2v4.2m2-4.2v4.2m20-4.2v4.2m8-4.2v4.2m20-4.2v4.2m38-4.2v4.2m68-4.2v4.2m2-4.2v4.2m36-4.2v4.2m76-4.2v4.2M900.5 1788.2v4.3m48-4.3v4.3m22-4.3v4.3m8-4.3v4.3m4-4.3v4.3m2-4.3v4.3m36-4.3v4.3m8-4.3v4.3m6-4.3v4.3m50-4.3v4.3m18-4.3v4.3m96-4.3v4.3M902.5 1835.0v17.5m10-17.5v17.5m8-17.5v17.5m4-17.5v17.5m16-17.5v17.5m4-17.5v17.5m20-17.5v17.5m16-17.5v17.5m8-17.5v17.5m30-17.5v17.5m6-17.5v17.5m2-17.5v17.5m4-17.5v17.5m12-17.5v17.5m6-17.5v17.5m4-17.5v17.5m2-17.5v17.5m2-17.5v17.5m2-17.5v17.5m6-17.5v17.5m2-17.5v17.5m12-17.5v17.5m2-17.5v17.5m20-17.5v17.5m52-17.5v17.5m8-17.5v17.5m12-17.5v17.5m6-17.5v17.5m4-17.5v17.5m2-17.5v17.5m10-17.5v17.5M902.5 1796.8v4.2m32-4.2v4.2m22-4.2v4.2m14-4.2v4.2m50-4.2v4.2m48-4.2v4.2m2-4.2v4.2m14-4.2v4.2m22-4.2v4.2m18-4.2v4.2m6-4.2v4.2m4-4.2v4.2m22-4.2v4.2m10-4.2v4.2m34-4.2v4.2M904.5 1784.0v4.2m4-4.2v4.2m8-4.2v4.2m12-4.2v4.2m44-4.2v4.2m20-4.2v4.2m28-4.2v4.2m64-4.2v4.2m20-4.2v4.2m24-4.2v4.2m24-4.2v4.2m40-4.2v4.2m6-4.2v4.2m2-4.2v4.2M906.5 1780.0v4.0m18-4v4m12-4v4m4-4v4m4-4v4m2-4v4m6-4v4m10-4v4m6-4v4m18-4v4m4-4v4m10-4v4m8-4v4m6-4v4m8-4v4m18-4v4m4-4v4m2-4v4m2-4v4m4-4v4m8-4v4M908.5 1822.2v4.3m8-4.3v4.3m4-4.3v4.3m10-4.3v4.3m18-4.3v4.3m24-4.3v4.3m20-4.3v4.3m36-4.3v4.3m40-4.3v4.3m2-4.3v4.3m36-4.3v4.3m6-4.3v4.3m2-4.3v4.3m10-4.3v4.3m4-4.3v4.3m2-4.3v4.3m62-4.3v4.3m8-4.3v4.3M908.5 1818.0v4.2m40-4.2v4.2m2-4.2v4.2m8-4.2v4.2m20-4.2v4.2m106-4.2v4.2m28-4.2v4.2m12-4.2v4.2m76-4.2v4.2M908.5 1809.5v4.3m20-4.3v4.3m6-4.3v4.3m50-4.3v4.3m42-4.3v4.3m42-4.3v4.3m2-4.3v4.3m32-4.3v4.3m10-4.3v4.3m10-4.3v4.3m6-4.3v4.3m2-4.3v4.3m4-4.3v4.3m58-4.3v4.3m8-4.3v4.3M908.5 1805.2v4.3m14-4.3v4.3m26-4.3v4.3m34-4.3v4.3m34-4.3v4.3m52-4.3v4.3m18-4.3v4.3m20-4.3v4.3m6-4.3v4.3m10-4.3v4.3m12-4.3v4.3m56-4.3v4.3m2-4.3v4.3m6-4.3v4.3M908.5 1792.5v4.3m8-4.3v4.3m12-4.3v4.3m28-4.3v4.3m2-4.3v4.3m58-4.3v4.3m4-4.3v4.3m64-4.3v4.3m28-4.3v4.3m10-4.3v4.3m2-4.3v4.3m8-4.3v4.3m24-4.3v4.3M910.5 1776.0v4.0m4-4v4m12-4v4m26-4v4m16-4v4m8-4v4m14-4v4m24-4v4m8-4v4m14-4v4m8-4v4m10-4v4m2-4v4M910.5 1772.0v4.0m26-4v4m4-4v4m2-4v4m22-4v4m22-4v4m4-4v4m8-4v4m4-4v4m44-4v4m10-4v4m8-4v4M944.5 1768.0v4.0m8-4v4m12-4v4m12-4v4m12-4v4m2-4v4m16-4v4m8-4v4m4-4v4m6-4v4m12-4v4m14-4v4m10-4v4m2-4v4m4-4v4"/>
<path stroke="#379225" stroke-width="2" d="M168.5 1852.5v20.5m12-20.5v20.5m4-20.5v20.5m14-20.5v20.5m14-20.5v20.5m12-20.5v20.5m24-20.5v20.5m14-20.5v20.5m4-20.5v20.5m2-20.5v20.5m2-20.5v20.5m4-20.5v20.5m30-20.5v20.5m14-20.5v20.5m6-20.5v20.5m4-20.5v20.5m34-20.5v20.5m4-20.5v20.5m14-20.5v20.5m2-20.5v20.5m2-20.5v20.5m30-20.5v20.5m2-20.5v20.5m4-20.5v20.5m6-20.5v20.5m4-20.5v20.5m2-20.5v20.5m12-20.5v20.5m18-20.5v20.5m14-20.5v20.5m12-20.5v20.5m6-20.5v20.5m10-20.5v20.5m8-20.5v20.5m10-20.5v20.5m16-20.5v20.5m32-20.5v20.5m8-20.5v20.5m8-20.5v20.5m8-20.5v20.5m2-20.5v20.5m2-20.5v20.5m2-20.5v20.5m20-20.5v20.5m20-20.5v20.5m14-20.5v20.5m2-20.5v20.5m10-20.5v20.5m20-20.5v20.5m6-20.5v20.5m14-20.5v20.5m18-20.5v20.5m2-20.5v20.5m4-20.5v20.5m6-20.5v20.5m14-20.5v20.5m2-20.5v20.5m4-20.5v20.5m2-20.5v20.5m2-20.5v20.5m10-20.5v20.5m6-20.5v20.5m6-20.5v20.5m4-20.5v20.5m2-20.5v20.5m4-20.5v20.5m30-20.5v20.5m38-20.5v20.5m26-20.5v20.5m2-20.5v20.5m2-20.5v20.5m6-20.5v20.5m2-20.5v20.5m18-20.5v20.5m34-20.5v20.5m10-20.5v20.5m10-20.5v20.5m2-20.5v20.5m54-20.5v20.5m8-20.5v20.5m34-20.5v20.5m12-20.5v20.5m6-20.5v20.5m8-20.5v20.5m4-20.5v20.5m10-20.5v20.5m4-20.5v20.5m2-20.5v20.5m12-20.5v20.5m10-20.5v20.5m2-20.5v20.5m12-20.5v20.5m10-20.5v20.5m8-20.5v20.5m2-20.5v20.5m2-20.5v20.5m6-20.5v20.5m2-20.5v20.5m2-20.5v20.5m4-20.5v20.5m8-20.5v20.5m2-20.5v20.5M898.5 1780.0v4.0m2-4v4m8-4v4m12-4v4m28-4v4m12-4v4m10-4v4m8-4v4m34-4v4m8-4v4m6-4v4m8-4v4m42-4v4m10-4v4m12-4v4m4-4v4m4-4v4m4-4v4m4-4v4m4-4v4m4-4v4m4-4v4m2-4v4m2-4v4m2-4v4m2-4v4m16-4v4m16-4v4m18-4v4m6-4v4m2-4v4m8-4v4M900.5 1835.0v17.5m16-17.5v17.5m40-17.5v17.5m4-17.5v17.5m32-17.5v17.5m24-17.5v17.5m58-17.5v17.5m22-17.5v17.5m8-17.5v17.5m2-17.5v17.5m2-17.5v17.5m32-17.5v17.5m18-17.5v17.5m6-17.5v17.5m4-17.5v17.5m30-17.5v17.5M902.5 1772.0v4.0m6-4v4m22-4v4m40-4v4m12-4v4m10-4v4m4-4v4m74-4v4m10-4v4m22-4v4m10-4v4m2-4v4m2-4v4m4-4v4m2-4v4m4-4v4m4-4v4m2-4v4m10-4v4m4-4v4m4-4v4m40-4v4m2-4v4M914.5 1788.2v4.3m162-4.3v4.3m14-4.3v4.3m6-4.3v4.3m4-4.3v4.3m10-4.3v4.3m4-4.3v4.3m4-4.3v4.3m18-4.3v4.3m6-4.3v4.3m18-4.3v4.3m10-4.3v4.3M916.5 1768.0v4.0m4-4v4m2-4v4m8-4v4m4-4v4m14-4v4m8-4v4m16-4v4m6-4v4m4-4v4m30-4v4m4-4v4m18-4v4m14-4v4m22-4v4m16-4v4m28-4v4m4-4v4m6-4v4m4-4v4m2-4v4m12-4v4m4-4v4m10-4v4m30-4v4m4-4v4m2-4v4m6-4v4M924.5 1805.2v4.3m30-4.3v4.3m118-4.3v4.3m2-4.3v4.3m22-4.3v4.3m2-4.3v4.3m22-4.3v4.3m24-4.3v4.3m14-4.3v4.3m12-4.3v4.3M926.5 1818.0v4.2m146-4.2v4.2m2-4.2v4.2m2-4.2v4.2m14-4.2v4.2m4-4.2v4.2m4-4.2v4.2m64-4.2v4.2m8-4.2v4.2m4-4.2v4.2m6-4.2v4.2m4-4.2v4.2m12-4.2v4.2M930.5 1776.0v4.0m4-4v4m16-4v4m6-4v4m2-4v4m2-4v4m24-4v4m8-4v4m2-4v4m18-4v4m4-4v4m4-4v4m6-4v4m4-4v4m4-4v4m8-4v4m34-4v4m30-4v4m6-4v4m2-4v4m4-4v4m6-4v4m22-4v4m4-4v4m10-4v4m8-4v4m22-4v4m2-4v4M938.5 1826.5v4.3m150-4.3v4.3m28-4.3v4.3m24-4.3v4.3m8-4.3v4.3m10-4.3v4.3m26-4.3v4.3m4-4.3v4.3m6-4.3v4.3M944.5 1830.8v4.2m138-4.2v4.2m6-4.2v4.2m30-4.2v4.2m24-4.2v4.2m4-4.2v4.2m8-4.2v4.2m4-4.2v4.2m4-4.2v4.2m12-4.2v4.2m4-4.2v4.2m2-4.2v4.2m6-4.2v4.2M952.5 1796.8v4.2m122-4.2v4.2m8-4.2v4.2m8-4.2v4.2m2-4.2v4.2m2-4.2v4.2m4-4.2v4.2m10-4.2v4.2m32-4.2v4.2m2-4.2v4.2m2-4.2v4.2m4-4.2v4.2m14-4.2v4.2m2-4.2v4.2m16-4.2v4.2m2-4.2v4.2M964.5 1784.0v4.2m54-4.2v4.2m76-4.2v4.2m4-4.2v4.2m2-4.2v4.2m38-4.2v4.2m4-4.2v4.2m2-4.2v4.2m14-4.2v4.2m2-4.2v4.2m18-4.2v4.2m2-4.2v4.2m2-4.2v4.2m2-4.2v4.2m2-4.2v4.2m8-4.2v4.2m2-4.2v4.2M1052.5 1801.0v4.2m20-4.2v4.2m20-4.2v4.2m4-4.2v4.2m2-4.2v4.2m10-4.2v4.2m12-4.2v4.2m6-4.2v4.2m10-4.2v4.2m8-4.2v4.2m10-4.2v4.2m6-4.2v4.2m2-4.2v4.2m14-4.2v4.2m2-4.2v4.2m4-4.2v4.2m6-4.2v4.2m8-4.2v4.2M1072.5 1813.8v4.2m2-4.2v4.2m2-4.2v4.2m2-4.2v4.2m20-4.2v4.2m20-4.2v4.2m8-4.2v4.2m14-4.2v4.2m4-4.2v4.2m12-4.2v4.2m4-4.2v4.2m16-4.2v4.2m2-4.2v4.2m2-4.2v4.2m6-4.2v4.2m10-4.2v4.2M1074.5 1822.2v4.3m2-4.3v4.3m4-4.3v4.3m8-4.3v4.3m2-4.3v4.3m2-4.3v4.3m2-4.3v4.3m2-4.3v4.3m2-4.3v4.3m2-4.3v4.3m10-4.3v4.3m16-4.3v4.3m10-4.3v4.3m52-4.3v4.3M1082.5 1792.5v4.3m6-4.3v4.3m52-4.3v4.3m18-4.3v4.3m2-4.3v4.3m24-4.3v4.3M1090.5 1809.5v4.3m2-4.3v4.3m18-4.3v4.3m4-4.3v4.3m2-4.3v4.3m4-4.3v4.3m20-4.3v4.3m2-4.3v4.3m8-4.3v4.3m4-4.3v4.3m14-4.3v4.3m4-4.3v4.3m2-4.3v4.3m2-4.3v4.3m4-4.3v4.3m6-4.3v4.3m8-4.3v4.3"/>
<path stroke="#4e863f" stroke-width="2" d="M168.5 1835.0v17.5m6-17.5v17.5m16-17.5v17.5m16-17.5v17.5m2-17.5v17.5m4-17.5v17.5m28-17.5v17.5m4-17.5v17.5m4-17.5v17.5m6-17.5v17.5m4-17.5v17.5m4-17.5v17.5m2-17.5v17.5m2-17.5v17.5m8-17.5v17.5m2-17.5v17.5m6-17.5v17.5m2-17.5v17.5m14-17.5v17.5m6-17.5v17.5m12-17.5v17.5m4-17.5v17.5m8-17.5v17.5m12-17.5v17.5m10-17.5v17.5m4-17.5v17.5m26-17.5v17.5m10-17.5v17.5m8-17.5v17.5m8-17.5v17.5m2-17.5v17.5m12-17.5v17.5m18-17.5v17.5m4-17.5v17.5m32-17.5v17.5m12-17.5v17.5m6-17.5v17.5m2-17.5v17.5M908.5 1813.8v4.2M926.5 1764.0v4.0m10-4v4m2-4v4m36-4v4m2-4v4m14-4v4m12-4v4m42-4v4m2-4v4m68-4v4m12-4v4m6-4v4m10-4v4m14-4v4m10-4v4m26-4v4M926.5 1760.0v4.0m10-4v4m2-4v4m30-4v4m30-4v4m42-4v4m46-4v4m16-4v4m98-4v4M934.5 1818.0v4.2m36-4.2v4.2m22-4.2v4.2M938.5 1756.0v4.0m30-4v4m18-4v4m12-4v4m2-4v4m44-4v4m42-4v4m106-4v4m6-4v4M948.5 1796.8v4.2m10-4.2v4.2M950.5 1830.8v4.2M950.5 1788.2v4.3m174-4.3v4.3M970.5 1805.2v4.3m114-4.3v4.3M978.5 1822.2v4.3M978.5 1792.5v4.3m80-4.3v4.3m108-4.3v4.3M986.5 1752.0v4.0m52-4v4m24-4v4m22-4v4m114-4v4M998.5 1748.0v4.0M1028.5 1784.0v4.2m58-4.2v4.2M1072.5 1776.0v4.0m36-4v4m28-4v4m4-4v4m8-4v4M1078.5 1772.0v4.0m12-4v4m2-4v4m4-4v4m78-4v4m2-4v4M1078.5 1768.0v4.0m18-4v4m4-4v4m36-4v4m12-4v4m26-4v4M1084.5 1744.0v4.0M1092.5 1780.0v4.0m4-4v4m4-4v4m44-4v4m10-4v4m4-4v4m22-4v4m2-4v4m6-4v4m8-4v4M1102.5 1801.0v4.2m2-4.2v4.2M1104.5 1809.5v4.3M342.0 1787.4v18.4M346.0 1783.0v16.0M352.0 1796.3v14.7M354.0 1790.5v17.0M354.0 1785.8v14.7M356.0 1803.0v8.0M366.0 1782.2v9.1M368.0 1792.8v9.5M370.0 1781.6v19.2M370.0 1786.9v13.0M372.0 1782.9v10.9M372.0 1789.6v10.7M372.0 1791.5v14.2M442.0 1784.7v9.4M452.0 1798.0v8.5M476.0 1791.2v8.0M478.0 1804.7v10.3M478.0 1800.6v6.4M480.0 1803.3v11.7M482.0 1783.7v10.0M482.0 1805.5v9.5M484.0 1805.1v8.8M486.0 1779.6v10.1M486.0 1795.6v7.2M490.0 1788.6v7.2M492.0 1803.9v11.0M496.0 1786.8v14.3M500.0 1798.8v15.7M502.0 1798.4v9.0M504.0 1804.3v10.7M508.0 1778.9v6.1M516.0 1801.6v11.6M518.0 1797.5v6.3M518.0 1797.9v6.4M524.0 1792.2v10.9M524.0 1789.9v17.8M526.0 1794.9v10.3M528.0 1779.9v7.3M534.0 1784.2v8.4M544.0 1802.2v12.8M546.0 1789.2v12.2M550.0 1800.4v8.7M596.0 1782.5v17.2M604.0 1784.0v15.8M604.0 1783.8v14.8M612.0 1794.8v13.2M614.0 1791.4v10.9M616.0 1796.9v7.0M616.0 1782.8v18.2M618.0 1787.6v10.3M620.0 1792.4v6.2M622.0 1795.1v11.8M622.0 1798.3v9.7M622.0 1785.7v6.6M632.0 1788.3v18.5M636.0 1799.8v8.2M645.0 1800.9v7.6M653.0 1785.5v12.4M679.0 1791.9v10.7M681.0 1814.4v7.0M685.0 1784.2v17.7M689.0 1813.5v9.5M701.0 1795.7v10.3M715.0 1812.5v10.5M725.0 1790.2v13.6"/>
<path stroke="#a0c291" stroke-width="2" d="M168.5 1822.0v13.0m2-13v13m10-13v13m10-13v13m8-13v13m4-13v13m6-13v13m10-13v13m20-13v13m10-13v13m12-13v13m6-13v13m12-13v13m14-13v13m4-13v13m4-13v13m2-13v13m4-13v13m22-13v13m6-13v13m8-13v13m2-13v13m6-13v13m2-13v13m10-13v13m2-13v13m2-13v13m6-13v13m2-13v13m8-13v13m4-13v13m8-13v13m12-13v13m10-13v13m4-13v13m10-13v13m34-13v13m2-13v13m12-13v13m12-13v13m4-13v13m4-13v13m8-13v13m26-13v13m8-13v13m12-13v13m4-13v13m14-13v13m6-13v13m4-13v13m14-13v13m6-13v13m20-13v13m30-13v13m30-13v13m10-13v13m2-13v13m2-13v13m18-13v13m2-13v13m2-13v13m14-13v13m32-13v13m2-13v13m30-13v13m2-13v13m2-13v13m2-13v13m10-13v13m24-13v13m2-13v13m6-13v13m44-13v13m10-13v13M382.5 1779.3v5.7M422.5 1786.3v6.2M438.5 1781.8v5.8M472.5 1802.5v5.8M492.5 1780.2v18.0M502.5 1835.0v17.5m10-17.5v17.5m22-17.5v17.5m18-17.5v17.5m10-17.5v17.5m12-17.5v17.5m18-17.5v17.5m2-17.5v17.5m24-17.5v17.5m10-17.5v17.5m2-17.5v17.5m8-17.5v17.5m2-17.5v17.5m8-17.5v17.5m18-17.5v17.5m6-17.5v17.5m8-17.5v17.5m10-17.5v17.5m24-17.5v17.5m4-17.5v17.5m4-17.5v17.5m6-17.5v17.5m6-17.5v17.5m24-17.5v17.5m4-17.5v17.5m2-17.5v17.5m4-17.5v17.5m6-17.5v17.5m6-17.5v17.5m2-17.5v17.5m6-17.5v17.5m4-17.5v17.5m2-17.5v17.5m6-17.5v17.5m4-17.5v17.5m14-17.5v17.5m4-17.5v17.5m8-17.5v17.5m10-17.5v17.5m22-17.5v17.5m6-17.5v17.5m2-17.5v17.5m4-17.5v17.5m12-17.5v17.5m2-17.5v17.5m8-17.5v17.5M608.5 1794.1v15.7M628.5 1778.3v14.2M692.5 1796.4v15.6M706.5 1803.0v9.0M802.5 1790.1v14.7M810.5 1806.2v15.8M830.5 1802.5v19.5M832.5 1793.5v10.2M860.5 1776.5v14.2M862.5 1797.4v24.6M892.5 1780.4v41.6M894.5 1770.4v51.6M934.5 1760.0v4.0m44-4v4m14-4v4m24-4v4m122-4v4m2-4v4m30-4v4m4-4v4m22-4v4M934.5 1754.1v1.9M936.5 1750.2v1.8M938.5 1741.9v2.1M944.5 1745.5v2.5M946.5 1740.9v3.1M948.5 1756.0v4.0m68-4v4m124-4v4M950.5 1764.0v4.0m20-4v4M950.5 1748.0v4.0m28-4v4m56-4v4m34-4v4m32-4v4m8-4v4m62-4v4m18-4v4M950.5 1744.0v4.0m20-4v4m2-4v4m12-4v4m32-4v4m12-4v4m6-4v4m64-4v4m2-4v4m8-4v4m40-4v4m32-4v4m8-4v4m8-4v4M950.5 1741.2v2.8M958.5 1752.0v4.0m132-4v4m58-4v4m48-4v4M958.5 1740.0v4.0m24-4v4m6-4v4m4-4v4m24-4v4m40-4v4m12-4v4m80-4v4m48-4v4m4-4v4M966.5 1737.5v2.5M982.5 1725.8v2.2M988.5 1737.1v2.9M990.5 1724.0v4.0m2-4v4m6-4v4m28-4v4m14-4v4m2-4v4M992.5 1720.0v4.0m26-4v4m8-4v4m28-4v4M992.5 1719.3v0.7M994.5 1739.0v1.0M998.5 1723.0v1.0M1000.5 1722.2v1.8M1006.5 1733.3v2.7M1010.5 1715.3v0.7M1012.5 1736.0v4.0m16-4v4m40-4v4m12-4v4m96-4v4M1012.5 1732.0v4.0m4-4v4m4-4v4m8-4v4m6-4v4m38-4v4m100-4v4M1016.5 1728.0v4.0m16-4v4M1024.5 1714.5v1.5M1026.5 1716.0v4.0M1026.5 1712.1v3.9M1030.5 1729.3v2.7M1032.5 1726.2v1.8M1042.5 1720.1v3.9M1052.5 1715.7v0.3M1058.5 1721.9v2.1M1062.5 1727.5v0.5M1070.5 1726.0v2.0M1076.5 1737.3v2.7M1080.5 1733.6v2.4M1108.5 1738.2v1.8m86-1.8v1.8M1140.5 1754.0v2.0M1148.5 1739.5v0.5M1160.5 1740.5v3.5M1172.5 1731.2v0.8M1174.5 1736.9v3.1M1192.5 1724.7v3.3M233.0 1791.3v13.5M235.0 1791.0v14.0M237.0 1789.7v15.3M247.0 1790.5v12.3M247.0 1788.4v6.1M251.0 1785.2v16.3M257.0 1788.8v13.8M407.0 1799.3v10.1M407.0 1801.3v8.7M409.0 1792.1v6.4M419.0 1801.0v8.8M701.0 1807.8v13.4M701.0 1806.3v8.3M705.0 1806.9v16.1M707.0 1814.7v8.3M707.0 1804.7v18.3M715.0 1813.0v10.0M719.0 1802.9v10.1M719.0 1808.3v14.7M721.0 1812.4v10.6M723.0 1804.6v14.3M729.0 1812.0v11.0M729.0 1804.6v10.8M731.0 1798.7v6.8M743.0 1804.0v12.7M745.0 1798.7v7.2M747.0 1800.4v8.3M755.0 1804.7v15.5M757.0 1814.2v8.8M757.0 1813.1v9.9M761.0 1800.5v16.9M761.0 1812.9v8.3M765.0 1810.9v12.1M769.0 1809.9v7.0M771.0 1801.3v9.9M771.0 1795.2v6.9M773.0 1798.2v12.0M775.0 1801.0v12.0M775.0 1798.8v11.1M779.0 1799.1v14.6M779.0 1797.7v14.1M779.0 1804.4v16.3M787.0 1796.5v18.0M789.0 1799.1v14.8"/>
<path stroke="#6d9c5e" stroke-width="2" d="M170.5 1835.0v17.5m6-17.5v17.5m8-17.5v17.5m2-17.5v17.5m16-17.5v17.5m2-17.5v17.5m10-17.5v17.5m6-17.5v17.5m16-17.5v17.5m14-17.5v17.5m6-17.5v17.5m12-17.5v17.5m2-17.5v17.5m2-17.5v17.5m14-17.5v17.5m26-17.5v17.5m2-17.5v17.5m4-17.5v17.5m38-17.5v17.5m12-17.5v17.5m4-17.5v17.5m2-17.5v17.5m2-17.5v17.5m10-17.5v17.5m24-17.5v17.5m18-17.5v17.5m2-17.5v17.5m4-17.5v17.5m2-17.5v17.5m4-17.5v17.5m6-17.5v17.5m16-17.5v17.5m8-17.5v17.5m10-17.5v17.5m2-17.5v17.5m16-17.5v17.5m20-17.5v17.5m14-17.5v17.5m4-17.5v17.5m8-17.5v17.5m22-17.5v17.5m2-17.5v17.5m4-17.5v17.5m4-17.5v17.5m2-17.5v17.5m18-17.5v17.5m14-17.5v17.5m2-17.5v17.5m4-17.5v17.5m4-17.5v17.5m16-17.5v17.5m10-17.5v17.5m6-17.5v17.5m10-17.5v17.5m12-17.5v17.5m2-17.5v17.5m6-17.5v17.5m10-17.5v17.5m2-17.5v17.5m30-17.5v17.5m2-17.5v17.5m4-17.5v17.5m16-17.5v17.5m20-17.5v17.5m6-17.5v17.5m14-17.5v17.5m10-17.5v17.5m6-17.5v17.5m8-17.5v17.5m16-17.5v17.5m18-17.5v17.5m6-17.5v17.5m6-17.5v17.5m4-17.5v17.5m12-17.5v17.5m22-17.5v17.5M824.5 1809.7v12.3M872.5 1767.9v54.1M878.5 1795.0v27.0M906.5 1756.0v4.0m30-4v4m16-4v4m2-4v4m12-4v4m14-4v4m4-4v4m4-4v4m14-4v4m4-4v4m4-4v4m4-4v4m4-4v4m4-4v4m34-4v4m4-4v4m16-4v4m4-4v4m18-4v4m20-4v4m14-4v4m18-4v4m26-4v4M940.5 1760.0v4.0m4-4v4m8-4v4m2-4v4m26-4v4m8-4v4m18-4v4m18-4v4m6-4v4m20-4v4m4-4v4m4-4v4m2-4v4m14-4v4m24-4v4m16-4v4m4-4v4m8-4v4m6-4v4m10-4v4m8-4v4m10-4v4m12-4v4M944.5 1764.0v4.0m2-4v4m36-4v4m12-4v4m24-4v4m4-4v4m26-4v4m2-4v4m2-4v4m6-4v4m14-4v4m4-4v4m4-4v4m92-4v4M968.5 1752.0v4.0m22-4v4m16-4v4m4-4v4m4-4v4m8-4v4m2-4v4m8-4v4m12-4v4m10-4v4m20-4v4m24-4v4m4-4v4m44-4v4m10-4v4m36-4v4m8-4v4M974.5 1748.0v4.0m2-4v4m14-4v4m10-4v4m2-4v4m16-4v4m26-4v4m18-4v4m40-4v4m90-4v4m2-4v4m4-4v4M974.5 1740.0v4.0m12-4v4m14-4v4m18-4v4m18-4v4m2-4v4M986.5 1744.0v4.0m4-4v4m8-4v4m2-4v4m2-4v4m8-4v4m4-4v4m4-4v4m28-4v4m2-4v4m4-4v4m10-4v4m130-4v4M986.5 1736.0v4.0m14-4v4m4-4v4m6-4v4m8-4v4m18-4v4m2-4v4m2-4v4m6-4v4m8-4v4m138-4v4M1036.5 1732.0v4.0m2-4v4M1038.5 1728.0v4.0M1076.5 1792.5v4.3m14-4.3v4.3m64-4.3v4.3M1078.5 1822.2v4.3m82-4.3v4.3M1088.5 1788.2v4.3m68-4.3v4.3M1088.5 1784.0v4.2m4-4.2v4.2m78-4.2v4.2M1092.5 1813.8v4.2m4-4.2v4.2m4-4.2v4.2m42-4.2v4.2m4-4.2v4.2m4-4.2v4.2m38-4.2v4.2M1096.5 1830.8v4.2M1118.5 1805.2v4.3m46-4.3v4.3M1178.5 1796.8v4.2m6-4.2v4.2m4-4.2v4.2M1188.5 1818.0v4.2M1194.5 1801.0v4.2M166.0 1784.2v15.0M188.0 1783.7v13.5M192.0 1790.5v9.5M364.0 1798.1v12.9M366.0 1797.1v13.9M376.0 1789.8v8.8M378.0 1782.2v7.1M436.0 1794.2v14.5M452.0 1787.5v16.2M454.0 1796.9v15.1M454.0 1801.6v9.9M458.0 1793.5v13.5M458.0 1794.9v17.1M460.0 1793.6v8.8M466.0 1792.4v13.5M468.0 1803.7v8.3M474.0 1801.2v8.0M482.0 1785.7v6.0M488.0 1792.5v10.8M498.0 1787.0v7.4M500.0 1797.0v13.4M506.0 1784.2v11.6M526.0 1802.3v12.7M536.0 1795.7v11.8M538.0 1788.9v19.8M563.0 1786.0v16.0M567.0 1796.6v12.5M569.0 1787.0v6.7M575.0 1798.0v13.9M577.0 1806.7v6.5M579.0 1792.3v9.2M583.0 1790.0v18.4M589.0 1787.5v16.3M592.0 1788.6v15.4M592.0 1792.2v7.9M596.0 1791.5v8.4M598.0 1793.7v9.5M600.0 1785.1v9.0M600.0 1782.5v12.6M602.0 1784.2v13.5M616.0 1783.9v11.7M618.0 1786.5v16.5M632.0 1789.1v17.5M632.0 1789.2v13.9M638.0 1795.6v12.4M643.0 1796.9v7.0M645.0 1792.0v10.1M649.0 1793.8v15.4M659.0 1787.2v17.0M667.0 1798.8v13.2M667.0 1802.3v9.7M667.0 1784.5v19.6M669.0 1789.0v16.1M673.0 1801.5v8.7M677.0 1793.2v8.6M679.0 1796.1v15.9M681.0 1784.2v9.9M689.0 1793.6v7.8M689.0 1786.8v6.1M691.0 1804.0v8.0M693.0 1788.6v13.1M693.0 1789.7v17.3M699.0 1789.6v7.4M685.0 1810.9v12.1M689.0 1809.5v13.5M703.0 1806.4v16.6M707.0 1788.5v16.7M715.0 1813.1v9.8M721.0 1805.0v15.2M725.0 1803.7v13.9"/>
<path stroke="#a9cb1e" stroke-width="2" d="M174.5 1852.5v20.5m4-20.5v20.5m10-20.5v20.5m18-20.5v20.5m30-20.5v20.5m8-20.5v20.5m2-20.5v20.5m38-20.5v20.5m18-20.5v20.5m8-20.5v20.5m12-20.5v20.5m22-20.5v20.5m80-20.5v20.5m16-20.5v20.5m8-20.5v20.5m22-20.5v20.5m8-20.5v20.5m4-20.5v20.5m436-20.5v20.5m14-20.5v20.5m36-20.5v20.5m30-20.5v20.5m2-20.5v20.5m40-20.5v20.5m70-20.5v20.5m14-20.5v20.5m4-20.5v20.5m16-20.5v20.5m10-20.5v20.5m12-20.5v20.5m18-20.5v20.5m6-20.5v20.5M178.5 1873.0v30.4m32-30.4v30.4m22-30.4v30.4m40-30.4v30.4m6-30.4v30.4m40-30.4v30.4m32-30.4v30.4m20-30.4v30.4m12-30.4v30.4m4-30.4v30.4m46-30.4v30.4m18-30.4v30.4m2-30.4v30.4m12-30.4v30.4m10-30.4v30.4m48-30.4v30.4m18-30.4v30.4m4-30.4v30.4m26-30.4v30.4m12-30.4v30.4m24-30.4v30.4m12-30.4v30.4m4-30.4v30.4m162-30.4v30.4m12-30.4v30.4m4-30.4v30.4m36-30.4v30.4m18-30.4v30.4m2-30.4v30.4m22-30.4v30.4m44-30.4v30.4m4-30.4v30.4m34-30.4v30.4m22-30.4v30.4m26-30.4v30.4m4-30.4v30.4m12-30.4v30.4m38-30.4v30.4m2-30.4v30.4m16-30.4v30.4m18-30.4v30.4m6-30.4v30.4M902.5 1813.8v4.2m20-4.2v4.2m6-4.2v4.2m44-4.2v4.2m6-4.2v4.2m16-4.2v4.2m16-4.2v4.2m16-4.2v4.2m16-4.2v4.2m14-4.2v4.2m14-4.2v4.2M904.5 1830.8v4.2m16-4.2v4.2m4-4.2v4.2m70-4.2v4.2m12-4.2v4.2m6-4.2v4.2m14-4.2v4.2m26-4.2v4.2m18-4.2v4.2M906.5 1835.0v17.5m26-17.5v17.5m4-17.5v17.5m10-17.5v17.5m8-17.5v17.5m36-17.5v17.5m14-17.5v17.5m36-17.5v17.5m22-17.5v17.5M912.5 1826.5v4.3m12-4.3v4.3m34-4.3v4.3m6-4.3v4.3m8-4.3v4.3m12-4.3v4.3m10-4.3v4.3m16-4.3v4.3m22-4.3v4.3m2-4.3v4.3m8-4.3v4.3m6-4.3v4.3m6-4.3v4.3m2-4.3v4.3M912.5 1809.5v4.3m96-4.3v4.3m4-4.3v4.3m16-4.3v4.3m38-4.3v4.3M912.5 1805.2v4.3m32-4.3v4.3m48-4.3v4.3m2-4.3v4.3m2-4.3v4.3m12-4.3v4.3m44-4.3v4.3m14-4.3v4.3M912.5 1792.5v4.3m8-4.3v4.3m14-4.3v4.3m6-4.3v4.3m8-4.3v4.3m58-4.3v4.3m2-4.3v4.3m10-4.3v4.3m6-4.3v4.3m32-4.3v4.3m10-4.3v4.3M918.5 1768.0v4.0m50-4v4m18-4v4m52-4v4M920.5 1801.0v4.2m4-4.2v4.2m10-4.2v4.2m6-4.2v4.2m4-4.2v4.2m4-4.2v4.2m40-4.2v4.2m32-4.2v4.2m4-4.2v4.2m26-4.2v4.2M920.5 1788.2v4.3m2-4.3v4.3m12-4.3v4.3m6-4.3v4.3m48-4.3v4.3m30-4.3v4.3m6-4.3v4.3m2-4.3v4.3m16-4.3v4.3m8-4.3v4.3m8-4.3v4.3M920.5 1784.0v4.2m2-4.2v4.2m72-4.2v4.2m32-4.2v4.2m22-4.2v4.2m2-4.2v4.2m8-4.2v4.2m2-4.2v4.2m4-4.2v4.2m6-4.2v4.2M922.5 1822.2v4.3m2-4.3v4.3m22-4.3v4.3m10-4.3v4.3m10-4.3v4.3m14-4.3v4.3m32-4.3v4.3m12-4.3v4.3m26-4.3v4.3m8-4.3v4.3m2-4.3v4.3M926.5 1772.0v4.0m110-4v4m2-4v4M932.5 1780.0v4.0m66-4v4m38-4v4M944.5 1818.0v4.2m28-4.2v4.2m38-4.2v4.2m2-4.2v4.2m16-4.2v4.2m32-4.2v4.2m4-4.2v4.2m6-4.2v4.2M946.5 1796.8v4.2m36-4.2v4.2m10-4.2v4.2m36-4.2v4.2m4-4.2v4.2m18-4.2v4.2m8-4.2v4.2M998.5 1776.0v4.0m42-4v4M506.0 1792.0v8.0"/>
<path stroke="#38822a" stroke-width="2" d="M182.5 1852.5v20.5m12-20.5v20.5m24-20.5v20.5m12-20.5v20.5m8-20.5v20.5m34-20.5v20.5m4-20.5v20.5m4-20.5v20.5m10-20.5v20.5m2-20.5v20.5m2-20.5v20.5m20-20.5v20.5m20-20.5v20.5m2-20.5v20.5m6-20.5v20.5m4-20.5v20.5m2-20.5v20.5m2-20.5v20.5m2-20.5v20.5m2-20.5v20.5m4-20.5v20.5m16-20.5v20.5m12-20.5v20.5m26-20.5v20.5m6-20.5v20.5m4-20.5v20.5m16-20.5v20.5m34-20.5v20.5m8-20.5v20.5m10-20.5v20.5m12-20.5v20.5m4-20.5v20.5m2-20.5v20.5m2-20.5v20.5m4-20.5v20.5m2-20.5v20.5m4-20.5v20.5m10-20.5v20.5m2-20.5v20.5m4-20.5v20.5m4-20.5v20.5m2-20.5v20.5m2-20.5v20.5m2-20.5v20.5m4-20.5v20.5m4-20.5v20.5m4-20.5v20.5m4-20.5v20.5m2-20.5v20.5m2-20.5v20.5m8-20.5v20.5m2-20.5v20.5m6-20.5v20.5m8-20.5v20.5m2-20.5v20.5m12-20.5v20.5m8-20.5v20.5m2-20.5v20.5m4-20.5v20.5m4-20.5v20.5m4-20.5v20.5m2-20.5v20.5m6-20.5v20.5m2-20.5v20.5m6-20.5v20.5m4-20.5v20.5m2-20.5v20.5m10-20.5v20.5m6-20.5v20.5m4-20.5v20.5m2-20.5v20.5m4-20.5v20.5m4-20.5v20.5m2-20.5v20.5m8-20.5v20.5m2-20.5v20.5m6-20.5v20.5m4-20.5v20.5m2-20.5v20.5m6-20.5v20.5m2-20.5v20.5m2-20.5v20.5m4-20.5v20.5m24-20.5v20.5m6-20.5v20.5m2-20.5v20.5m6-20.5v20.5m10-20.5v20.5m2-20.5v20.5m6-20.5v20.5m2-20.5v20.5m4-20.5v20.5m6-20.5v20.5m6-20.5v20.5m4-20.5v20.5m4-20.5v20.5m4-20.5v20.5m2-20.5v20.5m4-20.5v20.5m4-20.5v20.5m6-20.5v20.5m12-20.5v20.5m10-20.5v20.5m6-20.5v20.5m2-20.5v20.5m2-20.5v20.5m2-20.5v20.5m10-20.5v20.5m6-20.5v20.5m2-20.5v20.5m2-20.5v20.5m2-20.5v20.5m10-20.5v20.5m16-20.5v20.5m30-20.5v20.5m146-20.5v20.5m30-20.5v20.5m68-20.5v20.5M898.5 1776.0v4.0m80-4v4m90-4v4m14-4v4m8-4v4m2-4v4m2-4v4m6-4v4m10-4v4m10-4v4m22-4v4m2-4v4m10-4v4m4-4v4m6-4v4m10-4v4m6-4v4m4-4v4m4-4v4m6-4v4M898.5 1772.0v4.0m2-4v4m16-4v4m34-4v4m6-4v4m56-4v4m4-4v4m18-4v4m38-4v4m2-4v4m8-4v4m6-4v4m20-4v4m10-4v4m34-4v4m2-4v4m2-4v4m12-4v4m4-4v4m10-4v4m2-4v4m2-4v4m8-4v4m2-4v4M898.5 1768.0v4.0m52-4v4m8-4v4m12-4v4m98-4v4m4-4v4m4-4v4m12-4v4m4-4v4m2-4v4m12-4v4m2-4v4m2-4v4m6-4v4m4-4v4m12-4v4m2-4v4m16-4v4m2-4v4m8-4v4m2-4v4m2-4v4m4-4v4m4-4v4m6-4v4m6-4v4M904.5 1822.2v4.3m40-4.3v4.3m8-4.3v4.3m90-4.3v4.3m30-4.3v4.3m36-4.3v4.3m8-4.3v4.3m22-4.3v4.3m2-4.3v4.3m4-4.3v4.3m10-4.3v4.3m4-4.3v4.3m6-4.3v4.3m10-4.3v4.3m2-4.3v4.3m2-4.3v4.3m4-4.3v4.3M904.5 1818.0v4.2m188-4.2v4.2m4-4.2v4.2m4-4.2v4.2m16-4.2v4.2m20-4.2v4.2m8-4.2v4.2m10-4.2v4.2m4-4.2v4.2m2-4.2v4.2m12-4.2v4.2m4-4.2v4.2m2-4.2v4.2m4-4.2v4.2M904.5 1796.8v4.2m168-4.2v4.2m6-4.2v4.2m10-4.2v4.2m8-4.2v4.2m40-4.2v4.2m18-4.2v4.2m4-4.2v4.2m2-4.2v4.2m14-4.2v4.2M904.5 1788.2v4.3m170-4.3v4.3m4-4.3v4.3m16-4.3v4.3m14-4.3v4.3m8-4.3v4.3m28-4.3v4.3m10-4.3v4.3m4-4.3v4.3m6-4.3v4.3m8-4.3v4.3m4-4.3v4.3m2-4.3v4.3m2-4.3v4.3m2-4.3v4.3M930.5 1780.0v4.0m26-4v4m116-4v4m6-4v4m10-4v4m2-4v4m4-4v4m26-4v4m22-4v4m10-4v4m10-4v4m2-4v4m8-4v4m2-4v4m4-4v4m16-4v4M944.5 1792.5v4.3m108-4.3v4.3m8-4.3v4.3m12-4.3v4.3m6-4.3v4.3m14-4.3v4.3m2-4.3v4.3m2-4.3v4.3m4-4.3v4.3m8-4.3v4.3m28-4.3v4.3m8-4.3v4.3m18-4.3v4.3m2-4.3v4.3m10-4.3v4.3m2-4.3v4.3m4-4.3v4.3m8-4.3v4.3m8-4.3v4.3M966.5 1830.8v4.2m106-4.2v4.2m2-4.2v4.2m2-4.2v4.2m2-4.2v4.2m12-4.2v4.2m8-4.2v4.2m2-4.2v4.2m16-4.2v4.2m24-4.2v4.2m20-4.2v4.2m4-4.2v4.2m18-4.2v4.2m6-4.2v4.2M974.5 1809.5v4.3m98-4.3v4.3m6-4.3v4.3m18-4.3v4.3m4-4.3v4.3m8-4.3v4.3m28-4.3v4.3m22-4.3v4.3m4-4.3v4.3m2-4.3v4.3m18-4.3v4.3M986.5 1764.0v4.0m12-4v4m200-4v4M996.5 1813.8v4.2m158-4.2v4.2m8-4.2v4.2m2-4.2v4.2m6-4.2v4.2m4-4.2v4.2M1022.5 1784.0v4.2m52-4.2v4.2m4-4.2v4.2m18-4.2v4.2m44-4.2v4.2m24-4.2v4.2m10-4.2v4.2m2-4.2v4.2m12-4.2v4.2M1038.5 1760.0v4.0M1072.5 1835.0v17.5m4-17.5v17.5m6-17.5v17.5m6-17.5v17.5m2-17.5v17.5m20-17.5v17.5m2-17.5v17.5m4-17.5v17.5m4-17.5v17.5m10-17.5v17.5m2-17.5v17.5m4-17.5v17.5m18-17.5v17.5m8-17.5v17.5m12-17.5v17.5m2-17.5v17.5m16-17.5v17.5M1074.5 1801.0v4.2m2-4.2v4.2m2-4.2v4.2m10-4.2v4.2m2-4.2v4.2m4-4.2v4.2m6-4.2v4.2m38-4.2v4.2m26-4.2v4.2m6-4.2v4.2m2-4.2v4.2M1076.5 1826.5v4.3m2-4.3v4.3m14-4.3v4.3m4-4.3v4.3m2-4.3v4.3m2-4.3v4.3m36-4.3v4.3m2-4.3v4.3m6-4.3v4.3m10-4.3v4.3m8-4.3v4.3m2-4.3v4.3m6-4.3v4.3m4-4.3v4.3m4-4.3v4.3m2-4.3v4.3m2-4.3v4.3m14-4.3v4.3M1076.5 1805.2v4.3m16-4.3v4.3m2-4.3v4.3m6-4.3v4.3m8-4.3v4.3m8-4.3v4.3m20-4.3v4.3m12-4.3v4.3m6-4.3v4.3m6-4.3v4.3m14-4.3v4.3m4-4.3v4.3m10-4.3v4.3"/>
<path stroke="#8eb57e" stroke-width="2" d="M192.5 1822.0v13.0m4-13v13m50-13v13m34-13v13m4-13v13m4-13v13m24-13v13m18-13v13m28-13v13m34-13v13m10-13v13m6-13v13m10-13v13m14-13v13m48-13v13m2-13v13m28-13v13m4-13v13m6-13v13m44-13v13m10-13v13m12-13v13m20-13v13m12-13v13m4-13v13m60-13v13m28-13v13m8-13v13m4-13v13m10-13v13m4-13v13m36-13v13m4-13v13m8-13v13m6-13v13m2-13v13m56-13v13m2-13v13m10-13v13m24-13v13m8-13v13M230.5 1835.0v17.5m274-17.5v17.5m2-17.5v17.5m2-17.5v17.5m2-17.5v17.5m10-17.5v17.5m4-17.5v17.5m2-17.5v17.5m2-17.5v17.5m2-17.5v17.5m8-17.5v17.5m2-17.5v17.5m2-17.5v17.5m6-17.5v17.5m8-17.5v17.5m14-17.5v17.5m12-17.5v17.5m4-17.5v17.5m12-17.5v17.5m4-17.5v17.5m4-17.5v17.5m2-17.5v17.5m14-17.5v17.5m4-17.5v17.5m6-17.5v17.5m2-17.5v17.5m16-17.5v17.5m6-17.5v17.5m2-17.5v17.5m2-17.5v17.5m8-17.5v17.5m18-17.5v17.5m14-17.5v17.5m4-17.5v17.5m4-17.5v17.5m4-17.5v17.5m4-17.5v17.5m4-17.5v17.5m16-17.5v17.5m2-17.5v17.5m2-17.5v17.5m2-17.5v17.5m2-17.5v17.5m6-17.5v17.5m2-17.5v17.5m4-17.5v17.5m20-17.5v17.5m2-17.5v17.5m20-17.5v17.5m10-17.5v17.5m4-17.5v17.5m8-17.5v17.5m16-17.5v17.5m2-17.5v17.5m4-17.5v17.5m4-17.5v17.5m2-17.5v17.5m4-17.5v17.5m6-17.5v17.5m6-17.5v17.5m2-17.5v17.5m12-17.5v17.5m2-17.5v17.5m2-17.5v17.5m8-17.5v17.5m2-17.5v17.5M802.5 1801.4v20.6M816.5 1808.8v13.2M846.5 1775.3v46.7M906.5 1755.8v0.2M908.5 1764.0v4.0m26-4v4m24-4v4m14-4v4m20-4v4m24-4v4m10-4v4m42-4v4m2-4v4m66-4v4m2-4v4m10-4v4m26-4v4m14-4v4M908.5 1760.0v4.0m20-4v4m22-4v4m6-4v4m2-4v4m12-4v4m12-4v4m30-4v4m8-4v4m8-4v4m6-4v4m34-4v4m2-4v4m2-4v4m28-4v4m8-4v4m40-4v4m10-4v4m30-4v4M908.5 1759.7v0.3M926.5 1751.4v0.6M928.5 1756.0v4.0m12-4v4m10-4v4m20-4v4m2-4v4m22-4v4m18-4v4m14-4v4m2-4v4m40-4v4m4-4v4m22-4v4m44-4v4m10-4v4m14-4v4m8-4v4m18-4v4m8-4v4M938.5 1744.0v4.0m16-4v4m4-4v4m8-4v4m12-4v4m42-4v4m6-4v4m6-4v4m18-4v4m8-4v4m10-4v4m2-4v4m2-4v4m2-4v4m72-4v4m26-4v4m4-4v4m18-4v4M940.5 1752.2v3.8M944.5 1748.0v4.0m2-4v4m12-4v4m8-4v4m4-4v4m2-4v4m12-4v4m36-4v4m8-4v4m4-4v4m10-4v4m8-4v4m10-4v4m16-4v4m14-4v4m58-4v4m12-4v4m14-4v4m6-4v4m16-4v4M950.5 1752.0v4.0m2-4v4m18-4v4m8-4v4m4-4v4m2-4v4m8-4v4m20-4v4m4-4v4m10-4v4m2-4v4m6-4v4m14-4v4m12-4v4m8-4v4m4-4v4m28-4v4m8-4v4m30-4v4m12-4v4m20-4v4M952.5 1751.7v0.3M954.5 1740.0v4.0m16-4v4m24-4v4m12-4v4m14-4v4m8-4v4m2-4v4m4-4v4m8-4v4m6-4v4m2-4v4m8-4v4m12-4v4m4-4v4m24-4v4m10-4v4m64-4v4m2-4v4m14-4v4m6-4v4M954.5 1737.3v2.7M956.5 1750.8v1.2M958.5 1736.0v4.0m18-4v4m2-4v4m4-4v4m8-4v4m12-4v4m4-4v4m8-4v4m2-4v4m16-4v4m2-4v4m8-4v4m2-4v4m14-4v4m14-4v4m2-4v4m98-4v4m16-4v4M970.5 1737.4v2.6M972.5 1742.8v1.2M974.5 1732.0v4.0m4-4v4m20-4v4m4-4v4m16-4v4m26-4v4m2-4v4m2-4v4m2-4v4m18-4v4m16-4v4m92-4v4m12-4v4m4-4v4M974.5 1728.0v4.0m4-4v4m4-4v4m8-4v4m8-4v4m6-4v4m10-4v4m4-4v4m2-4v4m4-4v4m12-4v4m8-4v4m10-4v4m138-4v4M974.5 1727.8v0.2M976.5 1732.3v3.7M980.5 1734.2v1.8M984.5 1737.7v2.3M990.5 1722.0v2.0M1004.5 1724.0v4.0m6-4v4m8-4v4m2-4v4m4-4v4m22-4v4M1004.5 1720.0v4.0m6-4v4m42-4v4M1004.5 1718.8v1.2M1014.5 1725.7v2.3M1016.5 1727.7v0.3M1018.5 1717.3v2.7M1020.5 1720.1v3.9M1024.5 1716.0v4.0m28-4v4m2-4v4M1028.5 1731.0v1.0M1034.5 1728.7v3.3M1036.5 1724.4v3.6M1040.5 1720.9v3.1M1046.5 1723.7v0.3M1048.5 1729.3v2.7M1050.5 1729.7v2.3M1054.5 1715.7v0.3M1056.5 1736.1v3.9M1068.5 1730.8v1.2M1084.5 1727.4v0.6M1090.5 1745.2v2.8M1100.5 1742.1v1.9M1110.5 1757.3v2.7m48-2.7v2.7M1114.5 1758.3v1.7M1118.5 1750.3v1.7M1126.5 1740.8v3.2M1132.5 1754.5v1.5M1136.5 1758.7v1.3M1138.5 1747.5v0.5M1156.5 1741.5v2.5M1166.5 1753.6v2.4M1170.5 1744.4v3.6M1176.5 1731.4v0.6M1180.5 1741.2v2.8M1196.5 1830.8v4.2M1198.5 1735.4v0.6M1200.5 1739.8v0.2M178.0 1789.1v10.9M180.0 1786.1v10.8M184.0 1784.8v12.1M188.0 1791.3v8.7M188.0 1778.9v9.6M192.0 1786.7v8.7M196.0 1788.4v7.8M241.0 1795.4v9.6M245.0 1790.5v14.5M247.0 1796.4v8.6M249.0 1785.7v9.3M249.0 1785.0v10.8M259.0 1796.3v8.2M403.0 1793.4v16.6M403.0 1798.2v6.7M405.0 1791.1v17.6M409.0 1791.6v9.8M409.0 1791.5v9.6M417.0 1790.5v16.3M569.0 1800.4v14.6M569.0 1786.4v12.1M573.0 1800.1v14.9M579.0 1806.8v7.4M579.0 1789.0v19.0M583.0 1802.6v12.4M585.0 1788.6v11.6M585.0 1798.2v11.6M585.0 1791.0v17.3M589.0 1793.8v11.1M701.0 1805.8v8.3M707.0 1812.0v11.0M719.0 1798.6v11.0M723.0 1798.2v6.6M725.0 1809.3v13.7M725.0 1799.5v18.2M735.0 1799.2v13.7M735.0 1811.6v8.0M737.0 1800.3v14.9M763.0 1803.1v19.2M763.0 1812.5v8.2M765.0 1797.9v7.0M769.0 1805.6v17.4M771.0 1808.9v13.3M781.0 1812.9v6.7M781.0 1796.3v19.1"/>
<path stroke="#428233" stroke-width="2" d="M194.5 1835.0v17.5m6-17.5v17.5m22-17.5v17.5m2-17.5v17.5m8-17.5v17.5m6-17.5v17.5m56-17.5v17.5m2-17.5v17.5m14-17.5v17.5m14-17.5v17.5m18-17.5v17.5m2-17.5v17.5m2-17.5v17.5m2-17.5v17.5m34-17.5v17.5m6-17.5v17.5m4-17.5v17.5m58-17.5v17.5m2-17.5v17.5m14-17.5v17.5m18-17.5v17.5m6-17.5v17.5M518.5 1852.5v20.5m42-20.5v20.5m24-20.5v20.5m4-20.5v20.5m18-20.5v20.5m2-20.5v20.5m8-20.5v20.5m16-20.5v20.5m6-20.5v20.5m12-20.5v20.5m22-20.5v20.5m10-20.5v20.5m12-20.5v20.5m4-20.5v20.5m6-20.5v20.5m28-20.5v20.5m12-20.5v20.5m18-20.5v20.5m6-20.5v20.5m32-20.5v20.5m10-20.5v20.5m6-20.5v20.5m4-20.5v20.5m22-20.5v20.5m2-20.5v20.5m14-20.5v20.5m22-20.5v20.5m12-20.5v20.5M904.5 1805.2v4.3m124-4.3v4.3m62-4.3v4.3m48-4.3v4.3m2-4.3v4.3m40-4.3v4.3m2-4.3v4.3m14-4.3v4.3M906.5 1764.0v4.0m62-4v4m68-4v4m4-4v4m22-4v4m22-4v4m2-4v4m16-4v4m98-4v4M942.5 1788.2v4.3m150-4.3v4.3m46-4.3v4.3m2-4.3v4.3m8-4.3v4.3m26-4.3v4.3m14-4.3v4.3m8-4.3v4.3M976.5 1760.0v4.0m60-4v4m156-4v4m6-4v4M982.5 1826.5v4.3m108-4.3v4.3M1032.5 1801.0v4.2m26-4.2v4.2m82-4.2v4.2m8-4.2v4.2m26-4.2v4.2m6-4.2v4.2M1036.5 1756.0v4.0m48-4v4M1036.5 1752.0v4.0M1052.5 1809.5v4.3m2-4.3v4.3m84-4.3v4.3m10-4.3v4.3m22-4.3v4.3m18-4.3v4.3m8-4.3v4.3M1074.5 1780.0v4.0m8-4v4m26-4v4m8-4v4m20-4v4m2-4v4m2-4v4m8-4v4m12-4v4m8-4v4m2-4v4m6-4v4m10-4v4M1074.5 1776.0v4.0m4-4v4m2-4v4m8-4v4m8-4v4m2-4v4m18-4v4m46-4v4m8-4v4m2-4v4m4-4v4m2-4v4m4-4v4m4-4v4M1074.5 1768.0v4.0m16-4v4m8-4v4m28-4v4m14-4v4m4-4v4m10-4v4m4-4v4m12-4v4m6-4v4m4-4v4m8-4v4m6-4v4m2-4v4M1076.5 1772.0v4.0m18-4v4m4-4v4m2-4v4m10-4v4m26-4v4m2-4v4m2-4v4m4-4v4m14-4v4m2-4v4m2-4v4m2-4v4m6-4v4m8-4v4m2-4v4m8-4v4M1078.5 1818.0v4.2m30-4.2v4.2m30-4.2v4.2m10-4.2v4.2M1092.5 1830.8v4.2m16-4.2v4.2m28-4.2v4.2m2-4.2v4.2m10-4.2v4.2M1100.5 1796.8v4.2m38-4.2v4.2m32-4.2v4.2m26-4.2v4.2M1136.5 1813.8v4.2m2-4.2v4.2m44-4.2v4.2M1136.5 1784.0v4.2m12-4.2v4.2m6-4.2v4.2M1138.5 1792.5v4.3m10-4.3v4.3m22-4.3v4.3m12-4.3v4.3M1148.5 1822.2v4.3m22-4.3v4.3m10-4.3v4.3m16-4.3v4.3M342.0 1787.5v19.2M354.0 1789.9v9.2M356.0 1796.7v14.3M358.0 1791.1v11.7M358.0 1784.7v7.7M360.0 1799.6v8.8M360.0 1795.9v13.5M366.0 1781.4v13.1M370.0 1789.4v17.4M378.0 1782.0v14.8M478.0 1805.6v9.4M486.0 1779.2v14.0M488.0 1804.2v10.8M494.0 1784.0v14.6M504.0 1797.8v8.5M506.0 1793.6v12.5M520.0 1784.1v14.8M530.0 1795.9v17.8M546.0 1797.6v17.4M592.0 1783.9v14.7M602.0 1798.6v9.4"/>
<path stroke="#e8c01e" stroke-width="2" d="M228.5 1873.0v30.4m54-30.4v30.4m20-30.4v30.4m24-30.4v30.4m72-30.4v30.4m30-30.4v30.4m78-30.4v30.4m78-30.4v30.4m60-30.4v30.4m114-30.4v30.4m142-30.4v30.4m68-30.4v30.4m16-30.4v30.4m2-30.4v30.4m6-30.4v30.4m8-30.4v30.4m18-30.4v30.4m18-30.4v30.4m144-30.4v30.4m2-30.4v30.4M902.5 1830.8v4.2m44-4.2v4.2m8-4.2v4.2m26-4.2v4.2m8-4.2v4.2m12-4.2v4.2m10-4.2v4.2m4-4.2v4.2m8-4.2v4.2m2-4.2v4.2m8-4.2v4.2m10-4.2v4.2m8-4.2v4.2m8-4.2v4.2m8-4.2v4.2M902.5 1818.0v4.2m38-4.2v4.2m6-4.2v4.2m18-4.2v4.2m16-4.2v4.2m2-4.2v4.2m24-4.2v4.2m12-4.2v4.2m6-4.2v4.2m30-4.2v4.2M912.5 1813.8v4.2m2-4.2v4.2m10-4.2v4.2m66-4.2v4.2m14-4.2v4.2m18-4.2v4.2m2-4.2v4.2m8-4.2v4.2m16-4.2v4.2m10-4.2v4.2M912.5 1801.0v4.2m34-4.2v4.2m34-4.2v4.2m10-4.2v4.2m18-4.2v4.2m2-4.2v4.2m8-4.2v4.2m12-4.2v4.2m14-4.2v4.2m16-4.2v4.2M914.5 1826.5v4.3m6-4.3v4.3m26-4.3v4.3m20-4.3v4.3m10-4.3v4.3m14-4.3v4.3m6-4.3v4.3m4-4.3v4.3m4-4.3v4.3m18-4.3v4.3m2-4.3v4.3M918.5 1835.0v17.5m80-17.5v17.5m40-17.5v17.5M924.5 1788.2v4.3m30-4.3v4.3m8-4.3v4.3m34-4.3v4.3m10-4.3v4.3m8-4.3v4.3m16-4.3v4.3m22-4.3v4.3m14-4.3v4.3M924.5 1784.0v4.2m22-4.2v4.2m28-4.2v4.2m8-4.2v4.2m28-4.2v4.2m4-4.2v4.2m10-4.2v4.2m6-4.2v4.2m14-4.2v4.2M940.5 1822.2v4.3m14-4.3v4.3m10-4.3v4.3m18-4.3v4.3m18-4.3v4.3m4-4.3v4.3m6-4.3v4.3m20-4.3v4.3m2-4.3v4.3m24-4.3v4.3M940.5 1805.2v4.3m24-4.3v4.3m2-4.3v4.3m8-4.3v4.3m6-4.3v4.3m4-4.3v4.3m4-4.3v4.3m16-4.3v4.3m14-4.3v4.3m6-4.3v4.3m18-4.3v4.3m12-4.3v4.3m6-4.3v4.3M942.5 1809.5v4.3m12-4.3v4.3m12-4.3v4.3m14-4.3v4.3m10-4.3v4.3m4-4.3v4.3m38-4.3v4.3m14-4.3v4.3m4-4.3v4.3M946.5 1792.5v4.3m6-4.3v4.3m14-4.3v4.3m8-4.3v4.3m10-4.3v4.3m30-4.3v4.3m18-4.3v4.3m32-4.3v4.3M966.5 1796.8v4.2m64-4.2v4.2m22-4.2v4.2m14-4.2v4.2"/>
<path stroke="#fa9a11" stroke-width="2" d="M906.5 1830.8v4.2m4-4.2v4.2m28-4.2v4.2m26-4.2v4.2m10-4.2v4.2m16-4.2v4.2M906.5 1826.5v4.3m26-4.3v4.3m4-4.3v4.3m16-4.3v4.3m46-4.3v4.3m64-4.3v4.3M906.5 1809.5v4.3m4-4.3v4.3m4-4.3v4.3m24-4.3v4.3m6-4.3v4.3m18-4.3v4.3m78-4.3v4.3M906.5 1796.8v4.2m8-4.2v4.2m18-4.2v4.2m4-4.2v4.2m40-4.2v4.2m10-4.2v4.2m14-4.2v4.2m14-4.2v4.2m26-4.2v4.2m4-4.2v4.2m18-4.2v4.2m2-4.2v4.2M906.5 1792.5v4.3m32-4.3v4.3m16-4.3v4.3m8-4.3v4.3m24-4.3v4.3m16-4.3v4.3M910.5 1822.2v4.3m52-4.3v4.3m12-4.3v4.3m16-4.3v4.3m72-4.3v4.3M910.5 1813.8v4.2m28-4.2v4.2m14-4.2v4.2m10-4.2v4.2m2-4.2v4.2m2-4.2v4.2m36-4.2v4.2m34-4.2v4.2m4-4.2v4.2M910.5 1801.0v4.2m16-4.2v4.2m36-4.2v4.2m6-4.2v4.2m6-4.2v4.2m2-4.2v4.2m10-4.2v4.2m14-4.2v4.2m40-4.2v4.2m24-4.2v4.2m2-4.2v4.2M914.5 1784.0v4.2m4-4.2v4.2m14-4.2v4.2m4-4.2v4.2m2-4.2v4.2m4-4.2v4.2m10-4.2v4.2m10-4.2v4.2m14-4.2v4.2M918.5 1818.0v4.2m18-4.2v4.2m2-4.2v4.2m14-4.2v4.2m2-4.2v4.2m8-4.2v4.2m6-4.2v4.2m8-4.2v4.2m14-4.2v4.2m8-4.2v4.2m4-4.2v4.2m42-4.2v4.2m2-4.2v4.2M918.5 1805.2v4.3m82-4.3v4.3m40-4.3v4.3m22-4.3v4.3M926.5 1788.2v4.3m6-4.3v4.3m6-4.3v4.3m6-4.3v4.3m42-4.3v4.3m60-4.3v4.3m16-4.3v4.3M1184.5 1873.0v30.4m8-30.4v30.4m6-30.4v30.4"/>
<path stroke="#fa8104" stroke-width="2" d="M906.5 1822.2v4.3m20-4.3v4.3m6-4.3v4.3m112-4.3v4.3m2-4.3v4.3M906.5 1788.2v4.3m4-4.3v4.3m26-4.3v4.3m32-4.3v4.3m6-4.3v4.3m2-4.3v4.3m22-4.3v4.3m4-4.3v4.3m34-4.3v4.3m2-4.3v4.3m2-4.3v4.3M910.5 1826.5v4.3m16-4.3v4.3m36-4.3v4.3m12-4.3v4.3m62-4.3v4.3m4-4.3v4.3M910.5 1805.2v4.3m22-4.3v4.3m6-4.3v4.3m52-4.3v4.3m8-4.3v4.3m16-4.3v4.3m24-4.3v4.3M910.5 1796.8v4.2m8-4.2v4.2m20-4.2v4.2m64-4.2v4.2M910.5 1784.0v4.2m58-4.2v4.2m18-4.2v4.2m4-4.2v4.2m50-4.2v4.2M914.5 1801.0v4.2m4-4.2v4.2m18-4.2v4.2m2-4.2v4.2m14-4.2v4.2m46-4.2v4.2m4-4.2v4.2m60-4.2v4.2M914.5 1792.5v4.3m4-4.3v4.3m14-4.3v4.3m72-4.3v4.3m34-4.3v4.3m8-4.3v4.3M918.5 1809.5v4.3m58-4.3v4.3m10-4.3v4.3m12-4.3v4.3m4-4.3v4.3m34-4.3v4.3M926.5 1830.8v4.2m6-4.2v4.2m44-4.2v4.2m10-4.2v4.2m16-4.2v4.2m2-4.2v4.2m36-4.2v4.2m6-4.2v4.2m16-4.2v4.2M936.5 1813.8v4.2m50-4.2v4.2m76-4.2v4.2M974.5 1818.0v4.2m26-4.2v4.2m40-4.2v4.2m22-4.2v4.2M1166.5 1873.0v30.4"/>
<path stroke="#fa6800" stroke-width="2" d="M906.5 1805.2v4.3m20-4.3v4.3m60-4.3v4.3M918.5 1830.8v4.2m50-4.2v4.2m30-4.2v4.2m38-4.2v4.2m2-4.2v4.2M918.5 1822.2v4.3m58-4.3v4.3m10-4.3v4.3m12-4.3v4.3M918.5 1788.2v4.3M926.5 1813.8v4.2m42-4.2v4.2m6-4.2v4.2M926.5 1809.5v4.3m6-4.3v4.3m4-4.3v4.3m126-4.3v4.3M926.5 1792.5v4.3m72-4.3v4.3m42-4.3v4.3M932.5 1818.0v4.2m106-4.2v4.2M968.5 1796.8v4.2m30-4.2v4.2m38-4.2v4.2M1036.5 1784.0v4.2m2-4.2v4.2M1038.5 1801.0v4.2"/>
<path stroke="#f94f00" stroke-width="2" d="M918.5 1826.5v4.3m68-4.3v4.3m52-4.3v4.3M918.5 1813.8v4.2m120-4.2v4.2M986.5 1818.0v4.2m50-4.2v4.2M1036.5 1805.2v4.3M1038.5 1822.2v4.3M1038.5 1809.5v4.3"/>
<path stroke="#ea3c00" stroke-width="2" d="M1036.5 1822.2v4.3"/>
<path stroke="#3ab120" stroke-width="1.5" d="M1202.2 1873.0v30.4M1202.2 1852.5v20.5M1202.2 1835.0v17.5M1202.2 1796.8v4.2M1202.2 1788.2v4.3M1202.2 1780.0v4.0M1202.2 1776.0v4.0"/>
<path stroke="#5c8e4d" stroke-width="1.5" d="M1202.2 1830.8v4.2"/>
<path stroke="#70c81e" stroke-width="1.5" d="M1202.2 1826.5v4.3M1202.2 1818.0v4.2M1202.2 1809.5v4.3M1202.2 1805.2v4.3M1202.2 1801.0v4.2M1202.2 1784.0v4.2"/>
<path stroke="#3cbe1e" stroke-width="1.5" d="M1202.2 1822.2v4.3M1202.2 1792.5v4.3"/>
<path stroke="#4e863f" stroke-width="1.5" d="M1202.2 1813.8v4.2M1202.2 1752.0v4.0"/>
<path stroke="#379225" stroke-width="1.5" d="M1202.2 1772.0v4.0M1202.2 1764.0v4.0"/>
<path stroke="#38a322" stroke-width="1.5" d="M1202.2 1768.0v4.0"/>
<path stroke="#38822a" stroke-width="1.5" d="M1202.2 1760.0v4.0"/>
<path stroke="#c6dabb" stroke-width="1.5" d="M1202.2 1756.0v4.0M1202.2 1748.0v4.0M1202.2 1744.0v4.0"/>
<path stroke="#6d9c5e" stroke-width="1.5" d="M1202.2 1740.0v4.0M1202.2 1728.0v4.0"/>
<path stroke="#7ea86f" stroke-width="1.5" d="M1202.2 1736.0v4.0M1202.2 1732.0v4.0"/>
<path stroke="#a0c291" stroke-width="1.5" d="M1202.2 1724.0v4.0"/>
<path stroke="#8eb57e" stroke-width="1.5" d="M1202.2 1722.5v1.5"/></g>
<line x1="161.5" y1="1769.0" x2="1203.0" y2="1769.0" stroke="#000" stroke-width="3.50" stroke-dasharray="14 10"/>
<line x1="222.4" y1="1652.5" x2="222.4" y2="1992.0" stroke="#ee1111" stroke-width="2.00" stroke-dasharray="3 2"/>
<line x1="384.8" y1="1652.5" x2="384.8" y2="1992.0" stroke="#ee1111" stroke-width="2.00" stroke-dasharray="8 3 2 3"/>
<line x1="616.0" y1="1652.5" x2="616.0" y2="1992.0" stroke="#ee1111" stroke-width="2.20" stroke-dasharray="9 5"/>
<line x1="907.5" y1="1652.5" x2="907.5" y2="1992.0" stroke="#ee1111" stroke-width="2.20" />
<line x1="1011.3" y1="1652.5" x2="1011.3" y2="1992.0" stroke="#ee1111" stroke-width="2.20" />
<line x1="1014.5" y1="1652.5" x2="1014.5" y2="1992.0" stroke="#ee1111" stroke-width="2.20" stroke-dasharray="9 5"/>
<line x1="1050.3" y1="1652.5" x2="1050.3" y2="1992.0" stroke="#ee1111" stroke-width="2.20" />
<line x1="1129.7" y1="1652.5" x2="1129.7" y2="1992.0" stroke="#ee1111" stroke-width="2.00" stroke-dasharray="3 2"/>
<path d="M222.4 1678.5 L225.6 1684.0 L231.9 1684.0 L228.8 1689.5 L231.9 1695.0 L225.6 1695.0 L222.4 1700.5 L219.2 1695.0 L212.9 1695.0 L216.0 1689.5 L212.9 1684.0 L219.2 1684.0 Z" fill="#fff" stroke="#ee1111" stroke-width="2.20" stroke-linejoin="miter"/>
<path d="M616.0 1678.5 L619.2 1684.0 L625.5 1684.0 L622.4 1689.5 L625.5 1695.0 L619.2 1695.0 L616.0 1700.5 L612.8 1695.0 L606.5 1695.0 L609.6 1689.5 L606.5 1684.0 L612.8 1684.0 Z" fill="#fff" stroke="#ee1111" stroke-width="2.20" stroke-linejoin="miter"/>
<path d="M1011.3 1678.5 L1014.5 1684.0 L1020.8 1684.0 L1017.7 1689.5 L1020.8 1695.0 L1014.5 1695.0 L1011.3 1700.5 L1008.1 1695.0 L1001.8 1695.0 L1004.9 1689.5 L1001.8 1684.0 L1008.1 1684.0 Z" fill="#fff" stroke="#ee1111" stroke-width="2.20" stroke-linejoin="miter"/>
<path d="M384.8 1711.0 L398.3 1733.5 L371.3 1733.5 Z" fill="#fff" stroke="#ee1111" stroke-width="2.40" />
<path d="M907.5 1711.0 L921.0 1733.5 L894.0 1733.5 Z" fill="#fff" stroke="#ee1111" stroke-width="2.40" />
<path d="M1014.5 1711.0 L1028.0 1733.5 L1001.0 1733.5 Z" fill="#fff" stroke="#ee1111" stroke-width="2.40" />
<path d="M1129.7 1711.0 L1143.2 1733.5 L1116.2 1733.5 Z" fill="#fff" stroke="#ee1111" stroke-width="2.40" />
<rect x="1042.0" y="1708.0" width="18.0" height="18.0" fill="#fff" stroke="#ee1111" stroke-width="2.40" />
<line x1="161.5" y1="1642.5" x2="161.5" y2="1992.0" stroke="#222" stroke-width="1.50" />
<line x1="161.5" y1="1992.0" x2="1203.0" y2="1992.0" stroke="#222" stroke-width="1.50" />
<line x1="161.5" y1="1642.5" x2="161.5" y2="1652.5" stroke="#222" stroke-width="1.30" />
<line x1="161.5" y1="1992.0" x2="161.5" y2="2002.0" stroke="#222" stroke-width="1.30" />
<line x1="284.3" y1="1642.5" x2="284.3" y2="1652.5" stroke="#222" stroke-width="1.30" />
<line x1="284.3" y1="1992.0" x2="284.3" y2="2002.0" stroke="#222" stroke-width="1.30" />
<line x1="407.1" y1="1642.5" x2="407.1" y2="1652.5" stroke="#222" stroke-width="1.30" />
<line x1="407.1" y1="1992.0" x2="407.1" y2="2002.0" stroke="#222" stroke-width="1.30" />
<line x1="529.9" y1="1642.5" x2="529.9" y2="1652.5" stroke="#222" stroke-width="1.30" />
<line x1="529.9" y1="1992.0" x2="529.9" y2="2002.0" stroke="#222" stroke-width="1.30" />
<line x1="652.7" y1="1642.5" x2="652.7" y2="1652.5" stroke="#222" stroke-width="1.30" />
<line x1="652.7" y1="1992.0" x2="652.7" y2="2002.0" stroke="#222" stroke-width="1.30" />
<line x1="775.5" y1="1642.5" x2="775.5" y2="1652.5" stroke="#222" stroke-width="1.30" />
<line x1="775.5" y1="1992.0" x2="775.5" y2="2002.0" stroke="#222" stroke-width="1.30" />
<line x1="898.3" y1="1642.5" x2="898.3" y2="1652.5" stroke="#222" stroke-width="1.30" />
<line x1="898.3" y1="1992.0" x2="898.3" y2="2002.0" stroke="#222" stroke-width="1.30" />
<line x1="1021.1" y1="1642.5" x2="1021.1" y2="1652.5" stroke="#222" stroke-width="1.30" />
<line x1="1021.1" y1="1992.0" x2="1021.1" y2="2002.0" stroke="#222" stroke-width="1.30" />
<line x1="1143.9" y1="1642.5" x2="1143.9" y2="1652.5" stroke="#222" stroke-width="1.30" />
<line x1="1143.9" y1="1992.0" x2="1143.9" y2="2002.0" stroke="#222" stroke-width="1.30" />
<line x1="151.5" y1="1992.0" x2="161.5" y2="1992.0" stroke="#222" stroke-width="1.30" />
<line x1="155.5" y1="1940.9" x2="161.5" y2="1940.9" stroke="#222" stroke-width="1.30" />
<line x1="155.5" y1="1911.0" x2="161.5" y2="1911.0" stroke="#222" stroke-width="1.30" />
<line x1="155.5" y1="1889.8" x2="161.5" y2="1889.8" stroke="#222" stroke-width="1.30" />
<line x1="155.5" y1="1873.3" x2="161.5" y2="1873.3" stroke="#222" stroke-width="1.30" />
<line x1="155.5" y1="1859.9" x2="161.5" y2="1859.9" stroke="#222" stroke-width="1.30" />
<line x1="155.5" y1="1848.5" x2="161.5" y2="1848.5" stroke="#222" stroke-width="1.30" />
<line x1="155.5" y1="1838.7" x2="161.5" y2="1838.7" stroke="#222" stroke-width="1.30" />
<line x1="155.5" y1="1830.0" x2="161.5" y2="1830.0" stroke="#222" stroke-width="1.30" />
<line x1="151.5" y1="1822.2" x2="161.5" y2="1822.2" stroke="#222" stroke-width="1.30" />
<line x1="155.5" y1="1771.2" x2="161.5" y2="1771.2" stroke="#222" stroke-width="1.30" />
<line x1="155.5" y1="1741.3" x2="161.5" y2="1741.3" stroke="#222" stroke-width="1.30" />
<line x1="155.5" y1="1720.1" x2="161.5" y2="1720.1" stroke="#222" stroke-width="1.30" />
<line x1="155.5" y1="1703.6" x2="161.5" y2="1703.6" stroke="#222" stroke-width="1.30" />
<line x1="155.5" y1="1690.2" x2="161.5" y2="1690.2" stroke="#222" stroke-width="1.30" />
<line x1="155.5" y1="1678.8" x2="161.5" y2="1678.8" stroke="#222" stroke-width="1.30" />
<line x1="155.5" y1="1669.0" x2="161.5" y2="1669.0" stroke="#222" stroke-width="1.30" />
<line x1="155.5" y1="1660.3" x2="161.5" y2="1660.3" stroke="#222" stroke-width="1.30" />
<line x1="151.5" y1="1652.5" x2="161.5" y2="1652.5" stroke="#222" stroke-width="1.30" />
<defs><linearGradient id="eg" x1="0" y1="0" x2="0" y2="1"><stop offset="0.000" stop-color="#800000"/><stop offset="0.070" stop-color="#a00500"/><stop offset="0.120" stop-color="#c81400"/><stop offset="0.170" stop-color="#e13200"/><stop offset="0.220" stop-color="#fa5000"/><stop offset="0.270" stop-color="#fa7800"/><stop offset="0.320" stop-color="#faa014"/><stop offset="0.370" stop-color="#ebbe1e"/><stop offset="0.420" stop-color="#c8cd1e"/><stop offset="0.470" stop-color="#6ec81e"/><stop offset="0.500" stop-color="#3cbe1e"/><stop offset="0.570" stop-color="#37a023"/><stop offset="0.620" stop-color="#378228"/><stop offset="0.670" stop-color="#468237"/><stop offset="0.715" stop-color="#5a8c4b"/><stop offset="0.760" stop-color="#73a064"/><stop offset="0.810" stop-color="#8cb47d"/><stop offset="0.860" stop-color="#aac89b"/><stop offset="0.910" stop-color="#c8dcbe"/><stop offset="0.960" stop-color="#dceed7"/><stop offset="1.000" stop-color="#e2f2dd"/></linearGradient></defs>
<rect x="1205.3" y="1652.5" width="26.4" height="339.5" fill="url(#eg)" stroke="#222" stroke-width="1.40" />
<line x1="1231.7" y1="1992.0" x2="1238.0" y2="1992.0" stroke="#222" stroke-width="1.20" />
<line x1="1231.7" y1="1940.9" x2="1236.0" y2="1940.9" stroke="#222" stroke-width="1.20" />
<line x1="1231.7" y1="1911.0" x2="1236.0" y2="1911.0" stroke="#222" stroke-width="1.20" />
<line x1="1231.7" y1="1889.8" x2="1236.0" y2="1889.8" stroke="#222" stroke-width="1.20" />
<line x1="1231.7" y1="1873.3" x2="1236.0" y2="1873.3" stroke="#222" stroke-width="1.20" />
<line x1="1231.7" y1="1859.9" x2="1236.0" y2="1859.9" stroke="#222" stroke-width="1.20" />
<line x1="1231.7" y1="1848.5" x2="1236.0" y2="1848.5" stroke="#222" stroke-width="1.20" />
<line x1="1231.7" y1="1838.7" x2="1236.0" y2="1838.7" stroke="#222" stroke-width="1.20" />
<line x1="1231.7" y1="1830.0" x2="1236.0" y2="1830.0" stroke="#222" stroke-width="1.20" />
<line x1="1231.7" y1="1822.2" x2="1238.0" y2="1822.2" stroke="#222" stroke-width="1.20" />
<line x1="1231.7" y1="1771.2" x2="1236.0" y2="1771.2" stroke="#222" stroke-width="1.20" />
<line x1="1231.7" y1="1741.3" x2="1236.0" y2="1741.3" stroke="#222" stroke-width="1.20" />
<line x1="1231.7" y1="1720.1" x2="1236.0" y2="1720.1" stroke="#222" stroke-width="1.20" />
<line x1="1231.7" y1="1703.6" x2="1236.0" y2="1703.6" stroke="#222" stroke-width="1.20" />
<line x1="1231.7" y1="1690.2" x2="1236.0" y2="1690.2" stroke="#222" stroke-width="1.20" />
<line x1="1231.7" y1="1678.8" x2="1236.0" y2="1678.8" stroke="#222" stroke-width="1.20" />
<line x1="1231.7" y1="1669.0" x2="1236.0" y2="1669.0" stroke="#222" stroke-width="1.20" />
<line x1="1231.7" y1="1660.3" x2="1236.0" y2="1660.3" stroke="#222" stroke-width="1.20" />
<line x1="1231.7" y1="1652.5" x2="1238.0" y2="1652.5" stroke="#222" stroke-width="1.20" />
<rect x="212.0" y="1905.2" width="942.0" height="72.5" fill="#fff" stroke="#222" stroke-width="1.30" />
<line x1="218.0" y1="1926.0" x2="270.0" y2="1926.0" stroke="#ee1111" stroke-width="2.20" /><rect x="235.0" y="1917.0" width="18.0" height="18.0" fill="#fff" stroke="#ee1111" stroke-width="2.40" /><text x="276.0" y="1936.0" font-size="27.5" fill="#111" textLength="225.6" lengthAdjust="spacingAndGlyphs">DMSP19 (01838)</text>
<line x1="218.0" y1="1959.0" x2="270.0" y2="1959.0" stroke="#ee1111" stroke-width="2.20" stroke-dasharray="3 2"/><path d="M244.0 1947.0 L247.5 1953.0 L254.4 1953.0 L250.9 1959.0 L254.4 1965.0 L247.5 1965.0 L244.0 1971.0 L240.5 1965.0 L233.6 1965.0 L237.1 1959.0 L233.6 1953.0 L240.5 1953.0 Z" fill="#fff" stroke="#ee1111" stroke-width="2.20" stroke-linejoin="miter"/><text x="276.0" y="1969.0" font-size="27.5" fill="#111" textLength="200.0" lengthAdjust="spacingAndGlyphs">TIMED (68681)</text>
<line x1="514.0" y1="1926.0" x2="566.0" y2="1926.0" stroke="#ee1111" stroke-width="2.20" stroke-dasharray="7 5"/><path d="M540.0 1914.0 L543.5 1920.0 L550.4 1920.0 L546.9 1926.0 L550.4 1932.0 L543.5 1932.0 L540.0 1938.0 L536.5 1932.0 L529.6 1932.0 L533.1 1926.0 L529.6 1920.0 L536.5 1920.0 Z" fill="#fff" stroke="#ee1111" stroke-width="2.20" stroke-linejoin="miter"/><text x="572.0" y="1936.0" font-size="27.5" fill="#111" textLength="200.0" lengthAdjust="spacingAndGlyphs">TIMED (68682)</text>
<line x1="514.0" y1="1959.0" x2="566.0" y2="1959.0" stroke="#ee1111" stroke-width="2.20" /><path d="M540.0 1947.0 L543.5 1953.0 L550.4 1953.0 L546.9 1959.0 L550.4 1965.0 L543.5 1965.0 L540.0 1971.0 L536.5 1965.0 L529.6 1965.0 L533.1 1959.0 L529.6 1953.0 L536.5 1953.0 Z" fill="#fff" stroke="#ee1111" stroke-width="2.20" stroke-linejoin="miter"/><text x="572.0" y="1969.0" font-size="27.5" fill="#111" textLength="200.0" lengthAdjust="spacingAndGlyphs">TIEMD (68683)</text>
<line x1="785.0" y1="1926.0" x2="837.0" y2="1926.0" stroke="#ee1111" stroke-width="2.20" stroke-dasharray="7 5"/><path d="M811.0 1912.0 L825.0 1935.0 L797.0 1935.0 Z" fill="#fff" stroke="#ee1111" stroke-width="2.40" /><text x="843.0" y="1936.0" font-size="27.5" fill="#111" textLength="108.0" lengthAdjust="spacingAndGlyphs">POES15</text>
<line x1="785.0" y1="1959.0" x2="837.0" y2="1959.0" stroke="#ee1111" stroke-width="2.20" /><path d="M811.0 1945.0 L825.0 1968.0 L797.0 1968.0 Z" fill="#fff" stroke="#ee1111" stroke-width="2.40" /><text x="843.0" y="1969.0" font-size="27.5" fill="#111" textLength="108.0" lengthAdjust="spacingAndGlyphs">POES18</text>
<line x1="968.0" y1="1926.0" x2="1020.0" y2="1926.0" stroke="#ee1111" stroke-width="2.20" stroke-dasharray="8 3 2 3"/><path d="M994.0 1912.0 L1008.0 1935.0 L980.0 1935.0 Z" fill="#fff" stroke="#ee1111" stroke-width="2.40" /><text x="1026.0" y="1936.0" font-size="27.5" fill="#111" textLength="128.0" lengthAdjust="spacingAndGlyphs">MetOp02</text>
<line x1="968.0" y1="1959.0" x2="1020.0" y2="1959.0" stroke="#ee1111" stroke-width="2.20" stroke-dasharray="3 2"/><path d="M994.0 1945.0 L1008.0 1968.0 L980.0 1968.0 Z" fill="#fff" stroke="#ee1111" stroke-width="2.40" /><text x="1026.0" y="1969.0" font-size="27.5" fill="#111" textLength="108.0" lengthAdjust="spacingAndGlyphs">POES19</text>
<text x="161.5" y="2045.0" font-size="31.0" text-anchor="middle" fill="#111" textLength="77.7" lengthAdjust="spacingAndGlyphs">20:30</text>
<text x="284.3" y="2045.0" font-size="31.0" text-anchor="middle" fill="#111" textLength="77.7" lengthAdjust="spacingAndGlyphs">21:00</text>
<text x="407.1" y="2045.0" font-size="31.0" text-anchor="middle" fill="#111" textLength="77.7" lengthAdjust="spacingAndGlyphs">21:30</text>
<text x="529.9" y="2045.0" font-size="31.0" text-anchor="middle" fill="#111" textLength="77.7" lengthAdjust="spacingAndGlyphs">22:00</text>
<text x="652.7" y="2045.0" font-size="31.0" text-anchor="middle" fill="#111" textLength="77.7" lengthAdjust="spacingAndGlyphs">22:30</text>
<text x="775.5" y="2045.0" font-size="31.0" text-anchor="middle" fill="#111" textLength="77.7" lengthAdjust="spacingAndGlyphs">23:00</text>
<text x="898.3" y="2045.0" font-size="31.0" text-anchor="middle" fill="#111" textLength="77.7" lengthAdjust="spacingAndGlyphs">23:30</text>
<text x="1021.1" y="2045.0" font-size="31.0" text-anchor="middle" fill="#111" textLength="77.7" lengthAdjust="spacingAndGlyphs">24:00</text>
<text x="1143.9" y="2045.0" font-size="31.0" text-anchor="middle" fill="#111" textLength="77.7" lengthAdjust="spacingAndGlyphs">24:30</text>
<text x="602.2" y="2086.6" font-size="36.0" fill="#111" textLength="164.0" lengthAdjust="spacingAndGlyphs">Time (UT)</text>
<text x="91.8" y="1669.3" font-size="31.5" fill="#111" textLength="33.8" lengthAdjust="spacingAndGlyphs">10</text>
<text x="127.0" y="1659.2" font-size="22.0" fill="#111" textLength="11.6" lengthAdjust="spacingAndGlyphs">0</text>
<text x="77.7" y="1839.7" font-size="31.5" fill="#111" textLength="34.2" lengthAdjust="spacingAndGlyphs">10</text>
<text x="112.0" y="1822.2" font-size="22.0" fill="#111" textLength="23.3" lengthAdjust="spacingAndGlyphs">−1</text>
<text x="76.5" y="2010.6" font-size="31.5" fill="#111" textLength="33.8" lengthAdjust="spacingAndGlyphs">10</text>
<text x="110.5" y="1993.0" font-size="22.0" fill="#111" textLength="24.5" lengthAdjust="spacingAndGlyphs">−2</text>
<text x="1250.2" y="1670.0" font-size="31.5" fill="#111" textLength="30.8" lengthAdjust="spacingAndGlyphs">10</text>
<text x="1283.0" y="1653.5" font-size="22.0" fill="#111" textLength="12.5" lengthAdjust="spacingAndGlyphs">0</text>
<text x="1250.2" y="1839.7" font-size="31.5" fill="#111" textLength="30.8" lengthAdjust="spacingAndGlyphs">10</text>
<text x="1283.0" y="1822.0" font-size="22.0" fill="#111" textLength="23.8" lengthAdjust="spacingAndGlyphs">−1</text>
<text x="1250.2" y="2010.0" font-size="31.5" fill="#111" textLength="30.8" lengthAdjust="spacingAndGlyphs">10</text>
<text x="1284.0" y="1993.0" font-size="22.0" fill="#111" textLength="26.0" lengthAdjust="spacingAndGlyphs">−2</text>
<text x="62.5" y="1821.7" font-size="36.0" text-anchor="middle" fill="#111" textLength="248.0" lengthAdjust="spacingAndGlyphs" transform="rotate(-90.0 62.5 1821.7)">Frequency (Hz)</text>
<g transform="translate(1359 1853) rotate(-90)"><text x="0" y="0" text-anchor="middle" font-size="32" fill="#111" textLength="222" lengthAdjust="spacingAndGlyphs">(nT/Hz<tspan dy="-13" font-size="24">1/2</tspan><tspan dy="13">)</tspan></text></g>
<text x="290.7" y="1640.0" font-size="35.0" fill="#111" textLength="96.0" lengthAdjust="spacingAndGlyphs">FCHU</text>
<text x="413.2" y="1640.0" font-size="35.0" fill="#111" textLength="195.4" lengthAdjust="spacingAndGlyphs">2014/08/11</text>
<text x="635.6" y="1640.0" font-size="35.0" fill="#111" textLength="34.7" lengthAdjust="spacingAndGlyphs">(H</text>
<text x="675.0" y="1621.5" font-size="23.0" fill="#111" textLength="12.0" lengthAdjust="spacingAndGlyphs">2</text>
<text x="702.0" y="1640.0" font-size="35.0" fill="#111" textLength="18.5" lengthAdjust="spacingAndGlyphs">+</text>
<text x="735.0" y="1640.0" font-size="35.0" fill="#111" textLength="22.0" lengthAdjust="spacingAndGlyphs">D</text>
<text x="761.0" y="1621.5" font-size="23.0" fill="#111" textLength="13.0" lengthAdjust="spacingAndGlyphs">2</text>
<text x="776.0" y="1640.0" font-size="35.0" fill="#111" textLength="10.4" lengthAdjust="spacingAndGlyphs">)</text>
<text x="793.3" y="1621.5" font-size="23.0" fill="#111" textLength="41.7" lengthAdjust="spacingAndGlyphs">1/2</text>
<text x="875.0" y="1640.0" font-size="35.0" fill="#111" textLength="201.3" lengthAdjust="spacingAndGlyphs">spectrogram</text>
<text x="42.7" y="1656.0" font-size="58.0" font-weight="bold" fill="#000" textLength="28.1" lengthAdjust="spacingAndGlyphs">e</text>
</svg>
</body></html>
